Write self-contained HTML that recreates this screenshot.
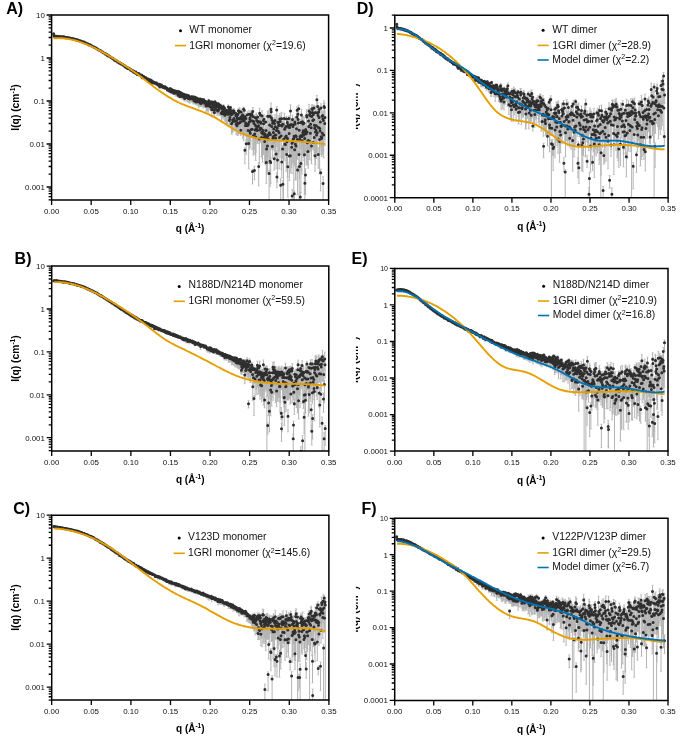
<!DOCTYPE html>
<html><head><meta charset="utf-8"><style>
html,body{margin:0;padding:0;background:#fff;}
svg{will-change:transform;display:block;font-family:"Liberation Sans", sans-serif;}
</style></head><body>
<svg width="685" height="743" viewBox="0 0 685 743">
<rect width="685" height="743" fill="#fff"/>
<defs>
<clipPath id="plotA"><rect x="51.6" y="15.0" width="277.0" height="185.0"/></clipPath>
<clipPath id="plotB"><rect x="51.7" y="266.1" width="277.1" height="184.89999999999998"/></clipPath>
<clipPath id="plotC"><rect x="51.7" y="515.2" width="277.2" height="184.79999999999995"/></clipPath>
<clipPath id="clipD"><rect x="355.9" y="15.2" width="20" height="182.5"/></clipPath>
<clipPath id="plotD"><rect x="394.8" y="15.2" width="273.3" height="182.5"/></clipPath>
<clipPath id="clipE"><rect x="355.9" y="268.4" width="20" height="182.70000000000005"/></clipPath>
<clipPath id="plotE"><rect x="394.8" y="268.4" width="273.2" height="182.70000000000005"/></clipPath>
<clipPath id="clipF"><rect x="355.9" y="518.3" width="20" height="182.10000000000002"/></clipPath>
<clipPath id="plotF"><rect x="394.7" y="518.3" width="273.3" height="182.10000000000002"/></clipPath>
</defs>
<g clip-path="url(#plotA)">
<path d="M162.3 85.7V88.7M165.0 86.2V89.4M171.0 90.5V94.0M172.1 89.4V93.5M173.4 91.0V94.7M173.7 90.3V93.8M174.2 91.5V94.6M175.6 92.4V96.1M176.4 92.0V96.1M177.8 91.9V96.0M178.0 94.5V97.7M180.5 92.2V97.1M181.3 93.0V97.5M181.6 95.5V99.1M182.4 93.8V96.8M182.7 94.0V97.5M183.2 96.5V99.6M183.7 93.5V97.5M184.0 96.1V100.4M184.3 93.7V97.0M184.6 95.1V99.1M184.8 97.9V101.1M186.7 95.1V98.8M187.0 96.6V101.1M187.3 96.0V101.2M187.5 94.7V99.2M187.8 95.6V101.0M188.4 97.9V102.5M188.6 94.7V98.0M189.4 96.1V100.0M189.7 97.9V103.2M190.0 98.3V102.0M191.3 96.0V101.5M191.9 97.1V102.2M192.2 95.8V100.9M192.4 97.7V101.1M192.7 97.4V101.6M193.0 96.8V102.1M193.2 97.6V103.9M193.5 96.9V102.1M194.1 95.9V99.8M194.3 99.2V102.6M194.6 98.5V103.8M194.9 100.6V104.0M195.2 97.5V102.6M195.4 96.6V102.4M195.7 96.8V100.7M196.0 97.4V100.6M196.2 101.4V104.7M196.8 99.8V103.1M197.1 100.7V105.4M197.3 97.5V103.4M197.6 98.6V103.6M197.9 99.4V104.0M198.1 98.7V103.6M198.4 100.7V104.7M198.7 101.0V107.7M199.0 101.0V106.2M199.2 98.7V102.5M199.8 98.4V104.4M200.0 97.8V103.7M200.3 102.2V106.2M200.9 99.5V105.8M201.1 102.3V105.9M201.4 101.2V106.4M201.7 99.0V105.8M201.9 98.4V102.6M202.2 98.6V106.1M202.8 101.0V105.0M203.0 98.6V103.2M203.3 101.7V108.1M203.6 100.4V103.9M203.8 98.8V106.3M204.1 101.5V106.4M204.9 100.6V107.2M205.2 100.4V103.6M205.7 100.6V105.5M206.0 104.7V107.8M206.3 103.7V111.6M206.6 101.7V105.4M206.8 103.3V110.5M207.1 104.8V110.8M207.4 105.0V110.1M207.7 104.1V108.0M207.9 102.7V108.4M208.2 104.2V112.9M208.5 101.5V105.2M208.7 99.4V104.8M209.0 102.6V109.8M209.3 100.4V105.7M209.6 102.6V106.2M209.8 105.2V108.9M210.1 103.6V107.1M210.4 105.5V109.0M210.6 101.7V106.6M210.9 106.1V111.0M211.2 100.5V106.9M211.7 108.0V116.8M212.0 102.6V106.5M212.3 101.5V107.2M212.5 106.0V112.5M212.8 102.5V106.5M213.1 108.4V112.3M213.4 103.5V106.7M213.6 107.9V113.6M213.9 103.9V107.2M214.2 108.9V114.8M214.4 111.0V116.5M214.7 104.0V110.7M215.0 101.1V107.0M215.3 106.9V113.5M215.8 105.1V112.2M216.1 106.5V112.0M216.3 103.7V111.0M216.6 102.2V111.4M216.9 109.3V112.4M217.2 104.4V113.5M217.4 105.2V115.4M217.7 109.4V114.0M218.0 103.3V109.9M218.2 102.6V106.8M218.5 108.9V113.9M218.8 103.0V110.0M219.1 106.9V112.1M219.3 106.8V115.3M219.6 104.3V110.1M219.9 106.6V114.9M220.2 106.4V114.4M220.4 104.2V107.6M220.7 104.9V115.5M221.0 105.4V115.4M221.2 111.6V115.8M221.5 112.1V121.2M221.8 105.2V116.3M222.1 110.2V116.3M222.3 107.8V117.3M222.6 111.5V116.0M222.9 108.4V116.1M223.1 111.7V119.2M223.4 104.6V111.7M223.7 112.3V116.9M224.0 108.7V116.7M224.2 109.4V113.8M224.5 106.5V112.2M224.8 114.2V121.3M225.0 110.0V117.0M225.3 109.7V119.8M225.6 108.8V120.3M225.9 108.8V117.1M226.1 111.5V124.0M226.4 109.7V122.0M226.7 111.5V123.4M226.9 109.5V117.1M227.2 110.2V115.5M227.5 112.7V124.0M227.8 111.1V120.5M228.0 110.3V117.1M228.3 104.9V112.3M228.6 112.3V117.8M228.8 109.9V115.4M229.1 107.4V114.7M229.4 119.1V123.9M229.7 118.2V126.0M229.9 116.1V124.5M230.2 112.8V123.6M230.5 106.1V111.6M230.7 111.2V124.6M231.0 109.4V117.9M231.3 113.6V121.4M231.6 122.5V132.7M231.8 121.7V134.4M232.1 108.9V117.1M232.4 111.3V123.7M232.6 118.7V132.3M232.9 109.4V118.4M233.2 120.2V124.1M233.5 109.3V121.6M233.7 108.5V114.3M234.0 116.5V131.1M234.3 118.6V128.3M234.6 110.8V118.5M234.8 119.3V123.7M235.1 110.5V124.1M235.4 118.6V125.6M235.6 112.0V129.6M235.9 112.6V123.0M236.2 122.6V134.1M236.5 118.0V127.7M236.7 112.3V129.8M237.0 123.6V135.2M237.3 115.0V128.7M237.5 116.3V125.3M237.8 112.6V123.7M238.1 120.6V135.2M238.4 108.8V119.2M238.6 117.2V133.5M238.9 120.2V133.6M239.2 110.5V121.0M239.4 107.7V116.2M239.7 116.9V127.9M240.0 120.5V130.2M240.3 114.6V124.2M240.5 118.4V134.0M240.8 128.0V135.6M241.1 109.1V123.4M241.3 113.0V123.4M241.6 115.7V126.9M241.9 115.0V124.1M242.2 117.3V133.3M242.4 112.0V124.8M242.7 111.9V133.5M243.0 119.3V138.8M243.2 115.2V137.4M243.5 107.0V124.2M243.8 114.5V140.8M244.1 117.4V133.3M244.3 107.3V132.3M244.6 116.4V134.7M244.9 147.7V163.9M245.1 113.1V131.5M245.4 123.4V131.0M245.7 119.0V135.6M246.0 115.8V136.2M246.2 140.0V154.3M246.5 121.8V139.7M246.8 120.9V134.0M247.1 121.2V129.2M247.3 111.6V125.2M247.6 122.5V130.4M247.9 121.1V142.6M248.1 127.4V142.0M248.4 120.3V145.4M248.7 141.0V168.9M249.0 110.3V128.2M249.2 119.0V132.9M249.5 126.7V149.1M249.8 114.4V133.3M250.0 115.7V137.0M250.3 128.6V147.8M250.6 116.6V141.2M250.9 111.2V121.4M251.1 111.7V128.9M251.4 124.9V136.4M251.7 110.2V122.0M251.9 118.2V132.8M252.2 125.2V149.9M252.5 169.3V184.0M252.8 107.4V121.6M253.0 114.0V125.2M253.3 132.9V155.3M253.6 119.6V130.2M253.8 120.0V153.5M254.1 119.6V135.3M254.4 166.2V179.8M254.7 130.5V149.0M254.9 114.6V123.3M255.2 127.7V154.4M255.5 122.2V143.6M255.7 132.4V160.5M256.0 123.2V152.2M256.3 113.0V134.2M256.6 118.1V141.4M256.8 125.8V137.7M257.1 127.3V141.5M257.4 122.7V143.7M257.6 114.9V130.9M257.9 119.8V132.3M258.2 116.5V137.4M258.5 120.0V136.1M258.7 162.6V185.9M259.0 116.7V143.4M259.3 134.3V163.9M259.6 108.2V123.4M259.8 126.4V138.6M260.1 122.6V142.8M260.4 112.3V128.8M260.6 118.8V132.3M260.9 118.5V141.5M261.2 125.5V134.9M261.5 132.0V156.5M261.7 127.4V156.9M262.0 110.6V136.2M262.3 126.1V158.5M262.5 128.5V162.1M262.8 131.0V143.0M263.1 126.9V153.1M263.4 118.2V154.8M263.6 120.0V143.2M263.9 114.4V134.5M264.2 132.4V150.8M264.4 128.4V145.0M264.7 138.2V163.8M265.0 129.2V148.6M265.3 129.7V152.7M265.5 134.5V164.7M265.8 115.8V143.6M266.1 125.4V161.0M266.3 157.2V183.4M266.6 144.0V174.2M266.9 134.0V146.5M267.2 131.8V168.2M267.4 140.5V172.6M267.7 111.0V136.3M268.0 132.4V163.3M268.2 134.5V156.9M268.5 128.9V143.3M268.8 110.3V132.1M269.1 170.0V200.0M269.3 127.8V160.9M269.6 122.3V139.5M269.9 112.9V137.6M270.1 157.1V186.4M270.4 132.0V163.9M270.7 158.5V183.5M271.0 103.0V137.8M271.2 108.0V144.6M271.5 115.0V136.0M271.8 123.5V149.3M272.1 115.4V135.9M272.3 142.2V158.3M272.6 117.9V138.0M272.9 134.6V149.8M273.1 132.0V149.8M273.4 128.2V144.8M273.7 125.1V145.8M274.0 118.7V136.3M274.2 155.0V170.3M274.5 117.7V143.2M274.8 131.1V151.6M275.0 114.6V154.2M275.3 124.2V139.7M275.6 132.5V151.7M275.9 128.9V158.4M276.1 150.4V168.7M276.4 126.4V139.8M276.7 106.4V146.7M276.9 172.6V187.7M277.2 121.2V139.9M277.5 154.2V181.9M277.8 119.3V156.7M278.0 115.6V140.6M278.3 125.7V153.7M278.6 119.3V136.0M278.8 118.3V141.0M279.1 126.1V168.9M279.4 131.6V151.1M279.7 121.5V134.0M279.9 113.3V139.6M280.2 116.0V140.6M280.7 178.7V200.0M281.0 133.5V157.4M281.3 131.2V169.4M281.6 112.3V134.0M281.8 157.0V177.5M282.1 121.8V135.3M282.4 121.6V132.6M282.6 145.5V158.5M282.9 180.5V200.0M283.2 117.3V139.5M283.5 134.2V200.0M284.0 132.5V150.5M284.3 113.2V149.7M284.6 125.4V149.7M284.8 138.8V160.6M285.1 125.5V136.8M285.4 139.5V154.5M285.6 132.1V147.3M285.9 123.8V136.8M286.2 130.6V171.3M286.5 116.3V130.2M286.7 151.1V164.0M287.0 135.9V167.3M287.3 118.3V137.2M287.5 132.7V176.8M287.8 161.9V197.2M288.1 120.4V149.3M288.4 121.0V141.4M288.6 124.7V138.4M288.9 115.9V141.1M289.2 126.7V152.3M289.4 150.4V180.5M289.7 124.3V149.6M290.0 119.3V140.1M290.3 149.2V172.8M290.5 104.8V129.8M291.1 119.9V156.7M291.3 119.3V136.5M291.6 143.9V167.4M291.9 138.8V173.6M292.2 189.6V200.0M292.4 115.2V148.1M292.7 138.2V162.0M293.0 121.6V136.5M293.2 132.9V164.0M293.5 118.3V132.3M293.8 131.5V200.0M294.1 129.3V150.6M294.3 190.8V200.0M294.6 145.2V165.8M294.9 117.0V142.8M295.1 118.5V135.0M295.4 141.2V180.2M295.7 131.6V147.4M296.0 141.9V179.4M296.2 131.2V168.3M296.5 124.6V163.8M296.8 113.0V129.1M297.1 106.9V136.1M297.3 133.9V159.4M297.6 166.1V195.0M297.9 110.9V139.0M298.1 112.9V155.6M298.4 118.7V142.0M298.7 105.0V123.3M299.0 151.5V172.4M299.2 125.4V200.0M299.5 162.5V177.9M299.8 134.1V148.2M300.0 132.7V152.4M300.3 192.4V200.0M300.6 119.5V136.0M300.9 160.8V192.6M301.1 128.9V170.6M301.4 109.3V133.5M301.7 131.6V148.3M301.9 133.0V174.1M302.2 135.3V154.6M302.5 116.5V145.7M302.8 127.3V143.5M303.0 117.0V137.1M303.3 126.6V157.1M303.6 127.3V153.3M303.8 130.8V145.2M304.1 116.4V160.4M304.4 147.9V194.3M304.7 134.1V165.0M304.9 178.5V200.0M305.2 125.6V151.2M305.5 168.6V194.3M305.7 126.5V137.4M306.0 126.4V153.3M306.3 130.8V163.8M306.6 109.3V137.1M306.8 113.4V140.2M307.1 127.9V165.4M307.4 138.8V156.4M307.6 135.5V152.6M307.9 147.5V164.8M308.2 136.1V168.2M308.5 114.5V134.2M308.7 121.9V150.5M309.0 104.3V123.3M309.3 134.4V159.5M309.5 110.2V134.6M309.8 108.5V148.7M310.1 108.6V152.0M310.4 128.3V150.8M310.6 120.1V148.8M310.9 110.0V124.4M311.2 123.1V160.3M311.5 143.2V163.9M311.7 111.3V149.0M312.0 104.5V122.1M312.3 105.8V131.6M312.5 108.9V127.2M312.8 114.7V134.4M313.1 135.8V150.0M313.4 111.9V133.1M313.6 114.8V148.2M313.9 105.1V135.0M314.2 134.9V152.3M314.4 118.2V154.9M314.7 124.3V159.0M315.0 150.9V171.3M315.3 105.9V125.4M315.5 126.7V164.5M315.8 122.0V156.2M316.1 124.7V158.1M316.3 119.7V158.6M316.6 129.7V150.3M316.9 95.4V120.4M317.2 126.8V152.1M317.4 108.9V127.9M317.7 102.3V122.2M318.0 111.7V139.5M318.2 147.7V168.2M318.5 124.6V141.1M318.8 109.3V136.2M319.1 113.6V132.5M319.3 106.2V126.8M319.6 135.5V174.0M319.9 121.7V154.3M320.1 124.2V147.0M320.4 118.6V133.6M320.7 169.0V191.0M321.0 103.7V138.1M321.2 130.0V150.6M321.5 134.9V154.1M321.8 131.8V156.5M322.0 110.9V130.5M322.3 126.8V154.8M322.6 111.6V142.6M322.9 112.4V151.9M323.1 176.5V200.0M323.4 116.1V149.3M323.7 128.3V157.9M324.0 100.7V122.9M324.2 103.2V132.3M324.5 103.1V126.2M324.8 119.9V139.4M325.0 110.8V145.7" stroke="#b4b4b4" stroke-width="1.0" fill="none"/>
<path d="M161.2 85.7h2.2M161.2 88.7h2.2M163.9 86.2h2.2M163.9 89.4h2.2M169.9 90.5h2.2M169.9 94.0h2.2M171.0 89.4h2.2M171.0 93.5h2.2M172.3 91.0h2.2M172.3 94.7h2.2M172.6 90.3h2.2M172.6 93.8h2.2M173.1 91.5h2.2M173.1 94.6h2.2M174.5 92.4h2.2M174.5 96.1h2.2M175.3 92.0h2.2M175.3 96.1h2.2M176.7 91.9h2.2M176.7 96.0h2.2M176.9 94.5h2.2M176.9 97.7h2.2M179.4 92.2h2.2M179.4 97.1h2.2M180.2 93.0h2.2M180.2 97.5h2.2M180.5 95.5h2.2M180.5 99.1h2.2M181.3 93.8h2.2M181.3 96.8h2.2M181.6 94.0h2.2M181.6 97.5h2.2M182.1 96.5h2.2M182.1 99.6h2.2M182.6 93.5h2.2M182.6 97.5h2.2M182.9 96.1h2.2M182.9 100.4h2.2M183.2 93.7h2.2M183.2 97.0h2.2M183.5 95.1h2.2M183.5 99.1h2.2M183.7 97.9h2.2M183.7 101.1h2.2M185.6 95.1h2.2M185.6 98.8h2.2M185.9 96.6h2.2M185.9 101.1h2.2M186.2 96.0h2.2M186.2 101.2h2.2M186.4 94.7h2.2M186.4 99.2h2.2M186.7 95.6h2.2M186.7 101.0h2.2M187.3 97.9h2.2M187.3 102.5h2.2M187.5 94.7h2.2M187.5 98.0h2.2M188.3 96.1h2.2M188.3 100.0h2.2M188.6 97.9h2.2M188.6 103.2h2.2M188.9 98.3h2.2M188.9 102.0h2.2M190.2 96.0h2.2M190.2 101.5h2.2M190.8 97.1h2.2M190.8 102.2h2.2M191.1 95.8h2.2M191.1 100.9h2.2M191.3 97.7h2.2M191.3 101.1h2.2M191.6 97.4h2.2M191.6 101.6h2.2M191.9 96.8h2.2M191.9 102.1h2.2M192.1 97.6h2.2M192.1 103.9h2.2M192.4 96.9h2.2M192.4 102.1h2.2M193.0 95.9h2.2M193.0 99.8h2.2M193.2 99.2h2.2M193.2 102.6h2.2M193.5 98.5h2.2M193.5 103.8h2.2M193.8 100.6h2.2M193.8 104.0h2.2M194.1 97.5h2.2M194.1 102.6h2.2M194.3 96.6h2.2M194.3 102.4h2.2M194.6 96.8h2.2M194.6 100.7h2.2M194.9 97.4h2.2M194.9 100.6h2.2M195.1 101.4h2.2M195.1 104.7h2.2M195.7 99.8h2.2M195.7 103.1h2.2M196.0 100.7h2.2M196.0 105.4h2.2M196.2 97.5h2.2M196.2 103.4h2.2M196.5 98.6h2.2M196.5 103.6h2.2M196.8 99.4h2.2M196.8 104.0h2.2M197.0 98.7h2.2M197.0 103.6h2.2M197.3 100.7h2.2M197.3 104.7h2.2M197.6 101.0h2.2M197.6 107.7h2.2M197.9 101.0h2.2M197.9 106.2h2.2M198.1 98.7h2.2M198.1 102.5h2.2M198.7 98.4h2.2M198.7 104.4h2.2M198.9 97.8h2.2M198.9 103.7h2.2M199.2 102.2h2.2M199.2 106.2h2.2M199.8 99.5h2.2M199.8 105.8h2.2M200.0 102.3h2.2M200.0 105.9h2.2M200.3 101.2h2.2M200.3 106.4h2.2M200.6 99.0h2.2M200.6 105.8h2.2M200.8 98.4h2.2M200.8 102.6h2.2M201.1 98.6h2.2M201.1 106.1h2.2M201.7 101.0h2.2M201.7 105.0h2.2M201.9 98.6h2.2M201.9 103.2h2.2M202.2 101.7h2.2M202.2 108.1h2.2M202.5 100.4h2.2M202.5 103.9h2.2M202.7 98.8h2.2M202.7 106.3h2.2M203.0 101.5h2.2M203.0 106.4h2.2M203.8 100.6h2.2M203.8 107.2h2.2M204.1 100.4h2.2M204.1 103.6h2.2M204.6 100.6h2.2M204.6 105.5h2.2M204.9 104.7h2.2M204.9 107.8h2.2M205.2 103.7h2.2M205.2 111.6h2.2M205.5 101.7h2.2M205.5 105.4h2.2M205.7 103.3h2.2M205.7 110.5h2.2M206.0 104.8h2.2M206.0 110.8h2.2M206.3 105.0h2.2M206.3 110.1h2.2M206.6 104.1h2.2M206.6 108.0h2.2M206.8 102.7h2.2M206.8 108.4h2.2M207.1 104.2h2.2M207.1 112.9h2.2M207.4 101.5h2.2M207.4 105.2h2.2M207.6 99.4h2.2M207.6 104.8h2.2M207.9 102.6h2.2M207.9 109.8h2.2M208.2 100.4h2.2M208.2 105.7h2.2M208.5 102.6h2.2M208.5 106.2h2.2M208.7 105.2h2.2M208.7 108.9h2.2M209.0 103.6h2.2M209.0 107.1h2.2M209.3 105.5h2.2M209.3 109.0h2.2M209.5 101.7h2.2M209.5 106.6h2.2M209.8 106.1h2.2M209.8 111.0h2.2M210.1 100.5h2.2M210.1 106.9h2.2M210.6 108.0h2.2M210.6 116.8h2.2M210.9 102.6h2.2M210.9 106.5h2.2M211.2 101.5h2.2M211.2 107.2h2.2M211.4 106.0h2.2M211.4 112.5h2.2M211.7 102.5h2.2M211.7 106.5h2.2M212.0 108.4h2.2M212.0 112.3h2.2M212.3 103.5h2.2M212.3 106.7h2.2M212.5 107.9h2.2M212.5 113.6h2.2M212.8 103.9h2.2M212.8 107.2h2.2M213.1 108.9h2.2M213.1 114.8h2.2M213.3 111.0h2.2M213.3 116.5h2.2M213.6 104.0h2.2M213.6 110.7h2.2M213.9 101.1h2.2M213.9 107.0h2.2M214.2 106.9h2.2M214.2 113.5h2.2M214.7 105.1h2.2M214.7 112.2h2.2M215.0 106.5h2.2M215.0 112.0h2.2M215.2 103.7h2.2M215.2 111.0h2.2M215.5 102.2h2.2M215.5 111.4h2.2M215.8 109.3h2.2M215.8 112.4h2.2M216.1 104.4h2.2M216.1 113.5h2.2M216.3 105.2h2.2M216.3 115.4h2.2M216.6 109.4h2.2M216.6 114.0h2.2M216.9 103.3h2.2M216.9 109.9h2.2M217.1 102.6h2.2M217.1 106.8h2.2M217.4 108.9h2.2M217.4 113.9h2.2M217.7 103.0h2.2M217.7 110.0h2.2M218.0 106.9h2.2M218.0 112.1h2.2M218.2 106.8h2.2M218.2 115.3h2.2M218.5 104.3h2.2M218.5 110.1h2.2M218.8 106.6h2.2M218.8 114.9h2.2M219.1 106.4h2.2M219.1 114.4h2.2M219.3 104.2h2.2M219.3 107.6h2.2M219.6 104.9h2.2M219.6 115.5h2.2M219.9 105.4h2.2M219.9 115.4h2.2M220.1 111.6h2.2M220.1 115.8h2.2M220.4 112.1h2.2M220.4 121.2h2.2M220.7 105.2h2.2M220.7 116.3h2.2M221.0 110.2h2.2M221.0 116.3h2.2M221.2 107.8h2.2M221.2 117.3h2.2M221.5 111.5h2.2M221.5 116.0h2.2M221.8 108.4h2.2M221.8 116.1h2.2M222.0 111.7h2.2M222.0 119.2h2.2M222.3 104.6h2.2M222.3 111.7h2.2M222.6 112.3h2.2M222.6 116.9h2.2M222.9 108.7h2.2M222.9 116.7h2.2M223.1 109.4h2.2M223.1 113.8h2.2M223.4 106.5h2.2M223.4 112.2h2.2M223.7 114.2h2.2M223.7 121.3h2.2M223.9 110.0h2.2M223.9 117.0h2.2M224.2 109.7h2.2M224.2 119.8h2.2M224.5 108.8h2.2M224.5 120.3h2.2M224.8 108.8h2.2M224.8 117.1h2.2M225.0 111.5h2.2M225.0 124.0h2.2M225.3 109.7h2.2M225.3 122.0h2.2M225.6 111.5h2.2M225.6 123.4h2.2M225.8 109.5h2.2M225.8 117.1h2.2M226.1 110.2h2.2M226.1 115.5h2.2M226.4 112.7h2.2M226.4 124.0h2.2M226.7 111.1h2.2M226.7 120.5h2.2M226.9 110.3h2.2M226.9 117.1h2.2M227.2 104.9h2.2M227.2 112.3h2.2M227.5 112.3h2.2M227.5 117.8h2.2M227.7 109.9h2.2M227.7 115.4h2.2M228.0 107.4h2.2M228.0 114.7h2.2M228.3 119.1h2.2M228.3 123.9h2.2M228.6 118.2h2.2M228.6 126.0h2.2M228.8 116.1h2.2M228.8 124.5h2.2M229.1 112.8h2.2M229.1 123.6h2.2M229.4 106.1h2.2M229.4 111.6h2.2M229.6 111.2h2.2M229.6 124.6h2.2M229.9 109.4h2.2M229.9 117.9h2.2M230.2 113.6h2.2M230.2 121.4h2.2M230.5 122.5h2.2M230.5 132.7h2.2M230.7 121.7h2.2M230.7 134.4h2.2M231.0 108.9h2.2M231.0 117.1h2.2M231.3 111.3h2.2M231.3 123.7h2.2M231.5 118.7h2.2M231.5 132.3h2.2M231.8 109.4h2.2M231.8 118.4h2.2M232.1 120.2h2.2M232.1 124.1h2.2M232.4 109.3h2.2M232.4 121.6h2.2M232.6 108.5h2.2M232.6 114.3h2.2M232.9 116.5h2.2M232.9 131.1h2.2M233.2 118.6h2.2M233.2 128.3h2.2M233.5 110.8h2.2M233.5 118.5h2.2M233.7 119.3h2.2M233.7 123.7h2.2M234.0 110.5h2.2M234.0 124.1h2.2M234.3 118.6h2.2M234.3 125.6h2.2M234.5 112.0h2.2M234.5 129.6h2.2M234.8 112.6h2.2M234.8 123.0h2.2M235.1 122.6h2.2M235.1 134.1h2.2M235.4 118.0h2.2M235.4 127.7h2.2M235.6 112.3h2.2M235.6 129.8h2.2M235.9 123.6h2.2M235.9 135.2h2.2M236.2 115.0h2.2M236.2 128.7h2.2M236.4 116.3h2.2M236.4 125.3h2.2M236.7 112.6h2.2M236.7 123.7h2.2M237.0 120.6h2.2M237.0 135.2h2.2M237.3 108.8h2.2M237.3 119.2h2.2M237.5 117.2h2.2M237.5 133.5h2.2M237.8 120.2h2.2M237.8 133.6h2.2M238.1 110.5h2.2M238.1 121.0h2.2M238.3 107.7h2.2M238.3 116.2h2.2M238.6 116.9h2.2M238.6 127.9h2.2M238.9 120.5h2.2M238.9 130.2h2.2M239.2 114.6h2.2M239.2 124.2h2.2M239.4 118.4h2.2M239.4 134.0h2.2M239.7 128.0h2.2M239.7 135.6h2.2M240.0 109.1h2.2M240.0 123.4h2.2M240.2 113.0h2.2M240.2 123.4h2.2M240.5 115.7h2.2M240.5 126.9h2.2M240.8 115.0h2.2M240.8 124.1h2.2M241.1 117.3h2.2M241.1 133.3h2.2M241.3 112.0h2.2M241.3 124.8h2.2M241.6 111.9h2.2M241.6 133.5h2.2M241.9 119.3h2.2M241.9 138.8h2.2M242.1 115.2h2.2M242.1 137.4h2.2M242.4 107.0h2.2M242.4 124.2h2.2M242.7 114.5h2.2M242.7 140.8h2.2M243.0 117.4h2.2M243.0 133.3h2.2M243.2 107.3h2.2M243.2 132.3h2.2M243.5 116.4h2.2M243.5 134.7h2.2M243.8 147.7h2.2M243.8 163.9h2.2M244.0 113.1h2.2M244.0 131.5h2.2M244.3 123.4h2.2M244.3 131.0h2.2M244.6 119.0h2.2M244.6 135.6h2.2M244.9 115.8h2.2M244.9 136.2h2.2M245.1 140.0h2.2M245.1 154.3h2.2M245.4 121.8h2.2M245.4 139.7h2.2M245.7 120.9h2.2M245.7 134.0h2.2M246.0 121.2h2.2M246.0 129.2h2.2M246.2 111.6h2.2M246.2 125.2h2.2M246.5 122.5h2.2M246.5 130.4h2.2M246.8 121.1h2.2M246.8 142.6h2.2M247.0 127.4h2.2M247.0 142.0h2.2M247.3 120.3h2.2M247.3 145.4h2.2M247.6 141.0h2.2M247.6 168.9h2.2M247.9 110.3h2.2M247.9 128.2h2.2M248.1 119.0h2.2M248.1 132.9h2.2M248.4 126.7h2.2M248.4 149.1h2.2M248.7 114.4h2.2M248.7 133.3h2.2M248.9 115.7h2.2M248.9 137.0h2.2M249.2 128.6h2.2M249.2 147.8h2.2M249.5 116.6h2.2M249.5 141.2h2.2M249.8 111.2h2.2M249.8 121.4h2.2M250.0 111.7h2.2M250.0 128.9h2.2M250.3 124.9h2.2M250.3 136.4h2.2M250.6 110.2h2.2M250.6 122.0h2.2M250.8 118.2h2.2M250.8 132.8h2.2M251.1 125.2h2.2M251.1 149.9h2.2M251.4 169.3h2.2M251.4 184.0h2.2M251.7 107.4h2.2M251.7 121.6h2.2M251.9 114.0h2.2M251.9 125.2h2.2M252.2 132.9h2.2M252.2 155.3h2.2M252.5 119.6h2.2M252.5 130.2h2.2M252.7 120.0h2.2M252.7 153.5h2.2M253.0 119.6h2.2M253.0 135.3h2.2M253.3 166.2h2.2M253.3 179.8h2.2M253.6 130.5h2.2M253.6 149.0h2.2M253.8 114.6h2.2M253.8 123.3h2.2M254.1 127.7h2.2M254.1 154.4h2.2M254.4 122.2h2.2M254.4 143.6h2.2M254.6 132.4h2.2M254.6 160.5h2.2M254.9 123.2h2.2M254.9 152.2h2.2M255.2 113.0h2.2M255.2 134.2h2.2M255.5 118.1h2.2M255.5 141.4h2.2M255.7 125.8h2.2M255.7 137.7h2.2M256.0 127.3h2.2M256.0 141.5h2.2M256.3 122.7h2.2M256.3 143.7h2.2M256.5 114.9h2.2M256.5 130.9h2.2M256.8 119.8h2.2M256.8 132.3h2.2M257.1 116.5h2.2M257.1 137.4h2.2M257.4 120.0h2.2M257.4 136.1h2.2M257.6 162.6h2.2M257.6 185.9h2.2M257.9 116.7h2.2M257.9 143.4h2.2M258.2 134.3h2.2M258.2 163.9h2.2M258.5 108.2h2.2M258.5 123.4h2.2M258.7 126.4h2.2M258.7 138.6h2.2M259.0 122.6h2.2M259.0 142.8h2.2M259.3 112.3h2.2M259.3 128.8h2.2M259.5 118.8h2.2M259.5 132.3h2.2M259.8 118.5h2.2M259.8 141.5h2.2M260.1 125.5h2.2M260.1 134.9h2.2M260.4 132.0h2.2M260.4 156.5h2.2M260.6 127.4h2.2M260.6 156.9h2.2M260.9 110.6h2.2M260.9 136.2h2.2M261.2 126.1h2.2M261.2 158.5h2.2M261.4 128.5h2.2M261.4 162.1h2.2M261.7 131.0h2.2M261.7 143.0h2.2M262.0 126.9h2.2M262.0 153.1h2.2M262.3 118.2h2.2M262.3 154.8h2.2M262.5 120.0h2.2M262.5 143.2h2.2M262.8 114.4h2.2M262.8 134.5h2.2M263.1 132.4h2.2M263.1 150.8h2.2M263.3 128.4h2.2M263.3 145.0h2.2M263.6 138.2h2.2M263.6 163.8h2.2M263.9 129.2h2.2M263.9 148.6h2.2M264.2 129.7h2.2M264.2 152.7h2.2M264.4 134.5h2.2M264.4 164.7h2.2M264.7 115.8h2.2M264.7 143.6h2.2M265.0 125.4h2.2M265.0 161.0h2.2M265.2 157.2h2.2M265.2 183.4h2.2M265.5 144.0h2.2M265.5 174.2h2.2M265.8 134.0h2.2M265.8 146.5h2.2M266.1 131.8h2.2M266.1 168.2h2.2M266.3 140.5h2.2M266.3 172.6h2.2M266.6 111.0h2.2M266.6 136.3h2.2M266.9 132.4h2.2M266.9 163.3h2.2M267.1 134.5h2.2M267.1 156.9h2.2M267.4 128.9h2.2M267.4 143.3h2.2M267.7 110.3h2.2M267.7 132.1h2.2M268.0 170.0h2.2M268.2 127.8h2.2M268.2 160.9h2.2M268.5 122.3h2.2M268.5 139.5h2.2M268.8 112.9h2.2M268.8 137.6h2.2M269.0 157.1h2.2M269.0 186.4h2.2M269.3 132.0h2.2M269.3 163.9h2.2M269.6 158.5h2.2M269.6 183.5h2.2M269.9 103.0h2.2M269.9 137.8h2.2M270.1 108.0h2.2M270.1 144.6h2.2M270.4 115.0h2.2M270.4 136.0h2.2M270.7 123.5h2.2M270.7 149.3h2.2M271.0 115.4h2.2M271.0 135.9h2.2M271.2 142.2h2.2M271.2 158.3h2.2M271.5 117.9h2.2M271.5 138.0h2.2M271.8 134.6h2.2M271.8 149.8h2.2M272.0 132.0h2.2M272.0 149.8h2.2M272.3 128.2h2.2M272.3 144.8h2.2M272.6 125.1h2.2M272.6 145.8h2.2M272.9 118.7h2.2M272.9 136.3h2.2M273.1 155.0h2.2M273.1 170.3h2.2M273.4 117.7h2.2M273.4 143.2h2.2M273.7 131.1h2.2M273.7 151.6h2.2M273.9 114.6h2.2M273.9 154.2h2.2M274.2 124.2h2.2M274.2 139.7h2.2M274.5 132.5h2.2M274.5 151.7h2.2M274.8 128.9h2.2M274.8 158.4h2.2M275.0 150.4h2.2M275.0 168.7h2.2M275.3 126.4h2.2M275.3 139.8h2.2M275.6 106.4h2.2M275.6 146.7h2.2M275.8 172.6h2.2M275.8 187.7h2.2M276.1 121.2h2.2M276.1 139.9h2.2M276.4 154.2h2.2M276.4 181.9h2.2M276.7 119.3h2.2M276.7 156.7h2.2M276.9 115.6h2.2M276.9 140.6h2.2M277.2 125.7h2.2M277.2 153.7h2.2M277.5 119.3h2.2M277.5 136.0h2.2M277.7 118.3h2.2M277.7 141.0h2.2M278.0 126.1h2.2M278.0 168.9h2.2M278.3 131.6h2.2M278.3 151.1h2.2M278.6 121.5h2.2M278.6 134.0h2.2M278.8 113.3h2.2M278.8 139.6h2.2M279.1 116.0h2.2M279.1 140.6h2.2M279.6 178.7h2.2M279.9 133.5h2.2M279.9 157.4h2.2M280.2 131.2h2.2M280.2 169.4h2.2M280.5 112.3h2.2M280.5 134.0h2.2M280.7 157.0h2.2M280.7 177.5h2.2M281.0 121.8h2.2M281.0 135.3h2.2M281.3 121.6h2.2M281.3 132.6h2.2M281.5 145.5h2.2M281.5 158.5h2.2M281.8 180.5h2.2M282.1 117.3h2.2M282.1 139.5h2.2M282.4 134.2h2.2M282.9 132.5h2.2M282.9 150.5h2.2M283.2 113.2h2.2M283.2 149.7h2.2M283.5 125.4h2.2M283.5 149.7h2.2M283.7 138.8h2.2M283.7 160.6h2.2M284.0 125.5h2.2M284.0 136.8h2.2M284.3 139.5h2.2M284.3 154.5h2.2M284.5 132.1h2.2M284.5 147.3h2.2M284.8 123.8h2.2M284.8 136.8h2.2M285.1 130.6h2.2M285.1 171.3h2.2M285.4 116.3h2.2M285.4 130.2h2.2M285.6 151.1h2.2M285.6 164.0h2.2M285.9 135.9h2.2M285.9 167.3h2.2M286.2 118.3h2.2M286.2 137.2h2.2M286.4 132.7h2.2M286.4 176.8h2.2M286.7 161.9h2.2M286.7 197.2h2.2M287.0 120.4h2.2M287.0 149.3h2.2M287.3 121.0h2.2M287.3 141.4h2.2M287.5 124.7h2.2M287.5 138.4h2.2M287.8 115.9h2.2M287.8 141.1h2.2M288.1 126.7h2.2M288.1 152.3h2.2M288.3 150.4h2.2M288.3 180.5h2.2M288.6 124.3h2.2M288.6 149.6h2.2M288.9 119.3h2.2M288.9 140.1h2.2M289.2 149.2h2.2M289.2 172.8h2.2M289.4 104.8h2.2M289.4 129.8h2.2M290.0 119.9h2.2M290.0 156.7h2.2M290.2 119.3h2.2M290.2 136.5h2.2M290.5 143.9h2.2M290.5 167.4h2.2M290.8 138.8h2.2M290.8 173.6h2.2M291.1 189.6h2.2M291.3 115.2h2.2M291.3 148.1h2.2M291.6 138.2h2.2M291.6 162.0h2.2M291.9 121.6h2.2M291.9 136.5h2.2M292.1 132.9h2.2M292.1 164.0h2.2M292.4 118.3h2.2M292.4 132.3h2.2M292.7 131.5h2.2M293.0 129.3h2.2M293.0 150.6h2.2M293.2 190.8h2.2M293.5 145.2h2.2M293.5 165.8h2.2M293.8 117.0h2.2M293.8 142.8h2.2M294.0 118.5h2.2M294.0 135.0h2.2M294.3 141.2h2.2M294.3 180.2h2.2M294.6 131.6h2.2M294.6 147.4h2.2M294.9 141.9h2.2M294.9 179.4h2.2M295.1 131.2h2.2M295.1 168.3h2.2M295.4 124.6h2.2M295.4 163.8h2.2M295.7 113.0h2.2M295.7 129.1h2.2M296.0 106.9h2.2M296.0 136.1h2.2M296.2 133.9h2.2M296.2 159.4h2.2M296.5 166.1h2.2M296.5 195.0h2.2M296.8 110.9h2.2M296.8 139.0h2.2M297.0 112.9h2.2M297.0 155.6h2.2M297.3 118.7h2.2M297.3 142.0h2.2M297.6 105.0h2.2M297.6 123.3h2.2M297.9 151.5h2.2M297.9 172.4h2.2M298.1 125.4h2.2M298.4 162.5h2.2M298.4 177.9h2.2M298.7 134.1h2.2M298.7 148.2h2.2M298.9 132.7h2.2M298.9 152.4h2.2M299.2 192.4h2.2M299.5 119.5h2.2M299.5 136.0h2.2M299.8 160.8h2.2M299.8 192.6h2.2M300.0 128.9h2.2M300.0 170.6h2.2M300.3 109.3h2.2M300.3 133.5h2.2M300.6 131.6h2.2M300.6 148.3h2.2M300.8 133.0h2.2M300.8 174.1h2.2M301.1 135.3h2.2M301.1 154.6h2.2M301.4 116.5h2.2M301.4 145.7h2.2M301.7 127.3h2.2M301.7 143.5h2.2M301.9 117.0h2.2M301.9 137.1h2.2M302.2 126.6h2.2M302.2 157.1h2.2M302.5 127.3h2.2M302.5 153.3h2.2M302.7 130.8h2.2M302.7 145.2h2.2M303.0 116.4h2.2M303.0 160.4h2.2M303.3 147.9h2.2M303.3 194.3h2.2M303.6 134.1h2.2M303.6 165.0h2.2M303.8 178.5h2.2M304.1 125.6h2.2M304.1 151.2h2.2M304.4 168.6h2.2M304.4 194.3h2.2M304.6 126.5h2.2M304.6 137.4h2.2M304.9 126.4h2.2M304.9 153.3h2.2M305.2 130.8h2.2M305.2 163.8h2.2M305.5 109.3h2.2M305.5 137.1h2.2M305.7 113.4h2.2M305.7 140.2h2.2M306.0 127.9h2.2M306.0 165.4h2.2M306.3 138.8h2.2M306.3 156.4h2.2M306.5 135.5h2.2M306.5 152.6h2.2M306.8 147.5h2.2M306.8 164.8h2.2M307.1 136.1h2.2M307.1 168.2h2.2M307.4 114.5h2.2M307.4 134.2h2.2M307.6 121.9h2.2M307.6 150.5h2.2M307.9 104.3h2.2M307.9 123.3h2.2M308.2 134.4h2.2M308.2 159.5h2.2M308.4 110.2h2.2M308.4 134.6h2.2M308.7 108.5h2.2M308.7 148.7h2.2M309.0 108.6h2.2M309.0 152.0h2.2M309.3 128.3h2.2M309.3 150.8h2.2M309.5 120.1h2.2M309.5 148.8h2.2M309.8 110.0h2.2M309.8 124.4h2.2M310.1 123.1h2.2M310.1 160.3h2.2M310.4 143.2h2.2M310.4 163.9h2.2M310.6 111.3h2.2M310.6 149.0h2.2M310.9 104.5h2.2M310.9 122.1h2.2M311.2 105.8h2.2M311.2 131.6h2.2M311.4 108.9h2.2M311.4 127.2h2.2M311.7 114.7h2.2M311.7 134.4h2.2M312.0 135.8h2.2M312.0 150.0h2.2M312.3 111.9h2.2M312.3 133.1h2.2M312.5 114.8h2.2M312.5 148.2h2.2M312.8 105.1h2.2M312.8 135.0h2.2M313.1 134.9h2.2M313.1 152.3h2.2M313.3 118.2h2.2M313.3 154.9h2.2M313.6 124.3h2.2M313.6 159.0h2.2M313.9 150.9h2.2M313.9 171.3h2.2M314.2 105.9h2.2M314.2 125.4h2.2M314.4 126.7h2.2M314.4 164.5h2.2M314.7 122.0h2.2M314.7 156.2h2.2M315.0 124.7h2.2M315.0 158.1h2.2M315.2 119.7h2.2M315.2 158.6h2.2M315.5 129.7h2.2M315.5 150.3h2.2M315.8 95.4h2.2M315.8 120.4h2.2M316.1 126.8h2.2M316.1 152.1h2.2M316.3 108.9h2.2M316.3 127.9h2.2M316.6 102.3h2.2M316.6 122.2h2.2M316.9 111.7h2.2M316.9 139.5h2.2M317.1 147.7h2.2M317.1 168.2h2.2M317.4 124.6h2.2M317.4 141.1h2.2M317.7 109.3h2.2M317.7 136.2h2.2M318.0 113.6h2.2M318.0 132.5h2.2M318.2 106.2h2.2M318.2 126.8h2.2M318.5 135.5h2.2M318.5 174.0h2.2M318.8 121.7h2.2M318.8 154.3h2.2M319.0 124.2h2.2M319.0 147.0h2.2M319.3 118.6h2.2M319.3 133.6h2.2M319.6 169.0h2.2M319.6 191.0h2.2M319.9 103.7h2.2M319.9 138.1h2.2M320.1 130.0h2.2M320.1 150.6h2.2M320.4 134.9h2.2M320.4 154.1h2.2M320.7 131.8h2.2M320.7 156.5h2.2M320.9 110.9h2.2M320.9 130.5h2.2M321.2 126.8h2.2M321.2 154.8h2.2M321.5 111.6h2.2M321.5 142.6h2.2M321.8 112.4h2.2M321.8 151.9h2.2M322.0 176.5h2.2M322.3 116.1h2.2M322.3 149.3h2.2M322.6 128.3h2.2M322.6 157.9h2.2M322.9 100.7h2.2M322.9 122.9h2.2M323.1 103.2h2.2M323.1 132.3h2.2M323.4 103.1h2.2M323.4 126.2h2.2M323.7 119.9h2.2M323.7 139.4h2.2M323.9 110.8h2.2M323.9 145.7h2.2" stroke="#b4b4b4" stroke-width="0.6" fill="none"/>
<path d="M53.6 33.7h0M53.9 35.1h0M54.1 36.2h0M54.4 36.4h0M54.7 36.3h0M54.9 36.4h0M55.2 36.3h0M55.5 36.4h0M55.8 36.3h0M56.0 36.6h0M56.3 36.3h0M56.6 36.4h0M56.8 36.4h0M57.1 36.5h0M57.4 36.5h0M57.7 36.5h0M57.9 36.5h0M58.2 36.6h0M58.5 36.6h0M58.7 36.6h0M59.0 36.7h0M59.3 36.9h0M59.6 36.7h0M59.8 36.8h0M60.1 37.0h0M60.4 36.9h0M60.6 36.9h0M60.9 37.0h0M61.2 37.0h0M61.5 36.9h0M61.7 36.8h0M62.0 37.0h0M62.3 37.1h0M62.5 37.0h0M62.8 37.0h0M63.1 37.1h0M63.4 37.1h0M63.6 37.1h0M63.9 37.2h0M64.2 37.3h0M64.4 37.2h0M64.7 37.3h0M65.0 37.2h0M65.3 37.6h0M65.5 37.5h0M65.8 37.6h0M66.1 37.7h0M66.3 37.5h0M66.6 37.6h0M66.9 37.7h0M67.2 37.6h0M67.4 37.7h0M67.7 37.7h0M68.0 37.8h0M68.3 37.8h0M68.5 38.1h0M68.8 37.9h0M69.1 38.0h0M69.3 38.3h0M69.6 38.1h0M69.9 38.2h0M70.2 38.2h0M70.4 38.4h0M70.7 38.4h0M71.0 38.4h0M71.2 38.6h0M71.5 38.5h0M71.8 38.6h0M72.1 38.6h0M72.3 38.8h0M72.6 38.7h0M72.9 38.8h0M73.1 39.0h0M73.4 38.9h0M73.7 38.9h0M74.0 38.9h0M74.2 39.4h0M74.5 39.2h0M74.8 39.3h0M75.0 39.4h0M75.3 39.6h0M75.6 39.4h0M75.9 39.8h0M76.1 39.6h0M76.4 39.6h0M76.7 40.1h0M76.9 40.0h0M77.2 40.2h0M77.5 40.1h0M77.8 40.0h0M78.0 40.0h0M78.3 40.6h0M78.6 40.5h0M78.8 40.4h0M79.1 40.4h0M79.4 40.7h0M79.7 40.9h0M79.9 40.8h0M80.2 41.0h0M80.5 41.1h0M80.8 41.3h0M81.0 41.2h0M81.3 41.3h0M81.6 41.5h0M81.8 41.6h0M82.1 41.8h0M82.4 41.8h0M82.7 41.7h0M82.9 42.0h0M83.2 42.3h0M83.5 42.0h0M83.7 42.2h0M84.0 42.1h0M84.3 42.5h0M84.6 42.7h0M84.8 42.9h0M85.1 42.7h0M85.4 42.7h0M85.6 43.2h0M85.9 43.3h0M86.2 43.2h0M86.5 43.5h0M86.7 43.6h0M87.0 43.7h0M87.3 43.7h0M87.5 43.7h0M87.8 44.0h0M88.1 44.0h0M88.4 44.3h0M88.6 44.3h0M88.9 44.9h0M89.2 44.9h0M89.4 44.7h0M89.7 45.0h0M90.0 45.0h0M90.3 45.1h0M90.5 45.1h0M90.8 45.3h0M91.1 45.4h0M91.3 45.7h0M91.6 46.0h0M91.9 46.1h0M92.2 46.2h0M92.4 46.5h0M92.7 46.5h0M93.0 46.6h0M93.3 46.7h0M93.5 46.9h0M93.8 47.3h0M94.1 47.1h0M94.3 47.2h0M94.6 47.3h0M94.9 47.5h0M95.2 47.8h0M95.4 48.0h0M95.7 47.7h0M96.0 48.1h0M96.2 48.1h0M96.5 48.2h0M96.8 48.8h0M97.1 48.7h0M97.3 48.9h0M97.6 49.0h0M97.9 49.2h0M98.1 49.4h0M98.4 49.5h0M98.7 50.0h0M99.0 49.9h0M99.2 50.2h0M99.5 50.2h0M99.8 50.5h0M100.0 50.4h0M100.3 50.6h0M100.6 50.8h0M100.9 51.0h0M101.1 51.2h0M101.4 51.4h0M101.7 51.5h0M101.9 51.8h0M102.2 51.8h0M102.5 52.0h0M102.8 52.1h0M103.0 52.6h0M103.3 52.4h0M103.6 52.8h0M103.8 53.0h0M104.1 53.1h0M104.4 53.3h0M104.7 53.3h0M104.9 53.6h0M105.2 53.9h0M105.5 54.0h0M105.8 53.8h0M106.0 54.2h0M106.3 54.6h0M106.6 54.5h0M106.8 55.1h0M107.1 54.6h0M107.4 55.4h0M107.7 55.2h0M107.9 55.3h0M108.2 55.9h0M108.5 55.7h0M108.7 55.8h0M109.0 56.0h0M109.3 56.2h0M109.6 56.3h0M109.8 56.6h0M110.1 56.7h0M110.4 57.0h0M110.6 57.0h0M110.9 57.6h0M111.2 57.4h0M111.5 57.8h0M111.7 58.1h0M112.0 58.0h0M112.3 57.9h0M112.5 58.2h0M112.8 58.7h0M113.1 58.6h0M113.4 59.0h0M113.6 59.1h0M113.9 59.2h0M114.2 60.0h0M114.4 59.6h0M114.7 60.1h0M115.0 60.1h0M115.3 60.5h0M115.5 60.7h0M115.8 60.7h0M116.1 60.5h0M116.3 60.5h0M116.6 61.0h0M116.9 61.0h0M117.2 61.4h0M117.4 62.1h0M117.7 61.7h0M118.0 61.8h0M118.3 62.2h0M118.5 62.2h0M118.8 62.3h0M119.1 62.8h0M119.3 63.2h0M119.6 63.0h0M119.9 63.2h0M120.2 63.4h0M120.4 63.2h0M120.7 63.2h0M121.0 63.9h0M121.2 63.8h0M121.5 63.9h0M121.8 64.1h0M122.1 64.2h0M122.3 64.8h0M122.6 64.6h0M122.9 64.5h0M123.1 65.0h0M123.4 65.5h0M123.7 65.3h0M124.0 65.4h0M124.2 65.7h0M124.5 66.2h0M124.8 65.8h0M125.0 66.7h0M125.3 66.4h0M125.6 66.7h0M125.9 67.2h0M126.1 66.7h0M126.4 67.1h0M126.7 67.7h0M126.9 67.3h0M127.2 67.8h0M127.5 68.5h0M127.8 68.2h0M128.0 68.1h0M128.3 68.1h0M128.6 68.4h0M128.8 68.6h0M129.1 68.7h0M129.4 69.0h0M129.7 68.8h0M129.9 69.2h0M130.2 69.4h0M130.5 69.5h0M130.8 70.2h0M131.0 70.2h0M131.3 69.7h0M131.6 70.2h0M131.8 70.5h0M132.1 70.5h0M132.4 70.9h0M132.7 70.8h0M132.9 71.3h0M133.2 71.1h0M133.5 72.0h0M133.7 71.1h0M134.0 71.9h0M134.3 72.5h0M134.6 72.1h0M134.8 72.3h0M135.1 72.3h0M135.4 73.0h0M135.6 72.5h0M135.9 72.1h0M136.2 73.5h0M136.5 73.0h0M136.7 73.4h0M137.0 73.3h0M137.3 74.4h0M137.5 74.2h0M137.8 73.7h0M138.1 74.0h0M138.4 73.6h0M138.6 74.6h0M138.9 74.4h0M139.2 73.8h0M139.4 75.1h0M139.7 75.3h0M140.0 75.1h0M140.3 75.2h0M140.5 75.1h0M140.8 75.5h0M141.1 76.0h0M141.3 75.7h0M141.6 75.1h0M141.9 75.7h0M142.2 77.7h0M142.4 76.5h0M142.7 77.0h0M143.0 76.5h0M143.3 76.9h0M143.5 76.3h0M143.8 76.8h0M144.1 77.0h0M144.3 77.4h0M144.6 77.6h0M144.9 77.6h0M145.2 77.4h0M145.4 77.8h0M145.7 78.4h0M146.0 77.8h0M146.2 78.4h0M146.5 78.6h0M146.8 79.2h0M147.1 79.2h0M147.3 79.4h0M147.6 80.7h0M147.9 78.9h0M148.1 79.2h0M148.4 79.7h0M148.7 79.3h0M149.0 79.7h0M149.2 79.9h0M149.5 81.6h0M149.8 80.4h0M150.0 80.2h0M150.3 79.9h0M150.6 79.9h0M150.9 80.2h0M151.1 81.7h0M151.4 82.5h0M151.7 81.0h0M151.9 81.4h0M152.2 81.1h0M152.5 81.8h0M152.8 81.7h0M153.0 82.9h0M153.3 81.9h0M153.6 82.5h0M153.8 82.2h0M154.1 82.3h0M154.4 82.7h0M154.7 82.6h0M154.9 82.9h0M155.2 82.7h0M155.5 82.9h0M155.7 83.7h0M156.0 83.8h0M156.3 82.7h0M156.6 83.8h0M156.8 83.3h0M157.1 83.8h0M157.4 84.5h0M157.7 84.7h0M157.9 84.3h0M158.2 84.3h0M158.5 84.3h0M158.7 85.6h0M159.0 85.3h0M159.3 85.1h0M159.6 84.3h0M159.8 87.0h0M160.1 85.1h0M160.4 85.9h0M160.6 85.4h0M160.9 86.1h0M161.2 85.7h0M161.5 85.1h0M161.7 85.9h0M162.0 86.0h0M162.3 86.2h0M162.5 87.1h0M162.8 86.3h0M163.1 86.9h0M163.4 87.5h0M163.6 87.0h0M163.9 87.3h0M164.2 86.8h0M164.4 87.4h0M164.7 87.9h0M165.0 86.7h0M165.3 87.1h0M165.5 87.1h0M165.8 87.6h0M166.1 88.2h0M166.3 88.6h0M166.6 88.6h0M166.9 87.9h0M167.2 88.5h0M167.4 90.0h0M167.7 88.8h0M168.0 90.2h0M168.2 88.9h0M168.5 90.2h0M168.8 90.4h0M169.1 89.3h0M169.3 89.6h0M169.6 91.2h0M169.9 89.2h0M170.2 88.4h0M170.4 91.4h0M170.7 88.8h0M171.0 90.9h0M171.2 90.8h0M171.5 90.6h0M171.8 92.0h0M172.1 89.7h0M172.3 90.4h0M172.6 91.6h0M172.9 91.3h0M173.1 92.6h0M173.4 91.6h0M173.7 90.6h0M174.0 93.2h0M174.2 92.0h0M174.5 91.5h0M174.8 91.0h0M175.0 90.8h0M175.3 92.5h0M175.6 92.9h0M175.9 91.8h0M176.1 92.7h0M176.4 92.8h0M176.7 91.7h0M176.9 91.3h0M177.2 92.5h0M177.5 93.1h0M177.8 92.5h0M178.0 95.2h0M178.3 93.2h0M178.6 94.5h0M178.8 91.4h0M179.1 92.9h0M179.4 93.4h0M179.7 93.9h0M179.9 96.8h0M180.2 93.3h0M180.5 92.6h0M180.7 95.0h0M181.0 93.6h0M181.3 93.6h0M181.6 96.3h0M181.8 93.6h0M182.1 93.4h0M182.4 94.5h0M182.7 94.9h0M182.9 94.2h0M183.2 97.0h0M183.5 95.0h0M183.7 94.2h0M184.0 96.9h0M184.3 94.4h0M184.6 96.0h0M184.8 98.4h0M185.1 95.8h0M185.4 97.1h0M185.6 95.5h0M185.9 97.6h0M186.2 95.0h0M186.5 97.2h0M186.7 95.9h0M187.0 97.2h0M187.3 96.9h0M187.5 95.3h0M187.8 96.4h0M188.1 97.3h0M188.4 98.6h0M188.6 95.7h0M188.9 96.2h0M189.2 97.5h0M189.4 96.9h0M189.7 98.8h0M190.0 98.9h0M190.3 98.7h0M190.5 97.1h0M190.8 97.3h0M191.1 98.8h0M191.3 96.9h0M191.6 97.0h0M191.9 97.7h0M192.2 96.8h0M192.4 98.6h0M192.7 98.4h0M193.0 97.7h0M193.2 98.4h0M193.5 97.5h0M193.8 100.6h0M194.1 96.9h0M194.3 100.0h0M194.6 99.1h0M194.9 101.2h0M195.2 98.2h0M195.4 97.5h0M195.7 97.8h0M196.0 98.2h0M196.2 102.0h0M196.5 100.8h0M196.8 100.3h0M197.1 101.2h0M197.3 98.2h0M197.6 99.5h0M197.9 99.9h0M198.1 99.3h0M198.4 101.7h0M198.7 101.7h0M199.0 101.8h0M199.2 99.6h0M199.5 99.9h0M199.8 99.6h0M200.0 99.0h0M200.3 103.2h0M200.6 101.7h0M200.9 100.5h0M201.1 103.5h0M201.4 102.0h0M201.7 99.6h0M201.9 99.5h0M202.2 99.7h0M202.5 101.2h0M202.8 101.8h0M203.0 99.9h0M203.3 102.3h0M203.6 101.1h0M203.8 99.8h0M204.1 102.6h0M204.4 103.2h0M204.7 102.0h0M204.9 101.2h0M205.2 101.4h0M205.5 102.0h0M205.7 101.5h0M206.0 105.9h0M206.3 104.4h0M206.6 102.4h0M206.8 104.8h0M207.1 105.8h0M207.4 105.6h0M207.7 105.1h0M207.9 103.5h0M208.2 105.5h0M208.5 102.9h0M208.7 100.7h0M209.0 103.9h0M209.3 101.5h0M209.6 103.2h0M209.8 106.4h0M210.1 104.5h0M210.4 106.3h0M210.6 102.8h0M210.9 107.0h0M211.2 102.1h0M211.5 103.5h0M211.7 109.4h0M212.0 103.3h0M212.3 102.1h0M212.5 106.8h0M212.8 103.3h0M213.1 109.6h0M213.4 104.8h0M213.6 109.5h0M213.9 104.6h0M214.2 110.1h0M214.4 112.4h0M214.7 105.1h0M215.0 101.8h0M215.3 107.6h0M215.5 104.7h0M215.8 106.1h0M216.1 107.3h0M216.3 105.4h0M216.6 103.6h0M216.9 110.1h0M217.2 105.9h0M217.4 106.4h0M217.7 111.0h0M218.0 104.2h0M218.2 103.7h0M218.5 110.2h0M218.8 104.3h0M219.1 107.8h0M219.3 108.4h0M219.6 105.1h0M219.9 107.8h0M220.2 107.7h0M220.4 105.5h0M220.7 106.0h0M221.0 107.0h0M221.2 113.0h0M221.5 113.6h0M221.8 106.9h0M222.1 112.1h0M222.3 109.2h0M222.6 112.8h0M222.9 110.3h0M223.1 113.8h0M223.4 106.5h0M223.7 113.3h0M224.0 110.7h0M224.2 111.0h0M224.5 107.9h0M224.8 115.2h0M225.0 111.0h0M225.3 111.7h0M225.6 109.9h0M225.9 110.2h0M226.1 112.9h0M226.4 111.0h0M226.7 112.9h0M226.9 110.7h0M227.2 112.3h0M227.5 114.3h0M227.8 112.3h0M228.0 111.5h0M228.3 106.9h0M228.6 114.3h0M228.8 112.0h0M229.1 109.2h0M229.4 120.5h0M229.7 119.5h0M229.9 117.6h0M230.2 113.9h0M230.5 107.5h0M230.7 112.6h0M231.0 110.5h0M231.3 114.8h0M231.6 123.7h0M231.8 123.3h0M232.1 111.4h0M232.4 113.9h0M232.6 119.9h0M232.9 111.4h0M233.2 121.2h0M233.5 111.6h0M233.7 110.7h0M234.0 118.5h0M234.3 120.2h0M234.6 112.8h0M234.8 120.5h0M235.1 112.9h0M235.4 121.3h0M235.6 113.3h0M235.9 115.7h0M236.2 124.2h0M236.5 121.0h0M236.7 115.6h0M237.0 125.7h0M237.3 118.0h0M237.5 118.7h0M237.8 114.4h0M238.1 123.3h0M238.4 110.8h0M238.6 118.8h0M238.9 123.3h0M239.2 112.2h0M239.4 111.2h0M239.7 118.7h0M240.0 122.6h0M240.3 117.8h0M240.5 121.8h0M240.8 130.3h0M241.1 112.0h0M241.3 116.7h0M241.6 117.8h0M241.9 117.1h0M242.2 118.9h0M242.4 115.2h0M242.7 115.1h0M243.0 121.1h0M243.2 118.6h0M243.5 109.2h0M243.8 117.4h0M244.1 120.4h0M244.3 110.3h0M244.6 119.4h0M244.9 150.3h0M245.1 116.6h0M245.4 125.5h0M245.7 123.1h0M246.0 118.4h0M246.2 143.8h0M246.5 125.2h0M246.8 123.9h0M247.1 124.3h0M247.3 114.8h0M247.6 125.4h0M247.9 124.5h0M248.1 130.5h0M248.4 124.6h0M248.7 143.5h0M249.0 114.3h0M249.2 122.0h0M249.5 131.1h0M249.8 118.8h0M250.0 117.7h0M250.3 133.3h0M250.6 121.0h0M250.9 115.1h0M251.1 114.1h0M251.4 129.4h0M251.7 114.0h0M251.9 120.8h0M252.2 129.2h0M252.5 171.6h0M252.8 111.6h0M253.0 116.6h0M253.3 135.8h0M253.6 121.6h0M253.8 123.2h0M254.1 123.6h0M254.4 170.4h0M254.7 133.9h0M254.9 117.5h0M255.2 129.9h0M255.5 125.5h0M255.7 137.1h0M256.0 128.5h0M256.3 118.3h0M256.6 120.5h0M256.8 128.3h0M257.1 130.6h0M257.4 126.7h0M257.6 117.1h0M257.9 122.2h0M258.2 121.6h0M258.5 125.8h0M258.7 166.4h0M259.0 121.8h0M259.3 139.0h0M259.6 113.3h0M259.8 130.1h0M260.1 128.3h0M260.4 115.0h0M260.6 122.0h0M260.9 123.2h0M261.2 128.6h0M261.5 137.4h0M261.7 132.8h0M262.0 115.9h0M262.3 131.8h0M262.5 133.3h0M262.8 134.0h0M263.1 130.5h0M263.4 120.5h0M263.6 123.8h0M263.9 119.3h0M264.2 137.5h0M264.4 133.6h0M264.7 141.5h0M265.0 135.4h0M265.3 134.3h0M265.5 137.7h0M265.8 122.0h0M266.1 130.5h0M266.3 162.4h0M266.6 149.0h0M266.9 136.4h0M267.2 136.5h0M267.4 145.9h0M267.7 116.3h0M268.0 135.8h0M268.2 139.0h0M268.5 134.4h0M268.8 116.6h0M269.1 173.4h0M269.3 132.7h0M269.6 125.0h0M269.9 116.2h0M270.1 161.2h0M270.4 134.6h0M270.7 162.6h0M271.0 109.3h0M271.2 111.8h0M271.5 118.1h0M271.8 126.4h0M272.1 120.3h0M272.3 146.5h0M272.6 123.2h0M272.9 138.8h0M273.1 136.8h0M273.4 132.5h0M273.7 128.9h0M274.0 121.2h0M274.2 158.8h0M274.5 123.6h0M274.8 135.2h0M275.0 120.6h0M275.3 126.8h0M275.6 138.2h0M275.9 135.1h0M276.1 154.0h0M276.4 130.6h0M276.7 110.1h0M276.9 177.1h0M277.2 127.9h0M277.5 159.9h0M277.8 122.3h0M278.0 122.6h0M278.3 131.3h0M278.6 125.5h0M278.8 124.6h0M279.1 132.7h0M279.4 137.6h0M279.7 125.2h0M279.9 119.1h0M280.2 121.5h0M280.7 185.2h0M281.0 136.1h0M281.3 136.0h0M281.6 118.8h0M281.8 161.9h0M282.1 126.1h0M282.4 124.5h0M282.6 148.9h0M282.9 184.2h0M283.2 124.3h0M283.5 139.2h0M284.0 138.9h0M284.3 118.5h0M284.6 129.2h0M284.8 144.3h0M285.1 128.2h0M285.4 144.4h0M285.6 137.0h0M285.9 126.6h0M286.2 136.1h0M286.5 118.9h0M286.7 154.4h0M287.0 141.8h0M287.3 122.6h0M287.5 138.5h0M287.8 166.8h0M288.1 125.0h0M288.4 126.1h0M288.6 127.3h0M288.9 118.4h0M289.2 133.4h0M289.4 156.0h0M289.7 127.6h0M290.0 124.9h0M290.3 155.8h0M290.5 111.0h0M291.1 124.8h0M291.3 124.6h0M291.6 147.2h0M291.9 143.3h0M292.2 196.1h0M292.4 119.4h0M292.7 141.9h0M293.0 126.4h0M293.2 139.0h0M293.5 124.7h0M293.8 138.5h0M294.1 136.2h0M294.3 193.8h0M294.6 149.7h0M294.9 122.0h0M295.1 124.0h0M295.4 144.2h0M295.7 135.8h0M296.0 146.0h0M296.2 136.4h0M296.5 128.8h0M296.8 116.9h0M297.1 110.2h0M297.3 139.4h0M297.6 170.0h0M297.9 114.3h0M298.1 119.5h0M298.4 122.9h0M298.7 108.8h0M299.0 154.4h0M299.2 130.2h0M299.5 166.6h0M299.8 139.2h0M300.0 136.6h0M300.3 197.0h0M300.6 122.6h0M300.9 163.6h0M301.1 135.6h0M301.4 115.1h0M301.7 136.0h0M301.9 136.4h0M302.2 140.7h0M302.5 121.7h0M302.8 132.6h0M303.0 123.9h0M303.3 130.7h0M303.6 133.9h0M303.8 135.2h0M304.1 123.2h0M304.4 154.7h0M304.7 138.5h0M304.9 183.3h0M305.2 132.2h0M305.5 175.1h0M305.7 129.5h0M306.0 131.1h0M306.3 133.8h0M306.6 115.6h0M306.8 117.1h0M307.1 131.9h0M307.4 142.8h0M307.6 141.2h0M307.9 151.5h0M308.2 140.6h0M308.5 121.0h0M308.7 126.4h0M309.0 110.9h0M309.3 141.0h0M309.5 114.7h0M309.8 112.0h0M310.1 115.4h0M310.4 133.3h0M310.6 124.2h0M310.9 112.8h0M311.2 127.7h0M311.5 145.9h0M311.7 116.6h0M312.0 108.8h0M312.3 109.6h0M312.5 112.4h0M312.8 120.6h0M313.1 142.4h0M313.4 114.5h0M313.6 119.7h0M313.9 108.0h0M314.2 137.6h0M314.4 125.2h0M314.7 128.2h0M315.0 155.8h0M315.3 112.4h0M315.5 132.1h0M315.8 126.0h0M316.1 130.3h0M316.3 125.7h0M316.6 135.1h0M316.9 99.7h0M317.2 132.7h0M317.4 113.1h0M317.7 106.4h0M318.0 115.5h0M318.2 154.5h0M318.5 127.6h0M318.8 112.0h0M319.1 117.4h0M319.3 109.2h0M319.6 139.6h0M319.9 128.4h0M320.1 131.0h0M320.4 122.1h0M320.7 172.8h0M321.0 108.0h0M321.2 136.8h0M321.5 138.6h0M321.8 137.7h0M322.0 116.2h0M322.3 133.3h0M322.6 115.4h0M322.9 119.1h0M323.1 183.4h0M323.4 120.4h0M323.7 135.0h0M324.0 106.5h0M324.2 106.7h0M324.5 107.6h0M324.8 123.6h0M325.0 117.4h0" stroke="#2e2e2e" stroke-width="3.0" stroke-linecap="round" fill="none"/>
<path d="M53.5,38.4 54.4,38.3 55.3,38.2 56.2,38.2 57.1,38.2 58.0,38.1 58.9,38.1 59.9,38.2 60.8,38.2 61.7,38.2 62.6,38.3 63.5,38.4 64.4,38.5 65.3,38.6 66.2,38.7 67.1,38.8 68.0,38.9 68.9,39.1 69.8,39.3 70.8,39.4 71.7,39.6 72.6,39.8 73.5,40.1 74.4,40.3 75.3,40.5 76.2,40.8 77.1,41.0 78.0,41.3 78.9,41.6 79.8,41.9 80.7,42.2 81.7,42.5 82.6,42.8 83.5,43.2 84.4,43.5 85.3,43.9 86.2,44.2 87.1,44.6 88.0,45.0 88.9,45.4 89.8,45.8 90.7,46.2 91.6,46.6 92.6,47.0 93.5,47.5 94.4,47.9 95.3,48.3 96.2,48.8 97.1,49.3 98.0,49.7 98.9,50.2 99.8,50.7 100.7,51.2 101.6,51.6 102.5,52.1 103.4,52.6 104.4,53.2 105.3,53.7 106.2,54.2 107.1,54.7 108.0,55.2 108.9,55.8 109.8,56.3 110.7,56.8 111.6,57.4 112.5,57.9 113.4,58.5 114.3,59.0 115.3,59.6 116.2,60.1 117.1,60.7 118.0,61.3 118.9,61.8 119.8,62.4 120.7,63.0 121.6,63.5 122.5,64.1 123.4,64.7 124.3,65.3 125.2,65.8 126.2,66.4 127.1,67.0 128.0,67.6 128.9,68.2 129.8,68.8 130.7,69.4 131.6,70.1 132.5,70.7 133.4,71.3 134.3,71.9 135.2,72.6 136.1,73.2 137.1,73.9 138.0,74.6 138.9,75.2 139.8,75.9 140.7,76.6 141.6,77.3 142.5,78.0 143.4,78.7 144.3,79.4 145.2,80.1 146.1,80.8 147.0,81.6 147.9,82.3 148.9,83.0 149.8,83.7 150.7,84.4 151.6,85.1 152.5,85.8 153.4,86.5 154.3,87.2 155.2,87.8 156.1,88.5 157.0,89.2 157.9,89.8 158.8,90.5 159.8,91.1 160.7,91.8 161.6,92.4 162.5,93.0 163.4,93.6 164.3,94.2 165.2,94.8 166.1,95.4 167.0,96.0 167.9,96.6 168.8,97.1 169.7,97.7 170.7,98.2 171.6,98.7 172.5,99.3 173.4,99.8 174.3,100.3 175.2,100.7 176.1,101.2 177.0,101.7 177.9,102.1 178.8,102.5 179.7,103.0 180.6,103.4 181.5,103.8 182.5,104.2 183.4,104.5 184.3,104.9 185.2,105.3 186.1,105.6 187.0,106.0 187.9,106.3 188.8,106.7 189.7,107.0 190.6,107.4 191.5,107.7 192.4,108.0 193.4,108.4 194.3,108.7 195.2,109.0 196.1,109.3 197.0,109.7 197.9,110.0 198.8,110.3 199.7,110.7 200.6,111.0 201.5,111.4 202.4,111.7 203.3,112.1 204.3,112.5 205.2,112.8 206.1,113.2 207.0,113.6 207.9,114.0 208.8,114.4 209.7,114.9 210.6,115.3 211.5,115.7 212.4,116.2 213.3,116.7 214.2,117.2 215.2,117.7 216.1,118.2 217.0,118.7 217.9,119.3 218.8,119.8 219.7,120.4 220.6,120.9 221.5,121.5 222.4,122.1 223.3,122.6 224.2,123.2 225.1,123.8 226.0,124.4 227.0,125.0 227.9,125.6 228.8,126.1 229.7,126.7 230.6,127.3 231.5,127.8 232.4,128.4 233.3,128.9 234.2,129.5 235.1,130.0 236.0,130.5 236.9,131.0 237.9,131.5 238.8,132.0 239.7,132.4 240.6,132.8 241.5,133.3 242.4,133.7 243.3,134.0 244.2,134.4 245.1,134.8 246.0,135.1 246.9,135.4 247.8,135.7 248.8,136.0 249.7,136.3 250.6,136.5 251.5,136.8 252.4,137.0 253.3,137.3 254.2,137.5 255.1,137.7 256.0,137.9 256.9,138.1 257.8,138.3 258.7,138.4 259.7,138.6 260.6,138.8 261.5,138.9 262.4,139.0 263.3,139.2 264.2,139.3 265.1,139.4 266.0,139.5 266.9,139.6 267.8,139.7 268.7,139.8 269.6,139.9 270.5,140.0 271.5,140.1 272.4,140.1 273.3,140.2 274.2,140.3 275.1,140.3 276.0,140.4 276.9,140.4 277.8,140.5 278.7,140.5 279.6,140.6 280.5,140.6 281.4,140.6 282.4,140.7 283.3,140.7 284.2,140.8 285.1,140.8 286.0,140.8 286.9,140.9 287.8,140.9 288.7,140.9 289.6,141.0 290.5,141.0 291.4,141.0 292.3,141.1 293.3,141.1 294.2,141.2 295.1,141.2 296.0,141.3 296.9,141.3 297.8,141.4 298.7,141.4 299.6,141.5 300.5,141.5 301.4,141.6 302.3,141.7 303.2,141.8 304.2,141.8 305.1,141.9 306.0,142.0 306.9,142.1 307.8,142.2 308.7,142.3 309.6,142.4 310.5,142.5 311.4,142.6 312.3,142.7 313.2,142.8 314.1,142.9 315.0,143.0 316.0,143.1 316.9,143.2 317.8,143.3 318.7,143.4 319.6,143.5 320.5,143.6 321.4,143.7 322.3,143.8 323.2,143.9 324.1,143.9 325.0,144.0" stroke="#E69F00" stroke-width="1.9" fill="none" stroke-linejoin="round"/>
</g>
<path d="M51.60,15.00H328.60V200.00H51.60Z" fill="none" stroke="#000" stroke-width="1.5"/>
<path d="M48.60,199.94H51.60M48.60,196.54H51.60M48.60,193.66H51.60M48.60,191.17H51.60M48.60,188.97H51.60M46.60,187.00H51.60M48.60,174.06H51.60M48.60,166.48H51.60M48.60,161.11H51.60M48.60,156.94H51.60M48.60,153.54H51.60M48.60,150.66H51.60M48.60,148.17H51.60M48.60,145.97H51.60M46.60,144.00H51.60M48.60,131.06H51.60M48.60,123.48H51.60M48.60,118.11H51.60M48.60,113.94H51.60M48.60,110.54H51.60M48.60,107.66H51.60M48.60,105.17H51.60M48.60,102.97H51.60M46.60,101.00H51.60M48.60,88.06H51.60M48.60,80.48H51.60M48.60,75.11H51.60M48.60,70.94H51.60M48.60,67.54H51.60M48.60,64.66H51.60M48.60,62.17H51.60M48.60,59.97H51.60M46.60,58.00H51.60M48.60,45.06H51.60M48.60,37.48H51.60M48.60,32.11H51.60M48.60,27.94H51.60M48.60,24.54H51.60M48.60,21.66H51.60M48.60,19.17H51.60M48.60,16.97H51.60M46.60,15.00H51.60" stroke="#000" stroke-width="1.3" fill="none"/>
<path d="M51.60,200.00V205.00M91.17,200.00V205.00M130.74,200.00V205.00M170.31,200.00V205.00M209.89,200.00V205.00M249.46,200.00V205.00M289.03,200.00V205.00M328.60,200.00V205.00" stroke="#000" stroke-width="1.3" fill="none"/>
<text x="44.80" y="17.80" font-size="7.9" text-anchor="end" fill="#111">10</text>
<text x="44.80" y="60.80" font-size="7.9" text-anchor="end" fill="#111">1</text>
<text x="44.80" y="103.80" font-size="7.9" text-anchor="end" fill="#111">0.1</text>
<text x="44.80" y="146.80" font-size="7.9" text-anchor="end" fill="#111">0.01</text>
<text x="44.80" y="189.80" font-size="7.9" text-anchor="end" fill="#111">0.001</text>
<text x="51.60" y="213.80" font-size="7.9" text-anchor="middle" fill="#111">0.00</text>
<text x="91.17" y="213.80" font-size="7.9" text-anchor="middle" fill="#111">0.05</text>
<text x="130.74" y="213.80" font-size="7.9" text-anchor="middle" fill="#111">0.10</text>
<text x="170.31" y="213.80" font-size="7.9" text-anchor="middle" fill="#111">0.15</text>
<text x="209.89" y="213.80" font-size="7.9" text-anchor="middle" fill="#111">0.20</text>
<text x="249.46" y="213.80" font-size="7.9" text-anchor="middle" fill="#111">0.25</text>
<text x="289.03" y="213.80" font-size="7.9" text-anchor="middle" fill="#111">0.30</text>
<text x="328.60" y="213.80" font-size="7.9" text-anchor="middle" fill="#111">0.35</text>
<text x="190.10" y="232.40" font-size="10" font-weight="bold" text-anchor="middle">q (Å<tspan font-size="6.5" dy="-4">-1</tspan><tspan dy="4">)</tspan></text>
<text transform="translate(19.40,107.50) rotate(-90)" font-size="10.3" font-weight="bold" text-anchor="middle">I(q) (cm<tspan font-size="6.5" dy="-4.6">-1</tspan><tspan dy="4.6">)</tspan></text>
<text x="6.3" y="13.6" font-size="16" font-weight="bold">A)</text>
<circle cx="180.5" cy="30.7" r="1.5" fill="#000"/>
<path d="M174.90,45.60H186.10" stroke="#E69F00" stroke-width="1.6"/>
<text x="189.2" y="32.7" font-size="10.4" fill="#111">WT monomer</text>
<text x="189.2" y="48.5" font-size="10.4" fill="#111">1GRI monomer (χ<tspan font-size="7" dy="-3.5">2</tspan><tspan dy="3.5">=19.6)</tspan></text>
<g clip-path="url(#plotB)">
<path d="M175.6 334.4V337.5M183.6 337.8V341.0M186.2 339.4V342.5M186.5 339.7V343.0M189.3 340.2V343.9M194.2 341.7V345.1M195.0 341.8V345.2M200.5 345.7V349.3M200.8 344.6V347.6M206.5 347.0V350.6M207.3 347.4V351.1M207.6 348.3V352.1M208.2 347.9V351.7M209.6 349.8V353.1M209.9 347.2V350.3M211.1 347.5V351.2M214.2 349.7V353.3M215.1 350.1V353.5M215.4 350.0V353.4M215.9 350.6V354.0M216.2 349.1V353.8M216.5 350.3V354.0M217.1 350.6V354.1M218.2 351.0V354.3M219.6 351.7V355.3M220.2 352.3V356.4M221.1 353.5V356.5M221.4 352.5V355.9M221.7 353.2V356.4M223.1 354.2V357.7M223.9 355.0V359.0M224.5 353.8V357.5M224.8 356.9V360.0M226.2 354.8V359.5M226.5 354.3V360.2M226.8 354.7V358.3M227.1 356.6V359.9M227.9 355.4V358.5M228.5 355.7V362.5M228.8 355.1V359.8M229.1 355.0V361.1M229.4 355.5V358.8M229.7 358.0V361.5M229.9 357.5V361.0M230.2 357.4V362.2M231.1 356.4V361.1M231.4 357.3V362.0M231.7 357.8V364.9M232.0 356.4V361.0M232.2 358.9V363.9M232.5 358.5V364.6M232.8 356.8V360.6M233.4 357.6V361.0M233.7 359.4V362.9M234.0 360.1V365.4M234.2 357.2V360.8M234.5 357.7V365.3M234.8 356.7V361.8M235.1 358.8V366.8M235.4 358.4V364.3M236.2 361.2V366.8M236.5 358.3V365.9M236.8 357.1V364.4M237.4 361.7V367.3M237.7 361.8V365.5M238.0 361.8V368.1M238.2 358.8V364.2M238.5 360.0V367.9M238.8 361.7V369.1M239.1 361.0V367.7M239.4 358.5V363.9M239.7 360.4V368.7M240.0 361.4V368.5M240.3 358.5V362.6M240.5 362.3V367.1M240.8 361.7V373.3M241.1 358.7V363.3M241.4 369.1V373.3M241.7 365.4V374.5M242.0 363.4V369.5M242.3 366.6V372.3M242.5 363.8V371.8M242.8 361.8V366.2M243.1 364.8V372.5M243.4 359.8V366.2M243.7 359.4V366.0M244.0 361.6V372.2M244.3 363.6V370.4M244.5 362.8V375.0M244.8 372.3V383.7M245.1 359.9V372.5M245.4 359.4V365.4M245.7 369.4V376.9M246.0 365.6V374.7M246.3 365.7V372.7M246.5 364.0V371.2M246.8 363.2V372.8M247.1 357.7V369.2M247.4 364.7V369.0M247.7 361.7V377.5M248.0 363.8V374.2M248.3 363.3V376.7M248.5 400.4V408.1M248.8 367.4V376.7M249.1 363.0V378.6M249.4 359.2V369.2M249.7 359.0V368.8M250.0 367.1V374.6M250.3 366.9V382.2M250.6 369.3V382.4M250.8 365.4V377.1M251.1 364.1V375.8M251.4 364.6V375.4M251.7 362.5V372.2M252.0 367.1V376.1M252.3 363.8V378.2M252.6 370.9V378.9M252.8 382.7V400.6M253.1 367.5V382.8M253.4 373.7V386.2M253.7 365.2V376.0M254.0 395.7V415.5M254.3 367.5V375.0M254.6 367.3V383.1M254.8 368.1V382.8M255.1 376.6V396.5M255.4 368.2V377.0M255.7 370.6V383.1M256.0 368.0V389.3M256.3 366.2V379.0M256.6 367.5V380.2M256.8 373.1V394.6M257.1 368.0V386.8M257.4 361.2V380.8M257.7 366.2V372.7M258.0 370.1V387.5M258.3 372.5V393.9M258.6 365.6V385.2M258.9 366.9V378.0M259.1 377.9V393.9M259.4 370.2V381.2M259.7 360.9V383.3M260.0 375.4V399.2M260.3 370.1V391.8M260.6 381.7V395.8M260.9 367.5V390.5M261.1 371.2V395.9M261.4 374.2V382.1M261.7 382.7V401.7M262.0 371.4V389.7M262.3 369.7V382.6M262.6 369.2V398.1M262.9 376.3V398.5M263.1 372.6V384.0M263.4 359.9V379.6M263.7 375.6V405.3M264.0 371.9V389.6M264.3 377.0V395.2M264.6 396.4V407.9M264.9 368.1V391.8M265.1 366.3V379.8M265.4 368.9V382.6M265.7 368.4V388.6M266.0 367.6V387.1M266.3 366.0V389.3M266.6 371.2V390.4M266.9 370.5V451.0M267.1 366.2V380.9M267.4 372.6V396.4M267.7 422.9V434.1M268.0 376.7V386.2M268.3 372.2V391.4M268.6 396.7V415.5M268.9 374.0V401.7M269.2 369.2V379.2M269.4 404.9V431.9M269.7 368.6V395.0M270.0 370.8V399.0M270.3 373.4V393.3M270.6 386.8V415.8M270.9 378.5V390.0M271.2 377.6V387.0M271.4 379.4V400.3M271.7 387.0V406.1M272.0 379.9V397.5M272.3 369.6V384.9M272.6 377.0V392.6M272.9 362.2V374.5M273.2 365.5V400.3M273.4 366.5V393.0M273.7 375.2V390.9M274.0 361.8V385.5M274.3 366.6V385.1M274.6 367.5V383.1M274.9 369.0V393.1M275.2 371.6V394.5M275.4 366.3V402.6M275.7 377.0V390.2M276.0 366.5V390.7M276.3 369.2V386.1M276.6 386.9V406.7M276.9 369.1V392.4M277.2 370.5V384.7M277.4 373.5V401.4M277.7 369.7V395.2M278.0 367.6V379.6M278.3 376.6V397.7M278.6 379.5V394.2M278.9 366.2V401.2M279.2 368.1V386.4M279.5 379.8V396.9M279.7 368.8V388.2M280.0 379.7V411.6M280.3 369.1V402.6M280.6 368.1V385.0M280.9 367.9V388.2M281.2 407.5V419.6M281.5 423.2V441.3M281.7 366.1V389.8M282.0 412.2V431.7M282.3 370.9V389.4M282.6 371.8V396.9M282.9 369.3V383.6M283.2 378.6V401.3M283.5 367.3V395.5M283.7 368.4V387.8M284.0 391.2V406.9M284.3 391.9V425.7M284.6 371.2V393.4M284.9 397.3V412.3M285.2 376.3V395.9M285.5 363.1V374.7M285.7 381.5V396.6M286.0 379.6V411.2M286.3 378.1V391.0M286.6 372.7V393.7M286.9 366.9V399.6M287.2 370.7V390.8M287.5 371.1V399.8M287.8 366.8V395.5M288.0 409.7V431.9M288.3 368.0V400.2M288.6 372.8V399.1M288.9 369.9V381.1M289.2 372.6V398.3M289.5 366.8V387.4M289.8 369.7V382.9M290.0 370.1V395.1M290.3 375.2V404.0M290.6 366.3V389.8M290.9 389.4V403.1M291.2 372.4V385.4M291.5 366.4V382.0M291.8 375.2V388.3M292.0 367.7V385.8M292.3 363.5V377.1M292.6 382.7V397.2M292.9 380.1V402.6M293.2 433.9V451.0M293.5 421.1V439.4M293.8 388.1V399.3M294.0 378.1V394.4M294.3 399.2V414.3M294.6 371.0V388.3M294.9 379.3V400.0M295.2 371.1V394.6M295.8 369.2V381.0M296.0 374.8V405.7M296.3 369.4V386.6M296.6 378.9V407.6M296.9 375.5V396.7M297.2 374.3V387.5M297.5 383.6V412.9M297.8 363.0V385.9M298.1 360.1V389.8M298.3 378.8V398.2M298.6 397.7V419.1M298.9 370.1V393.1M299.2 372.5V390.7M299.5 369.8V395.9M299.8 370.4V393.6M300.1 372.0V407.4M300.3 367.9V388.4M300.6 364.4V381.9M300.9 446.7V451.0M301.2 370.9V382.4M301.5 366.1V388.6M301.8 369.3V382.3M302.1 360.7V376.5M302.3 374.8V403.6M302.6 435.4V451.0M302.9 368.7V385.6M303.2 366.5V383.5M303.5 395.2V408.6M303.8 367.9V396.7M304.1 412.6V433.3M304.3 390.3V404.1M304.6 373.0V388.1M304.9 380.8V451.0M305.2 391.0V403.2M305.5 395.0V413.1M305.8 365.6V399.4M306.1 373.0V393.3M306.4 378.2V389.6M306.6 368.0V400.6M306.9 361.2V384.2M307.2 366.3V389.0M307.5 365.8V389.3M307.8 373.5V387.7M308.1 367.3V393.7M308.4 383.9V416.2M308.6 381.6V410.0M308.9 365.0V378.6M309.2 388.4V413.0M309.5 378.7V398.0M309.8 364.0V380.0M310.1 367.1V384.0M310.4 380.3V399.0M310.6 359.9V374.6M310.9 374.3V401.7M311.2 404.2V431.2M311.5 362.7V388.9M311.8 425.4V445.0M312.1 359.4V381.0M312.4 387.3V403.3M312.6 414.5V439.1M312.9 374.8V390.1M313.2 378.3V392.2M313.5 362.8V395.0M313.8 375.9V394.9M314.1 382.9V399.8M314.4 385.9V421.0M314.6 369.8V390.8M314.9 365.3V386.3M315.2 356.9V384.6M315.5 362.8V381.2M315.8 355.3V386.1M316.1 368.3V385.1M316.4 370.8V396.1M316.7 356.1V382.0M316.9 371.7V383.0M317.2 383.9V399.4M317.5 363.5V382.4M317.8 360.8V375.2M318.1 363.1V389.4M318.4 357.1V370.3M318.7 354.8V382.0M318.9 357.2V371.8M319.2 387.0V407.3M319.5 368.5V382.2M319.8 400.8V427.1M320.1 361.7V378.3M320.4 355.9V366.6M320.7 370.9V388.3M320.9 388.7V402.7M321.2 360.9V390.4M321.5 360.4V372.5M321.8 357.1V380.3M322.1 416.9V451.0M322.4 350.4V376.4M322.7 354.9V381.3M322.9 356.7V374.6M323.2 356.1V380.7M323.5 392.7V412.3M323.8 368.8V383.8M324.1 432.7V449.8M324.4 380.1V402.9M324.7 352.0V370.7M325.0 358.0V377.8M325.2 425.6V445.4" stroke="#b4b4b4" stroke-width="1.0" fill="none"/>
<path d="M174.5 334.4h2.2M174.5 337.5h2.2M182.5 337.8h2.2M182.5 341.0h2.2M185.1 339.4h2.2M185.1 342.5h2.2M185.4 339.7h2.2M185.4 343.0h2.2M188.2 340.2h2.2M188.2 343.9h2.2M193.1 341.7h2.2M193.1 345.1h2.2M193.9 341.8h2.2M193.9 345.2h2.2M199.4 345.7h2.2M199.4 349.3h2.2M199.7 344.6h2.2M199.7 347.6h2.2M205.4 347.0h2.2M205.4 350.6h2.2M206.2 347.4h2.2M206.2 351.1h2.2M206.5 348.3h2.2M206.5 352.1h2.2M207.1 347.9h2.2M207.1 351.7h2.2M208.5 349.8h2.2M208.5 353.1h2.2M208.8 347.2h2.2M208.8 350.3h2.2M210.0 347.5h2.2M210.0 351.2h2.2M213.1 349.7h2.2M213.1 353.3h2.2M214.0 350.1h2.2M214.0 353.5h2.2M214.3 350.0h2.2M214.3 353.4h2.2M214.8 350.6h2.2M214.8 354.0h2.2M215.1 349.1h2.2M215.1 353.8h2.2M215.4 350.3h2.2M215.4 354.0h2.2M216.0 350.6h2.2M216.0 354.1h2.2M217.1 351.0h2.2M217.1 354.3h2.2M218.5 351.7h2.2M218.5 355.3h2.2M219.1 352.3h2.2M219.1 356.4h2.2M220.0 353.5h2.2M220.0 356.5h2.2M220.3 352.5h2.2M220.3 355.9h2.2M220.6 353.2h2.2M220.6 356.4h2.2M222.0 354.2h2.2M222.0 357.7h2.2M222.8 355.0h2.2M222.8 359.0h2.2M223.4 353.8h2.2M223.4 357.5h2.2M223.7 356.9h2.2M223.7 360.0h2.2M225.1 354.8h2.2M225.1 359.5h2.2M225.4 354.3h2.2M225.4 360.2h2.2M225.7 354.7h2.2M225.7 358.3h2.2M226.0 356.6h2.2M226.0 359.9h2.2M226.8 355.4h2.2M226.8 358.5h2.2M227.4 355.7h2.2M227.4 362.5h2.2M227.7 355.1h2.2M227.7 359.8h2.2M228.0 355.0h2.2M228.0 361.1h2.2M228.3 355.5h2.2M228.3 358.8h2.2M228.6 358.0h2.2M228.6 361.5h2.2M228.8 357.5h2.2M228.8 361.0h2.2M229.1 357.4h2.2M229.1 362.2h2.2M230.0 356.4h2.2M230.0 361.1h2.2M230.3 357.3h2.2M230.3 362.0h2.2M230.6 357.8h2.2M230.6 364.9h2.2M230.9 356.4h2.2M230.9 361.0h2.2M231.1 358.9h2.2M231.1 363.9h2.2M231.4 358.5h2.2M231.4 364.6h2.2M231.7 356.8h2.2M231.7 360.6h2.2M232.3 357.6h2.2M232.3 361.0h2.2M232.6 359.4h2.2M232.6 362.9h2.2M232.9 360.1h2.2M232.9 365.4h2.2M233.1 357.2h2.2M233.1 360.8h2.2M233.4 357.7h2.2M233.4 365.3h2.2M233.7 356.7h2.2M233.7 361.8h2.2M234.0 358.8h2.2M234.0 366.8h2.2M234.3 358.4h2.2M234.3 364.3h2.2M235.1 361.2h2.2M235.1 366.8h2.2M235.4 358.3h2.2M235.4 365.9h2.2M235.7 357.1h2.2M235.7 364.4h2.2M236.3 361.7h2.2M236.3 367.3h2.2M236.6 361.8h2.2M236.6 365.5h2.2M236.9 361.8h2.2M236.9 368.1h2.2M237.1 358.8h2.2M237.1 364.2h2.2M237.4 360.0h2.2M237.4 367.9h2.2M237.7 361.7h2.2M237.7 369.1h2.2M238.0 361.0h2.2M238.0 367.7h2.2M238.3 358.5h2.2M238.3 363.9h2.2M238.6 360.4h2.2M238.6 368.7h2.2M238.9 361.4h2.2M238.9 368.5h2.2M239.2 358.5h2.2M239.2 362.6h2.2M239.4 362.3h2.2M239.4 367.1h2.2M239.7 361.7h2.2M239.7 373.3h2.2M240.0 358.7h2.2M240.0 363.3h2.2M240.3 369.1h2.2M240.3 373.3h2.2M240.6 365.4h2.2M240.6 374.5h2.2M240.9 363.4h2.2M240.9 369.5h2.2M241.2 366.6h2.2M241.2 372.3h2.2M241.4 363.8h2.2M241.4 371.8h2.2M241.7 361.8h2.2M241.7 366.2h2.2M242.0 364.8h2.2M242.0 372.5h2.2M242.3 359.8h2.2M242.3 366.2h2.2M242.6 359.4h2.2M242.6 366.0h2.2M242.9 361.6h2.2M242.9 372.2h2.2M243.2 363.6h2.2M243.2 370.4h2.2M243.4 362.8h2.2M243.4 375.0h2.2M243.7 372.3h2.2M243.7 383.7h2.2M244.0 359.9h2.2M244.0 372.5h2.2M244.3 359.4h2.2M244.3 365.4h2.2M244.6 369.4h2.2M244.6 376.9h2.2M244.9 365.6h2.2M244.9 374.7h2.2M245.2 365.7h2.2M245.2 372.7h2.2M245.4 364.0h2.2M245.4 371.2h2.2M245.7 363.2h2.2M245.7 372.8h2.2M246.0 357.7h2.2M246.0 369.2h2.2M246.3 364.7h2.2M246.3 369.0h2.2M246.6 361.7h2.2M246.6 377.5h2.2M246.9 363.8h2.2M246.9 374.2h2.2M247.2 363.3h2.2M247.2 376.7h2.2M247.4 400.4h2.2M247.4 408.1h2.2M247.7 367.4h2.2M247.7 376.7h2.2M248.0 363.0h2.2M248.0 378.6h2.2M248.3 359.2h2.2M248.3 369.2h2.2M248.6 359.0h2.2M248.6 368.8h2.2M248.9 367.1h2.2M248.9 374.6h2.2M249.2 366.9h2.2M249.2 382.2h2.2M249.5 369.3h2.2M249.5 382.4h2.2M249.7 365.4h2.2M249.7 377.1h2.2M250.0 364.1h2.2M250.0 375.8h2.2M250.3 364.6h2.2M250.3 375.4h2.2M250.6 362.5h2.2M250.6 372.2h2.2M250.9 367.1h2.2M250.9 376.1h2.2M251.2 363.8h2.2M251.2 378.2h2.2M251.5 370.9h2.2M251.5 378.9h2.2M251.7 382.7h2.2M251.7 400.6h2.2M252.0 367.5h2.2M252.0 382.8h2.2M252.3 373.7h2.2M252.3 386.2h2.2M252.6 365.2h2.2M252.6 376.0h2.2M252.9 395.7h2.2M252.9 415.5h2.2M253.2 367.5h2.2M253.2 375.0h2.2M253.5 367.3h2.2M253.5 383.1h2.2M253.7 368.1h2.2M253.7 382.8h2.2M254.0 376.6h2.2M254.0 396.5h2.2M254.3 368.2h2.2M254.3 377.0h2.2M254.6 370.6h2.2M254.6 383.1h2.2M254.9 368.0h2.2M254.9 389.3h2.2M255.2 366.2h2.2M255.2 379.0h2.2M255.5 367.5h2.2M255.5 380.2h2.2M255.7 373.1h2.2M255.7 394.6h2.2M256.0 368.0h2.2M256.0 386.8h2.2M256.3 361.2h2.2M256.3 380.8h2.2M256.6 366.2h2.2M256.6 372.7h2.2M256.9 370.1h2.2M256.9 387.5h2.2M257.2 372.5h2.2M257.2 393.9h2.2M257.5 365.6h2.2M257.5 385.2h2.2M257.8 366.9h2.2M257.8 378.0h2.2M258.0 377.9h2.2M258.0 393.9h2.2M258.3 370.2h2.2M258.3 381.2h2.2M258.6 360.9h2.2M258.6 383.3h2.2M258.9 375.4h2.2M258.9 399.2h2.2M259.2 370.1h2.2M259.2 391.8h2.2M259.5 381.7h2.2M259.5 395.8h2.2M259.8 367.5h2.2M259.8 390.5h2.2M260.0 371.2h2.2M260.0 395.9h2.2M260.3 374.2h2.2M260.3 382.1h2.2M260.6 382.7h2.2M260.6 401.7h2.2M260.9 371.4h2.2M260.9 389.7h2.2M261.2 369.7h2.2M261.2 382.6h2.2M261.5 369.2h2.2M261.5 398.1h2.2M261.8 376.3h2.2M261.8 398.5h2.2M262.0 372.6h2.2M262.0 384.0h2.2M262.3 359.9h2.2M262.3 379.6h2.2M262.6 375.6h2.2M262.6 405.3h2.2M262.9 371.9h2.2M262.9 389.6h2.2M263.2 377.0h2.2M263.2 395.2h2.2M263.5 396.4h2.2M263.5 407.9h2.2M263.8 368.1h2.2M263.8 391.8h2.2M264.0 366.3h2.2M264.0 379.8h2.2M264.3 368.9h2.2M264.3 382.6h2.2M264.6 368.4h2.2M264.6 388.6h2.2M264.9 367.6h2.2M264.9 387.1h2.2M265.2 366.0h2.2M265.2 389.3h2.2M265.5 371.2h2.2M265.5 390.4h2.2M265.8 370.5h2.2M266.0 366.2h2.2M266.0 380.9h2.2M266.3 372.6h2.2M266.3 396.4h2.2M266.6 422.9h2.2M266.6 434.1h2.2M266.9 376.7h2.2M266.9 386.2h2.2M267.2 372.2h2.2M267.2 391.4h2.2M267.5 396.7h2.2M267.5 415.5h2.2M267.8 374.0h2.2M267.8 401.7h2.2M268.1 369.2h2.2M268.1 379.2h2.2M268.3 404.9h2.2M268.3 431.9h2.2M268.6 368.6h2.2M268.6 395.0h2.2M268.9 370.8h2.2M268.9 399.0h2.2M269.2 373.4h2.2M269.2 393.3h2.2M269.5 386.8h2.2M269.5 415.8h2.2M269.8 378.5h2.2M269.8 390.0h2.2M270.1 377.6h2.2M270.1 387.0h2.2M270.3 379.4h2.2M270.3 400.3h2.2M270.6 387.0h2.2M270.6 406.1h2.2M270.9 379.9h2.2M270.9 397.5h2.2M271.2 369.6h2.2M271.2 384.9h2.2M271.5 377.0h2.2M271.5 392.6h2.2M271.8 362.2h2.2M271.8 374.5h2.2M272.1 365.5h2.2M272.1 400.3h2.2M272.3 366.5h2.2M272.3 393.0h2.2M272.6 375.2h2.2M272.6 390.9h2.2M272.9 361.8h2.2M272.9 385.5h2.2M273.2 366.6h2.2M273.2 385.1h2.2M273.5 367.5h2.2M273.5 383.1h2.2M273.8 369.0h2.2M273.8 393.1h2.2M274.1 371.6h2.2M274.1 394.5h2.2M274.3 366.3h2.2M274.3 402.6h2.2M274.6 377.0h2.2M274.6 390.2h2.2M274.9 366.5h2.2M274.9 390.7h2.2M275.2 369.2h2.2M275.2 386.1h2.2M275.5 386.9h2.2M275.5 406.7h2.2M275.8 369.1h2.2M275.8 392.4h2.2M276.1 370.5h2.2M276.1 384.7h2.2M276.3 373.5h2.2M276.3 401.4h2.2M276.6 369.7h2.2M276.6 395.2h2.2M276.9 367.6h2.2M276.9 379.6h2.2M277.2 376.6h2.2M277.2 397.7h2.2M277.5 379.5h2.2M277.5 394.2h2.2M277.8 366.2h2.2M277.8 401.2h2.2M278.1 368.1h2.2M278.1 386.4h2.2M278.4 379.8h2.2M278.4 396.9h2.2M278.6 368.8h2.2M278.6 388.2h2.2M278.9 379.7h2.2M278.9 411.6h2.2M279.2 369.1h2.2M279.2 402.6h2.2M279.5 368.1h2.2M279.5 385.0h2.2M279.8 367.9h2.2M279.8 388.2h2.2M280.1 407.5h2.2M280.1 419.6h2.2M280.4 423.2h2.2M280.4 441.3h2.2M280.6 366.1h2.2M280.6 389.8h2.2M280.9 412.2h2.2M280.9 431.7h2.2M281.2 370.9h2.2M281.2 389.4h2.2M281.5 371.8h2.2M281.5 396.9h2.2M281.8 369.3h2.2M281.8 383.6h2.2M282.1 378.6h2.2M282.1 401.3h2.2M282.4 367.3h2.2M282.4 395.5h2.2M282.6 368.4h2.2M282.6 387.8h2.2M282.9 391.2h2.2M282.9 406.9h2.2M283.2 391.9h2.2M283.2 425.7h2.2M283.5 371.2h2.2M283.5 393.4h2.2M283.8 397.3h2.2M283.8 412.3h2.2M284.1 376.3h2.2M284.1 395.9h2.2M284.4 363.1h2.2M284.4 374.7h2.2M284.6 381.5h2.2M284.6 396.6h2.2M284.9 379.6h2.2M284.9 411.2h2.2M285.2 378.1h2.2M285.2 391.0h2.2M285.5 372.7h2.2M285.5 393.7h2.2M285.8 366.9h2.2M285.8 399.6h2.2M286.1 370.7h2.2M286.1 390.8h2.2M286.4 371.1h2.2M286.4 399.8h2.2M286.7 366.8h2.2M286.7 395.5h2.2M286.9 409.7h2.2M286.9 431.9h2.2M287.2 368.0h2.2M287.2 400.2h2.2M287.5 372.8h2.2M287.5 399.1h2.2M287.8 369.9h2.2M287.8 381.1h2.2M288.1 372.6h2.2M288.1 398.3h2.2M288.4 366.8h2.2M288.4 387.4h2.2M288.7 369.7h2.2M288.7 382.9h2.2M288.9 370.1h2.2M288.9 395.1h2.2M289.2 375.2h2.2M289.2 404.0h2.2M289.5 366.3h2.2M289.5 389.8h2.2M289.8 389.4h2.2M289.8 403.1h2.2M290.1 372.4h2.2M290.1 385.4h2.2M290.4 366.4h2.2M290.4 382.0h2.2M290.7 375.2h2.2M290.7 388.3h2.2M290.9 367.7h2.2M290.9 385.8h2.2M291.2 363.5h2.2M291.2 377.1h2.2M291.5 382.7h2.2M291.5 397.2h2.2M291.8 380.1h2.2M291.8 402.6h2.2M292.1 433.9h2.2M292.4 421.1h2.2M292.4 439.4h2.2M292.7 388.1h2.2M292.7 399.3h2.2M292.9 378.1h2.2M292.9 394.4h2.2M293.2 399.2h2.2M293.2 414.3h2.2M293.5 371.0h2.2M293.5 388.3h2.2M293.8 379.3h2.2M293.8 400.0h2.2M294.1 371.1h2.2M294.1 394.6h2.2M294.7 369.2h2.2M294.7 381.0h2.2M294.9 374.8h2.2M294.9 405.7h2.2M295.2 369.4h2.2M295.2 386.6h2.2M295.5 378.9h2.2M295.5 407.6h2.2M295.8 375.5h2.2M295.8 396.7h2.2M296.1 374.3h2.2M296.1 387.5h2.2M296.4 383.6h2.2M296.4 412.9h2.2M296.7 363.0h2.2M296.7 385.9h2.2M297.0 360.1h2.2M297.0 389.8h2.2M297.2 378.8h2.2M297.2 398.2h2.2M297.5 397.7h2.2M297.5 419.1h2.2M297.8 370.1h2.2M297.8 393.1h2.2M298.1 372.5h2.2M298.1 390.7h2.2M298.4 369.8h2.2M298.4 395.9h2.2M298.7 370.4h2.2M298.7 393.6h2.2M299.0 372.0h2.2M299.0 407.4h2.2M299.2 367.9h2.2M299.2 388.4h2.2M299.5 364.4h2.2M299.5 381.9h2.2M299.8 446.7h2.2M300.1 370.9h2.2M300.1 382.4h2.2M300.4 366.1h2.2M300.4 388.6h2.2M300.7 369.3h2.2M300.7 382.3h2.2M301.0 360.7h2.2M301.0 376.5h2.2M301.2 374.8h2.2M301.2 403.6h2.2M301.5 435.4h2.2M301.8 368.7h2.2M301.8 385.6h2.2M302.1 366.5h2.2M302.1 383.5h2.2M302.4 395.2h2.2M302.4 408.6h2.2M302.7 367.9h2.2M302.7 396.7h2.2M303.0 412.6h2.2M303.0 433.3h2.2M303.2 390.3h2.2M303.2 404.1h2.2M303.5 373.0h2.2M303.5 388.1h2.2M303.8 380.8h2.2M304.1 391.0h2.2M304.1 403.2h2.2M304.4 395.0h2.2M304.4 413.1h2.2M304.7 365.6h2.2M304.7 399.4h2.2M305.0 373.0h2.2M305.0 393.3h2.2M305.3 378.2h2.2M305.3 389.6h2.2M305.5 368.0h2.2M305.5 400.6h2.2M305.8 361.2h2.2M305.8 384.2h2.2M306.1 366.3h2.2M306.1 389.0h2.2M306.4 365.8h2.2M306.4 389.3h2.2M306.7 373.5h2.2M306.7 387.7h2.2M307.0 367.3h2.2M307.0 393.7h2.2M307.3 383.9h2.2M307.3 416.2h2.2M307.5 381.6h2.2M307.5 410.0h2.2M307.8 365.0h2.2M307.8 378.6h2.2M308.1 388.4h2.2M308.1 413.0h2.2M308.4 378.7h2.2M308.4 398.0h2.2M308.7 364.0h2.2M308.7 380.0h2.2M309.0 367.1h2.2M309.0 384.0h2.2M309.3 380.3h2.2M309.3 399.0h2.2M309.5 359.9h2.2M309.5 374.6h2.2M309.8 374.3h2.2M309.8 401.7h2.2M310.1 404.2h2.2M310.1 431.2h2.2M310.4 362.7h2.2M310.4 388.9h2.2M310.7 425.4h2.2M310.7 445.0h2.2M311.0 359.4h2.2M311.0 381.0h2.2M311.3 387.3h2.2M311.3 403.3h2.2M311.5 414.5h2.2M311.5 439.1h2.2M311.8 374.8h2.2M311.8 390.1h2.2M312.1 378.3h2.2M312.1 392.2h2.2M312.4 362.8h2.2M312.4 395.0h2.2M312.7 375.9h2.2M312.7 394.9h2.2M313.0 382.9h2.2M313.0 399.8h2.2M313.3 385.9h2.2M313.3 421.0h2.2M313.5 369.8h2.2M313.5 390.8h2.2M313.8 365.3h2.2M313.8 386.3h2.2M314.1 356.9h2.2M314.1 384.6h2.2M314.4 362.8h2.2M314.4 381.2h2.2M314.7 355.3h2.2M314.7 386.1h2.2M315.0 368.3h2.2M315.0 385.1h2.2M315.3 370.8h2.2M315.3 396.1h2.2M315.6 356.1h2.2M315.6 382.0h2.2M315.8 371.7h2.2M315.8 383.0h2.2M316.1 383.9h2.2M316.1 399.4h2.2M316.4 363.5h2.2M316.4 382.4h2.2M316.7 360.8h2.2M316.7 375.2h2.2M317.0 363.1h2.2M317.0 389.4h2.2M317.3 357.1h2.2M317.3 370.3h2.2M317.6 354.8h2.2M317.6 382.0h2.2M317.8 357.2h2.2M317.8 371.8h2.2M318.1 387.0h2.2M318.1 407.3h2.2M318.4 368.5h2.2M318.4 382.2h2.2M318.7 400.8h2.2M318.7 427.1h2.2M319.0 361.7h2.2M319.0 378.3h2.2M319.3 355.9h2.2M319.3 366.6h2.2M319.6 370.9h2.2M319.6 388.3h2.2M319.8 388.7h2.2M319.8 402.7h2.2M320.1 360.9h2.2M320.1 390.4h2.2M320.4 360.4h2.2M320.4 372.5h2.2M320.7 357.1h2.2M320.7 380.3h2.2M321.0 416.9h2.2M321.3 350.4h2.2M321.3 376.4h2.2M321.6 354.9h2.2M321.6 381.3h2.2M321.8 356.7h2.2M321.8 374.6h2.2M322.1 356.1h2.2M322.1 380.7h2.2M322.4 392.7h2.2M322.4 412.3h2.2M322.7 368.8h2.2M322.7 383.8h2.2M323.0 432.7h2.2M323.0 449.8h2.2M323.3 380.1h2.2M323.3 402.9h2.2M323.6 352.0h2.2M323.6 370.7h2.2M323.9 358.0h2.2M323.9 377.8h2.2M324.1 425.6h2.2M324.1 445.4h2.2" stroke="#b4b4b4" stroke-width="0.6" fill="none"/>
<path d="M53.7 280.8h0M54.0 280.8h0M54.3 280.9h0M54.5 280.8h0M54.8 280.7h0M55.1 281.0h0M55.4 280.8h0M55.7 280.8h0M56.0 281.0h0M56.3 281.0h0M56.5 280.9h0M56.8 280.9h0M57.1 280.8h0M57.4 281.0h0M57.7 281.0h0M58.0 281.2h0M58.3 281.3h0M58.5 281.4h0M58.8 281.4h0M59.1 281.3h0M59.4 281.3h0M59.7 281.5h0M60.0 281.3h0M60.3 281.4h0M60.5 281.5h0M60.8 281.6h0M61.1 281.4h0M61.4 281.6h0M61.7 281.7h0M62.0 281.8h0M62.3 281.5h0M62.5 281.8h0M62.8 281.7h0M63.1 281.7h0M63.4 282.2h0M63.7 281.8h0M64.0 282.0h0M64.3 282.1h0M64.6 282.1h0M64.8 282.1h0M65.1 282.1h0M65.4 282.2h0M65.7 282.3h0M66.0 282.2h0M66.3 282.2h0M66.6 282.2h0M66.8 282.4h0M67.1 282.3h0M67.4 282.4h0M67.7 282.6h0M68.0 282.6h0M68.3 282.7h0M68.6 282.7h0M68.8 282.8h0M69.1 283.1h0M69.4 283.0h0M69.7 283.0h0M70.0 283.4h0M70.3 283.3h0M70.6 283.1h0M70.8 283.4h0M71.1 283.4h0M71.4 283.4h0M71.7 283.5h0M72.0 283.7h0M72.3 283.7h0M72.6 283.7h0M72.9 283.8h0M73.1 283.8h0M73.4 283.7h0M73.7 283.9h0M74.0 283.9h0M74.3 284.0h0M74.6 284.1h0M74.9 284.2h0M75.1 284.4h0M75.4 284.4h0M75.7 284.5h0M76.0 284.7h0M76.3 284.6h0M76.6 284.7h0M76.9 284.8h0M77.1 285.0h0M77.4 285.4h0M77.7 284.9h0M78.0 285.2h0M78.3 285.6h0M78.6 285.3h0M78.9 285.5h0M79.1 285.4h0M79.4 285.6h0M79.7 285.6h0M80.0 285.8h0M80.3 285.9h0M80.6 286.0h0M80.9 285.9h0M81.1 286.4h0M81.4 286.1h0M81.7 286.3h0M82.0 286.6h0M82.3 286.6h0M82.6 286.8h0M82.9 286.8h0M83.2 286.8h0M83.4 287.1h0M83.7 287.0h0M84.0 287.1h0M84.3 287.3h0M84.6 287.3h0M84.9 287.6h0M85.2 287.6h0M85.4 287.5h0M85.7 287.9h0M86.0 288.0h0M86.3 288.1h0M86.6 288.2h0M86.9 288.5h0M87.2 288.5h0M87.4 288.9h0M87.7 288.9h0M88.0 289.0h0M88.3 289.2h0M88.6 289.2h0M88.9 289.2h0M89.2 289.4h0M89.4 289.7h0M89.7 289.6h0M90.0 289.8h0M90.3 290.2h0M90.6 290.0h0M90.9 290.4h0M91.2 290.4h0M91.5 290.6h0M91.7 290.5h0M92.0 290.9h0M92.3 291.0h0M92.6 291.0h0M92.9 291.1h0M93.2 291.2h0M93.5 291.7h0M93.7 291.5h0M94.0 291.8h0M94.3 291.8h0M94.6 292.0h0M94.9 292.4h0M95.2 292.4h0M95.5 292.6h0M95.7 292.7h0M96.0 292.7h0M96.3 293.0h0M96.6 293.3h0M96.9 293.0h0M97.2 293.7h0M97.5 293.7h0M97.7 293.9h0M98.0 294.3h0M98.3 294.1h0M98.6 294.2h0M98.9 294.5h0M99.2 294.7h0M99.5 294.9h0M99.7 295.4h0M100.0 295.2h0M100.3 295.6h0M100.6 295.7h0M100.9 295.6h0M101.2 295.7h0M101.5 296.2h0M101.8 296.1h0M102.0 296.1h0M102.3 296.5h0M102.6 296.8h0M102.9 296.9h0M103.2 297.2h0M103.5 297.5h0M103.8 297.4h0M104.0 297.5h0M104.3 297.9h0M104.6 298.1h0M104.9 298.3h0M105.2 298.5h0M105.5 298.7h0M105.8 299.0h0M106.0 298.8h0M106.3 299.2h0M106.6 299.3h0M106.9 299.2h0M107.2 299.8h0M107.5 299.7h0M107.8 300.3h0M108.0 300.3h0M108.3 300.3h0M108.6 300.6h0M108.9 301.1h0M109.2 301.3h0M109.5 301.1h0M109.8 301.5h0M110.1 301.4h0M110.3 301.7h0M110.6 302.0h0M110.9 302.1h0M111.2 302.1h0M111.5 302.5h0M111.8 302.9h0M112.1 302.8h0M112.3 303.1h0M112.6 303.3h0M112.9 303.3h0M113.2 303.5h0M113.5 303.6h0M113.8 304.0h0M114.1 304.3h0M114.3 304.4h0M114.6 304.5h0M114.9 304.9h0M115.2 305.0h0M115.5 305.3h0M115.8 305.5h0M116.1 305.5h0M116.3 305.3h0M116.6 306.0h0M116.9 306.0h0M117.2 306.2h0M117.5 306.5h0M117.8 306.6h0M118.1 306.5h0M118.3 307.1h0M118.6 306.9h0M118.9 307.3h0M119.2 307.8h0M119.5 307.9h0M119.8 308.1h0M120.1 308.4h0M120.4 308.1h0M120.6 308.4h0M120.9 308.6h0M121.2 309.2h0M121.5 309.0h0M121.8 309.4h0M122.1 309.0h0M122.4 309.7h0M122.6 309.8h0M122.9 309.9h0M123.2 310.3h0M123.5 310.5h0M123.8 310.7h0M124.1 310.6h0M124.4 311.2h0M124.6 311.2h0M124.9 311.2h0M125.2 311.6h0M125.5 312.1h0M125.8 312.2h0M126.1 312.2h0M126.4 312.5h0M126.6 312.2h0M126.9 312.6h0M127.2 312.8h0M127.5 313.2h0M127.8 313.0h0M128.1 313.4h0M128.4 313.8h0M128.7 313.8h0M128.9 313.2h0M129.2 314.2h0M129.5 314.4h0M129.8 314.1h0M130.1 314.3h0M130.4 314.8h0M130.7 314.5h0M130.9 315.5h0M131.2 315.3h0M131.5 315.9h0M131.8 315.2h0M132.1 315.7h0M132.4 315.2h0M132.7 315.9h0M132.9 316.1h0M133.2 316.7h0M133.5 316.9h0M133.8 316.9h0M134.1 316.6h0M134.4 317.4h0M134.7 318.0h0M134.9 317.1h0M135.2 317.3h0M135.5 318.0h0M135.8 317.7h0M136.1 317.7h0M136.4 317.8h0M136.7 318.9h0M136.9 318.4h0M137.2 318.9h0M137.5 318.5h0M137.8 318.9h0M138.1 319.5h0M138.4 319.2h0M138.7 319.2h0M139.0 320.1h0M139.2 320.2h0M139.5 320.1h0M139.8 320.1h0M140.1 320.4h0M140.4 321.0h0M140.7 321.1h0M141.0 320.6h0M141.2 320.6h0M141.5 321.3h0M141.8 321.0h0M142.1 320.6h0M142.4 321.4h0M142.7 321.7h0M143.0 321.9h0M143.2 321.6h0M143.5 321.9h0M143.8 322.0h0M144.1 322.4h0M144.4 322.2h0M144.7 322.4h0M145.0 322.7h0M145.2 322.4h0M145.5 323.6h0M145.8 322.8h0M146.1 323.2h0M146.4 323.1h0M146.7 322.9h0M147.0 323.6h0M147.3 323.8h0M147.5 323.9h0M147.8 323.6h0M148.1 323.7h0M148.4 324.2h0M148.7 324.2h0M149.0 324.0h0M149.3 324.5h0M149.5 325.5h0M149.8 325.3h0M150.1 325.3h0M150.4 325.1h0M150.7 325.6h0M151.0 325.0h0M151.3 325.8h0M151.5 325.2h0M151.8 326.2h0M152.1 325.6h0M152.4 326.1h0M152.7 325.8h0M153.0 325.7h0M153.3 325.9h0M153.5 326.3h0M153.8 327.1h0M154.1 327.3h0M154.4 328.4h0M154.7 326.6h0M155.0 326.8h0M155.3 327.1h0M155.5 328.0h0M155.8 326.9h0M156.1 328.1h0M156.4 327.6h0M156.7 328.8h0M157.0 328.4h0M157.3 327.8h0M157.6 328.0h0M157.8 329.0h0M158.1 328.7h0M158.4 328.4h0M158.7 329.7h0M159.0 328.7h0M159.3 329.8h0M159.6 329.0h0M159.8 329.5h0M160.1 329.1h0M160.4 329.9h0M160.7 329.9h0M161.0 330.0h0M161.3 330.4h0M161.6 330.2h0M161.8 330.7h0M162.1 330.6h0M162.4 330.2h0M162.7 330.7h0M163.0 330.3h0M163.3 330.6h0M163.6 330.6h0M163.8 331.6h0M164.1 331.0h0M164.4 330.7h0M164.7 331.1h0M165.0 331.1h0M165.3 331.1h0M165.6 332.5h0M165.9 331.6h0M166.1 331.8h0M166.4 332.2h0M166.7 332.9h0M167.0 332.3h0M167.3 332.5h0M167.6 331.8h0M167.9 332.2h0M168.1 333.0h0M168.4 333.4h0M168.7 333.4h0M169.0 333.1h0M169.3 333.6h0M169.6 332.6h0M169.9 334.1h0M170.1 333.6h0M170.4 333.6h0M170.7 333.6h0M171.0 334.4h0M171.3 334.1h0M171.6 334.0h0M171.9 334.1h0M172.1 334.6h0M172.4 334.6h0M172.7 334.5h0M173.0 333.9h0M173.3 335.4h0M173.6 334.6h0M173.9 334.3h0M174.1 335.8h0M174.4 334.6h0M174.7 334.7h0M175.0 335.4h0M175.3 335.1h0M175.6 335.0h0M175.9 335.8h0M176.2 335.7h0M176.4 336.5h0M176.7 336.4h0M177.0 336.1h0M177.3 336.3h0M177.6 335.7h0M177.9 336.6h0M178.2 337.2h0M178.4 336.3h0M178.7 336.4h0M179.0 336.7h0M179.3 337.1h0M179.6 337.5h0M179.9 337.6h0M180.2 336.7h0M180.4 337.1h0M180.7 337.5h0M181.0 337.5h0M181.3 337.9h0M181.6 338.4h0M181.9 338.2h0M182.2 338.1h0M182.4 339.1h0M182.7 339.1h0M183.0 339.4h0M183.3 338.7h0M183.6 338.3h0M183.9 339.5h0M184.2 339.5h0M184.5 339.9h0M184.7 339.3h0M185.0 339.8h0M185.3 339.8h0M185.6 340.0h0M185.9 338.5h0M186.2 339.6h0M186.5 340.1h0M186.7 340.1h0M187.0 339.5h0M187.3 339.6h0M187.6 340.0h0M187.9 341.4h0M188.2 339.9h0M188.5 339.9h0M188.7 340.2h0M189.0 340.4h0M189.3 340.7h0M189.6 340.3h0M189.9 341.1h0M190.2 340.6h0M190.5 341.5h0M190.7 341.5h0M191.0 341.6h0M191.3 341.8h0M191.6 341.9h0M191.9 341.3h0M192.2 341.1h0M192.5 342.3h0M192.7 342.7h0M193.0 341.5h0M193.3 342.4h0M193.6 342.2h0M193.9 342.4h0M194.2 342.1h0M194.5 343.2h0M194.8 342.2h0M195.0 342.5h0M195.3 344.4h0M195.6 343.2h0M195.9 343.4h0M196.2 343.1h0M196.5 343.4h0M196.8 344.0h0M197.0 343.8h0M197.3 343.6h0M197.6 343.8h0M197.9 344.0h0M198.2 343.0h0M198.5 343.9h0M198.8 345.0h0M199.0 344.3h0M199.3 344.3h0M199.6 345.2h0M199.9 344.6h0M200.2 345.4h0M200.5 346.4h0M200.8 344.9h0M201.0 344.8h0M201.3 344.9h0M201.6 345.4h0M201.9 345.9h0M202.2 345.5h0M202.5 345.5h0M202.8 345.3h0M203.1 345.2h0M203.3 345.6h0M203.6 346.5h0M203.9 346.3h0M204.2 347.3h0M204.5 346.1h0M204.8 346.3h0M205.1 346.0h0M205.3 346.5h0M205.6 346.1h0M205.9 347.5h0M206.2 346.9h0M206.5 347.4h0M206.8 347.5h0M207.1 348.7h0M207.3 348.1h0M207.6 349.1h0M207.9 348.0h0M208.2 348.4h0M208.5 348.0h0M208.8 349.4h0M209.1 348.6h0M209.3 348.6h0M209.6 350.1h0M209.9 347.7h0M210.2 348.5h0M210.5 349.4h0M210.8 347.9h0M211.1 348.3h0M211.3 351.0h0M211.6 349.5h0M211.9 349.9h0M212.2 349.5h0M212.5 350.4h0M212.8 350.0h0M213.1 349.9h0M213.4 351.9h0M213.6 350.1h0M213.9 349.4h0M214.2 350.3h0M214.5 349.8h0M214.8 349.7h0M215.1 350.5h0M215.4 350.6h0M215.6 350.7h0M215.9 351.4h0M216.2 349.8h0M216.5 351.0h0M216.8 351.1h0M217.1 351.0h0M217.4 350.8h0M217.6 352.9h0M217.9 352.7h0M218.2 351.9h0M218.5 351.8h0M218.8 353.2h0M219.1 353.5h0M219.4 352.0h0M219.6 352.2h0M219.9 353.0h0M220.2 353.1h0M220.5 353.5h0M220.8 354.1h0M221.1 354.0h0M221.4 353.3h0M221.7 353.7h0M221.9 353.0h0M222.2 354.9h0M222.5 355.4h0M222.8 353.6h0M223.1 355.0h0M223.4 354.6h0M223.7 354.4h0M223.9 355.7h0M224.2 356.1h0M224.5 354.6h0M224.8 357.5h0M225.1 354.6h0M225.4 356.9h0M225.7 354.7h0M225.9 355.2h0M226.2 355.4h0M226.5 355.3h0M226.8 355.7h0M227.1 357.3h0M227.4 355.4h0M227.7 356.1h0M227.9 356.0h0M228.2 356.6h0M228.5 356.9h0M228.8 356.0h0M229.1 356.1h0M229.4 356.8h0M229.7 358.5h0M229.9 358.3h0M230.2 358.5h0M230.5 356.5h0M230.8 357.2h0M231.1 357.7h0M231.4 358.1h0M231.7 358.9h0M232.0 357.4h0M232.2 359.6h0M232.5 359.5h0M232.8 357.7h0M233.1 358.0h0M233.4 358.9h0M233.7 360.6h0M234.0 360.7h0M234.2 358.3h0M234.5 358.9h0M234.8 357.9h0M235.1 360.2h0M235.4 359.8h0M235.7 361.2h0M236.0 358.1h0M236.2 362.6h0M236.5 359.6h0M236.8 358.5h0M237.1 362.0h0M237.4 362.9h0M237.7 362.4h0M238.0 363.3h0M238.2 360.7h0M238.5 361.4h0M238.8 362.9h0M239.1 362.0h0M239.4 359.6h0M239.7 362.3h0M240.0 362.7h0M240.3 359.3h0M240.5 363.9h0M240.8 363.3h0M241.1 360.3h0M241.4 370.2h0M241.7 366.7h0M242.0 364.8h0M242.3 367.9h0M242.5 364.7h0M242.8 362.9h0M243.1 367.3h0M243.4 361.0h0M243.7 361.6h0M244.0 362.6h0M244.3 366.0h0M244.5 364.3h0M244.8 375.1h0M245.1 362.8h0M245.4 362.3h0M245.7 370.6h0M246.0 367.0h0M246.3 368.3h0M246.5 366.3h0M246.8 365.1h0M247.1 360.8h0M247.4 366.1h0M247.7 364.0h0M248.0 365.9h0M248.3 366.4h0M248.5 403.8h0M248.8 370.0h0M249.1 365.2h0M249.4 362.0h0M249.7 361.4h0M250.0 368.9h0M250.3 370.4h0M250.6 371.6h0M250.8 369.0h0M251.1 367.8h0M251.4 367.9h0M251.7 365.1h0M252.0 369.4h0M252.3 367.6h0M252.6 374.5h0M252.8 386.8h0M253.1 369.5h0M253.4 377.8h0M253.7 368.8h0M254.0 398.5h0M254.3 369.3h0M254.6 369.0h0M254.8 369.8h0M255.1 379.3h0M255.4 369.9h0M255.7 372.5h0M256.0 370.0h0M256.3 370.2h0M256.6 370.2h0M256.8 376.3h0M257.1 371.2h0M257.4 365.2h0M257.7 368.0h0M258.0 372.3h0M258.3 374.7h0M258.6 368.1h0M258.9 371.7h0M259.1 379.9h0M259.4 374.0h0M259.7 366.0h0M260.0 380.1h0M260.3 372.1h0M260.6 385.0h0M260.9 372.9h0M261.1 374.8h0M261.4 377.2h0M261.7 385.7h0M262.0 374.2h0M262.3 373.1h0M262.6 374.0h0M262.9 378.9h0M263.1 376.7h0M263.4 364.7h0M263.7 379.6h0M264.0 375.6h0M264.3 380.5h0M264.6 400.0h0M264.9 373.0h0M265.1 369.1h0M265.4 373.2h0M265.7 374.3h0M266.0 372.8h0M266.3 372.0h0M266.6 374.7h0M266.9 374.7h0M267.1 369.4h0M267.4 378.7h0M267.7 425.5h0M268.0 380.0h0M268.3 377.8h0M268.6 403.0h0M268.9 379.0h0M269.2 372.7h0M269.4 411.2h0M269.7 372.8h0M270.0 376.2h0M270.3 379.8h0M270.6 390.0h0M270.9 380.9h0M271.2 380.8h0M271.4 385.5h0M271.7 392.2h0M272.0 383.2h0M272.3 372.7h0M272.6 379.5h0M272.9 367.3h0M273.2 368.9h0M273.4 372.5h0M273.7 378.1h0M274.0 367.5h0M274.3 371.6h0M274.6 370.2h0M274.9 373.1h0M275.2 377.1h0M275.4 371.8h0M275.7 380.6h0M276.0 371.8h0M276.3 374.7h0M276.6 390.9h0M276.9 373.3h0M277.2 375.9h0M277.4 378.0h0M277.7 376.2h0M278.0 372.0h0M278.3 382.7h0M278.6 382.4h0M278.9 372.3h0M279.2 374.9h0M279.5 386.5h0M279.7 375.3h0M280.0 386.4h0M280.3 372.6h0M280.6 374.6h0M280.9 373.7h0M281.2 413.3h0M281.5 428.7h0M281.7 372.0h0M282.0 416.7h0M282.3 373.7h0M282.6 377.6h0M282.9 375.5h0M283.2 381.4h0M283.5 373.4h0M283.7 374.4h0M284.0 397.8h0M284.3 397.4h0M284.6 377.6h0M284.9 402.2h0M285.2 382.7h0M285.5 367.9h0M285.7 386.8h0M286.0 386.4h0M286.3 383.2h0M286.6 377.7h0M286.9 373.2h0M287.2 373.8h0M287.5 377.7h0M287.8 371.7h0M288.0 416.3h0M288.3 370.9h0M288.6 377.3h0M288.9 372.7h0M289.2 378.7h0M289.5 369.7h0M289.8 375.7h0M290.0 375.4h0M290.3 379.2h0M290.6 370.9h0M290.9 394.0h0M291.2 376.9h0M291.5 369.3h0M291.8 380.2h0M292.0 370.9h0M292.3 368.4h0M292.6 386.1h0M292.9 386.1h0M293.2 438.7h0M293.5 424.9h0M293.8 392.2h0M294.0 383.0h0M294.3 403.7h0M294.6 374.3h0M294.9 384.5h0M295.2 376.6h0M295.8 374.9h0M296.0 380.8h0M296.3 374.7h0M296.6 384.0h0M296.9 378.5h0M297.2 377.7h0M297.5 388.7h0M297.8 369.7h0M298.1 364.8h0M298.3 384.4h0M298.6 400.8h0M298.9 376.6h0M299.2 376.6h0M299.5 376.7h0M299.8 375.7h0M300.1 375.2h0M300.3 370.6h0M300.6 368.5h0M300.9 451.6h0M301.2 374.1h0M301.5 371.5h0M301.8 372.2h0M302.1 365.5h0M302.3 379.8h0M302.6 440.8h0M302.9 375.5h0M303.2 372.4h0M303.5 401.5h0M303.8 372.7h0M304.1 417.3h0M304.3 394.9h0M304.6 377.7h0M304.9 384.7h0M305.2 394.8h0M305.5 400.2h0M305.8 371.6h0M306.1 379.1h0M306.4 383.5h0M306.6 371.3h0M306.9 364.1h0M307.2 372.3h0M307.5 372.3h0M307.8 378.9h0M308.1 371.7h0M308.4 387.1h0M308.6 384.4h0M308.9 367.6h0M309.2 394.4h0M309.5 383.8h0M309.8 368.1h0M310.1 373.7h0M310.4 383.0h0M310.6 363.7h0M310.9 377.9h0M311.2 409.7h0M311.5 368.2h0M311.8 431.2h0M312.1 363.9h0M312.4 392.7h0M312.6 418.4h0M312.9 377.5h0M313.2 382.3h0M313.5 367.4h0M313.8 379.5h0M314.1 388.4h0M314.4 391.5h0M314.6 372.8h0M314.9 369.6h0M315.2 363.8h0M315.5 367.2h0M315.8 360.9h0M316.1 374.7h0M316.4 375.8h0M316.7 362.4h0M316.9 375.9h0M317.2 387.6h0M317.5 367.5h0M317.8 364.1h0M318.1 369.1h0M318.4 361.9h0M318.7 360.3h0M318.9 360.7h0M319.2 393.0h0M319.5 373.8h0M319.8 405.1h0M320.1 364.8h0M320.4 359.0h0M320.7 374.0h0M320.9 394.3h0M321.2 367.0h0M321.5 364.3h0M321.8 359.8h0M322.1 423.3h0M322.4 356.7h0M322.7 360.8h0M322.9 360.2h0M323.2 360.9h0M323.5 398.9h0M323.8 374.4h0M324.1 438.8h0M324.4 384.5h0M324.7 358.9h0M325.0 364.7h0M325.2 428.6h0" stroke="#2e2e2e" stroke-width="3.0" stroke-linecap="round" fill="none"/>
<path d="M53.9,282.2 54.8,282.1 55.7,282.1 56.6,282.1 57.5,282.1 58.4,282.1 59.3,282.2 60.3,282.2 61.2,282.3 62.1,282.4 63.0,282.4 63.9,282.5 64.8,282.7 65.7,282.8 66.6,282.9 67.5,283.1 68.4,283.2 69.3,283.4 70.2,283.6 71.1,283.8 72.0,284.0 73.0,284.2 73.9,284.5 74.8,284.7 75.7,285.0 76.6,285.2 77.5,285.5 78.4,285.8 79.3,286.1 80.2,286.4 81.1,286.7 82.0,287.0 82.9,287.4 83.8,287.7 84.8,288.1 85.7,288.4 86.6,288.8 87.5,289.2 88.4,289.6 89.3,290.0 90.2,290.4 91.1,290.8 92.0,291.2 92.9,291.6 93.8,292.1 94.7,292.5 95.6,292.9 96.6,293.4 97.5,293.9 98.4,294.3 99.3,294.8 100.2,295.3 101.1,295.8 102.0,296.2 102.9,296.7 103.8,297.2 104.7,297.8 105.6,298.3 106.5,298.8 107.4,299.3 108.3,299.8 109.3,300.4 110.2,300.9 111.1,301.4 112.0,302.0 112.9,302.5 113.8,303.1 114.7,303.6 115.6,304.2 116.5,304.7 117.4,305.3 118.3,305.9 119.2,306.4 120.1,307.0 121.1,307.6 122.0,308.2 122.9,308.8 123.8,309.3 124.7,309.9 125.6,310.5 126.5,311.1 127.4,311.7 128.3,312.3 129.2,312.9 130.1,313.5 131.0,314.2 131.9,314.8 132.9,315.4 133.8,316.0 134.7,316.7 135.6,317.3 136.5,318.0 137.4,318.6 138.3,319.3 139.2,319.9 140.1,320.6 141.0,321.2 141.9,321.9 142.8,322.6 143.7,323.3 144.6,324.0 145.6,324.7 146.5,325.4 147.4,326.1 148.3,326.8 149.2,327.5 150.1,328.2 151.0,328.9 151.9,329.7 152.8,330.4 153.7,331.1 154.6,331.8 155.5,332.5 156.4,333.2 157.4,333.9 158.3,334.6 159.2,335.3 160.1,336.0 161.0,336.6 161.9,337.3 162.8,337.9 163.7,338.6 164.6,339.2 165.5,339.8 166.4,340.3 167.3,340.9 168.2,341.4 169.2,341.9 170.1,342.5 171.0,343.0 171.9,343.4 172.8,343.9 173.7,344.4 174.6,344.9 175.5,345.3 176.4,345.8 177.3,346.2 178.2,346.6 179.1,347.1 180.0,347.5 180.9,347.9 181.9,348.4 182.8,348.8 183.7,349.2 184.6,349.7 185.5,350.1 186.4,350.6 187.3,351.0 188.2,351.5 189.1,351.9 190.0,352.4 190.9,352.8 191.8,353.3 192.7,353.7 193.7,354.2 194.6,354.6 195.5,355.1 196.4,355.6 197.3,356.0 198.2,356.5 199.1,357.0 200.0,357.4 200.9,357.9 201.8,358.4 202.7,358.8 203.6,359.3 204.5,359.8 205.4,360.2 206.4,360.7 207.3,361.2 208.2,361.7 209.1,362.1 210.0,362.6 210.9,363.1 211.8,363.6 212.7,364.1 213.6,364.5 214.5,365.0 215.4,365.5 216.3,366.0 217.2,366.5 218.2,367.0 219.1,367.4 220.0,367.9 220.9,368.4 221.8,368.9 222.7,369.4 223.6,369.8 224.5,370.3 225.4,370.8 226.3,371.2 227.2,371.7 228.1,372.1 229.0,372.5 230.0,373.0 230.9,373.4 231.8,373.8 232.7,374.2 233.6,374.6 234.5,375.0 235.4,375.4 236.3,375.7 237.2,376.1 238.1,376.4 239.0,376.7 239.9,377.1 240.8,377.4 241.7,377.7 242.7,378.0 243.6,378.3 244.5,378.5 245.4,378.8 246.3,379.1 247.2,379.3 248.1,379.6 249.0,379.8 249.9,380.0 250.8,380.2 251.7,380.4 252.6,380.6 253.5,380.8 254.5,381.0 255.4,381.2 256.3,381.4 257.2,381.5 258.1,381.7 259.0,381.8 259.9,382.0 260.8,382.1 261.7,382.2 262.6,382.3 263.5,382.4 264.4,382.6 265.3,382.7 266.3,382.8 267.2,382.8 268.1,382.9 269.0,383.0 269.9,383.1 270.8,383.2 271.7,383.2 272.6,383.3 273.5,383.3 274.4,383.4 275.3,383.4 276.2,383.5 277.1,383.5 278.0,383.6 279.0,383.6 279.9,383.6 280.8,383.7 281.7,383.7 282.6,383.7 283.5,383.7 284.4,383.8 285.3,383.8 286.2,383.8 287.1,383.8 288.0,383.8 288.9,383.9 289.8,383.9 290.8,383.9 291.7,383.9 292.6,383.9 293.5,383.9 294.4,383.9 295.3,383.9 296.2,384.0 297.1,384.0 298.0,384.0 298.9,384.0 299.8,384.0 300.7,384.0 301.6,384.1 302.6,384.1 303.5,384.1 304.4,384.1 305.3,384.1 306.2,384.2 307.1,384.2 308.0,384.2 308.9,384.3 309.8,384.3 310.7,384.4 311.6,384.4 312.5,384.5 313.4,384.5 314.3,384.6 315.3,384.7 316.2,384.7 317.1,384.8 318.0,384.9 318.9,385.0 319.8,385.0 320.7,385.1 321.6,385.2 322.5,385.3 323.4,385.5 324.3,385.6 325.2,385.7" stroke="#E69F00" stroke-width="1.9" fill="none" stroke-linejoin="round"/>
</g>
<path d="M51.70,266.10H328.80V451.00H51.70Z" fill="none" stroke="#000" stroke-width="1.5"/>
<path d="M48.70,450.61H51.70M48.70,447.22H51.70M48.70,444.35H51.70M48.70,441.86H51.70M48.70,439.66H51.70M46.70,437.70H51.70M48.70,424.79H51.70M48.70,417.23H51.70M48.70,411.87H51.70M48.70,407.71H51.70M48.70,404.32H51.70M48.70,401.45H51.70M48.70,398.96H51.70M48.70,396.76H51.70M46.70,394.80H51.70M48.70,381.89H51.70M48.70,374.33H51.70M48.70,368.97H51.70M48.70,364.81H51.70M48.70,361.42H51.70M48.70,358.55H51.70M48.70,356.06H51.70M48.70,353.86H51.70M46.70,351.90H51.70M48.70,338.99H51.70M48.70,331.43H51.70M48.70,326.07H51.70M48.70,321.91H51.70M48.70,318.52H51.70M48.70,315.65H51.70M48.70,313.16H51.70M48.70,310.96H51.70M46.70,309.00H51.70M48.70,296.09H51.70M48.70,288.53H51.70M48.70,283.17H51.70M48.70,279.01H51.70M48.70,275.62H51.70M48.70,272.75H51.70M48.70,270.26H51.70M48.70,268.06H51.70M46.70,266.10H51.70" stroke="#000" stroke-width="1.3" fill="none"/>
<path d="M51.70,451.00V456.00M91.29,451.00V456.00M130.87,451.00V456.00M170.46,451.00V456.00M210.04,451.00V456.00M249.63,451.00V456.00M289.21,451.00V456.00M328.80,451.00V456.00" stroke="#000" stroke-width="1.3" fill="none"/>
<text x="44.90" y="268.90" font-size="7.9" text-anchor="end" fill="#111">10</text>
<text x="44.90" y="311.80" font-size="7.9" text-anchor="end" fill="#111">1</text>
<text x="44.90" y="354.70" font-size="7.9" text-anchor="end" fill="#111">0.1</text>
<text x="44.90" y="397.60" font-size="7.9" text-anchor="end" fill="#111">0.01</text>
<text x="44.90" y="440.50" font-size="7.9" text-anchor="end" fill="#111">0.001</text>
<text x="51.70" y="464.80" font-size="7.9" text-anchor="middle" fill="#111">0.00</text>
<text x="91.29" y="464.80" font-size="7.9" text-anchor="middle" fill="#111">0.05</text>
<text x="130.87" y="464.80" font-size="7.9" text-anchor="middle" fill="#111">0.10</text>
<text x="170.46" y="464.80" font-size="7.9" text-anchor="middle" fill="#111">0.15</text>
<text x="210.04" y="464.80" font-size="7.9" text-anchor="middle" fill="#111">0.20</text>
<text x="249.63" y="464.80" font-size="7.9" text-anchor="middle" fill="#111">0.25</text>
<text x="289.21" y="464.80" font-size="7.9" text-anchor="middle" fill="#111">0.30</text>
<text x="328.80" y="464.80" font-size="7.9" text-anchor="middle" fill="#111">0.35</text>
<text x="190.25" y="483.40" font-size="10" font-weight="bold" text-anchor="middle">q (Å<tspan font-size="6.5" dy="-4">-1</tspan><tspan dy="4">)</tspan></text>
<text transform="translate(19.40,358.55) rotate(-90)" font-size="10.3" font-weight="bold" text-anchor="middle">I(q) (cm<tspan font-size="6.5" dy="-4.6">-1</tspan><tspan dy="4.6">)</tspan></text>
<text x="14.6" y="263.8" font-size="16" font-weight="bold">B)</text>
<circle cx="179.2" cy="286.4" r="1.5" fill="#000"/>
<path d="M173.60,301.30H184.80" stroke="#E69F00" stroke-width="1.6"/>
<text x="188.5" y="288.1" font-size="10.4" fill="#111">N188D/N214D monomer</text>
<text x="188.5" y="303.9" font-size="10.4" fill="#111">1GRI monomer (χ<tspan font-size="7" dy="-3.5">2</tspan><tspan dy="3.5">=59.5)</tspan></text>
<g clip-path="url(#plotC)">
<path d="M157.6 576.0V579.1M169.3 581.0V584.3M171.9 582.2V585.4M175.3 583.9V587.0M178.8 584.1V587.3M182.8 585.7V589.0M187.9 588.4V591.5M189.1 588.3V591.5M191.7 589.2V592.3M193.4 590.1V593.1M195.7 590.6V593.8M197.4 591.2V594.6M206.5 594.4V597.9M208.0 595.5V599.3M209.1 596.5V600.2M211.7 597.9V601.8M215.7 598.3V601.9M216.0 598.4V601.5M217.4 598.7V602.4M218.0 600.6V605.0M218.6 598.8V602.3M220.0 600.7V604.2M220.3 599.3V603.3M220.9 600.6V604.4M221.4 600.3V604.2M222.6 601.0V604.1M223.7 602.3V605.6M224.3 602.4V606.5M228.0 602.9V606.1M228.6 604.9V608.3M228.9 604.3V608.3M230.6 604.1V608.3M231.2 606.0V609.0M232.6 604.9V609.6M233.4 607.1V611.2M234.6 606.0V610.4M234.9 606.2V610.4M236.6 606.9V610.5M236.9 608.3V612.6M237.5 608.2V612.2M238.0 608.2V612.2M238.3 608.6V612.7M238.6 608.9V613.0M238.9 610.5V616.0M239.5 607.7V612.0M239.7 609.7V613.4M240.6 609.8V614.1M240.9 609.8V615.0M241.2 609.9V613.1M241.7 609.7V613.6M242.0 610.5V613.9M242.6 610.2V613.3M242.9 610.7V614.3M243.2 611.9V615.1M243.8 610.7V613.8M244.0 610.6V614.4M244.3 611.7V617.1M244.9 611.3V615.8M245.2 610.6V615.2M245.5 610.5V616.4M246.0 611.8V616.6M246.3 611.6V615.6M246.6 613.2V616.9M246.9 614.9V621.4M247.5 613.2V620.4M248.0 613.8V617.3M248.3 615.0V622.1M248.9 614.5V619.7M249.2 615.5V622.6M249.8 616.5V622.7M250.1 615.1V620.9M250.3 614.5V619.5M250.6 616.5V623.4M250.9 616.3V621.5M251.2 615.1V622.7M251.5 617.6V625.7M251.8 616.6V622.0M252.1 617.5V621.1M252.3 614.8V625.2M252.6 617.9V627.2M252.9 616.1V621.1M253.2 620.8V628.7M253.5 613.8V621.2M253.8 616.2V619.9M254.1 619.2V630.4M254.3 616.4V631.1M254.6 613.0V625.6M254.9 616.8V627.5M255.2 620.1V635.0M255.5 617.1V624.1M255.8 618.5V624.1M256.1 616.1V621.6M256.3 615.8V629.6M256.6 621.6V633.9M256.9 616.7V628.2M257.2 614.8V628.3M257.5 612.9V631.9M257.8 615.4V633.6M258.1 629.5V639.5M258.4 625.5V639.4M258.6 616.0V632.7M258.9 612.8V633.2M259.2 626.2V639.7M259.5 627.0V635.8M259.8 613.8V623.6M260.1 618.3V627.7M260.4 614.8V630.0M260.6 620.4V633.0M260.9 630.6V645.5M261.2 616.4V637.6M261.5 622.4V631.6M261.8 618.0V638.2M262.1 626.7V646.8M262.4 616.3V634.3M262.6 613.0V628.9M262.9 609.0V631.6M263.2 618.5V642.1M263.5 610.0V622.3M263.8 617.3V634.5M264.1 623.5V643.7M264.4 622.2V638.1M264.6 618.3V637.0M264.9 683.9V700.0M265.2 615.7V641.6M265.5 620.3V646.2M265.8 620.7V650.6M266.1 614.1V642.8M266.4 616.1V628.9M266.7 614.1V638.8M266.9 616.6V631.3M267.2 614.1V639.1M267.5 613.6V638.5M267.8 619.6V635.5M268.1 671.8V691.0M268.4 619.1V639.3M268.7 641.6V659.0M268.9 620.3V639.8M269.2 614.9V637.5M269.5 616.5V636.9M269.8 616.0V644.0M270.1 618.6V634.0M270.4 618.8V632.7M270.7 649.2V660.5M270.9 648.7V670.7M271.2 621.9V632.7M271.5 627.1V641.4M271.8 615.6V640.9M272.1 675.5V700.0M272.4 621.3V640.8M272.7 616.4V640.3M273.0 627.0V658.6M273.2 616.6V646.8M273.5 613.7V637.0M273.8 616.9V640.8M274.1 642.8V666.3M274.4 625.5V650.4M274.7 619.6V628.8M275.0 654.8V676.1M275.2 610.4V623.5M275.5 619.4V639.7M275.8 619.8V634.4M276.1 618.6V634.8M276.4 654.3V666.5M276.7 621.4V635.7M277.0 658.5V677.1M277.2 616.2V647.8M277.5 621.9V638.1M277.8 626.3V655.2M278.1 633.7V648.4M278.4 615.3V633.3M278.7 622.1V633.4M279.0 621.1V644.7M279.2 620.5V641.4M279.5 650.0V677.2M279.8 613.6V625.4M280.1 614.3V631.4M280.4 635.9V654.8M280.7 646.6V669.1M281.0 632.0V662.5M281.3 622.0V648.1M281.5 614.1V634.0M281.8 616.6V635.3M282.1 615.7V636.3M282.4 619.1V637.7M282.7 627.8V647.7M283.0 610.9V641.5M283.3 617.9V641.3M283.5 615.4V642.9M283.8 619.3V636.4M284.1 628.6V646.3M284.4 616.3V643.5M284.7 618.0V634.0M285.0 637.1V660.3M285.3 618.2V629.7M285.5 621.0V633.8M285.8 614.5V634.4M286.1 616.5V635.4M286.4 610.9V634.0M286.7 633.9V657.2M287.0 622.5V641.9M287.3 614.6V642.3M287.6 614.2V627.1M287.8 625.5V642.2M288.1 638.9V651.7M288.4 635.0V656.9M288.7 612.4V635.0M289.0 619.2V634.9M289.3 615.0V641.6M289.6 614.5V631.4M289.8 621.7V643.4M290.1 658.0V670.0M290.4 615.4V639.8M290.7 610.9V636.7M291.0 614.9V637.3M291.3 613.1V634.9M291.6 671.6V700.0M291.8 615.7V634.2M292.1 631.1V662.5M292.4 620.4V638.9M292.7 629.5V656.8M293.0 625.5V655.4M293.3 616.3V635.5M293.6 615.6V644.0M293.8 619.7V635.6M294.1 623.4V635.8M294.4 626.7V660.3M294.7 625.8V656.7M295.0 649.0V669.5M295.3 629.0V660.4M295.6 610.1V625.3M295.9 635.2V651.6M296.1 608.7V626.8M296.4 615.6V628.6M296.7 622.2V640.8M297.0 616.9V638.1M297.3 622.8V634.2M297.6 612.7V700.0M297.9 619.5V639.6M298.1 674.6V690.6M298.4 622.9V640.8M298.7 628.4V661.6M299.0 625.0V640.3M299.3 632.6V656.9M299.6 674.0V688.1M299.9 637.4V661.4M300.1 663.8V699.8M300.4 615.1V628.9M300.7 620.0V642.6M301.0 613.2V642.0M301.3 615.1V631.0M301.6 616.3V652.5M301.9 628.9V644.9M302.1 621.9V654.3M302.4 621.3V636.7M302.7 611.8V626.7M303.0 618.3V633.7M303.3 620.4V635.1M303.6 626.7V637.9M303.9 633.0V648.4M304.2 618.5V629.1M304.4 631.1V649.8M304.7 632.1V653.2M305.0 617.6V637.3M305.3 618.8V647.6M305.6 651.7V667.8M305.9 619.0V636.4M306.2 662.5V678.2M306.4 619.6V637.2M306.7 626.7V659.8M307.0 616.8V631.7M307.3 625.4V651.5M307.6 630.1V649.0M307.9 614.0V641.2M308.2 613.4V627.5M308.4 617.9V644.9M308.7 619.0V632.3M309.0 611.1V627.6M309.3 610.3V623.6M309.6 624.1V700.0M309.9 620.1V641.1M310.2 610.5V623.6M310.5 614.8V651.0M310.7 621.7V644.3M311.0 607.5V628.8M311.3 606.3V625.6M311.6 617.8V636.8M311.9 611.0V639.8M312.2 632.8V655.8M312.5 654.8V682.9M312.7 689.0V700.0M313.0 616.4V633.4M313.3 615.9V634.6M313.6 616.0V646.3M313.9 620.4V646.6M314.2 611.9V627.7M314.5 639.2V652.7M314.7 613.7V631.6M315.0 640.8V661.8M315.3 607.1V631.8M315.6 614.8V643.7M315.9 616.4V639.8M316.2 610.6V623.3M316.5 608.3V624.2M316.7 603.6V627.5M317.0 619.6V634.7M317.3 635.2V660.9M317.6 616.6V639.5M317.9 601.6V624.8M318.2 666.0V674.7M318.5 621.2V637.4M318.8 620.1V637.8M319.0 630.5V645.3M319.3 603.7V633.7M319.6 610.3V623.7M319.9 612.1V622.6M320.2 604.5V623.2M320.5 661.9V690.6M320.8 605.7V626.2M321.0 626.2V643.2M321.3 606.7V631.8M321.6 597.0V623.7M321.9 602.0V618.9M322.2 603.2V616.6M322.5 604.9V617.5M322.8 611.9V638.7M323.0 609.4V622.9M323.3 594.7V616.8M323.6 644.7V700.0M323.9 604.0V632.4M324.2 595.2V618.6M324.5 613.1V629.9M324.8 597.7V609.2M325.0 597.8V620.0M325.3 601.8V700.0" stroke="#b4b4b4" stroke-width="1.0" fill="none"/>
<path d="M156.5 576.0h2.2M156.5 579.1h2.2M168.2 581.0h2.2M168.2 584.3h2.2M170.8 582.2h2.2M170.8 585.4h2.2M174.2 583.9h2.2M174.2 587.0h2.2M177.7 584.1h2.2M177.7 587.3h2.2M181.7 585.7h2.2M181.7 589.0h2.2M186.8 588.4h2.2M186.8 591.5h2.2M188.0 588.3h2.2M188.0 591.5h2.2M190.6 589.2h2.2M190.6 592.3h2.2M192.3 590.1h2.2M192.3 593.1h2.2M194.6 590.6h2.2M194.6 593.8h2.2M196.3 591.2h2.2M196.3 594.6h2.2M205.4 594.4h2.2M205.4 597.9h2.2M206.9 595.5h2.2M206.9 599.3h2.2M208.0 596.5h2.2M208.0 600.2h2.2M210.6 597.9h2.2M210.6 601.8h2.2M214.6 598.3h2.2M214.6 601.9h2.2M214.9 598.4h2.2M214.9 601.5h2.2M216.3 598.7h2.2M216.3 602.4h2.2M216.9 600.6h2.2M216.9 605.0h2.2M217.5 598.8h2.2M217.5 602.3h2.2M218.9 600.7h2.2M218.9 604.2h2.2M219.2 599.3h2.2M219.2 603.3h2.2M219.8 600.6h2.2M219.8 604.4h2.2M220.3 600.3h2.2M220.3 604.2h2.2M221.5 601.0h2.2M221.5 604.1h2.2M222.6 602.3h2.2M222.6 605.6h2.2M223.2 602.4h2.2M223.2 606.5h2.2M226.9 602.9h2.2M226.9 606.1h2.2M227.5 604.9h2.2M227.5 608.3h2.2M227.8 604.3h2.2M227.8 608.3h2.2M229.5 604.1h2.2M229.5 608.3h2.2M230.1 606.0h2.2M230.1 609.0h2.2M231.5 604.9h2.2M231.5 609.6h2.2M232.3 607.1h2.2M232.3 611.2h2.2M233.5 606.0h2.2M233.5 610.4h2.2M233.8 606.2h2.2M233.8 610.4h2.2M235.5 606.9h2.2M235.5 610.5h2.2M235.8 608.3h2.2M235.8 612.6h2.2M236.4 608.2h2.2M236.4 612.2h2.2M236.9 608.2h2.2M236.9 612.2h2.2M237.2 608.6h2.2M237.2 612.7h2.2M237.5 608.9h2.2M237.5 613.0h2.2M237.8 610.5h2.2M237.8 616.0h2.2M238.4 607.7h2.2M238.4 612.0h2.2M238.6 609.7h2.2M238.6 613.4h2.2M239.5 609.8h2.2M239.5 614.1h2.2M239.8 609.8h2.2M239.8 615.0h2.2M240.1 609.9h2.2M240.1 613.1h2.2M240.6 609.7h2.2M240.6 613.6h2.2M240.9 610.5h2.2M240.9 613.9h2.2M241.5 610.2h2.2M241.5 613.3h2.2M241.8 610.7h2.2M241.8 614.3h2.2M242.1 611.9h2.2M242.1 615.1h2.2M242.7 610.7h2.2M242.7 613.8h2.2M242.9 610.6h2.2M242.9 614.4h2.2M243.2 611.7h2.2M243.2 617.1h2.2M243.8 611.3h2.2M243.8 615.8h2.2M244.1 610.6h2.2M244.1 615.2h2.2M244.4 610.5h2.2M244.4 616.4h2.2M244.9 611.8h2.2M244.9 616.6h2.2M245.2 611.6h2.2M245.2 615.6h2.2M245.5 613.2h2.2M245.5 616.9h2.2M245.8 614.9h2.2M245.8 621.4h2.2M246.4 613.2h2.2M246.4 620.4h2.2M246.9 613.8h2.2M246.9 617.3h2.2M247.2 615.0h2.2M247.2 622.1h2.2M247.8 614.5h2.2M247.8 619.7h2.2M248.1 615.5h2.2M248.1 622.6h2.2M248.7 616.5h2.2M248.7 622.7h2.2M249.0 615.1h2.2M249.0 620.9h2.2M249.2 614.5h2.2M249.2 619.5h2.2M249.5 616.5h2.2M249.5 623.4h2.2M249.8 616.3h2.2M249.8 621.5h2.2M250.1 615.1h2.2M250.1 622.7h2.2M250.4 617.6h2.2M250.4 625.7h2.2M250.7 616.6h2.2M250.7 622.0h2.2M251.0 617.5h2.2M251.0 621.1h2.2M251.2 614.8h2.2M251.2 625.2h2.2M251.5 617.9h2.2M251.5 627.2h2.2M251.8 616.1h2.2M251.8 621.1h2.2M252.1 620.8h2.2M252.1 628.7h2.2M252.4 613.8h2.2M252.4 621.2h2.2M252.7 616.2h2.2M252.7 619.9h2.2M253.0 619.2h2.2M253.0 630.4h2.2M253.2 616.4h2.2M253.2 631.1h2.2M253.5 613.0h2.2M253.5 625.6h2.2M253.8 616.8h2.2M253.8 627.5h2.2M254.1 620.1h2.2M254.1 635.0h2.2M254.4 617.1h2.2M254.4 624.1h2.2M254.7 618.5h2.2M254.7 624.1h2.2M255.0 616.1h2.2M255.0 621.6h2.2M255.2 615.8h2.2M255.2 629.6h2.2M255.5 621.6h2.2M255.5 633.9h2.2M255.8 616.7h2.2M255.8 628.2h2.2M256.1 614.8h2.2M256.1 628.3h2.2M256.4 612.9h2.2M256.4 631.9h2.2M256.7 615.4h2.2M256.7 633.6h2.2M257.0 629.5h2.2M257.0 639.5h2.2M257.3 625.5h2.2M257.3 639.4h2.2M257.5 616.0h2.2M257.5 632.7h2.2M257.8 612.8h2.2M257.8 633.2h2.2M258.1 626.2h2.2M258.1 639.7h2.2M258.4 627.0h2.2M258.4 635.8h2.2M258.7 613.8h2.2M258.7 623.6h2.2M259.0 618.3h2.2M259.0 627.7h2.2M259.3 614.8h2.2M259.3 630.0h2.2M259.5 620.4h2.2M259.5 633.0h2.2M259.8 630.6h2.2M259.8 645.5h2.2M260.1 616.4h2.2M260.1 637.6h2.2M260.4 622.4h2.2M260.4 631.6h2.2M260.7 618.0h2.2M260.7 638.2h2.2M261.0 626.7h2.2M261.0 646.8h2.2M261.3 616.3h2.2M261.3 634.3h2.2M261.5 613.0h2.2M261.5 628.9h2.2M261.8 609.0h2.2M261.8 631.6h2.2M262.1 618.5h2.2M262.1 642.1h2.2M262.4 610.0h2.2M262.4 622.3h2.2M262.7 617.3h2.2M262.7 634.5h2.2M263.0 623.5h2.2M263.0 643.7h2.2M263.3 622.2h2.2M263.3 638.1h2.2M263.5 618.3h2.2M263.5 637.0h2.2M263.8 683.9h2.2M264.1 615.7h2.2M264.1 641.6h2.2M264.4 620.3h2.2M264.4 646.2h2.2M264.7 620.7h2.2M264.7 650.6h2.2M265.0 614.1h2.2M265.0 642.8h2.2M265.3 616.1h2.2M265.3 628.9h2.2M265.6 614.1h2.2M265.6 638.8h2.2M265.8 616.6h2.2M265.8 631.3h2.2M266.1 614.1h2.2M266.1 639.1h2.2M266.4 613.6h2.2M266.4 638.5h2.2M266.7 619.6h2.2M266.7 635.5h2.2M267.0 671.8h2.2M267.0 691.0h2.2M267.3 619.1h2.2M267.3 639.3h2.2M267.6 641.6h2.2M267.6 659.0h2.2M267.8 620.3h2.2M267.8 639.8h2.2M268.1 614.9h2.2M268.1 637.5h2.2M268.4 616.5h2.2M268.4 636.9h2.2M268.7 616.0h2.2M268.7 644.0h2.2M269.0 618.6h2.2M269.0 634.0h2.2M269.3 618.8h2.2M269.3 632.7h2.2M269.6 649.2h2.2M269.6 660.5h2.2M269.8 648.7h2.2M269.8 670.7h2.2M270.1 621.9h2.2M270.1 632.7h2.2M270.4 627.1h2.2M270.4 641.4h2.2M270.7 615.6h2.2M270.7 640.9h2.2M271.0 675.5h2.2M271.3 621.3h2.2M271.3 640.8h2.2M271.6 616.4h2.2M271.6 640.3h2.2M271.9 627.0h2.2M271.9 658.6h2.2M272.1 616.6h2.2M272.1 646.8h2.2M272.4 613.7h2.2M272.4 637.0h2.2M272.7 616.9h2.2M272.7 640.8h2.2M273.0 642.8h2.2M273.0 666.3h2.2M273.3 625.5h2.2M273.3 650.4h2.2M273.6 619.6h2.2M273.6 628.8h2.2M273.9 654.8h2.2M273.9 676.1h2.2M274.1 610.4h2.2M274.1 623.5h2.2M274.4 619.4h2.2M274.4 639.7h2.2M274.7 619.8h2.2M274.7 634.4h2.2M275.0 618.6h2.2M275.0 634.8h2.2M275.3 654.3h2.2M275.3 666.5h2.2M275.6 621.4h2.2M275.6 635.7h2.2M275.9 658.5h2.2M275.9 677.1h2.2M276.1 616.2h2.2M276.1 647.8h2.2M276.4 621.9h2.2M276.4 638.1h2.2M276.7 626.3h2.2M276.7 655.2h2.2M277.0 633.7h2.2M277.0 648.4h2.2M277.3 615.3h2.2M277.3 633.3h2.2M277.6 622.1h2.2M277.6 633.4h2.2M277.9 621.1h2.2M277.9 644.7h2.2M278.1 620.5h2.2M278.1 641.4h2.2M278.4 650.0h2.2M278.4 677.2h2.2M278.7 613.6h2.2M278.7 625.4h2.2M279.0 614.3h2.2M279.0 631.4h2.2M279.3 635.9h2.2M279.3 654.8h2.2M279.6 646.6h2.2M279.6 669.1h2.2M279.9 632.0h2.2M279.9 662.5h2.2M280.2 622.0h2.2M280.2 648.1h2.2M280.4 614.1h2.2M280.4 634.0h2.2M280.7 616.6h2.2M280.7 635.3h2.2M281.0 615.7h2.2M281.0 636.3h2.2M281.3 619.1h2.2M281.3 637.7h2.2M281.6 627.8h2.2M281.6 647.7h2.2M281.9 610.9h2.2M281.9 641.5h2.2M282.2 617.9h2.2M282.2 641.3h2.2M282.4 615.4h2.2M282.4 642.9h2.2M282.7 619.3h2.2M282.7 636.4h2.2M283.0 628.6h2.2M283.0 646.3h2.2M283.3 616.3h2.2M283.3 643.5h2.2M283.6 618.0h2.2M283.6 634.0h2.2M283.9 637.1h2.2M283.9 660.3h2.2M284.2 618.2h2.2M284.2 629.7h2.2M284.4 621.0h2.2M284.4 633.8h2.2M284.7 614.5h2.2M284.7 634.4h2.2M285.0 616.5h2.2M285.0 635.4h2.2M285.3 610.9h2.2M285.3 634.0h2.2M285.6 633.9h2.2M285.6 657.2h2.2M285.9 622.5h2.2M285.9 641.9h2.2M286.2 614.6h2.2M286.2 642.3h2.2M286.5 614.2h2.2M286.5 627.1h2.2M286.7 625.5h2.2M286.7 642.2h2.2M287.0 638.9h2.2M287.0 651.7h2.2M287.3 635.0h2.2M287.3 656.9h2.2M287.6 612.4h2.2M287.6 635.0h2.2M287.9 619.2h2.2M287.9 634.9h2.2M288.2 615.0h2.2M288.2 641.6h2.2M288.5 614.5h2.2M288.5 631.4h2.2M288.7 621.7h2.2M288.7 643.4h2.2M289.0 658.0h2.2M289.0 670.0h2.2M289.3 615.4h2.2M289.3 639.8h2.2M289.6 610.9h2.2M289.6 636.7h2.2M289.9 614.9h2.2M289.9 637.3h2.2M290.2 613.1h2.2M290.2 634.9h2.2M290.5 671.6h2.2M290.7 615.7h2.2M290.7 634.2h2.2M291.0 631.1h2.2M291.0 662.5h2.2M291.3 620.4h2.2M291.3 638.9h2.2M291.6 629.5h2.2M291.6 656.8h2.2M291.9 625.5h2.2M291.9 655.4h2.2M292.2 616.3h2.2M292.2 635.5h2.2M292.5 615.6h2.2M292.5 644.0h2.2M292.7 619.7h2.2M292.7 635.6h2.2M293.0 623.4h2.2M293.0 635.8h2.2M293.3 626.7h2.2M293.3 660.3h2.2M293.6 625.8h2.2M293.6 656.7h2.2M293.9 649.0h2.2M293.9 669.5h2.2M294.2 629.0h2.2M294.2 660.4h2.2M294.5 610.1h2.2M294.5 625.3h2.2M294.8 635.2h2.2M294.8 651.6h2.2M295.0 608.7h2.2M295.0 626.8h2.2M295.3 615.6h2.2M295.3 628.6h2.2M295.6 622.2h2.2M295.6 640.8h2.2M295.9 616.9h2.2M295.9 638.1h2.2M296.2 622.8h2.2M296.2 634.2h2.2M296.5 612.7h2.2M296.8 619.5h2.2M296.8 639.6h2.2M297.0 674.6h2.2M297.0 690.6h2.2M297.3 622.9h2.2M297.3 640.8h2.2M297.6 628.4h2.2M297.6 661.6h2.2M297.9 625.0h2.2M297.9 640.3h2.2M298.2 632.6h2.2M298.2 656.9h2.2M298.5 674.0h2.2M298.5 688.1h2.2M298.8 637.4h2.2M298.8 661.4h2.2M299.0 663.8h2.2M299.0 699.8h2.2M299.3 615.1h2.2M299.3 628.9h2.2M299.6 620.0h2.2M299.6 642.6h2.2M299.9 613.2h2.2M299.9 642.0h2.2M300.2 615.1h2.2M300.2 631.0h2.2M300.5 616.3h2.2M300.5 652.5h2.2M300.8 628.9h2.2M300.8 644.9h2.2M301.0 621.9h2.2M301.0 654.3h2.2M301.3 621.3h2.2M301.3 636.7h2.2M301.6 611.8h2.2M301.6 626.7h2.2M301.9 618.3h2.2M301.9 633.7h2.2M302.2 620.4h2.2M302.2 635.1h2.2M302.5 626.7h2.2M302.5 637.9h2.2M302.8 633.0h2.2M302.8 648.4h2.2M303.1 618.5h2.2M303.1 629.1h2.2M303.3 631.1h2.2M303.3 649.8h2.2M303.6 632.1h2.2M303.6 653.2h2.2M303.9 617.6h2.2M303.9 637.3h2.2M304.2 618.8h2.2M304.2 647.6h2.2M304.5 651.7h2.2M304.5 667.8h2.2M304.8 619.0h2.2M304.8 636.4h2.2M305.1 662.5h2.2M305.1 678.2h2.2M305.3 619.6h2.2M305.3 637.2h2.2M305.6 626.7h2.2M305.6 659.8h2.2M305.9 616.8h2.2M305.9 631.7h2.2M306.2 625.4h2.2M306.2 651.5h2.2M306.5 630.1h2.2M306.5 649.0h2.2M306.8 614.0h2.2M306.8 641.2h2.2M307.1 613.4h2.2M307.1 627.5h2.2M307.3 617.9h2.2M307.3 644.9h2.2M307.6 619.0h2.2M307.6 632.3h2.2M307.9 611.1h2.2M307.9 627.6h2.2M308.2 610.3h2.2M308.2 623.6h2.2M308.5 624.1h2.2M308.8 620.1h2.2M308.8 641.1h2.2M309.1 610.5h2.2M309.1 623.6h2.2M309.4 614.8h2.2M309.4 651.0h2.2M309.6 621.7h2.2M309.6 644.3h2.2M309.9 607.5h2.2M309.9 628.8h2.2M310.2 606.3h2.2M310.2 625.6h2.2M310.5 617.8h2.2M310.5 636.8h2.2M310.8 611.0h2.2M310.8 639.8h2.2M311.1 632.8h2.2M311.1 655.8h2.2M311.4 654.8h2.2M311.4 682.9h2.2M311.6 689.0h2.2M311.9 616.4h2.2M311.9 633.4h2.2M312.2 615.9h2.2M312.2 634.6h2.2M312.5 616.0h2.2M312.5 646.3h2.2M312.8 620.4h2.2M312.8 646.6h2.2M313.1 611.9h2.2M313.1 627.7h2.2M313.4 639.2h2.2M313.4 652.7h2.2M313.6 613.7h2.2M313.6 631.6h2.2M313.9 640.8h2.2M313.9 661.8h2.2M314.2 607.1h2.2M314.2 631.8h2.2M314.5 614.8h2.2M314.5 643.7h2.2M314.8 616.4h2.2M314.8 639.8h2.2M315.1 610.6h2.2M315.1 623.3h2.2M315.4 608.3h2.2M315.4 624.2h2.2M315.6 603.6h2.2M315.6 627.5h2.2M315.9 619.6h2.2M315.9 634.7h2.2M316.2 635.2h2.2M316.2 660.9h2.2M316.5 616.6h2.2M316.5 639.5h2.2M316.8 601.6h2.2M316.8 624.8h2.2M317.1 666.0h2.2M317.1 674.7h2.2M317.4 621.2h2.2M317.4 637.4h2.2M317.7 620.1h2.2M317.7 637.8h2.2M317.9 630.5h2.2M317.9 645.3h2.2M318.2 603.7h2.2M318.2 633.7h2.2M318.5 610.3h2.2M318.5 623.7h2.2M318.8 612.1h2.2M318.8 622.6h2.2M319.1 604.5h2.2M319.1 623.2h2.2M319.4 661.9h2.2M319.4 690.6h2.2M319.7 605.7h2.2M319.7 626.2h2.2M319.9 626.2h2.2M319.9 643.2h2.2M320.2 606.7h2.2M320.2 631.8h2.2M320.5 597.0h2.2M320.5 623.7h2.2M320.8 602.0h2.2M320.8 618.9h2.2M321.1 603.2h2.2M321.1 616.6h2.2M321.4 604.9h2.2M321.4 617.5h2.2M321.7 611.9h2.2M321.7 638.7h2.2M321.9 609.4h2.2M321.9 622.9h2.2M322.2 594.7h2.2M322.2 616.8h2.2M322.5 644.7h2.2M322.8 604.0h2.2M322.8 632.4h2.2M323.1 595.2h2.2M323.1 618.6h2.2M323.4 613.1h2.2M323.4 629.9h2.2M323.7 597.7h2.2M323.7 609.2h2.2M323.9 597.8h2.2M323.9 620.0h2.2M324.2 601.8h2.2" stroke="#b4b4b4" stroke-width="0.6" fill="none"/>
<path d="M53.7 526.6h0M54.0 526.7h0M54.3 526.7h0M54.5 526.8h0M54.8 527.0h0M55.1 526.8h0M55.4 526.9h0M55.7 526.9h0M56.0 526.9h0M56.3 527.0h0M56.5 527.2h0M56.8 527.2h0M57.1 527.1h0M57.4 527.4h0M57.7 527.3h0M58.0 527.3h0M58.3 527.5h0M58.5 527.4h0M58.8 527.4h0M59.1 527.6h0M59.4 527.6h0M59.7 527.6h0M60.0 527.8h0M60.3 527.8h0M60.6 527.7h0M60.8 527.8h0M61.1 528.0h0M61.4 527.9h0M61.7 527.8h0M62.0 528.2h0M62.3 528.0h0M62.6 528.1h0M62.8 528.2h0M63.1 528.2h0M63.4 528.4h0M63.7 528.2h0M64.0 528.2h0M64.3 528.6h0M64.6 528.5h0M64.8 528.5h0M65.1 528.7h0M65.4 528.6h0M65.7 528.8h0M66.0 528.7h0M66.3 528.9h0M66.6 528.9h0M66.8 528.9h0M67.1 528.9h0M67.4 529.2h0M67.7 529.0h0M68.0 529.1h0M68.3 529.2h0M68.6 529.1h0M68.9 529.4h0M69.1 529.5h0M69.4 529.4h0M69.7 529.6h0M70.0 529.5h0M70.3 529.6h0M70.6 529.5h0M70.9 529.9h0M71.1 530.0h0M71.4 529.8h0M71.7 530.1h0M72.0 529.9h0M72.3 530.2h0M72.6 530.2h0M72.9 530.1h0M73.1 530.3h0M73.4 530.5h0M73.7 530.5h0M74.0 530.4h0M74.3 530.6h0M74.6 530.6h0M74.9 530.7h0M75.1 530.8h0M75.4 530.9h0M75.7 531.1h0M76.0 531.0h0M76.3 531.1h0M76.6 531.5h0M76.9 531.3h0M77.2 531.3h0M77.4 531.3h0M77.7 531.7h0M78.0 531.6h0M78.3 531.7h0M78.6 531.7h0M78.9 532.0h0M79.2 531.9h0M79.4 532.1h0M79.7 532.2h0M80.0 532.3h0M80.3 532.3h0M80.6 532.5h0M80.9 532.5h0M81.2 532.6h0M81.4 532.6h0M81.7 532.6h0M82.0 532.9h0M82.3 533.1h0M82.6 533.2h0M82.9 533.3h0M83.2 533.6h0M83.5 533.4h0M83.7 533.6h0M84.0 533.5h0M84.3 533.8h0M84.6 533.7h0M84.9 533.9h0M85.2 534.2h0M85.5 534.2h0M85.7 534.4h0M86.0 534.5h0M86.3 534.4h0M86.6 534.7h0M86.9 534.8h0M87.2 535.0h0M87.5 534.8h0M87.7 535.2h0M88.0 535.3h0M88.3 535.5h0M88.6 535.5h0M88.9 535.8h0M89.2 535.9h0M89.5 536.2h0M89.7 536.3h0M90.0 536.2h0M90.3 536.2h0M90.6 536.7h0M90.9 536.6h0M91.2 536.7h0M91.5 536.6h0M91.8 537.2h0M92.0 537.3h0M92.3 537.5h0M92.6 537.4h0M92.9 537.5h0M93.2 537.8h0M93.5 537.7h0M93.8 537.8h0M94.0 538.3h0M94.3 538.3h0M94.6 538.6h0M94.9 538.8h0M95.2 538.9h0M95.5 539.0h0M95.8 539.4h0M96.0 539.3h0M96.3 539.4h0M96.6 539.8h0M96.9 539.9h0M97.2 540.1h0M97.5 540.1h0M97.8 540.3h0M98.0 540.3h0M98.3 540.7h0M98.6 541.1h0M98.9 540.9h0M99.2 541.2h0M99.5 541.2h0M99.8 541.4h0M100.1 542.2h0M100.3 542.2h0M100.6 542.0h0M100.9 542.4h0M101.2 542.8h0M101.5 542.7h0M101.8 542.6h0M102.1 542.8h0M102.3 543.3h0M102.6 543.3h0M102.9 543.3h0M103.2 543.7h0M103.5 543.6h0M103.8 544.2h0M104.1 543.9h0M104.3 544.2h0M104.6 544.5h0M104.9 544.7h0M105.2 545.0h0M105.5 545.4h0M105.8 545.2h0M106.1 545.3h0M106.4 545.6h0M106.6 545.9h0M106.9 546.1h0M107.2 546.5h0M107.5 546.6h0M107.8 547.0h0M108.1 546.8h0M108.4 547.3h0M108.6 547.1h0M108.9 547.6h0M109.2 547.4h0M109.5 547.6h0M109.8 547.8h0M110.1 548.1h0M110.4 548.5h0M110.6 548.7h0M110.9 549.0h0M111.2 549.0h0M111.5 548.9h0M111.8 549.7h0M112.1 549.2h0M112.4 550.0h0M112.6 550.3h0M112.9 550.2h0M113.2 550.2h0M113.5 550.7h0M113.8 551.1h0M114.1 550.7h0M114.4 551.5h0M114.7 551.2h0M114.9 551.6h0M115.2 551.9h0M115.5 552.0h0M115.8 552.5h0M116.1 552.7h0M116.4 552.6h0M116.7 553.1h0M116.9 553.2h0M117.2 552.9h0M117.5 553.1h0M117.8 553.4h0M118.1 553.6h0M118.4 554.1h0M118.7 554.2h0M118.9 554.6h0M119.2 555.3h0M119.5 554.8h0M119.8 555.0h0M120.1 555.0h0M120.4 555.7h0M120.7 555.4h0M120.9 556.0h0M121.2 556.3h0M121.5 556.3h0M121.8 556.2h0M122.1 556.6h0M122.4 556.7h0M122.7 557.2h0M123.0 557.1h0M123.2 557.2h0M123.5 557.8h0M123.8 557.7h0M124.1 558.3h0M124.4 558.1h0M124.7 558.8h0M125.0 558.4h0M125.2 558.7h0M125.5 559.3h0M125.8 559.0h0M126.1 559.6h0M126.4 559.5h0M126.7 560.0h0M127.0 559.7h0M127.2 560.2h0M127.5 559.9h0M127.8 560.3h0M128.1 560.5h0M128.4 561.2h0M128.7 561.6h0M129.0 561.4h0M129.3 560.9h0M129.5 561.8h0M129.8 561.4h0M130.1 561.6h0M130.4 562.3h0M130.7 562.3h0M131.0 562.1h0M131.3 562.7h0M131.5 562.9h0M131.8 563.2h0M132.1 563.1h0M132.4 563.4h0M132.7 563.2h0M133.0 563.6h0M133.3 563.5h0M133.5 564.1h0M133.8 563.6h0M134.1 564.4h0M134.4 564.6h0M134.7 565.0h0M135.0 565.5h0M135.3 565.4h0M135.5 565.2h0M135.8 565.7h0M136.1 565.3h0M136.4 566.3h0M136.7 566.5h0M137.0 566.0h0M137.3 566.1h0M137.6 566.8h0M137.8 566.2h0M138.1 566.3h0M138.4 566.8h0M138.7 567.5h0M139.0 566.8h0M139.3 567.5h0M139.6 567.6h0M139.8 567.5h0M140.1 568.1h0M140.4 567.6h0M140.7 568.4h0M141.0 568.0h0M141.3 568.2h0M141.6 568.1h0M141.8 568.6h0M142.1 568.7h0M142.4 569.2h0M142.7 569.3h0M143.0 569.6h0M143.3 569.3h0M143.6 570.0h0M143.9 569.4h0M144.1 570.1h0M144.4 570.6h0M144.7 570.6h0M145.0 570.1h0M145.3 570.8h0M145.6 570.6h0M145.9 571.5h0M146.1 570.9h0M146.4 571.0h0M146.7 571.2h0M147.0 571.2h0M147.3 572.0h0M147.6 572.4h0M147.9 572.5h0M148.1 571.8h0M148.4 572.1h0M148.7 572.1h0M149.0 572.7h0M149.3 572.4h0M149.6 573.4h0M149.9 572.8h0M150.1 573.5h0M150.4 573.4h0M150.7 573.1h0M151.0 573.2h0M151.3 573.7h0M151.6 573.9h0M151.9 573.4h0M152.2 573.7h0M152.4 574.4h0M152.7 574.2h0M153.0 574.5h0M153.3 574.2h0M153.6 574.6h0M153.9 574.7h0M154.2 574.9h0M154.4 575.3h0M154.7 574.9h0M155.0 575.2h0M155.3 576.5h0M155.6 575.8h0M155.9 575.7h0M156.2 576.2h0M156.4 576.4h0M156.7 576.4h0M157.0 576.2h0M157.3 576.8h0M157.6 576.4h0M157.9 576.2h0M158.2 576.5h0M158.4 576.6h0M158.7 577.2h0M159.0 576.8h0M159.3 577.3h0M159.6 577.1h0M159.9 578.1h0M160.2 577.3h0M160.5 578.1h0M160.7 577.9h0M161.0 577.7h0M161.3 578.2h0M161.6 578.5h0M161.9 578.5h0M162.2 578.2h0M162.5 578.3h0M162.7 578.6h0M163.0 579.2h0M163.3 579.3h0M163.6 579.0h0M163.9 579.1h0M164.2 579.8h0M164.5 579.9h0M164.7 579.4h0M165.0 579.4h0M165.3 579.9h0M165.6 580.6h0M165.9 579.6h0M166.2 580.3h0M166.5 580.2h0M166.8 581.5h0M167.0 581.0h0M167.3 580.8h0M167.6 580.8h0M167.9 581.4h0M168.2 581.8h0M168.5 582.0h0M168.8 581.5h0M169.0 581.4h0M169.3 581.5h0M169.6 582.5h0M169.9 582.2h0M170.2 582.0h0M170.5 581.7h0M170.8 582.0h0M171.0 582.2h0M171.3 583.2h0M171.6 582.1h0M171.9 582.7h0M172.2 582.7h0M172.5 583.2h0M172.8 583.1h0M173.0 583.3h0M173.3 583.4h0M173.6 583.7h0M173.9 583.2h0M174.2 583.2h0M174.5 583.9h0M174.8 584.2h0M175.1 584.3h0M175.3 584.1h0M175.6 583.6h0M175.9 584.3h0M176.2 583.6h0M176.5 585.0h0M176.8 585.1h0M177.1 585.0h0M177.3 585.2h0M177.6 584.7h0M177.9 584.3h0M178.2 585.4h0M178.5 585.1h0M178.8 584.8h0M179.1 584.5h0M179.3 585.4h0M179.6 585.2h0M179.9 585.2h0M180.2 585.8h0M180.5 585.7h0M180.8 586.2h0M181.1 586.6h0M181.3 586.6h0M181.6 585.9h0M181.9 585.9h0M182.2 586.5h0M182.5 587.3h0M182.8 586.3h0M183.1 586.9h0M183.4 586.4h0M183.6 587.1h0M183.9 587.8h0M184.2 587.5h0M184.5 587.8h0M184.8 586.9h0M185.1 588.8h0M185.4 588.0h0M185.6 588.0h0M185.9 589.0h0M186.2 587.9h0M186.5 587.9h0M186.8 587.9h0M187.1 588.0h0M187.4 588.5h0M187.6 588.2h0M187.9 588.9h0M188.2 588.8h0M188.5 588.8h0M188.8 589.0h0M189.1 588.9h0M189.4 589.5h0M189.7 589.4h0M189.9 589.7h0M190.2 589.5h0M190.5 589.5h0M190.8 590.1h0M191.1 589.2h0M191.4 589.1h0M191.7 589.8h0M191.9 590.1h0M192.2 590.6h0M192.5 590.4h0M192.8 590.6h0M193.1 590.2h0M193.4 590.7h0M193.7 590.4h0M193.9 590.6h0M194.2 591.2h0M194.5 591.8h0M194.8 591.8h0M195.1 591.8h0M195.4 591.4h0M195.7 591.0h0M195.9 592.1h0M196.2 591.4h0M196.5 591.9h0M196.8 591.3h0M197.1 591.0h0M197.4 591.6h0M197.7 592.0h0M198.0 592.1h0M198.2 591.8h0M198.5 592.7h0M198.8 593.0h0M199.1 592.6h0M199.4 592.1h0M199.7 593.3h0M200.0 592.5h0M200.2 592.7h0M200.5 593.3h0M200.8 593.8h0M201.1 594.3h0M201.4 594.2h0M201.7 593.6h0M202.0 593.4h0M202.2 594.2h0M202.5 594.3h0M202.8 594.5h0M203.1 593.1h0M203.4 595.1h0M203.7 595.2h0M204.0 594.0h0M204.3 595.2h0M204.5 594.2h0M204.8 595.3h0M205.1 594.4h0M205.4 594.4h0M205.7 595.4h0M206.0 595.2h0M206.3 595.9h0M206.5 595.0h0M206.8 595.7h0M207.1 596.2h0M207.4 595.5h0M207.7 595.7h0M208.0 596.0h0M208.3 596.3h0M208.5 595.7h0M208.8 596.7h0M209.1 596.9h0M209.4 596.7h0M209.7 596.4h0M210.0 597.0h0M210.3 597.2h0M210.5 597.6h0M210.8 597.5h0M211.1 597.6h0M211.4 596.3h0M211.7 598.5h0M212.0 597.8h0M212.3 597.6h0M212.6 598.3h0M212.8 598.5h0M213.1 597.7h0M213.4 597.4h0M213.7 597.6h0M214.0 598.3h0M214.3 598.6h0M214.6 598.2h0M214.8 599.6h0M215.1 599.2h0M215.4 598.1h0M215.7 598.7h0M216.0 599.0h0M216.3 599.3h0M216.6 599.5h0M216.8 599.9h0M217.1 599.2h0M217.4 599.4h0M217.7 599.5h0M218.0 601.4h0M218.3 599.3h0M218.6 599.6h0M218.8 599.4h0M219.1 600.7h0M219.4 601.8h0M219.7 601.4h0M220.0 601.2h0M220.3 599.7h0M220.6 601.4h0M220.9 601.3h0M221.1 600.6h0M221.4 600.8h0M221.7 600.9h0M222.0 601.8h0M222.3 600.6h0M222.6 601.5h0M222.9 602.4h0M223.1 601.7h0M223.4 603.0h0M223.7 603.0h0M224.0 602.8h0M224.3 603.2h0M224.6 602.9h0M224.9 603.1h0M225.1 603.1h0M225.4 603.5h0M225.7 602.5h0M226.0 603.9h0M226.3 603.7h0M226.6 604.1h0M226.9 604.0h0M227.2 604.6h0M227.4 602.7h0M227.7 604.1h0M228.0 603.6h0M228.3 604.5h0M228.6 605.3h0M228.9 604.8h0M229.2 605.1h0M229.4 605.6h0M229.7 604.8h0M230.0 604.1h0M230.3 605.0h0M230.6 604.7h0M230.9 604.7h0M231.2 606.9h0M231.4 604.6h0M231.7 606.7h0M232.0 604.9h0M232.3 605.9h0M232.6 605.8h0M232.9 605.0h0M233.2 605.9h0M233.4 607.8h0M233.7 608.1h0M234.0 607.8h0M234.3 606.4h0M234.6 607.0h0M234.9 606.8h0M235.2 607.2h0M235.5 606.9h0M235.7 608.5h0M236.0 609.3h0M236.3 608.5h0M236.6 607.7h0M236.9 609.1h0M237.2 610.3h0M237.5 609.0h0M237.7 608.3h0M238.0 608.7h0M238.3 609.3h0M238.6 609.6h0M238.9 611.1h0M239.2 609.5h0M239.5 608.4h0M239.7 610.2h0M240.0 608.9h0M240.3 611.2h0M240.6 610.7h0M240.9 610.9h0M241.2 610.7h0M241.5 612.4h0M241.7 610.1h0M242.0 611.4h0M242.3 613.2h0M242.6 611.0h0M242.9 611.5h0M243.2 613.0h0M243.5 612.1h0M243.8 611.5h0M244.0 611.7h0M244.3 612.1h0M244.6 613.2h0M244.9 612.5h0M245.2 611.9h0M245.5 611.3h0M245.8 612.7h0M246.0 612.7h0M246.3 612.7h0M246.6 613.9h0M246.9 615.7h0M247.2 614.6h0M247.5 614.4h0M247.8 614.2h0M248.0 614.6h0M248.3 615.7h0M248.6 615.7h0M248.9 615.6h0M249.2 616.6h0M249.5 616.8h0M249.8 618.2h0M250.1 616.7h0M250.3 616.2h0M250.6 617.6h0M250.9 617.2h0M251.2 616.9h0M251.5 619.0h0M251.8 618.5h0M252.1 619.2h0M252.3 617.0h0M252.6 620.0h0M252.9 618.1h0M253.2 622.2h0M253.5 615.6h0M253.8 617.6h0M254.1 620.5h0M254.3 619.1h0M254.6 615.5h0M254.9 619.0h0M255.2 622.9h0M255.5 619.5h0M255.8 620.8h0M256.1 618.4h0M256.3 619.2h0M256.6 624.5h0M256.9 619.2h0M257.2 617.4h0M257.5 616.2h0M257.8 619.0h0M258.1 633.6h0M258.4 627.4h0M258.6 617.9h0M258.9 615.6h0M259.2 630.1h0M259.5 630.6h0M259.8 615.8h0M260.1 621.0h0M260.4 617.9h0M260.6 623.4h0M260.9 634.3h0M261.2 621.6h0M261.5 625.4h0M261.8 621.9h0M262.1 628.8h0M262.4 621.8h0M262.6 615.1h0M262.9 614.4h0M263.2 621.4h0M263.5 614.9h0M263.8 619.8h0M264.1 627.3h0M264.4 624.4h0M264.6 621.7h0M264.9 689.6h0M265.2 619.0h0M265.5 625.0h0M265.8 623.6h0M266.1 617.5h0M266.4 621.0h0M266.7 619.9h0M266.9 621.9h0M267.2 618.8h0M267.5 618.6h0M267.8 625.5h0M268.1 674.5h0M268.4 624.9h0M268.7 644.4h0M268.9 623.1h0M269.2 618.9h0M269.5 620.5h0M269.8 619.3h0M270.1 621.0h0M270.4 622.2h0M270.7 651.8h0M270.9 652.4h0M271.2 625.9h0M271.5 629.6h0M271.8 619.5h0M272.1 679.0h0M272.4 626.6h0M272.7 619.6h0M273.0 631.7h0M273.2 621.0h0M273.5 618.1h0M273.8 620.2h0M274.1 648.4h0M274.4 631.7h0M274.7 622.9h0M275.0 659.4h0M275.2 616.7h0M275.5 625.4h0M275.8 622.4h0M276.1 621.1h0M276.4 656.9h0M276.7 628.0h0M277.0 661.3h0M277.2 622.5h0M277.5 625.4h0M277.8 629.0h0M278.1 637.9h0M278.4 618.6h0M278.7 624.7h0M279.0 627.0h0M279.2 624.2h0M279.5 655.9h0M279.8 618.0h0M280.1 618.7h0M280.4 639.5h0M280.7 653.2h0M281.0 635.8h0M281.3 627.9h0M281.5 617.1h0M281.8 622.9h0M282.1 621.8h0M282.4 624.7h0M282.7 632.2h0M283.0 616.8h0M283.3 624.5h0M283.5 621.8h0M283.8 622.2h0M284.1 632.5h0M284.4 622.6h0M284.7 622.4h0M285.0 639.7h0M285.3 622.4h0M285.5 626.4h0M285.8 619.6h0M286.1 623.4h0M286.4 615.8h0M286.7 639.8h0M287.0 628.1h0M287.3 619.0h0M287.6 620.2h0M287.8 630.0h0M288.1 642.7h0M288.4 639.0h0M288.7 618.3h0M289.0 625.0h0M289.3 620.1h0M289.6 618.4h0M289.8 625.6h0M290.1 661.5h0M290.4 619.5h0M290.7 614.5h0M291.0 619.0h0M291.3 617.3h0M291.6 676.1h0M291.8 620.2h0M292.1 635.6h0M292.4 624.2h0M292.7 634.5h0M293.0 632.0h0M293.3 621.8h0M293.6 621.2h0M293.8 623.0h0M294.1 626.3h0M294.4 633.5h0M294.7 630.0h0M295.0 653.8h0M295.3 632.2h0M295.6 616.5h0M295.9 639.7h0M296.1 613.7h0M296.4 621.4h0M296.7 625.1h0M297.0 622.9h0M297.3 626.0h0M297.6 617.0h0M297.9 623.6h0M298.1 677.4h0M298.4 628.1h0M298.7 634.9h0M299.0 631.3h0M299.3 637.1h0M299.6 677.6h0M299.9 641.9h0M300.1 669.3h0M300.4 618.3h0M300.7 622.7h0M301.0 617.0h0M301.3 617.8h0M301.6 621.0h0M301.9 631.5h0M302.1 625.6h0M302.4 624.8h0M302.7 618.7h0M303.0 623.4h0M303.3 624.5h0M303.6 629.7h0M303.9 639.4h0M304.2 621.8h0M304.4 635.7h0M304.7 637.5h0M305.0 620.9h0M305.3 624.0h0M305.6 655.5h0M305.9 625.5h0M306.2 668.9h0M306.4 625.2h0M306.7 632.0h0M307.0 620.4h0M307.3 632.1h0M307.6 635.7h0M307.9 620.3h0M308.2 617.8h0M308.4 620.8h0M308.7 622.0h0M309.0 617.5h0M309.3 614.1h0M309.6 630.4h0M309.9 624.0h0M310.2 613.2h0M310.5 619.0h0M310.7 625.3h0M311.0 612.5h0M311.3 611.2h0M311.6 620.7h0M311.9 616.0h0M312.2 639.6h0M312.5 661.2h0M312.7 695.4h0M313.0 619.9h0M313.3 618.7h0M313.6 619.7h0M313.9 627.0h0M314.2 615.5h0M314.5 643.2h0M314.7 616.3h0M315.0 644.0h0M315.3 613.1h0M315.6 620.1h0M315.9 621.8h0M316.2 613.8h0M316.5 614.8h0M316.7 607.8h0M317.0 622.6h0M317.3 642.1h0M317.6 621.0h0M317.9 604.9h0M318.2 668.6h0M318.5 625.3h0M318.8 622.6h0M319.0 634.0h0M319.3 609.1h0M319.6 614.3h0M319.9 615.0h0M320.2 608.4h0M320.5 666.2h0M320.8 609.9h0M321.0 630.2h0M321.3 612.4h0M321.6 602.7h0M321.9 604.5h0M322.2 609.2h0M322.5 610.0h0M322.8 617.4h0M323.0 613.2h0M323.3 601.0h0M323.6 648.1h0M323.9 608.0h0M324.2 598.1h0M324.5 617.9h0M324.8 602.7h0M325.0 601.9h0M325.3 604.9h0" stroke="#2e2e2e" stroke-width="3.0" stroke-linecap="round" fill="none"/>
<path d="M53.9,528.6 54.8,528.6 55.7,528.6 56.6,528.7 57.5,528.8 58.4,528.8 59.3,528.9 60.3,529.0 61.2,529.1 62.1,529.2 63.0,529.3 63.9,529.5 64.8,529.6 65.7,529.8 66.6,529.9 67.5,530.1 68.4,530.2 69.3,530.4 70.2,530.6 71.1,530.8 72.1,531.0 73.0,531.2 73.9,531.5 74.8,531.7 75.7,531.9 76.6,532.2 77.5,532.5 78.4,532.7 79.3,533.0 80.2,533.3 81.1,533.6 82.0,533.9 83.0,534.2 83.9,534.5 84.8,534.9 85.7,535.2 86.6,535.5 87.5,535.9 88.4,536.3 89.3,536.6 90.2,537.0 91.1,537.4 92.0,537.8 92.9,538.2 93.8,538.6 94.8,539.1 95.7,539.5 96.6,540.0 97.5,540.4 98.4,540.9 99.3,541.3 100.2,541.8 101.1,542.3 102.0,542.8 102.9,543.3 103.8,543.8 104.7,544.3 105.6,544.9 106.6,545.4 107.5,545.9 108.4,546.5 109.3,547.1 110.2,547.6 111.1,548.2 112.0,548.8 112.9,549.4 113.8,550.0 114.7,550.6 115.6,551.2 116.5,551.9 117.4,552.5 118.4,553.2 119.3,553.8 120.2,554.5 121.1,555.1 122.0,555.8 122.9,556.5 123.8,557.2 124.7,557.9 125.6,558.5 126.5,559.2 127.4,559.9 128.3,560.6 129.2,561.4 130.2,562.1 131.1,562.8 132.0,563.5 132.9,564.2 133.8,564.9 134.7,565.6 135.6,566.3 136.5,567.1 137.4,567.8 138.3,568.5 139.2,569.2 140.1,569.9 141.1,570.6 142.0,571.3 142.9,572.0 143.8,572.7 144.7,573.4 145.6,574.1 146.5,574.8 147.4,575.5 148.3,576.1 149.2,576.8 150.1,577.5 151.0,578.1 151.9,578.8 152.9,579.4 153.8,580.0 154.7,580.7 155.6,581.3 156.5,581.9 157.4,582.5 158.3,583.2 159.2,583.8 160.1,584.4 161.0,584.9 161.9,585.5 162.8,586.1 163.7,586.7 164.7,587.3 165.6,587.8 166.5,588.4 167.4,588.9 168.3,589.5 169.2,590.0 170.1,590.5 171.0,591.1 171.9,591.6 172.8,592.1 173.7,592.6 174.6,593.1 175.5,593.6 176.5,594.1 177.4,594.5 178.3,595.0 179.2,595.5 180.1,595.9 181.0,596.4 181.9,596.8 182.8,597.3 183.7,597.7 184.6,598.2 185.5,598.6 186.4,599.0 187.3,599.4 188.3,599.8 189.2,600.2 190.1,600.7 191.0,601.1 191.9,601.5 192.8,601.9 193.7,602.3 194.6,602.7 195.5,603.1 196.4,603.6 197.3,604.0 198.2,604.4 199.2,604.9 200.1,605.3 201.0,605.8 201.9,606.3 202.8,606.8 203.7,607.2 204.6,607.7 205.5,608.2 206.4,608.7 207.3,609.2 208.2,609.7 209.1,610.3 210.0,610.8 211.0,611.3 211.9,611.8 212.8,612.3 213.7,612.8 214.6,613.4 215.5,613.9 216.4,614.4 217.3,614.9 218.2,615.4 219.1,615.9 220.0,616.4 220.9,616.9 221.8,617.4 222.8,617.9 223.7,618.4 224.6,618.8 225.5,619.3 226.4,619.7 227.3,620.2 228.2,620.6 229.1,621.0 230.0,621.4 230.9,621.8 231.8,622.2 232.7,622.6 233.6,622.9 234.6,623.3 235.5,623.6 236.4,623.9 237.3,624.2 238.2,624.5 239.1,624.8 240.0,625.1 240.9,625.3 241.8,625.6 242.7,625.8 243.6,626.1 244.5,626.3 245.4,626.5 246.4,626.7 247.3,626.9 248.2,627.0 249.1,627.2 250.0,627.4 250.9,627.5 251.8,627.7 252.7,627.8 253.6,627.9 254.5,628.0 255.4,628.1 256.3,628.2 257.3,628.3 258.2,628.4 259.1,628.5 260.0,628.5 260.9,628.6 261.8,628.6 262.7,628.7 263.6,628.7 264.5,628.8 265.4,628.8 266.3,628.8 267.2,628.8 268.1,628.8 269.1,628.8 270.0,628.8 270.9,628.8 271.8,628.8 272.7,628.8 273.6,628.8 274.5,628.8 275.4,628.8 276.3,628.8 277.2,628.7 278.1,628.7 279.0,628.7 279.9,628.6 280.9,628.6 281.8,628.6 282.7,628.5 283.6,628.5 284.5,628.5 285.4,628.5 286.3,628.4 287.2,628.4 288.1,628.4 289.0,628.3 289.9,628.3 290.8,628.3 291.7,628.3 292.7,628.2 293.6,628.2 294.5,628.2 295.4,628.2 296.3,628.2 297.2,628.2 298.1,628.2 299.0,628.2 299.9,628.2 300.8,628.2 301.7,628.2 302.6,628.2 303.5,628.3 304.5,628.3 305.4,628.3 306.3,628.4 307.2,628.4 308.1,628.5 309.0,628.6 309.9,628.6 310.8,628.7 311.7,628.8 312.6,628.9 313.5,629.0 314.4,629.1 315.4,629.3 316.3,629.4 317.2,629.5 318.1,629.7 319.0,629.9 319.9,630.0 320.8,630.2 321.7,630.4 322.6,630.6 323.5,630.9 324.4,631.1 325.3,631.3" stroke="#E69F00" stroke-width="1.9" fill="none" stroke-linejoin="round"/>
</g>
<path d="M51.70,515.20H328.90V700.00H51.70Z" fill="none" stroke="#000" stroke-width="1.5"/>
<path d="M48.70,700.14H51.70M48.70,696.74H51.70M48.70,693.86H51.70M48.70,691.37H51.70M48.70,689.17H51.70M46.70,687.20H51.70M48.70,674.26H51.70M48.70,666.68H51.70M48.70,661.31H51.70M48.70,657.14H51.70M48.70,653.74H51.70M48.70,650.86H51.70M48.70,648.37H51.70M48.70,646.17H51.70M46.70,644.20H51.70M48.70,631.26H51.70M48.70,623.68H51.70M48.70,618.31H51.70M48.70,614.14H51.70M48.70,610.74H51.70M48.70,607.86H51.70M48.70,605.37H51.70M48.70,603.17H51.70M46.70,601.20H51.70M48.70,588.26H51.70M48.70,580.68H51.70M48.70,575.31H51.70M48.70,571.14H51.70M48.70,567.74H51.70M48.70,564.86H51.70M48.70,562.37H51.70M48.70,560.17H51.70M46.70,558.20H51.70M48.70,545.26H51.70M48.70,537.68H51.70M48.70,532.31H51.70M48.70,528.14H51.70M48.70,524.74H51.70M48.70,521.86H51.70M48.70,519.37H51.70M48.70,517.17H51.70M46.70,515.20H51.70" stroke="#000" stroke-width="1.3" fill="none"/>
<path d="M51.70,700.00V705.00M91.30,700.00V705.00M130.90,700.00V705.00M170.50,700.00V705.00M210.10,700.00V705.00M249.70,700.00V705.00M289.30,700.00V705.00M328.90,700.00V705.00" stroke="#000" stroke-width="1.3" fill="none"/>
<text x="44.90" y="518.00" font-size="7.9" text-anchor="end" fill="#111">10</text>
<text x="44.90" y="561.00" font-size="7.9" text-anchor="end" fill="#111">1</text>
<text x="44.90" y="604.00" font-size="7.9" text-anchor="end" fill="#111">0.1</text>
<text x="44.90" y="647.00" font-size="7.9" text-anchor="end" fill="#111">0.01</text>
<text x="44.90" y="690.00" font-size="7.9" text-anchor="end" fill="#111">0.001</text>
<text x="51.70" y="713.80" font-size="7.9" text-anchor="middle" fill="#111">0.00</text>
<text x="91.30" y="713.80" font-size="7.9" text-anchor="middle" fill="#111">0.05</text>
<text x="130.90" y="713.80" font-size="7.9" text-anchor="middle" fill="#111">0.10</text>
<text x="170.50" y="713.80" font-size="7.9" text-anchor="middle" fill="#111">0.15</text>
<text x="210.10" y="713.80" font-size="7.9" text-anchor="middle" fill="#111">0.20</text>
<text x="249.70" y="713.80" font-size="7.9" text-anchor="middle" fill="#111">0.25</text>
<text x="289.30" y="713.80" font-size="7.9" text-anchor="middle" fill="#111">0.30</text>
<text x="328.90" y="713.80" font-size="7.9" text-anchor="middle" fill="#111">0.35</text>
<text x="190.30" y="732.40" font-size="10" font-weight="bold" text-anchor="middle">q (Å<tspan font-size="6.5" dy="-4">-1</tspan><tspan dy="4">)</tspan></text>
<text transform="translate(19.40,607.60) rotate(-90)" font-size="10.3" font-weight="bold" text-anchor="middle">I(q) (cm<tspan font-size="6.5" dy="-4.6">-1</tspan><tspan dy="4.6">)</tspan></text>
<text x="13.3" y="513.8" font-size="16" font-weight="bold">C)</text>
<circle cx="179.2" cy="538.1" r="1.5" fill="#000"/>
<path d="M173.60,553.30H184.80" stroke="#E69F00" stroke-width="1.6"/>
<text x="188.0" y="540.3" font-size="10.4" fill="#111">V123D monomer</text>
<text x="188.0" y="556.1" font-size="10.4" fill="#111">1GRI monomer (χ<tspan font-size="7" dy="-3.5">2</tspan><tspan dy="3.5">=145.6)</tspan></text>
<g clip-path="url(#plotD)">
<path d="M480.1 80.1V83.6M480.5 79.6V82.6M480.8 82.1V86.8M481.8 82.3V86.7M482.4 81.0V85.4M483.4 83.7V87.1M484.4 80.4V83.5M484.7 82.3V86.2M485.4 84.2V88.6M485.7 82.9V88.4M486.0 81.1V84.8M486.4 85.9V90.6M486.7 83.2V86.5M487.0 82.5V87.8M487.3 80.6V85.2M487.7 82.5V85.7M488.0 81.6V84.8M488.3 84.3V89.2M488.6 87.0V92.1M489.0 87.9V91.5M489.3 86.5V90.5M489.6 84.6V89.8M490.0 85.5V90.5M490.3 86.5V91.4M490.9 91.7V96.4M491.3 88.0V96.2M491.6 81.4V84.4M491.9 85.6V89.0M492.2 87.3V92.2M492.6 89.0V93.7M492.9 85.0V89.0M493.2 84.7V90.7M493.6 84.6V89.5M493.9 90.9V96.7M494.2 86.1V92.9M494.5 87.5V93.2M494.9 86.0V89.5M495.2 92.8V101.6M495.5 86.3V94.0M495.8 83.9V91.5M496.2 91.9V97.0M496.5 85.0V95.6M496.8 83.7V87.1M497.1 85.8V91.3M497.5 88.5V94.5M497.8 87.6V96.4M498.1 90.2V97.1M498.5 87.1V91.8M498.8 93.1V101.5M499.1 88.0V93.1M499.4 91.5V101.0M499.8 94.6V102.6M500.1 84.6V91.7M500.4 97.5V101.2M500.7 83.2V91.7M501.1 99.8V109.7M501.4 86.7V91.7M501.7 89.0V97.6M502.1 97.8V102.1M502.4 92.0V103.4M502.7 94.6V108.5M503.0 95.4V99.5M503.4 87.7V95.6M503.7 96.6V104.3M504.0 100.3V109.9M504.3 86.9V98.8M504.7 88.5V96.4M505.0 90.8V98.1M505.3 91.5V104.3M505.7 88.1V93.8M506.0 89.2V99.0M506.3 91.3V97.3M506.6 94.4V101.2M507.0 86.8V92.7M507.3 86.7V95.6M507.6 90.3V106.5M507.9 82.8V99.4M508.3 92.2V105.5M508.6 91.7V105.5M508.9 101.7V114.6M509.2 91.6V104.7M509.6 92.7V100.6M509.9 94.9V102.2M510.2 90.5V102.7M510.6 103.3V119.3M510.9 96.6V107.4M511.2 101.1V113.4M511.5 107.4V121.4M511.9 88.6V95.8M512.2 96.7V106.2M512.5 98.8V109.6M512.8 92.2V102.9M513.2 102.4V121.3M513.5 91.0V102.5M513.8 87.0V99.5M514.2 103.6V115.0M514.5 90.0V97.2M514.8 93.4V106.5M515.1 88.6V107.0M515.5 93.6V103.7M515.8 101.7V110.7M516.1 105.3V120.9M516.4 103.5V112.1M516.8 99.9V112.0M517.1 90.2V109.2M517.4 91.7V105.2M517.8 95.1V107.7M518.1 90.2V109.6M518.4 108.6V116.4M518.7 105.7V124.0M519.1 104.6V112.6M519.4 97.4V107.5M519.7 109.9V119.7M520.0 101.4V108.6M520.4 88.7V106.4M520.7 92.1V111.0M521.0 88.4V99.0M521.3 100.4V124.8M521.7 104.8V115.5M522.0 104.5V113.5M522.3 103.2V115.7M522.7 99.5V114.5M523.0 98.7V116.8M523.3 94.4V117.7M523.6 90.1V101.0M524.0 91.3V99.7M524.3 94.3V102.9M524.6 98.7V110.7M524.9 96.0V114.1M525.3 101.1V110.5M525.6 106.9V128.3M525.9 110.1V129.1M526.3 101.9V123.6M526.6 95.3V107.5M526.9 96.5V110.5M527.2 97.7V118.6M527.6 97.2V112.5M527.9 102.5V117.8M528.2 91.9V105.6M528.5 99.4V108.3M528.9 103.8V128.9M529.2 110.0V122.4M529.5 100.5V112.2M529.9 97.9V110.3M530.2 91.0V105.1M530.5 105.4V121.3M530.8 102.6V120.3M531.2 112.6V121.1M531.5 100.7V115.6M531.8 89.8V109.5M532.1 96.4V118.0M532.5 94.1V106.8M532.8 122.3V131.1M533.1 97.0V114.2M533.4 100.2V122.5M533.8 97.2V106.8M534.1 102.1V110.1M534.4 107.8V127.5M534.8 109.9V119.5M535.1 104.1V117.7M535.4 100.1V117.5M535.7 105.9V117.5M536.1 103.5V124.4M536.4 98.1V118.6M536.7 97.7V106.4M537.0 102.7V113.4M537.4 103.2V111.0M537.7 104.8V115.0M538.0 95.7V115.5M538.4 105.6V122.7M538.7 106.3V118.7M539.0 101.9V114.9M539.3 107.3V124.7M539.7 102.1V116.5M540.0 94.0V102.9M540.3 104.2V114.4M540.6 94.3V109.1M541.0 97.7V108.5M541.3 101.2V131.4M541.6 98.2V112.2M542.0 118.6V129.7M542.3 111.3V124.9M542.6 98.7V113.6M542.9 95.5V117.0M543.3 109.3V136.3M543.6 143.2V157.7M543.9 98.5V130.0M544.2 112.0V128.9M544.6 101.3V113.3M544.9 119.1V131.2M545.2 115.1V126.6M545.5 119.1V135.4M545.9 104.6V115.5M546.2 106.7V133.9M546.5 111.6V134.5M546.9 109.2V126.4M547.2 104.1V115.3M547.5 131.0V146.1M547.8 109.1V123.2M548.2 106.3V124.8M548.5 115.0V134.5M548.8 111.0V131.6M549.1 100.2V117.8M549.5 122.2V151.9M549.8 123.2V140.8M550.1 97.8V116.8M550.5 113.6V135.3M550.8 95.7V110.3M551.1 106.8V128.8M551.4 139.8V197.7M551.8 123.7V134.2M552.1 112.7V128.2M552.4 139.5V155.6M552.7 112.5V134.7M553.1 144.0V170.4M553.4 114.6V128.5M553.7 143.1V155.0M554.1 114.3V129.6M554.4 109.8V126.7M554.7 106.6V133.2M555.0 124.8V157.8M555.4 108.3V138.8M555.7 118.3V146.0M556.0 107.9V118.9M556.3 102.0V125.6M556.7 121.6V142.1M557.0 112.0V130.9M557.3 117.3V145.4M557.6 102.1V128.4M558.0 135.3V153.2M558.3 100.8V121.7M558.6 104.8V139.3M559.0 109.8V128.7M559.3 113.0V135.3M559.6 136.0V162.3M559.9 128.7V143.6M560.3 116.2V128.7M560.6 129.5V152.8M560.9 121.0V143.8M561.2 121.3V134.5M561.6 103.3V135.0M561.9 111.6V124.4M562.2 120.4V143.4M562.6 109.0V125.2M562.9 103.3V124.2M563.2 107.9V134.6M563.5 100.4V118.0M563.9 157.6V171.5M564.2 116.9V132.3M564.5 103.5V130.2M564.8 121.6V142.0M565.2 169.6V197.4M565.5 128.2V156.9M565.8 120.8V139.2M566.2 110.6V140.3M566.5 115.7V132.3M566.8 99.6V116.7M567.1 122.2V141.2M567.5 111.8V128.8M567.8 125.0V145.8M568.1 111.6V125.4M568.4 102.0V130.0M568.8 119.0V140.7M569.1 117.1V132.4M569.4 122.5V145.1M569.7 133.8V147.3M570.1 111.2V122.3M570.4 108.8V125.7M570.7 109.4V137.7M571.1 122.2V149.2M571.4 106.2V142.5M571.7 110.8V121.3M572.0 103.1V123.1M572.4 110.7V125.5M572.7 136.4V171.2M573.0 113.5V130.9M573.3 100.4V114.5M573.7 125.2V146.2M574.0 127.2V157.0M574.3 112.6V125.0M574.7 124.8V149.7M575.0 121.4V138.7M575.3 126.9V144.2M575.6 99.2V128.4M576.0 123.2V142.6M576.3 107.8V130.2M576.6 102.2V119.9M576.9 114.6V126.9M577.3 109.1V136.3M577.6 104.5V120.2M577.9 157.6V177.7M578.3 141.7V168.0M578.6 103.2V131.3M578.9 162.2V183.5M579.2 116.4V131.3M579.6 111.1V136.9M579.9 119.2V136.5M580.2 119.6V132.1M580.5 124.4V144.5M580.9 110.5V145.0M581.2 113.4V142.3M581.5 105.8V116.8M581.8 140.1V170.6M582.2 129.5V154.5M582.5 112.0V139.4M582.8 139.5V171.7M583.2 121.4V141.9M583.5 135.9V155.7M583.8 124.3V145.3M584.1 113.3V136.8M584.5 107.7V122.9M584.8 105.3V128.7M585.1 124.0V141.6M585.4 125.3V156.8M585.8 99.2V128.9M586.1 121.6V141.6M586.4 113.6V130.0M586.8 111.3V135.9M587.1 155.3V167.4M587.4 117.9V146.6M587.7 110.8V127.7M588.1 125.8V139.2M588.4 117.5V142.8M588.7 118.1V150.7M589.0 187.5V197.7M589.4 172.8V197.7M589.7 122.0V133.9M590.0 108.0V123.8M590.4 140.6V172.2M590.7 110.0V149.8M591.0 131.4V164.4M591.3 111.3V144.5M591.7 117.3V149.5M592.0 128.3V145.5M592.3 114.2V135.9M592.6 156.0V170.6M593.0 113.0V126.7M593.3 124.7V151.9M593.6 129.5V145.3M593.9 108.3V121.6M594.3 141.5V177.6M594.6 122.2V142.4M594.9 125.7V154.1M595.3 132.0V141.6M595.6 134.3V149.1M595.9 124.2V137.5M596.2 134.5V155.9M596.6 114.0V141.5M596.9 109.9V122.0M597.2 115.9V127.9M597.5 126.3V153.1M597.9 108.2V125.4M598.2 123.0V132.5M598.5 109.1V125.5M598.9 131.6V150.5M599.2 139.8V164.4M599.5 105.7V119.5M599.8 128.1V160.0M600.2 121.4V135.3M600.5 113.9V144.8M600.8 126.3V197.7M601.1 148.2V175.1M601.5 105.1V130.1M601.8 111.9V137.6M602.1 112.7V129.3M602.5 116.3V147.7M602.8 125.6V142.8M603.1 186.5V197.7M603.4 117.7V139.8M603.8 149.8V164.2M604.1 117.5V132.2M604.4 111.4V123.4M604.7 128.3V162.8M605.1 121.4V147.0M605.4 115.1V132.4M605.7 108.3V126.0M606.0 131.6V161.0M606.4 112.9V134.6M606.7 111.1V127.2M607.0 115.6V142.5M607.4 113.3V128.9M607.7 118.0V141.9M608.0 134.2V168.9M608.3 117.9V139.0M608.7 129.8V144.3M609.0 102.6V121.8M609.3 112.4V123.9M609.6 175.5V188.4M610.0 106.1V132.4M610.3 115.5V142.8M610.6 108.0V122.9M611.0 140.0V156.3M611.3 119.5V149.2M611.6 104.7V122.8M611.9 187.7V197.7M612.3 100.0V125.6M612.6 100.8V116.4M612.9 99.9V121.5M613.2 120.9V132.9M613.6 129.1V141.8M613.9 139.5V174.5M614.2 110.4V130.6M614.6 113.5V139.0M614.9 100.8V133.3M615.2 116.7V125.9M615.5 99.5V117.4M615.9 129.3V150.4M616.2 98.3V115.0M616.5 113.1V144.3M616.8 102.1V114.0M617.2 130.5V157.9M617.5 121.3V155.8M617.8 104.3V124.5M618.1 130.6V160.6M618.5 105.7V135.0M618.8 143.5V167.4M619.1 108.1V122.5M619.5 112.6V134.2M619.8 112.6V126.1M620.1 112.0V139.7M620.4 137.2V165.6M620.8 102.9V121.5M621.1 111.9V129.0M621.4 109.8V130.9M621.7 121.3V138.2M622.1 107.6V125.0M622.4 116.5V127.4M622.7 100.4V115.1M623.1 126.6V138.9M623.4 140.3V166.9M623.7 120.3V153.7M624.0 108.6V125.3M624.4 125.6V140.1M624.7 122.7V149.0M625.0 131.6V142.7M625.3 105.9V129.6M625.7 131.0V157.6M626.0 117.0V135.8M626.3 152.4V176.9M626.7 99.1V114.7M627.0 108.2V122.7M627.3 128.2V158.8M627.6 112.8V136.0M628.0 110.1V121.1M628.3 121.5V151.1M628.6 100.6V125.6M628.9 109.4V128.7M629.3 105.9V130.8M629.6 110.0V127.3M629.9 127.9V139.8M630.2 119.5V151.5M630.6 119.8V133.4M630.9 98.8V114.2M631.2 109.7V123.8M631.6 105.1V197.7M631.9 108.0V132.4M632.2 121.8V141.4M632.5 98.4V113.2M632.9 103.7V138.8M633.2 162.6V188.9M633.5 106.7V123.7M633.8 99.5V135.2M634.2 128.1V142.0M634.5 98.0V122.7M634.8 115.8V130.4M635.2 105.7V116.4M635.5 110.9V131.3M635.8 108.5V130.4M636.1 111.7V144.3M636.5 152.3V172.4M636.8 120.2V133.8M637.1 117.1V134.3M637.4 124.5V151.8M637.8 128.6V147.5M638.1 118.3V136.7M638.4 120.4V140.8M638.8 107.9V128.7M639.1 100.9V111.7M639.4 119.5V146.8M639.7 111.6V128.3M640.1 100.8V122.6M640.4 140.6V166.0M640.7 110.6V139.8M641.0 130.3V151.6M641.4 95.4V113.0M641.7 124.1V159.4M642.0 121.1V156.4M642.3 99.2V119.6M642.7 112.2V124.8M643.0 108.7V142.9M643.3 114.2V145.3M643.7 132.3V154.7M644.0 146.9V159.4M644.3 113.6V135.2M644.6 107.8V126.8M645.0 94.0V110.5M645.3 145.5V171.0M645.6 112.4V149.7M645.9 121.8V138.7M646.3 112.0V129.6M646.6 106.5V123.5M646.9 119.4V135.3M647.3 115.0V127.9M647.6 112.1V138.1M647.9 98.6V111.0M648.2 98.5V124.3M648.6 109.7V131.7M648.9 96.9V121.0M649.2 105.8V118.7M649.5 115.1V142.1M649.9 112.3V143.3M650.2 134.1V146.7M650.5 114.9V138.5M650.9 101.3V120.1M651.2 83.2V100.8M651.5 100.3V119.7M651.8 91.9V110.1M652.2 114.4V135.6M652.5 117.4V135.7M652.8 97.6V115.4M653.1 91.1V115.1M653.5 116.8V130.8M653.8 108.8V142.2M654.1 83.8V197.7M654.4 100.5V112.7M654.8 113.7V133.2M655.1 142.8V167.6M655.4 106.6V133.4M655.8 98.4V117.5M656.1 95.7V110.7M656.4 99.6V123.7M656.7 86.4V106.4M657.1 84.0V111.6M657.4 87.3V101.5M657.7 103.1V126.7M658.0 102.4V113.2M658.4 109.6V138.9M658.7 93.7V112.6M659.0 101.2V118.5M659.4 102.9V129.2M659.7 100.7V115.5M660.0 92.6V120.3M660.3 105.1V134.7M660.7 107.9V119.1M661.0 80.3V109.7M661.3 103.0V129.3M661.6 107.3V121.4M662.0 82.4V109.3M662.3 101.0V125.4M662.6 77.3V91.3M663.0 78.6V101.0M663.3 85.2V103.1M663.6 72.4V96.4M663.9 102.8V130.5M664.3 131.9V145.7M664.6 91.7V103.2" stroke="#b4b4b4" stroke-width="1.0" fill="none"/>
<path d="M479.0 80.1h2.2M479.0 83.6h2.2M479.4 79.6h2.2M479.4 82.6h2.2M479.7 82.1h2.2M479.7 86.8h2.2M480.7 82.3h2.2M480.7 86.7h2.2M481.3 81.0h2.2M481.3 85.4h2.2M482.3 83.7h2.2M482.3 87.1h2.2M483.3 80.4h2.2M483.3 83.5h2.2M483.6 82.3h2.2M483.6 86.2h2.2M484.3 84.2h2.2M484.3 88.6h2.2M484.6 82.9h2.2M484.6 88.4h2.2M484.9 81.1h2.2M484.9 84.8h2.2M485.3 85.9h2.2M485.3 90.6h2.2M485.6 83.2h2.2M485.6 86.5h2.2M485.9 82.5h2.2M485.9 87.8h2.2M486.2 80.6h2.2M486.2 85.2h2.2M486.6 82.5h2.2M486.6 85.7h2.2M486.9 81.6h2.2M486.9 84.8h2.2M487.2 84.3h2.2M487.2 89.2h2.2M487.5 87.0h2.2M487.5 92.1h2.2M487.9 87.9h2.2M487.9 91.5h2.2M488.2 86.5h2.2M488.2 90.5h2.2M488.5 84.6h2.2M488.5 89.8h2.2M488.9 85.5h2.2M488.9 90.5h2.2M489.2 86.5h2.2M489.2 91.4h2.2M489.8 91.7h2.2M489.8 96.4h2.2M490.2 88.0h2.2M490.2 96.2h2.2M490.5 81.4h2.2M490.5 84.4h2.2M490.8 85.6h2.2M490.8 89.0h2.2M491.1 87.3h2.2M491.1 92.2h2.2M491.5 89.0h2.2M491.5 93.7h2.2M491.8 85.0h2.2M491.8 89.0h2.2M492.1 84.7h2.2M492.1 90.7h2.2M492.5 84.6h2.2M492.5 89.5h2.2M492.8 90.9h2.2M492.8 96.7h2.2M493.1 86.1h2.2M493.1 92.9h2.2M493.4 87.5h2.2M493.4 93.2h2.2M493.8 86.0h2.2M493.8 89.5h2.2M494.1 92.8h2.2M494.1 101.6h2.2M494.4 86.3h2.2M494.4 94.0h2.2M494.7 83.9h2.2M494.7 91.5h2.2M495.1 91.9h2.2M495.1 97.0h2.2M495.4 85.0h2.2M495.4 95.6h2.2M495.7 83.7h2.2M495.7 87.1h2.2M496.0 85.8h2.2M496.0 91.3h2.2M496.4 88.5h2.2M496.4 94.5h2.2M496.7 87.6h2.2M496.7 96.4h2.2M497.0 90.2h2.2M497.0 97.1h2.2M497.4 87.1h2.2M497.4 91.8h2.2M497.7 93.1h2.2M497.7 101.5h2.2M498.0 88.0h2.2M498.0 93.1h2.2M498.3 91.5h2.2M498.3 101.0h2.2M498.7 94.6h2.2M498.7 102.6h2.2M499.0 84.6h2.2M499.0 91.7h2.2M499.3 97.5h2.2M499.3 101.2h2.2M499.6 83.2h2.2M499.6 91.7h2.2M500.0 99.8h2.2M500.0 109.7h2.2M500.3 86.7h2.2M500.3 91.7h2.2M500.6 89.0h2.2M500.6 97.6h2.2M501.0 97.8h2.2M501.0 102.1h2.2M501.3 92.0h2.2M501.3 103.4h2.2M501.6 94.6h2.2M501.6 108.5h2.2M501.9 95.4h2.2M501.9 99.5h2.2M502.3 87.7h2.2M502.3 95.6h2.2M502.6 96.6h2.2M502.6 104.3h2.2M502.9 100.3h2.2M502.9 109.9h2.2M503.2 86.9h2.2M503.2 98.8h2.2M503.6 88.5h2.2M503.6 96.4h2.2M503.9 90.8h2.2M503.9 98.1h2.2M504.2 91.5h2.2M504.2 104.3h2.2M504.6 88.1h2.2M504.6 93.8h2.2M504.9 89.2h2.2M504.9 99.0h2.2M505.2 91.3h2.2M505.2 97.3h2.2M505.5 94.4h2.2M505.5 101.2h2.2M505.9 86.8h2.2M505.9 92.7h2.2M506.2 86.7h2.2M506.2 95.6h2.2M506.5 90.3h2.2M506.5 106.5h2.2M506.8 82.8h2.2M506.8 99.4h2.2M507.2 92.2h2.2M507.2 105.5h2.2M507.5 91.7h2.2M507.5 105.5h2.2M507.8 101.7h2.2M507.8 114.6h2.2M508.1 91.6h2.2M508.1 104.7h2.2M508.5 92.7h2.2M508.5 100.6h2.2M508.8 94.9h2.2M508.8 102.2h2.2M509.1 90.5h2.2M509.1 102.7h2.2M509.5 103.3h2.2M509.5 119.3h2.2M509.8 96.6h2.2M509.8 107.4h2.2M510.1 101.1h2.2M510.1 113.4h2.2M510.4 107.4h2.2M510.4 121.4h2.2M510.8 88.6h2.2M510.8 95.8h2.2M511.1 96.7h2.2M511.1 106.2h2.2M511.4 98.8h2.2M511.4 109.6h2.2M511.7 92.2h2.2M511.7 102.9h2.2M512.1 102.4h2.2M512.1 121.3h2.2M512.4 91.0h2.2M512.4 102.5h2.2M512.7 87.0h2.2M512.7 99.5h2.2M513.1 103.6h2.2M513.1 115.0h2.2M513.4 90.0h2.2M513.4 97.2h2.2M513.7 93.4h2.2M513.7 106.5h2.2M514.0 88.6h2.2M514.0 107.0h2.2M514.4 93.6h2.2M514.4 103.7h2.2M514.7 101.7h2.2M514.7 110.7h2.2M515.0 105.3h2.2M515.0 120.9h2.2M515.3 103.5h2.2M515.3 112.1h2.2M515.7 99.9h2.2M515.7 112.0h2.2M516.0 90.2h2.2M516.0 109.2h2.2M516.3 91.7h2.2M516.3 105.2h2.2M516.7 95.1h2.2M516.7 107.7h2.2M517.0 90.2h2.2M517.0 109.6h2.2M517.3 108.6h2.2M517.3 116.4h2.2M517.6 105.7h2.2M517.6 124.0h2.2M518.0 104.6h2.2M518.0 112.6h2.2M518.3 97.4h2.2M518.3 107.5h2.2M518.6 109.9h2.2M518.6 119.7h2.2M518.9 101.4h2.2M518.9 108.6h2.2M519.3 88.7h2.2M519.3 106.4h2.2M519.6 92.1h2.2M519.6 111.0h2.2M519.9 88.4h2.2M519.9 99.0h2.2M520.2 100.4h2.2M520.2 124.8h2.2M520.6 104.8h2.2M520.6 115.5h2.2M520.9 104.5h2.2M520.9 113.5h2.2M521.2 103.2h2.2M521.2 115.7h2.2M521.6 99.5h2.2M521.6 114.5h2.2M521.9 98.7h2.2M521.9 116.8h2.2M522.2 94.4h2.2M522.2 117.7h2.2M522.5 90.1h2.2M522.5 101.0h2.2M522.9 91.3h2.2M522.9 99.7h2.2M523.2 94.3h2.2M523.2 102.9h2.2M523.5 98.7h2.2M523.5 110.7h2.2M523.8 96.0h2.2M523.8 114.1h2.2M524.2 101.1h2.2M524.2 110.5h2.2M524.5 106.9h2.2M524.5 128.3h2.2M524.8 110.1h2.2M524.8 129.1h2.2M525.2 101.9h2.2M525.2 123.6h2.2M525.5 95.3h2.2M525.5 107.5h2.2M525.8 96.5h2.2M525.8 110.5h2.2M526.1 97.7h2.2M526.1 118.6h2.2M526.5 97.2h2.2M526.5 112.5h2.2M526.8 102.5h2.2M526.8 117.8h2.2M527.1 91.9h2.2M527.1 105.6h2.2M527.4 99.4h2.2M527.4 108.3h2.2M527.8 103.8h2.2M527.8 128.9h2.2M528.1 110.0h2.2M528.1 122.4h2.2M528.4 100.5h2.2M528.4 112.2h2.2M528.8 97.9h2.2M528.8 110.3h2.2M529.1 91.0h2.2M529.1 105.1h2.2M529.4 105.4h2.2M529.4 121.3h2.2M529.7 102.6h2.2M529.7 120.3h2.2M530.1 112.6h2.2M530.1 121.1h2.2M530.4 100.7h2.2M530.4 115.6h2.2M530.7 89.8h2.2M530.7 109.5h2.2M531.0 96.4h2.2M531.0 118.0h2.2M531.4 94.1h2.2M531.4 106.8h2.2M531.7 122.3h2.2M531.7 131.1h2.2M532.0 97.0h2.2M532.0 114.2h2.2M532.3 100.2h2.2M532.3 122.5h2.2M532.7 97.2h2.2M532.7 106.8h2.2M533.0 102.1h2.2M533.0 110.1h2.2M533.3 107.8h2.2M533.3 127.5h2.2M533.7 109.9h2.2M533.7 119.5h2.2M534.0 104.1h2.2M534.0 117.7h2.2M534.3 100.1h2.2M534.3 117.5h2.2M534.6 105.9h2.2M534.6 117.5h2.2M535.0 103.5h2.2M535.0 124.4h2.2M535.3 98.1h2.2M535.3 118.6h2.2M535.6 97.7h2.2M535.6 106.4h2.2M535.9 102.7h2.2M535.9 113.4h2.2M536.3 103.2h2.2M536.3 111.0h2.2M536.6 104.8h2.2M536.6 115.0h2.2M536.9 95.7h2.2M536.9 115.5h2.2M537.3 105.6h2.2M537.3 122.7h2.2M537.6 106.3h2.2M537.6 118.7h2.2M537.9 101.9h2.2M537.9 114.9h2.2M538.2 107.3h2.2M538.2 124.7h2.2M538.6 102.1h2.2M538.6 116.5h2.2M538.9 94.0h2.2M538.9 102.9h2.2M539.2 104.2h2.2M539.2 114.4h2.2M539.5 94.3h2.2M539.5 109.1h2.2M539.9 97.7h2.2M539.9 108.5h2.2M540.2 101.2h2.2M540.2 131.4h2.2M540.5 98.2h2.2M540.5 112.2h2.2M540.9 118.6h2.2M540.9 129.7h2.2M541.2 111.3h2.2M541.2 124.9h2.2M541.5 98.7h2.2M541.5 113.6h2.2M541.8 95.5h2.2M541.8 117.0h2.2M542.2 109.3h2.2M542.2 136.3h2.2M542.5 143.2h2.2M542.5 157.7h2.2M542.8 98.5h2.2M542.8 130.0h2.2M543.1 112.0h2.2M543.1 128.9h2.2M543.5 101.3h2.2M543.5 113.3h2.2M543.8 119.1h2.2M543.8 131.2h2.2M544.1 115.1h2.2M544.1 126.6h2.2M544.4 119.1h2.2M544.4 135.4h2.2M544.8 104.6h2.2M544.8 115.5h2.2M545.1 106.7h2.2M545.1 133.9h2.2M545.4 111.6h2.2M545.4 134.5h2.2M545.8 109.2h2.2M545.8 126.4h2.2M546.1 104.1h2.2M546.1 115.3h2.2M546.4 131.0h2.2M546.4 146.1h2.2M546.7 109.1h2.2M546.7 123.2h2.2M547.1 106.3h2.2M547.1 124.8h2.2M547.4 115.0h2.2M547.4 134.5h2.2M547.7 111.0h2.2M547.7 131.6h2.2M548.0 100.2h2.2M548.0 117.8h2.2M548.4 122.2h2.2M548.4 151.9h2.2M548.7 123.2h2.2M548.7 140.8h2.2M549.0 97.8h2.2M549.0 116.8h2.2M549.4 113.6h2.2M549.4 135.3h2.2M549.7 95.7h2.2M549.7 110.3h2.2M550.0 106.8h2.2M550.0 128.8h2.2M550.3 139.8h2.2M550.7 123.7h2.2M550.7 134.2h2.2M551.0 112.7h2.2M551.0 128.2h2.2M551.3 139.5h2.2M551.3 155.6h2.2M551.6 112.5h2.2M551.6 134.7h2.2M552.0 144.0h2.2M552.0 170.4h2.2M552.3 114.6h2.2M552.3 128.5h2.2M552.6 143.1h2.2M552.6 155.0h2.2M553.0 114.3h2.2M553.0 129.6h2.2M553.3 109.8h2.2M553.3 126.7h2.2M553.6 106.6h2.2M553.6 133.2h2.2M553.9 124.8h2.2M553.9 157.8h2.2M554.3 108.3h2.2M554.3 138.8h2.2M554.6 118.3h2.2M554.6 146.0h2.2M554.9 107.9h2.2M554.9 118.9h2.2M555.2 102.0h2.2M555.2 125.6h2.2M555.6 121.6h2.2M555.6 142.1h2.2M555.9 112.0h2.2M555.9 130.9h2.2M556.2 117.3h2.2M556.2 145.4h2.2M556.5 102.1h2.2M556.5 128.4h2.2M556.9 135.3h2.2M556.9 153.2h2.2M557.2 100.8h2.2M557.2 121.7h2.2M557.5 104.8h2.2M557.5 139.3h2.2M557.9 109.8h2.2M557.9 128.7h2.2M558.2 113.0h2.2M558.2 135.3h2.2M558.5 136.0h2.2M558.5 162.3h2.2M558.8 128.7h2.2M558.8 143.6h2.2M559.2 116.2h2.2M559.2 128.7h2.2M559.5 129.5h2.2M559.5 152.8h2.2M559.8 121.0h2.2M559.8 143.8h2.2M560.1 121.3h2.2M560.1 134.5h2.2M560.5 103.3h2.2M560.5 135.0h2.2M560.8 111.6h2.2M560.8 124.4h2.2M561.1 120.4h2.2M561.1 143.4h2.2M561.5 109.0h2.2M561.5 125.2h2.2M561.8 103.3h2.2M561.8 124.2h2.2M562.1 107.9h2.2M562.1 134.6h2.2M562.4 100.4h2.2M562.4 118.0h2.2M562.8 157.6h2.2M562.8 171.5h2.2M563.1 116.9h2.2M563.1 132.3h2.2M563.4 103.5h2.2M563.4 130.2h2.2M563.7 121.6h2.2M563.7 142.0h2.2M564.1 169.6h2.2M564.1 197.4h2.2M564.4 128.2h2.2M564.4 156.9h2.2M564.7 120.8h2.2M564.7 139.2h2.2M565.1 110.6h2.2M565.1 140.3h2.2M565.4 115.7h2.2M565.4 132.3h2.2M565.7 99.6h2.2M565.7 116.7h2.2M566.0 122.2h2.2M566.0 141.2h2.2M566.4 111.8h2.2M566.4 128.8h2.2M566.7 125.0h2.2M566.7 145.8h2.2M567.0 111.6h2.2M567.0 125.4h2.2M567.3 102.0h2.2M567.3 130.0h2.2M567.7 119.0h2.2M567.7 140.7h2.2M568.0 117.1h2.2M568.0 132.4h2.2M568.3 122.5h2.2M568.3 145.1h2.2M568.6 133.8h2.2M568.6 147.3h2.2M569.0 111.2h2.2M569.0 122.3h2.2M569.3 108.8h2.2M569.3 125.7h2.2M569.6 109.4h2.2M569.6 137.7h2.2M570.0 122.2h2.2M570.0 149.2h2.2M570.3 106.2h2.2M570.3 142.5h2.2M570.6 110.8h2.2M570.6 121.3h2.2M570.9 103.1h2.2M570.9 123.1h2.2M571.3 110.7h2.2M571.3 125.5h2.2M571.6 136.4h2.2M571.6 171.2h2.2M571.9 113.5h2.2M571.9 130.9h2.2M572.2 100.4h2.2M572.2 114.5h2.2M572.6 125.2h2.2M572.6 146.2h2.2M572.9 127.2h2.2M572.9 157.0h2.2M573.2 112.6h2.2M573.2 125.0h2.2M573.6 124.8h2.2M573.6 149.7h2.2M573.9 121.4h2.2M573.9 138.7h2.2M574.2 126.9h2.2M574.2 144.2h2.2M574.5 99.2h2.2M574.5 128.4h2.2M574.9 123.2h2.2M574.9 142.6h2.2M575.2 107.8h2.2M575.2 130.2h2.2M575.5 102.2h2.2M575.5 119.9h2.2M575.8 114.6h2.2M575.8 126.9h2.2M576.2 109.1h2.2M576.2 136.3h2.2M576.5 104.5h2.2M576.5 120.2h2.2M576.8 157.6h2.2M576.8 177.7h2.2M577.2 141.7h2.2M577.2 168.0h2.2M577.5 103.2h2.2M577.5 131.3h2.2M577.8 162.2h2.2M577.8 183.5h2.2M578.1 116.4h2.2M578.1 131.3h2.2M578.5 111.1h2.2M578.5 136.9h2.2M578.8 119.2h2.2M578.8 136.5h2.2M579.1 119.6h2.2M579.1 132.1h2.2M579.4 124.4h2.2M579.4 144.5h2.2M579.8 110.5h2.2M579.8 145.0h2.2M580.1 113.4h2.2M580.1 142.3h2.2M580.4 105.8h2.2M580.4 116.8h2.2M580.7 140.1h2.2M580.7 170.6h2.2M581.1 129.5h2.2M581.1 154.5h2.2M581.4 112.0h2.2M581.4 139.4h2.2M581.7 139.5h2.2M581.7 171.7h2.2M582.1 121.4h2.2M582.1 141.9h2.2M582.4 135.9h2.2M582.4 155.7h2.2M582.7 124.3h2.2M582.7 145.3h2.2M583.0 113.3h2.2M583.0 136.8h2.2M583.4 107.7h2.2M583.4 122.9h2.2M583.7 105.3h2.2M583.7 128.7h2.2M584.0 124.0h2.2M584.0 141.6h2.2M584.3 125.3h2.2M584.3 156.8h2.2M584.7 99.2h2.2M584.7 128.9h2.2M585.0 121.6h2.2M585.0 141.6h2.2M585.3 113.6h2.2M585.3 130.0h2.2M585.7 111.3h2.2M585.7 135.9h2.2M586.0 155.3h2.2M586.0 167.4h2.2M586.3 117.9h2.2M586.3 146.6h2.2M586.6 110.8h2.2M586.6 127.7h2.2M587.0 125.8h2.2M587.0 139.2h2.2M587.3 117.5h2.2M587.3 142.8h2.2M587.6 118.1h2.2M587.6 150.7h2.2M587.9 187.5h2.2M588.3 172.8h2.2M588.6 122.0h2.2M588.6 133.9h2.2M588.9 108.0h2.2M588.9 123.8h2.2M589.3 140.6h2.2M589.3 172.2h2.2M589.6 110.0h2.2M589.6 149.8h2.2M589.9 131.4h2.2M589.9 164.4h2.2M590.2 111.3h2.2M590.2 144.5h2.2M590.6 117.3h2.2M590.6 149.5h2.2M590.9 128.3h2.2M590.9 145.5h2.2M591.2 114.2h2.2M591.2 135.9h2.2M591.5 156.0h2.2M591.5 170.6h2.2M591.9 113.0h2.2M591.9 126.7h2.2M592.2 124.7h2.2M592.2 151.9h2.2M592.5 129.5h2.2M592.5 145.3h2.2M592.8 108.3h2.2M592.8 121.6h2.2M593.2 141.5h2.2M593.2 177.6h2.2M593.5 122.2h2.2M593.5 142.4h2.2M593.8 125.7h2.2M593.8 154.1h2.2M594.2 132.0h2.2M594.2 141.6h2.2M594.5 134.3h2.2M594.5 149.1h2.2M594.8 124.2h2.2M594.8 137.5h2.2M595.1 134.5h2.2M595.1 155.9h2.2M595.5 114.0h2.2M595.5 141.5h2.2M595.8 109.9h2.2M595.8 122.0h2.2M596.1 115.9h2.2M596.1 127.9h2.2M596.4 126.3h2.2M596.4 153.1h2.2M596.8 108.2h2.2M596.8 125.4h2.2M597.1 123.0h2.2M597.1 132.5h2.2M597.4 109.1h2.2M597.4 125.5h2.2M597.8 131.6h2.2M597.8 150.5h2.2M598.1 139.8h2.2M598.1 164.4h2.2M598.4 105.7h2.2M598.4 119.5h2.2M598.7 128.1h2.2M598.7 160.0h2.2M599.1 121.4h2.2M599.1 135.3h2.2M599.4 113.9h2.2M599.4 144.8h2.2M599.7 126.3h2.2M600.0 148.2h2.2M600.0 175.1h2.2M600.4 105.1h2.2M600.4 130.1h2.2M600.7 111.9h2.2M600.7 137.6h2.2M601.0 112.7h2.2M601.0 129.3h2.2M601.4 116.3h2.2M601.4 147.7h2.2M601.7 125.6h2.2M601.7 142.8h2.2M602.0 186.5h2.2M602.3 117.7h2.2M602.3 139.8h2.2M602.7 149.8h2.2M602.7 164.2h2.2M603.0 117.5h2.2M603.0 132.2h2.2M603.3 111.4h2.2M603.3 123.4h2.2M603.6 128.3h2.2M603.6 162.8h2.2M604.0 121.4h2.2M604.0 147.0h2.2M604.3 115.1h2.2M604.3 132.4h2.2M604.6 108.3h2.2M604.6 126.0h2.2M604.9 131.6h2.2M604.9 161.0h2.2M605.3 112.9h2.2M605.3 134.6h2.2M605.6 111.1h2.2M605.6 127.2h2.2M605.9 115.6h2.2M605.9 142.5h2.2M606.3 113.3h2.2M606.3 128.9h2.2M606.6 118.0h2.2M606.6 141.9h2.2M606.9 134.2h2.2M606.9 168.9h2.2M607.2 117.9h2.2M607.2 139.0h2.2M607.6 129.8h2.2M607.6 144.3h2.2M607.9 102.6h2.2M607.9 121.8h2.2M608.2 112.4h2.2M608.2 123.9h2.2M608.5 175.5h2.2M608.5 188.4h2.2M608.9 106.1h2.2M608.9 132.4h2.2M609.2 115.5h2.2M609.2 142.8h2.2M609.5 108.0h2.2M609.5 122.9h2.2M609.9 140.0h2.2M609.9 156.3h2.2M610.2 119.5h2.2M610.2 149.2h2.2M610.5 104.7h2.2M610.5 122.8h2.2M610.8 187.7h2.2M611.2 100.0h2.2M611.2 125.6h2.2M611.5 100.8h2.2M611.5 116.4h2.2M611.8 99.9h2.2M611.8 121.5h2.2M612.1 120.9h2.2M612.1 132.9h2.2M612.5 129.1h2.2M612.5 141.8h2.2M612.8 139.5h2.2M612.8 174.5h2.2M613.1 110.4h2.2M613.1 130.6h2.2M613.5 113.5h2.2M613.5 139.0h2.2M613.8 100.8h2.2M613.8 133.3h2.2M614.1 116.7h2.2M614.1 125.9h2.2M614.4 99.5h2.2M614.4 117.4h2.2M614.8 129.3h2.2M614.8 150.4h2.2M615.1 98.3h2.2M615.1 115.0h2.2M615.4 113.1h2.2M615.4 144.3h2.2M615.7 102.1h2.2M615.7 114.0h2.2M616.1 130.5h2.2M616.1 157.9h2.2M616.4 121.3h2.2M616.4 155.8h2.2M616.7 104.3h2.2M616.7 124.5h2.2M617.0 130.6h2.2M617.0 160.6h2.2M617.4 105.7h2.2M617.4 135.0h2.2M617.7 143.5h2.2M617.7 167.4h2.2M618.0 108.1h2.2M618.0 122.5h2.2M618.4 112.6h2.2M618.4 134.2h2.2M618.7 112.6h2.2M618.7 126.1h2.2M619.0 112.0h2.2M619.0 139.7h2.2M619.3 137.2h2.2M619.3 165.6h2.2M619.7 102.9h2.2M619.7 121.5h2.2M620.0 111.9h2.2M620.0 129.0h2.2M620.3 109.8h2.2M620.3 130.9h2.2M620.6 121.3h2.2M620.6 138.2h2.2M621.0 107.6h2.2M621.0 125.0h2.2M621.3 116.5h2.2M621.3 127.4h2.2M621.6 100.4h2.2M621.6 115.1h2.2M622.0 126.6h2.2M622.0 138.9h2.2M622.3 140.3h2.2M622.3 166.9h2.2M622.6 120.3h2.2M622.6 153.7h2.2M622.9 108.6h2.2M622.9 125.3h2.2M623.3 125.6h2.2M623.3 140.1h2.2M623.6 122.7h2.2M623.6 149.0h2.2M623.9 131.6h2.2M623.9 142.7h2.2M624.2 105.9h2.2M624.2 129.6h2.2M624.6 131.0h2.2M624.6 157.6h2.2M624.9 117.0h2.2M624.9 135.8h2.2M625.2 152.4h2.2M625.2 176.9h2.2M625.6 99.1h2.2M625.6 114.7h2.2M625.9 108.2h2.2M625.9 122.7h2.2M626.2 128.2h2.2M626.2 158.8h2.2M626.5 112.8h2.2M626.5 136.0h2.2M626.9 110.1h2.2M626.9 121.1h2.2M627.2 121.5h2.2M627.2 151.1h2.2M627.5 100.6h2.2M627.5 125.6h2.2M627.8 109.4h2.2M627.8 128.7h2.2M628.2 105.9h2.2M628.2 130.8h2.2M628.5 110.0h2.2M628.5 127.3h2.2M628.8 127.9h2.2M628.8 139.8h2.2M629.1 119.5h2.2M629.1 151.5h2.2M629.5 119.8h2.2M629.5 133.4h2.2M629.8 98.8h2.2M629.8 114.2h2.2M630.1 109.7h2.2M630.1 123.8h2.2M630.5 105.1h2.2M630.8 108.0h2.2M630.8 132.4h2.2M631.1 121.8h2.2M631.1 141.4h2.2M631.4 98.4h2.2M631.4 113.2h2.2M631.8 103.7h2.2M631.8 138.8h2.2M632.1 162.6h2.2M632.1 188.9h2.2M632.4 106.7h2.2M632.4 123.7h2.2M632.7 99.5h2.2M632.7 135.2h2.2M633.1 128.1h2.2M633.1 142.0h2.2M633.4 98.0h2.2M633.4 122.7h2.2M633.7 115.8h2.2M633.7 130.4h2.2M634.1 105.7h2.2M634.1 116.4h2.2M634.4 110.9h2.2M634.4 131.3h2.2M634.7 108.5h2.2M634.7 130.4h2.2M635.0 111.7h2.2M635.0 144.3h2.2M635.4 152.3h2.2M635.4 172.4h2.2M635.7 120.2h2.2M635.7 133.8h2.2M636.0 117.1h2.2M636.0 134.3h2.2M636.3 124.5h2.2M636.3 151.8h2.2M636.7 128.6h2.2M636.7 147.5h2.2M637.0 118.3h2.2M637.0 136.7h2.2M637.3 120.4h2.2M637.3 140.8h2.2M637.7 107.9h2.2M637.7 128.7h2.2M638.0 100.9h2.2M638.0 111.7h2.2M638.3 119.5h2.2M638.3 146.8h2.2M638.6 111.6h2.2M638.6 128.3h2.2M639.0 100.8h2.2M639.0 122.6h2.2M639.3 140.6h2.2M639.3 166.0h2.2M639.6 110.6h2.2M639.6 139.8h2.2M639.9 130.3h2.2M639.9 151.6h2.2M640.3 95.4h2.2M640.3 113.0h2.2M640.6 124.1h2.2M640.6 159.4h2.2M640.9 121.1h2.2M640.9 156.4h2.2M641.2 99.2h2.2M641.2 119.6h2.2M641.6 112.2h2.2M641.6 124.8h2.2M641.9 108.7h2.2M641.9 142.9h2.2M642.2 114.2h2.2M642.2 145.3h2.2M642.6 132.3h2.2M642.6 154.7h2.2M642.9 146.9h2.2M642.9 159.4h2.2M643.2 113.6h2.2M643.2 135.2h2.2M643.5 107.8h2.2M643.5 126.8h2.2M643.9 94.0h2.2M643.9 110.5h2.2M644.2 145.5h2.2M644.2 171.0h2.2M644.5 112.4h2.2M644.5 149.7h2.2M644.8 121.8h2.2M644.8 138.7h2.2M645.2 112.0h2.2M645.2 129.6h2.2M645.5 106.5h2.2M645.5 123.5h2.2M645.8 119.4h2.2M645.8 135.3h2.2M646.2 115.0h2.2M646.2 127.9h2.2M646.5 112.1h2.2M646.5 138.1h2.2M646.8 98.6h2.2M646.8 111.0h2.2M647.1 98.5h2.2M647.1 124.3h2.2M647.5 109.7h2.2M647.5 131.7h2.2M647.8 96.9h2.2M647.8 121.0h2.2M648.1 105.8h2.2M648.1 118.7h2.2M648.4 115.1h2.2M648.4 142.1h2.2M648.8 112.3h2.2M648.8 143.3h2.2M649.1 134.1h2.2M649.1 146.7h2.2M649.4 114.9h2.2M649.4 138.5h2.2M649.8 101.3h2.2M649.8 120.1h2.2M650.1 83.2h2.2M650.1 100.8h2.2M650.4 100.3h2.2M650.4 119.7h2.2M650.7 91.9h2.2M650.7 110.1h2.2M651.1 114.4h2.2M651.1 135.6h2.2M651.4 117.4h2.2M651.4 135.7h2.2M651.7 97.6h2.2M651.7 115.4h2.2M652.0 91.1h2.2M652.0 115.1h2.2M652.4 116.8h2.2M652.4 130.8h2.2M652.7 108.8h2.2M652.7 142.2h2.2M653.0 83.8h2.2M653.3 100.5h2.2M653.3 112.7h2.2M653.7 113.7h2.2M653.7 133.2h2.2M654.0 142.8h2.2M654.0 167.6h2.2M654.3 106.6h2.2M654.3 133.4h2.2M654.7 98.4h2.2M654.7 117.5h2.2M655.0 95.7h2.2M655.0 110.7h2.2M655.3 99.6h2.2M655.3 123.7h2.2M655.6 86.4h2.2M655.6 106.4h2.2M656.0 84.0h2.2M656.0 111.6h2.2M656.3 87.3h2.2M656.3 101.5h2.2M656.6 103.1h2.2M656.6 126.7h2.2M656.9 102.4h2.2M656.9 113.2h2.2M657.3 109.6h2.2M657.3 138.9h2.2M657.6 93.7h2.2M657.6 112.6h2.2M657.9 101.2h2.2M657.9 118.5h2.2M658.3 102.9h2.2M658.3 129.2h2.2M658.6 100.7h2.2M658.6 115.5h2.2M658.9 92.6h2.2M658.9 120.3h2.2M659.2 105.1h2.2M659.2 134.7h2.2M659.6 107.9h2.2M659.6 119.1h2.2M659.9 80.3h2.2M659.9 109.7h2.2M660.2 103.0h2.2M660.2 129.3h2.2M660.5 107.3h2.2M660.5 121.4h2.2M660.9 82.4h2.2M660.9 109.3h2.2M661.2 101.0h2.2M661.2 125.4h2.2M661.5 77.3h2.2M661.5 91.3h2.2M661.9 78.6h2.2M661.9 101.0h2.2M662.2 85.2h2.2M662.2 103.1h2.2M662.5 72.4h2.2M662.5 96.4h2.2M662.8 102.8h2.2M662.8 130.5h2.2M663.2 131.9h2.2M663.2 145.7h2.2M663.5 91.7h2.2M663.5 103.2h2.2" stroke="#b4b4b4" stroke-width="0.6" fill="none"/>
<path d="M396.8 24.2h0M397.1 26.7h0M397.4 28.2h0M397.7 28.1h0M398.1 28.2h0M398.4 28.3h0M398.7 28.5h0M399.0 28.6h0M399.4 28.4h0M399.7 28.6h0M400.0 28.5h0M400.3 28.6h0M400.7 28.9h0M401.0 28.7h0M401.3 28.8h0M401.7 28.9h0M402.0 29.2h0M402.3 29.1h0M402.6 29.1h0M403.0 29.2h0M403.3 29.3h0M403.6 29.7h0M403.9 29.7h0M404.3 29.6h0M404.6 30.2h0M404.9 29.8h0M405.3 30.2h0M405.6 30.3h0M405.9 30.1h0M406.2 30.4h0M406.6 30.6h0M406.9 30.6h0M407.2 30.9h0M407.5 31.1h0M407.9 31.1h0M408.2 30.9h0M408.5 31.3h0M408.9 31.5h0M409.2 31.7h0M409.5 31.8h0M409.8 32.0h0M410.2 32.4h0M410.5 32.3h0M410.8 32.6h0M411.1 32.5h0M411.5 33.0h0M411.8 32.9h0M412.1 33.6h0M412.4 33.4h0M412.8 33.9h0M413.1 34.1h0M413.4 33.9h0M413.8 34.5h0M414.1 34.5h0M414.4 34.8h0M414.7 34.8h0M415.1 35.0h0M415.4 35.9h0M415.7 35.3h0M416.0 35.9h0M416.4 35.5h0M416.7 35.9h0M417.0 36.1h0M417.4 37.2h0M417.7 36.4h0M418.0 37.0h0M418.3 37.6h0M418.7 37.4h0M419.0 37.4h0M419.3 38.4h0M419.6 37.9h0M420.0 38.4h0M420.3 38.7h0M420.6 38.9h0M421.0 39.3h0M421.3 39.2h0M421.6 39.5h0M421.9 39.6h0M422.3 39.7h0M422.6 40.3h0M422.9 40.3h0M423.2 41.1h0M423.6 40.8h0M423.9 41.6h0M424.2 41.6h0M424.5 41.6h0M424.9 42.2h0M425.2 42.1h0M425.5 42.9h0M425.9 42.9h0M426.2 42.8h0M426.5 42.9h0M426.8 43.9h0M427.2 43.4h0M427.5 43.9h0M427.8 43.7h0M428.1 44.6h0M428.5 44.9h0M428.8 44.9h0M429.1 45.6h0M429.5 45.5h0M429.8 45.8h0M430.1 45.7h0M430.4 46.2h0M430.8 47.0h0M431.1 47.2h0M431.4 47.4h0M431.7 48.0h0M432.1 48.3h0M432.4 47.2h0M432.7 48.3h0M433.1 47.9h0M433.4 48.8h0M433.7 48.9h0M434.0 49.7h0M434.4 48.9h0M434.7 49.7h0M435.0 49.3h0M435.3 50.3h0M435.7 49.9h0M436.0 50.1h0M436.3 51.4h0M436.6 50.9h0M437.0 51.7h0M437.3 52.0h0M437.6 51.7h0M438.0 51.8h0M438.3 51.9h0M438.6 52.6h0M438.9 52.4h0M439.3 52.8h0M439.6 53.2h0M439.9 53.9h0M440.2 53.7h0M440.6 53.3h0M440.9 54.6h0M441.2 54.5h0M441.6 55.1h0M441.9 54.5h0M442.2 54.6h0M442.5 55.0h0M442.9 55.0h0M443.2 55.9h0M443.5 55.6h0M443.8 56.8h0M444.2 56.1h0M444.5 56.4h0M444.8 57.4h0M445.2 57.0h0M445.5 58.1h0M445.8 58.5h0M446.1 58.8h0M446.5 58.8h0M446.8 59.1h0M447.1 58.8h0M447.4 58.4h0M447.8 59.4h0M448.1 59.9h0M448.4 59.4h0M448.7 60.1h0M449.1 60.1h0M449.4 60.2h0M449.7 60.5h0M450.1 61.2h0M450.4 61.2h0M450.7 61.0h0M451.0 61.8h0M451.4 61.9h0M451.7 61.9h0M452.0 62.1h0M452.3 62.7h0M452.7 62.5h0M453.0 62.9h0M453.3 64.0h0M453.7 63.1h0M454.0 64.2h0M454.3 62.9h0M454.6 64.0h0M455.0 64.5h0M455.3 64.2h0M455.6 64.2h0M455.9 64.4h0M456.3 65.1h0M456.6 65.0h0M456.9 65.4h0M457.3 65.8h0M457.6 67.1h0M457.9 66.3h0M458.2 68.3h0M458.6 67.4h0M458.9 66.4h0M459.2 67.2h0M459.5 67.5h0M459.9 68.3h0M460.2 68.5h0M460.5 68.6h0M460.8 69.3h0M461.2 70.2h0M461.5 68.3h0M461.8 68.2h0M462.2 69.7h0M462.5 69.1h0M462.8 70.6h0M463.1 69.7h0M463.5 71.2h0M463.8 69.9h0M464.1 70.5h0M464.4 71.8h0M464.8 70.7h0M465.1 70.3h0M465.4 71.4h0M465.8 71.7h0M466.1 71.8h0M466.4 72.0h0M466.7 71.6h0M467.1 71.8h0M467.4 74.5h0M467.7 72.2h0M468.0 73.3h0M468.4 72.4h0M468.7 73.3h0M469.0 73.2h0M469.4 74.4h0M469.7 75.4h0M470.0 74.2h0M470.3 74.0h0M470.7 74.3h0M471.0 74.5h0M471.3 75.1h0M471.6 75.0h0M472.0 76.4h0M472.3 76.0h0M472.6 77.6h0M472.9 76.3h0M473.3 76.8h0M473.6 76.6h0M473.9 76.1h0M474.3 77.0h0M474.6 80.4h0M474.9 76.4h0M475.2 77.5h0M475.6 77.2h0M475.9 79.0h0M476.2 77.6h0M476.5 77.2h0M476.9 80.6h0M477.2 77.8h0M477.5 80.2h0M477.9 80.2h0M478.2 79.4h0M478.5 77.8h0M478.8 82.2h0M479.2 80.9h0M479.5 80.1h0M479.8 79.7h0M480.1 80.7h0M480.5 80.3h0M480.8 82.5h0M481.1 80.3h0M481.5 80.2h0M481.8 83.2h0M482.1 82.9h0M482.4 81.4h0M482.8 81.6h0M483.1 81.6h0M483.4 84.5h0M483.7 83.2h0M484.1 83.6h0M484.4 81.3h0M484.7 83.3h0M485.0 84.2h0M485.4 85.2h0M485.7 83.6h0M486.0 82.2h0M486.4 87.1h0M486.7 84.0h0M487.0 83.6h0M487.3 81.7h0M487.7 83.7h0M488.0 82.9h0M488.3 84.9h0M488.6 88.3h0M489.0 88.6h0M489.3 87.2h0M489.6 85.4h0M490.0 86.5h0M490.3 87.1h0M490.6 83.1h0M490.9 92.5h0M491.3 89.2h0M491.6 82.6h0M491.9 86.2h0M492.2 88.8h0M492.6 90.3h0M492.9 85.7h0M493.2 86.0h0M493.6 86.0h0M493.9 91.7h0M494.2 87.6h0M494.5 88.8h0M494.9 87.2h0M495.2 93.8h0M495.5 87.2h0M495.8 85.2h0M496.2 93.7h0M496.5 86.9h0M496.8 85.2h0M497.1 87.1h0M497.5 89.6h0M497.8 89.2h0M498.1 91.8h0M498.5 89.3h0M498.8 94.2h0M499.1 90.0h0M499.4 93.8h0M499.8 96.6h0M500.1 86.4h0M500.4 98.9h0M500.7 85.8h0M501.1 100.9h0M501.4 88.5h0M501.7 90.8h0M502.1 99.1h0M502.4 94.1h0M502.7 96.7h0M503.0 96.6h0M503.4 89.3h0M503.7 98.1h0M504.0 102.1h0M504.3 88.9h0M504.7 91.4h0M505.0 92.9h0M505.3 94.5h0M505.7 90.8h0M506.0 92.0h0M506.3 94.1h0M506.6 96.9h0M507.0 89.9h0M507.3 88.7h0M507.6 92.4h0M507.9 85.8h0M508.3 93.5h0M508.6 93.8h0M508.9 104.8h0M509.2 93.7h0M509.6 93.9h0M509.9 97.3h0M510.2 93.4h0M510.6 105.9h0M510.9 100.1h0M511.2 102.6h0M511.5 109.8h0M511.9 91.5h0M512.2 98.3h0M512.5 102.1h0M512.8 94.8h0M513.2 104.9h0M513.5 92.8h0M513.8 90.7h0M514.2 106.8h0M514.5 91.9h0M514.8 96.4h0M515.1 92.4h0M515.5 96.7h0M515.8 103.7h0M516.1 109.2h0M516.4 106.0h0M516.8 101.8h0M517.1 93.4h0M517.4 95.5h0M517.8 97.2h0M518.1 91.8h0M518.4 112.5h0M518.7 107.7h0M519.1 107.7h0M519.4 98.9h0M519.7 111.9h0M520.0 104.0h0M520.4 93.0h0M520.7 94.9h0M521.0 92.3h0M521.3 104.4h0M521.7 108.1h0M522.0 108.8h0M522.3 107.6h0M522.7 101.3h0M523.0 101.8h0M523.3 98.1h0M523.6 93.7h0M524.0 94.0h0M524.3 96.4h0M524.6 103.0h0M524.9 98.1h0M525.3 104.6h0M525.6 109.0h0M525.9 114.1h0M526.3 106.6h0M526.6 99.5h0M526.9 98.6h0M527.2 102.1h0M527.6 99.4h0M527.9 107.2h0M528.2 93.9h0M528.5 102.0h0M528.9 105.5h0M529.2 113.1h0M529.5 104.4h0M529.9 101.5h0M530.2 95.4h0M530.5 110.2h0M530.8 105.9h0M531.2 115.3h0M531.5 103.6h0M531.8 93.5h0M532.1 99.0h0M532.5 96.9h0M532.8 126.0h0M533.1 101.5h0M533.4 102.9h0M533.8 101.5h0M534.1 104.5h0M534.4 110.3h0M534.8 114.4h0M535.1 106.5h0M535.4 105.1h0M535.7 110.2h0M536.1 106.9h0M536.4 102.4h0M536.7 100.8h0M537.0 105.8h0M537.4 105.3h0M537.7 107.5h0M538.0 100.8h0M538.4 109.8h0M538.7 108.7h0M539.0 105.7h0M539.3 110.1h0M539.7 104.8h0M540.0 97.0h0M540.3 106.8h0M540.6 98.1h0M541.0 101.4h0M541.3 105.9h0M541.6 103.0h0M542.0 121.6h0M542.3 115.0h0M542.6 103.2h0M542.9 100.0h0M543.3 114.3h0M543.6 146.3h0M543.9 103.8h0M544.2 115.3h0M544.6 105.2h0M544.9 121.4h0M545.2 119.7h0M545.5 123.4h0M545.9 106.9h0M546.2 112.1h0M546.5 115.9h0M546.9 113.8h0M547.2 109.7h0M547.5 136.2h0M547.8 114.0h0M548.2 108.4h0M548.5 118.7h0M548.8 114.8h0M549.1 102.3h0M549.5 125.0h0M549.8 127.7h0M550.1 100.1h0M550.5 118.5h0M550.8 99.5h0M551.1 109.7h0M551.4 143.7h0M551.8 128.3h0M552.1 118.4h0M552.4 144.5h0M552.7 116.6h0M553.1 148.4h0M553.4 117.6h0M553.7 147.2h0M554.1 117.6h0M554.4 113.0h0M554.7 109.3h0M555.0 130.1h0M555.4 114.2h0M555.7 122.0h0M556.0 113.0h0M556.3 108.0h0M556.7 127.0h0M557.0 116.4h0M557.3 122.5h0M557.6 105.3h0M558.0 139.0h0M558.3 106.5h0M558.6 110.7h0M559.0 112.5h0M559.3 118.4h0M559.6 141.6h0M559.9 131.6h0M560.3 122.2h0M560.6 135.0h0M560.9 126.1h0M561.2 126.5h0M561.6 109.7h0M561.9 116.1h0M562.2 125.1h0M562.6 111.4h0M562.9 108.9h0M563.2 113.7h0M563.5 103.7h0M563.9 163.2h0M564.2 121.6h0M564.5 107.9h0M564.8 125.7h0M565.2 172.0h0M565.5 132.7h0M565.8 125.9h0M566.2 116.9h0M566.5 119.6h0M566.8 104.1h0M567.1 125.9h0M567.5 115.7h0M567.8 129.1h0M568.1 116.7h0M568.4 107.4h0M568.8 122.0h0M569.1 121.5h0M569.4 126.9h0M569.7 138.2h0M570.1 114.2h0M570.4 114.1h0M570.7 114.7h0M571.1 128.7h0M571.4 112.8h0M571.7 114.2h0M572.0 106.2h0M572.4 113.6h0M572.7 140.4h0M573.0 120.2h0M573.3 103.9h0M573.7 130.4h0M574.0 132.2h0M574.3 115.4h0M574.7 127.2h0M575.0 126.5h0M575.3 130.4h0M575.6 101.6h0M576.0 126.0h0M576.3 111.7h0M576.6 107.2h0M576.9 117.1h0M577.3 113.5h0M577.6 107.2h0M577.9 163.2h0M578.3 144.8h0M578.6 109.6h0M578.9 167.7h0M579.2 122.9h0M579.6 115.1h0M579.9 124.8h0M580.2 125.2h0M580.5 129.0h0M580.9 114.1h0M581.2 117.3h0M581.5 110.5h0M581.8 145.6h0M582.2 135.2h0M582.5 116.6h0M582.8 142.7h0M583.2 127.1h0M583.5 139.0h0M583.8 129.4h0M584.1 120.0h0M584.5 113.3h0M584.8 111.0h0M585.1 130.4h0M585.4 131.5h0M585.8 104.1h0M586.1 127.1h0M586.4 119.5h0M586.8 115.2h0M587.1 161.2h0M587.4 122.0h0M587.7 114.9h0M588.1 129.7h0M588.4 121.6h0M588.7 121.3h0M589.0 194.2h0M589.4 178.6h0M589.7 127.3h0M590.0 114.2h0M590.4 145.9h0M590.7 116.7h0M591.0 138.1h0M591.3 114.5h0M591.7 121.3h0M592.0 134.5h0M592.3 116.8h0M592.6 162.3h0M593.0 117.0h0M593.3 129.7h0M593.6 134.4h0M593.9 114.0h0M594.3 144.1h0M594.6 126.0h0M594.9 131.9h0M595.3 135.3h0M595.6 139.8h0M595.9 130.2h0M596.2 138.2h0M596.6 120.7h0M596.9 112.8h0M597.2 119.7h0M597.5 131.7h0M597.9 113.3h0M598.2 126.2h0M598.5 115.2h0M598.9 137.6h0M599.2 144.8h0M599.5 110.5h0M599.8 133.4h0M600.2 124.4h0M600.5 118.5h0M600.8 132.8h0M601.1 152.7h0M601.5 110.7h0M601.8 116.2h0M602.1 115.3h0M602.5 120.7h0M602.8 131.3h0M603.1 190.5h0M603.4 122.0h0M603.8 155.4h0M604.1 120.5h0M604.4 117.3h0M604.7 133.9h0M605.1 127.4h0M605.4 118.0h0M605.7 112.1h0M606.0 137.2h0M606.4 116.6h0M606.7 113.7h0M607.0 119.5h0M607.4 118.3h0M607.7 123.0h0M608.0 141.0h0M608.3 122.6h0M608.7 135.4h0M609.0 108.8h0M609.3 116.3h0M609.6 180.3h0M610.0 108.8h0M610.3 121.2h0M610.6 113.7h0M611.0 144.9h0M611.3 124.7h0M611.6 110.3h0M611.9 194.3h0M612.3 104.3h0M612.6 107.6h0M612.9 104.8h0M613.2 125.3h0M613.6 133.5h0M613.9 144.8h0M614.2 117.0h0M614.6 120.0h0M614.9 106.3h0M615.2 119.7h0M615.5 105.5h0M615.9 135.1h0M616.2 104.3h0M616.5 117.9h0M616.8 107.1h0M617.2 136.4h0M617.5 126.6h0M617.8 110.3h0M618.1 133.2h0M618.5 110.3h0M618.8 149.0h0M619.1 113.6h0M619.5 118.0h0M619.8 118.9h0M620.1 116.1h0M620.4 143.9h0M620.8 109.2h0M621.1 117.0h0M621.4 114.8h0M621.7 126.6h0M622.1 114.0h0M622.4 121.1h0M622.7 104.3h0M623.1 132.0h0M623.4 147.2h0M623.7 124.8h0M624.0 113.2h0M624.4 131.7h0M624.7 126.7h0M625.0 135.7h0M625.3 110.2h0M625.7 135.3h0M626.0 120.6h0M626.3 156.8h0M626.7 105.4h0M627.0 113.3h0M627.3 133.0h0M627.6 116.4h0M628.0 114.8h0M628.3 124.2h0M628.6 105.1h0M628.9 113.4h0M629.3 112.7h0M629.6 115.8h0M629.9 130.5h0M630.2 125.4h0M630.6 125.9h0M630.9 105.6h0M631.2 114.4h0M631.6 111.2h0M631.9 111.4h0M632.2 126.9h0M632.5 101.7h0M632.9 107.8h0M633.2 166.2h0M633.5 113.0h0M633.8 103.0h0M634.2 134.6h0M634.5 103.7h0M634.8 119.4h0M635.2 109.9h0M635.5 116.3h0M635.8 113.2h0M636.1 115.8h0M636.5 154.8h0M636.8 126.2h0M637.1 122.6h0M637.4 128.6h0M637.8 135.0h0M638.1 124.0h0M638.4 124.9h0M638.8 112.2h0M639.1 103.8h0M639.4 125.4h0M639.7 114.6h0M640.1 103.9h0M640.4 144.8h0M640.7 116.7h0M641.0 137.3h0M641.4 101.9h0M641.7 129.5h0M642.0 127.8h0M642.3 105.5h0M642.7 116.7h0M643.0 112.5h0M643.3 119.3h0M643.7 137.2h0M644.0 149.6h0M644.3 116.6h0M644.6 110.8h0M645.0 99.0h0M645.3 151.7h0M645.6 115.8h0M645.9 128.5h0M646.3 117.8h0M646.6 109.4h0M646.9 124.0h0M647.3 119.9h0M647.6 115.9h0M647.9 105.0h0M648.2 101.1h0M648.6 114.0h0M648.9 102.8h0M649.2 109.4h0M649.5 118.1h0M649.9 117.2h0M650.2 136.9h0M650.5 121.2h0M650.9 106.2h0M651.2 89.4h0M651.5 104.4h0M651.8 95.7h0M652.2 121.4h0M652.5 123.8h0M652.8 102.4h0M653.1 97.1h0M653.5 123.2h0M653.8 114.1h0M654.1 87.0h0M654.4 103.4h0M654.8 119.5h0M655.1 146.3h0M655.4 113.1h0M655.8 102.0h0M656.1 100.8h0M656.4 105.4h0M656.7 91.0h0M657.1 88.4h0M657.4 93.2h0M657.7 109.7h0M658.0 106.4h0M658.4 115.8h0M658.7 96.7h0M659.0 104.8h0M659.4 105.4h0M659.7 106.5h0M660.0 96.4h0M660.3 110.3h0M660.7 110.9h0M661.0 85.4h0M661.3 106.2h0M661.6 112.2h0M662.0 89.2h0M662.3 106.6h0M662.6 80.9h0M663.0 84.1h0M663.3 89.7h0M663.6 76.1h0M663.9 107.9h0M664.3 136.6h0M664.6 94.9h0" stroke="#2e2e2e" stroke-width="3.0" stroke-linecap="round" fill="none"/>
<path d="M397.0,33.8 397.9,33.9 398.8,34.0 399.7,34.1 400.6,34.2 401.5,34.4 402.4,34.5 403.3,34.6 404.2,34.8 405.1,34.9 405.9,35.1 406.8,35.3 407.7,35.5 408.6,35.6 409.5,35.8 410.4,36.1 411.3,36.3 412.2,36.5 413.1,36.7 414.0,37.0 414.9,37.2 415.8,37.5 416.7,37.8 417.6,38.1 418.5,38.3 419.4,38.7 420.3,39.0 421.2,39.3 422.1,39.6 423.0,40.0 423.8,40.3 424.7,40.7 425.6,41.1 426.5,41.5 427.4,41.9 428.3,42.3 429.2,42.7 430.1,43.1 431.0,43.6 431.9,44.1 432.8,44.5 433.7,45.0 434.6,45.5 435.5,46.0 436.4,46.5 437.3,47.1 438.2,47.6 439.1,48.2 440.0,48.8 440.9,49.4 441.7,50.0 442.6,50.6 443.5,51.2 444.4,51.8 445.3,52.5 446.2,53.2 447.1,53.9 448.0,54.6 448.9,55.3 449.8,56.0 450.7,56.7 451.6,57.5 452.5,58.3 453.4,59.1 454.3,59.9 455.2,60.7 456.1,61.5 457.0,62.4 457.9,63.3 458.8,64.1 459.6,65.0 460.5,66.0 461.4,66.9 462.3,67.8 463.2,68.8 464.1,69.8 465.0,70.8 465.9,71.8 466.8,72.8 467.7,73.9 468.6,75.0 469.5,76.0 470.4,77.1 471.3,78.3 472.2,79.4 473.1,80.6 474.0,81.7 474.9,82.9 475.8,84.1 476.6,85.4 477.5,86.6 478.4,87.9 479.3,89.2 480.2,90.5 481.1,91.8 482.0,93.1 482.9,94.4 483.8,95.7 484.7,97.0 485.6,98.3 486.5,99.6 487.4,100.9 488.3,102.1 489.2,103.3 490.1,104.5 491.0,105.6 491.9,106.7 492.8,107.7 493.7,108.7 494.5,109.7 495.4,110.6 496.3,111.4 497.2,112.2 498.1,112.9 499.0,113.6 499.9,114.3 500.8,114.9 501.7,115.5 502.6,116.0 503.5,116.5 504.4,116.9 505.3,117.4 506.2,117.7 507.1,118.1 508.0,118.4 508.9,118.7 509.8,119.0 510.7,119.3 511.6,119.5 512.4,119.7 513.3,119.9 514.2,120.1 515.1,120.2 516.0,120.4 516.9,120.5 517.8,120.7 518.7,120.8 519.6,120.9 520.5,121.1 521.4,121.2 522.3,121.3 523.2,121.4 524.1,121.6 525.0,121.7 525.9,121.9 526.8,122.0 527.7,122.2 528.6,122.4 529.5,122.6 530.3,122.9 531.2,123.1 532.1,123.4 533.0,123.7 533.9,124.0 534.8,124.4 535.7,124.8 536.6,125.2 537.5,125.6 538.4,126.1 539.3,126.6 540.2,127.1 541.1,127.6 542.0,128.2 542.9,128.7 543.8,129.3 544.7,129.9 545.6,130.5 546.5,131.1 547.3,131.7 548.2,132.4 549.1,133.0 550.0,133.6 550.9,134.2 551.8,134.9 552.7,135.5 553.6,136.1 554.5,136.8 555.4,137.4 556.3,138.0 557.2,138.6 558.1,139.2 559.0,139.7 559.9,140.3 560.8,140.8 561.7,141.3 562.6,141.8 563.5,142.3 564.4,142.8 565.2,143.2 566.1,143.6 567.0,144.0 567.9,144.3 568.8,144.6 569.7,144.9 570.6,145.2 571.5,145.5 572.4,145.7 573.3,145.9 574.2,146.1 575.1,146.2 576.0,146.4 576.9,146.5 577.8,146.6 578.7,146.7 579.6,146.7 580.5,146.8 581.4,146.8 582.3,146.8 583.1,146.8 584.0,146.8 584.9,146.8 585.8,146.8 586.7,146.8 587.6,146.7 588.5,146.7 589.4,146.6 590.3,146.6 591.2,146.5 592.1,146.4 593.0,146.4 593.9,146.3 594.8,146.2 595.7,146.1 596.6,146.0 597.5,146.0 598.4,145.9 599.3,145.8 600.2,145.8 601.0,145.7 601.9,145.6 602.8,145.6 603.7,145.5 604.6,145.4 605.5,145.4 606.4,145.3 607.3,145.3 608.2,145.2 609.1,145.2 610.0,145.1 610.9,145.1 611.8,145.1 612.7,145.0 613.6,145.0 614.5,145.0 615.4,145.0 616.3,144.9 617.2,144.9 618.0,144.9 618.9,144.9 619.8,144.9 620.7,144.9 621.6,144.9 622.5,144.9 623.4,145.0 624.3,145.0 625.2,145.0 626.1,145.0 627.0,145.1 627.9,145.1 628.8,145.2 629.7,145.2 630.6,145.3 631.5,145.3 632.4,145.4 633.3,145.5 634.2,145.5 635.1,145.6 635.9,145.7 636.8,145.8 637.7,145.9 638.6,146.0 639.5,146.1 640.4,146.3 641.3,146.4 642.2,146.5 643.1,146.7 644.0,146.8 644.9,147.0 645.8,147.1 646.7,147.3 647.6,147.4 648.5,147.6 649.4,147.8 650.3,147.9 651.2,148.1 652.1,148.2 653.0,148.4 653.8,148.5 654.7,148.7 655.6,148.8 656.5,148.9 657.4,149.0 658.3,149.1 659.2,149.1 660.1,149.2 661.0,149.2 661.9,149.2 662.8,149.2 663.7,149.2 664.6,149.1" stroke="#E69F00" stroke-width="1.9" fill="none" stroke-linejoin="round"/>
<path d="M397.0,29.4 397.9,29.3 398.8,29.2 399.7,29.2 400.6,29.2 401.5,29.2 402.4,29.4 403.3,29.5 404.2,29.7 405.1,29.9 405.9,30.2 406.8,30.5 407.7,30.9 408.6,31.2 409.5,31.6 410.4,32.1 411.3,32.6 412.2,33.1 413.1,33.6 414.0,34.1 414.9,34.7 415.8,35.3 416.7,35.9 417.6,36.5 418.5,37.2 419.4,37.8 420.3,38.5 421.2,39.2 422.1,39.9 423.0,40.6 423.8,41.3 424.7,42.0 425.6,42.7 426.5,43.4 427.4,44.2 428.3,44.9 429.2,45.6 430.1,46.3 431.0,47.0 431.9,47.8 432.8,48.4 433.7,49.1 434.6,49.8 435.5,50.5 436.4,51.2 437.3,51.8 438.2,52.5 439.1,53.1 440.0,53.7 440.9,54.4 441.7,55.0 442.6,55.6 443.5,56.2 444.4,56.8 445.3,57.4 446.2,58.0 447.1,58.5 448.0,59.1 448.9,59.7 449.8,60.2 450.7,60.8 451.6,61.3 452.5,61.9 453.4,62.4 454.3,63.0 455.2,63.5 456.1,64.0 457.0,64.5 457.9,65.0 458.8,65.5 459.6,66.1 460.5,66.6 461.4,67.1 462.3,67.6 463.2,68.1 464.1,68.7 465.0,69.3 465.9,69.9 466.8,70.5 467.7,71.1 468.6,71.8 469.5,72.5 470.4,73.2 471.3,73.9 472.2,74.7 473.1,75.4 474.0,76.2 474.9,76.9 475.8,77.7 476.6,78.5 477.5,79.2 478.4,80.0 479.3,80.7 480.2,81.5 481.1,82.2 482.0,82.9 482.9,83.6 483.8,84.3 484.7,85.0 485.6,85.6 486.5,86.3 487.4,86.8 488.3,87.4 489.2,88.0 490.1,88.5 491.0,89.0 491.9,89.5 492.8,90.0 493.7,90.4 494.5,90.9 495.4,91.3 496.3,91.8 497.2,92.2 498.1,92.6 499.0,93.1 499.9,93.5 500.8,93.9 501.7,94.3 502.6,94.8 503.5,95.2 504.4,95.7 505.3,96.1 506.2,96.6 507.1,97.0 508.0,97.5 508.9,98.0 509.8,98.4 510.7,98.9 511.6,99.4 512.4,99.9 513.3,100.4 514.2,100.8 515.1,101.3 516.0,101.8 516.9,102.3 517.8,102.8 518.7,103.2 519.6,103.7 520.5,104.2 521.4,104.7 522.3,105.1 523.2,105.6 524.1,106.1 525.0,106.5 525.9,107.0 526.8,107.5 527.7,107.9 528.6,108.3 529.5,108.8 530.3,109.2 531.2,109.6 532.1,110.1 533.0,110.5 533.9,110.9 534.8,111.3 535.7,111.7 536.6,112.0 537.5,112.4 538.4,112.8 539.3,113.2 540.2,113.5 541.1,113.9 542.0,114.3 542.9,114.6 543.8,115.0 544.7,115.4 545.6,115.7 546.5,116.1 547.3,116.5 548.2,116.9 549.1,117.3 550.0,117.7 550.9,118.1 551.8,118.5 552.7,119.0 553.6,119.4 554.5,119.9 555.4,120.3 556.3,120.8 557.2,121.3 558.1,121.8 559.0,122.3 559.9,122.8 560.8,123.3 561.7,123.8 562.6,124.3 563.5,124.8 564.4,125.3 565.2,125.8 566.1,126.3 567.0,126.9 567.9,127.4 568.8,127.9 569.7,128.4 570.6,128.9 571.5,129.4 572.4,129.9 573.3,130.4 574.2,131.0 575.1,131.5 576.0,132.0 576.9,132.4 577.8,132.9 578.7,133.4 579.6,133.9 580.5,134.3 581.4,134.8 582.3,135.2 583.1,135.7 584.0,136.1 584.9,136.5 585.8,136.9 586.7,137.3 587.6,137.7 588.5,138.0 589.4,138.4 590.3,138.7 591.2,139.0 592.1,139.3 593.0,139.5 593.9,139.8 594.8,140.0 595.7,140.2 596.6,140.3 597.5,140.5 598.4,140.6 599.3,140.7 600.2,140.7 601.0,140.8 601.9,140.8 602.8,140.8 603.7,140.8 604.6,140.8 605.5,140.8 606.4,140.8 607.3,140.8 608.2,140.7 609.1,140.7 610.0,140.7 610.9,140.6 611.8,140.6 612.7,140.6 613.6,140.6 614.5,140.6 615.4,140.6 616.3,140.6 617.2,140.7 618.0,140.7 618.9,140.8 619.8,140.9 620.7,141.0 621.6,141.1 622.5,141.2 623.4,141.3 624.3,141.5 625.2,141.6 626.1,141.8 627.0,141.9 627.9,142.1 628.8,142.3 629.7,142.5 630.6,142.6 631.5,142.8 632.4,143.0 633.3,143.2 634.2,143.4 635.1,143.6 635.9,143.8 636.8,143.9 637.7,144.1 638.6,144.3 639.5,144.5 640.4,144.7 641.3,144.8 642.2,145.0 643.1,145.2 644.0,145.3 644.9,145.5 645.8,145.6 646.7,145.7 647.6,145.8 648.5,145.9 649.4,146.0 650.3,146.1 651.2,146.2 652.1,146.2 653.0,146.3 653.8,146.3 654.7,146.4 655.6,146.4 656.5,146.4 657.4,146.4 658.3,146.3 659.2,146.3 660.1,146.2 661.0,146.2 661.9,146.1 662.8,146.0 663.7,145.9 664.6,145.7" stroke="#0072B2" stroke-width="1.9" fill="none" stroke-linejoin="round"/>
</g>
<path d="M394.80,15.20H668.10V197.70H394.80Z" fill="none" stroke="#000" stroke-width="1.5"/>
<path d="M389.80,197.70H394.80M391.80,184.93H394.80M391.80,177.46H394.80M391.80,172.15H394.80M391.80,168.04H394.80M391.80,164.68H394.80M391.80,161.84H394.80M391.80,159.38H394.80M391.80,157.21H394.80M389.80,155.27H394.80M391.80,142.50H394.80M391.80,135.03H394.80M391.80,129.72H394.80M391.80,125.61H394.80M391.80,122.25H394.80M391.80,119.41H394.80M391.80,116.95H394.80M391.80,114.78H394.80M389.80,112.84H394.80M391.80,100.07H394.80M391.80,92.60H394.80M391.80,87.29H394.80M391.80,83.18H394.80M391.80,79.82H394.80M391.80,76.98H394.80M391.80,74.52H394.80M391.80,72.35H394.80M389.80,70.41H394.80M391.80,57.64H394.80M391.80,50.17H394.80M391.80,44.86H394.80M391.80,40.75H394.80M391.80,37.39H394.80M391.80,34.55H394.80M391.80,32.09H394.80M391.80,29.92H394.80M389.80,27.98H394.80M391.80,15.21H394.80" stroke="#000" stroke-width="1.3" fill="none"/>
<path d="M394.80,197.70V202.70M433.84,197.70V202.70M472.89,197.70V202.70M511.93,197.70V202.70M550.97,197.70V202.70M590.01,197.70V202.70M629.06,197.70V202.70M668.10,197.70V202.70" stroke="#000" stroke-width="1.3" fill="none"/>
<text x="388.00" y="30.78" font-size="7.9" text-anchor="end" fill="#111">1</text>
<text x="388.00" y="73.21" font-size="7.9" text-anchor="end" fill="#111">0.1</text>
<text x="388.00" y="115.64" font-size="7.9" text-anchor="end" fill="#111">0.01</text>
<text x="388.00" y="158.07" font-size="7.9" text-anchor="end" fill="#111">0.001</text>
<text x="388.00" y="200.50" font-size="7.9" text-anchor="end" fill="#111">0.0001</text>
<text x="394.80" y="210.90" font-size="7.9" text-anchor="middle" fill="#111">0.00</text>
<text x="433.84" y="210.90" font-size="7.9" text-anchor="middle" fill="#111">0.05</text>
<text x="472.89" y="210.90" font-size="7.9" text-anchor="middle" fill="#111">0.10</text>
<text x="511.93" y="210.90" font-size="7.9" text-anchor="middle" fill="#111">0.15</text>
<text x="550.97" y="210.90" font-size="7.9" text-anchor="middle" fill="#111">0.20</text>
<text x="590.01" y="210.90" font-size="7.9" text-anchor="middle" fill="#111">0.25</text>
<text x="629.06" y="210.90" font-size="7.9" text-anchor="middle" fill="#111">0.30</text>
<text x="668.10" y="210.90" font-size="7.9" text-anchor="middle" fill="#111">0.35</text>
<text x="531.45" y="230.10" font-size="10" font-weight="bold" text-anchor="middle">q (Å<tspan font-size="6.5" dy="-4">-1</tspan><tspan dy="4">)</tspan></text>
<g clip-path="url(#clipD)"><text transform="translate(357.90,106.45) rotate(-90)" font-size="10.3" font-weight="bold" text-anchor="middle">I(q) (cm<tspan font-size="6.5" dy="-4.6">-1</tspan><tspan dy="4.6">)</tspan></text></g>
<text x="356.8" y="13.6" font-size="16" font-weight="bold">D)</text>
<circle cx="543.1" cy="30.3" r="1.5" fill="#000"/>
<path d="M537.50,45.40H548.70" stroke="#E69F00" stroke-width="1.6"/>
<path d="M537.50,60.00H548.70" stroke="#0072B2" stroke-width="1.6"/>
<text x="552.3" y="32.7" font-size="10.4" fill="#111">WT dimer</text>
<text x="552.3" y="48.5" font-size="10.4" fill="#111">1GRI dimer (χ<tspan font-size="7" dy="-3.5">2</tspan><tspan dy="3.5">=28.9)</tspan></text>
<text x="552.3" y="62.5" font-size="10.4" fill="#111">Model dimer (χ<tspan font-size="7" dy="-3.5">2</tspan><tspan dy="3.5">=2.2)</tspan></text>
<g clip-path="url(#plotE)">
<path d="M484.9 338.1V341.1M489.4 339.7V342.9M491.5 340.6V343.8M494.1 341.5V344.8M501.0 345.0V348.3M503.4 344.8V348.5M505.8 347.8V351.5M506.6 346.5V349.8M506.9 346.6V350.4M507.5 347.1V350.8M508.4 346.6V350.4M509.0 348.6V352.3M509.3 347.3V351.8M510.2 347.8V351.8M510.5 347.6V350.7M511.1 349.8V353.1M512.0 348.9V352.5M513.2 349.1V353.3M513.5 349.0V353.2M514.7 349.9V354.3M515.0 348.8V352.2M515.9 350.1V354.5M516.2 351.1V355.3M516.5 349.6V352.6M516.8 353.3V356.7M517.1 348.8V353.1M518.6 352.5V355.8M519.2 352.5V357.2M519.7 352.9V356.5M520.3 351.0V355.1M520.6 352.1V357.2M520.9 350.7V353.9M521.2 351.9V355.7M521.5 351.3V354.7M521.8 352.4V356.1M522.1 353.1V356.2M522.4 352.3V356.5M522.7 352.1V356.1M523.0 351.4V356.0M523.3 353.2V358.6M523.9 352.7V356.9M524.2 353.3V359.5M524.5 353.0V358.8M524.8 353.4V358.0M525.1 352.4V358.6M525.4 352.1V356.6M525.7 354.0V359.8M526.0 352.6V356.6M526.3 354.2V358.6M526.6 351.9V356.5M527.2 354.3V357.7M527.5 354.9V358.1M527.8 354.2V360.5M528.1 353.6V357.5M528.7 353.8V357.9M529.0 357.4V361.2M529.3 353.5V356.5M529.6 354.2V358.5M529.9 357.2V362.3M531.1 353.0V358.3M531.4 355.2V358.9M531.7 355.9V359.3M532.0 352.0V355.3M532.3 355.5V361.7M532.6 357.5V361.0M532.9 358.0V364.1M533.2 352.3V356.0M533.4 354.8V357.8M534.3 354.9V359.3M534.6 352.3V357.9M534.9 356.3V360.4M535.5 354.8V360.3M535.8 356.0V362.7M536.1 356.3V360.3M536.4 355.5V361.9M536.7 356.5V363.2M537.0 354.7V359.3M537.3 353.2V360.3M537.6 354.6V363.3M537.9 356.5V362.5M538.2 358.4V363.8M538.5 357.4V361.7M538.8 355.0V361.1M539.1 354.5V358.1M539.4 354.6V360.4M539.7 357.9V364.1M540.0 356.4V364.9M540.3 354.5V360.2M540.6 355.9V362.7M540.9 358.1V365.2M541.2 358.4V364.6M541.5 359.6V364.4M541.8 359.0V366.8M542.1 354.2V358.7M542.4 358.9V363.4M542.7 355.1V360.5M543.0 354.7V361.1M543.3 356.4V360.4M543.6 358.3V364.2M543.9 354.1V361.6M544.2 355.6V359.2M544.5 355.4V359.2M544.8 356.9V365.5M545.1 359.8V364.2M545.4 356.7V364.4M545.7 356.4V360.0M546.0 360.6V365.8M546.3 357.4V361.4M546.6 357.2V365.3M546.9 360.4V366.8M547.1 358.0V364.5M547.4 357.8V362.2M547.7 357.4V365.9M548.0 358.2V364.1M548.3 359.6V364.1M548.6 358.8V363.5M548.9 358.8V363.7M549.2 356.0V360.2M549.5 357.3V367.0M549.8 360.8V365.9M550.1 359.3V365.0M550.4 356.9V368.0M550.7 356.6V364.8M551.0 361.3V365.4M551.3 357.2V365.6M551.6 358.0V364.5M551.9 357.7V363.4M552.2 360.8V367.5M552.5 356.2V362.2M552.8 360.4V364.1M553.1 362.2V369.8M553.4 354.6V361.4M553.7 359.1V364.3M554.0 358.6V366.9M554.3 354.3V366.6M554.6 364.6V374.5M554.9 360.9V365.6M555.2 365.4V371.4M555.5 361.2V372.6M555.8 356.6V363.7M556.1 358.9V366.6M556.4 358.4V364.1M556.7 362.2V368.7M557.0 361.7V372.8M557.3 362.2V370.4M557.6 355.4V360.6M557.9 360.3V368.7M558.2 359.5V371.2M558.5 366.0V378.7M558.8 360.1V367.5M559.1 365.5V371.3M559.4 360.7V366.1M559.7 358.6V364.4M560.0 360.3V365.5M560.3 359.3V373.8M560.5 364.2V370.2M560.8 364.6V378.8M561.1 360.2V366.9M561.4 358.9V374.9M561.7 361.6V373.8M562.0 362.2V373.4M562.3 361.4V367.5M562.6 363.5V374.0M562.9 367.4V381.6M563.2 364.2V369.3M563.5 362.4V371.8M563.8 364.8V375.2M564.1 365.7V382.0M564.4 362.5V371.0M564.7 362.5V369.1M565.0 362.1V368.5M565.3 363.9V380.2M565.6 363.4V369.4M565.9 361.8V372.1M566.2 360.6V367.4M566.5 369.4V380.2M566.8 370.3V378.6M567.1 364.5V371.9M567.4 359.7V372.4M567.7 367.0V377.2M568.0 369.6V383.1M568.3 363.0V372.5M568.6 371.5V379.1M568.9 358.7V370.4M569.2 361.3V372.5M569.5 365.2V372.6M569.8 370.9V389.9M570.1 362.5V378.0M570.4 363.0V379.9M570.7 362.3V374.5M571.0 361.2V375.9M571.3 361.0V373.9M571.6 360.1V380.5M571.9 377.6V388.5M572.2 375.8V388.1M572.5 360.9V373.3M572.8 366.6V377.6M573.1 364.3V377.4M573.4 361.1V371.3M573.7 372.6V393.6M574.0 376.5V384.1M574.2 367.2V378.1M574.5 365.7V388.2M574.8 369.9V380.6M575.1 364.9V376.7M575.4 379.7V395.4M575.7 359.9V370.7M576.0 368.1V385.6M576.3 377.5V393.0M576.6 367.0V377.6M576.9 371.3V379.9M577.2 368.1V391.0M577.5 379.3V390.7M577.8 361.4V376.5M578.1 364.2V383.5M578.4 367.4V380.5M578.7 386.1V411.1M579.0 367.1V383.3M579.3 363.3V378.5M579.6 373.3V386.1M579.9 371.3V395.3M580.2 368.8V380.3M580.5 368.1V380.9M580.8 363.9V378.9M581.1 367.3V383.1M581.4 361.3V375.4M581.7 370.2V385.7M582.0 375.6V398.2M582.3 371.4V395.6M582.6 381.1V398.8M582.9 370.7V393.2M583.2 364.3V385.6M583.5 359.2V373.9M583.8 377.6V399.8M584.1 370.6V451.1M584.4 365.1V382.6M584.7 378.4V395.8M585.0 363.2V383.0M585.3 364.4V388.4M585.6 379.2V408.1M585.9 364.7V451.1M586.2 373.8V387.2M586.5 389.0V399.7M586.8 366.2V386.1M587.1 405.3V425.3M587.4 356.4V373.7M587.7 377.1V393.0M587.9 377.4V397.4M588.2 368.6V383.6M588.5 386.0V402.3M588.8 380.2V393.2M589.1 381.5V391.4M589.4 363.3V385.8M589.7 409.4V436.6M590.0 365.2V381.5M590.3 370.9V386.6M590.6 381.1V392.5M590.9 402.6V429.0M591.2 368.3V378.4M591.5 380.3V398.3M591.8 389.9V410.2M592.1 376.7V402.6M592.4 379.4V403.2M592.7 376.0V404.6M593.0 374.1V395.6M593.3 381.4V406.0M593.6 378.6V392.8M593.9 371.1V386.1M594.2 379.1V398.6M594.5 363.7V395.3M594.8 366.5V383.2M595.1 373.1V394.2M595.4 391.8V407.8M595.7 362.4V384.0M596.0 362.8V377.9M596.3 384.9V398.0M596.6 392.0V405.8M596.9 373.2V407.7M597.2 385.9V409.6M597.5 375.1V391.5M597.8 397.5V425.3M598.1 375.3V391.4M598.4 373.1V401.1M598.7 370.8V383.5M599.0 386.6V396.4M599.3 365.6V399.4M599.6 368.6V401.9M599.9 375.5V389.8M600.2 371.8V391.7M600.5 377.2V399.6M600.8 372.9V393.2M601.1 376.0V405.0M601.4 424.3V447.6M601.6 378.9V396.1M601.9 371.6V391.7M602.2 382.1V401.8M602.5 378.4V407.4M602.8 374.0V397.2M603.1 383.8V406.4M603.4 372.0V383.6M603.7 373.8V388.5M604.0 392.0V422.8M604.3 389.5V408.5M604.6 390.6V418.7M604.9 371.0V390.6M605.2 367.4V396.4M605.5 366.3V396.5M605.8 380.5V396.5M606.1 369.1V387.1M606.4 385.3V401.8M606.7 376.4V408.8M607.0 373.3V398.6M607.3 362.6V379.9M607.6 378.4V391.8M607.9 392.4V408.7M608.2 420.3V446.4M608.5 423.9V448.0M608.8 367.9V380.9M609.1 364.7V394.7M609.4 370.4V385.9M609.7 381.6V396.9M610.0 384.8V410.5M610.3 370.5V383.5M610.6 384.6V407.5M610.9 362.4V381.8M611.2 367.9V384.3M611.5 369.2V398.7M611.8 376.9V397.8M612.1 393.0V419.9M612.4 369.7V392.2M612.7 393.5V412.0M613.0 382.1V414.1M613.3 363.2V379.7M613.6 375.9V406.8M613.9 377.5V395.7M614.2 375.1V391.6M614.5 373.0V451.1M614.8 399.0V412.5M615.1 371.6V405.4M615.3 376.5V394.5M615.6 393.7V414.6M615.9 388.3V415.2M616.2 395.0V408.2M616.5 384.0V398.2M616.8 378.3V402.7M617.1 375.4V401.7M617.4 385.1V400.9M617.7 386.2V414.9M618.0 377.2V407.5M618.3 382.0V413.1M618.6 371.2V402.6M618.9 389.8V413.6M619.2 371.1V386.7M619.5 386.8V399.8M619.8 375.3V401.0M620.1 377.2V397.4M620.4 405.9V441.1M620.7 366.4V389.4M621.0 382.0V420.9M621.3 393.5V429.7M621.6 396.7V411.1M621.9 394.3V427.9M622.2 365.4V381.9M622.5 373.4V394.6M622.8 383.1V402.0M623.1 376.6V409.6M623.4 386.1V401.7M623.7 393.5V429.4M624.0 377.9V396.5M624.3 375.7V393.6M624.6 373.9V395.4M624.9 373.5V394.3M625.2 366.8V398.8M625.5 364.9V385.1M625.8 375.1V396.9M626.1 383.0V400.2M626.4 399.6V422.3M626.7 386.9V421.5M627.0 366.3V378.8M627.3 373.1V388.4M627.6 367.9V385.6M627.9 392.4V407.9M628.2 400.0V429.1M628.5 370.4V387.1M628.7 384.1V414.6M629.0 410.7V421.6M629.3 365.1V395.3M629.6 370.2V381.2M629.9 380.7V401.0M630.2 369.2V381.2M630.5 368.8V398.0M630.8 368.9V390.1M631.1 370.2V385.2M631.4 373.0V393.9M631.7 390.1V419.9M632.0 379.6V397.2M632.3 395.1V420.3M632.6 385.6V405.1M632.9 372.2V384.3M633.2 374.8V406.5M633.5 370.8V404.6M633.8 369.7V401.9M634.1 378.0V394.6M634.4 379.1V402.6M634.7 400.8V417.6M635.0 364.7V385.9M635.3 374.5V388.5M635.6 372.7V385.7M635.9 377.4V391.4M636.2 380.0V396.7M636.5 362.8V381.8M636.8 388.6V419.0M637.1 364.0V382.7M637.4 377.2V408.9M637.7 373.4V412.5M638.0 401.1V416.0M638.3 370.6V399.8M638.6 368.0V400.7M638.9 363.2V393.2M639.2 362.8V400.4M639.5 382.6V421.0M639.8 371.9V399.4M640.1 366.9V384.8M640.4 367.8V390.9M640.7 406.2V423.2M641.0 361.9V381.0M641.3 378.1V391.3M641.6 370.0V388.7M641.9 354.4V375.1M642.2 377.6V402.8M642.4 370.4V385.2M642.7 371.7V392.5M643.0 368.9V388.9M643.3 385.2V399.2M643.6 374.1V398.1M643.9 363.8V395.9M644.2 370.4V405.5M644.5 363.9V384.6M644.8 359.1V379.1M645.1 370.5V389.5M645.4 400.9V421.2M645.7 371.3V386.0M646.0 387.4V407.4M646.3 361.4V388.3M646.6 365.1V407.1M646.9 405.4V424.4M647.2 369.2V451.1M647.5 357.1V383.0M647.8 400.4V425.5M648.1 372.7V392.5M648.4 369.1V396.8M648.7 366.8V383.8M649.0 399.1V436.1M649.3 419.7V451.1M649.6 382.3V398.0M649.9 380.4V392.4M650.2 376.7V408.4M650.5 377.6V394.1M650.8 399.5V417.3M651.1 364.5V386.6M651.4 384.6V397.4M651.7 372.0V395.7M652.0 379.2V400.8M652.3 415.8V436.7M652.6 352.7V386.9M652.9 357.7V375.9M653.2 378.2V393.0M653.5 408.8V447.0M653.8 393.1V423.9M654.1 381.1V409.3M654.4 398.4V431.3M654.7 416.7V442.8M655.0 376.5V390.4M655.3 354.1V372.2M655.6 355.5V371.7M655.9 366.7V382.8M656.1 360.8V374.1M656.4 369.5V380.8M656.7 365.2V400.1M657.0 377.3V409.6M657.3 375.9V390.5M657.6 378.9V408.2M657.9 411.9V439.8M658.2 351.4V377.7M658.5 370.1V382.5M658.8 375.0V394.7M659.1 358.8V385.8M659.4 371.7V392.7M659.7 353.2V368.6M660.0 357.0V371.5M660.3 355.2V373.5M660.6 359.3V376.7M660.9 355.6V382.3M661.2 383.7V410.8M661.5 355.8V375.2M661.8 369.2V387.0M662.1 396.3V415.1M662.4 356.2V386.3M662.7 355.8V384.4M663.0 353.8V388.2M663.3 347.5V370.6M663.6 362.3V379.6M663.9 360.1V392.0M664.2 367.0V387.0M664.5 339.9V350.9" stroke="#b4b4b4" stroke-width="1.0" fill="none"/>
<path d="M483.8 338.1h2.2M483.8 341.1h2.2M488.3 339.7h2.2M488.3 342.9h2.2M490.4 340.6h2.2M490.4 343.8h2.2M493.0 341.5h2.2M493.0 344.8h2.2M499.9 345.0h2.2M499.9 348.3h2.2M502.3 344.8h2.2M502.3 348.5h2.2M504.7 347.8h2.2M504.7 351.5h2.2M505.5 346.5h2.2M505.5 349.8h2.2M505.8 346.6h2.2M505.8 350.4h2.2M506.4 347.1h2.2M506.4 350.8h2.2M507.3 346.6h2.2M507.3 350.4h2.2M507.9 348.6h2.2M507.9 352.3h2.2M508.2 347.3h2.2M508.2 351.8h2.2M509.1 347.8h2.2M509.1 351.8h2.2M509.4 347.6h2.2M509.4 350.7h2.2M510.0 349.8h2.2M510.0 353.1h2.2M510.9 348.9h2.2M510.9 352.5h2.2M512.1 349.1h2.2M512.1 353.3h2.2M512.4 349.0h2.2M512.4 353.2h2.2M513.6 349.9h2.2M513.6 354.3h2.2M513.9 348.8h2.2M513.9 352.2h2.2M514.8 350.1h2.2M514.8 354.5h2.2M515.1 351.1h2.2M515.1 355.3h2.2M515.4 349.6h2.2M515.4 352.6h2.2M515.7 353.3h2.2M515.7 356.7h2.2M516.0 348.8h2.2M516.0 353.1h2.2M517.5 352.5h2.2M517.5 355.8h2.2M518.1 352.5h2.2M518.1 357.2h2.2M518.6 352.9h2.2M518.6 356.5h2.2M519.2 351.0h2.2M519.2 355.1h2.2M519.5 352.1h2.2M519.5 357.2h2.2M519.8 350.7h2.2M519.8 353.9h2.2M520.1 351.9h2.2M520.1 355.7h2.2M520.4 351.3h2.2M520.4 354.7h2.2M520.7 352.4h2.2M520.7 356.1h2.2M521.0 353.1h2.2M521.0 356.2h2.2M521.3 352.3h2.2M521.3 356.5h2.2M521.6 352.1h2.2M521.6 356.1h2.2M521.9 351.4h2.2M521.9 356.0h2.2M522.2 353.2h2.2M522.2 358.6h2.2M522.8 352.7h2.2M522.8 356.9h2.2M523.1 353.3h2.2M523.1 359.5h2.2M523.4 353.0h2.2M523.4 358.8h2.2M523.7 353.4h2.2M523.7 358.0h2.2M524.0 352.4h2.2M524.0 358.6h2.2M524.3 352.1h2.2M524.3 356.6h2.2M524.6 354.0h2.2M524.6 359.8h2.2M524.9 352.6h2.2M524.9 356.6h2.2M525.2 354.2h2.2M525.2 358.6h2.2M525.5 351.9h2.2M525.5 356.5h2.2M526.1 354.3h2.2M526.1 357.7h2.2M526.4 354.9h2.2M526.4 358.1h2.2M526.7 354.2h2.2M526.7 360.5h2.2M527.0 353.6h2.2M527.0 357.5h2.2M527.6 353.8h2.2M527.6 357.9h2.2M527.9 357.4h2.2M527.9 361.2h2.2M528.2 353.5h2.2M528.2 356.5h2.2M528.5 354.2h2.2M528.5 358.5h2.2M528.8 357.2h2.2M528.8 362.3h2.2M530.0 353.0h2.2M530.0 358.3h2.2M530.3 355.2h2.2M530.3 358.9h2.2M530.6 355.9h2.2M530.6 359.3h2.2M530.9 352.0h2.2M530.9 355.3h2.2M531.2 355.5h2.2M531.2 361.7h2.2M531.5 357.5h2.2M531.5 361.0h2.2M531.8 358.0h2.2M531.8 364.1h2.2M532.1 352.3h2.2M532.1 356.0h2.2M532.3 354.8h2.2M532.3 357.8h2.2M533.2 354.9h2.2M533.2 359.3h2.2M533.5 352.3h2.2M533.5 357.9h2.2M533.8 356.3h2.2M533.8 360.4h2.2M534.4 354.8h2.2M534.4 360.3h2.2M534.7 356.0h2.2M534.7 362.7h2.2M535.0 356.3h2.2M535.0 360.3h2.2M535.3 355.5h2.2M535.3 361.9h2.2M535.6 356.5h2.2M535.6 363.2h2.2M535.9 354.7h2.2M535.9 359.3h2.2M536.2 353.2h2.2M536.2 360.3h2.2M536.5 354.6h2.2M536.5 363.3h2.2M536.8 356.5h2.2M536.8 362.5h2.2M537.1 358.4h2.2M537.1 363.8h2.2M537.4 357.4h2.2M537.4 361.7h2.2M537.7 355.0h2.2M537.7 361.1h2.2M538.0 354.5h2.2M538.0 358.1h2.2M538.3 354.6h2.2M538.3 360.4h2.2M538.6 357.9h2.2M538.6 364.1h2.2M538.9 356.4h2.2M538.9 364.9h2.2M539.2 354.5h2.2M539.2 360.2h2.2M539.5 355.9h2.2M539.5 362.7h2.2M539.8 358.1h2.2M539.8 365.2h2.2M540.1 358.4h2.2M540.1 364.6h2.2M540.4 359.6h2.2M540.4 364.4h2.2M540.7 359.0h2.2M540.7 366.8h2.2M541.0 354.2h2.2M541.0 358.7h2.2M541.3 358.9h2.2M541.3 363.4h2.2M541.6 355.1h2.2M541.6 360.5h2.2M541.9 354.7h2.2M541.9 361.1h2.2M542.2 356.4h2.2M542.2 360.4h2.2M542.5 358.3h2.2M542.5 364.2h2.2M542.8 354.1h2.2M542.8 361.6h2.2M543.1 355.6h2.2M543.1 359.2h2.2M543.4 355.4h2.2M543.4 359.2h2.2M543.7 356.9h2.2M543.7 365.5h2.2M544.0 359.8h2.2M544.0 364.2h2.2M544.3 356.7h2.2M544.3 364.4h2.2M544.6 356.4h2.2M544.6 360.0h2.2M544.9 360.6h2.2M544.9 365.8h2.2M545.2 357.4h2.2M545.2 361.4h2.2M545.5 357.2h2.2M545.5 365.3h2.2M545.8 360.4h2.2M545.8 366.8h2.2M546.0 358.0h2.2M546.0 364.5h2.2M546.3 357.8h2.2M546.3 362.2h2.2M546.6 357.4h2.2M546.6 365.9h2.2M546.9 358.2h2.2M546.9 364.1h2.2M547.2 359.6h2.2M547.2 364.1h2.2M547.5 358.8h2.2M547.5 363.5h2.2M547.8 358.8h2.2M547.8 363.7h2.2M548.1 356.0h2.2M548.1 360.2h2.2M548.4 357.3h2.2M548.4 367.0h2.2M548.7 360.8h2.2M548.7 365.9h2.2M549.0 359.3h2.2M549.0 365.0h2.2M549.3 356.9h2.2M549.3 368.0h2.2M549.6 356.6h2.2M549.6 364.8h2.2M549.9 361.3h2.2M549.9 365.4h2.2M550.2 357.2h2.2M550.2 365.6h2.2M550.5 358.0h2.2M550.5 364.5h2.2M550.8 357.7h2.2M550.8 363.4h2.2M551.1 360.8h2.2M551.1 367.5h2.2M551.4 356.2h2.2M551.4 362.2h2.2M551.7 360.4h2.2M551.7 364.1h2.2M552.0 362.2h2.2M552.0 369.8h2.2M552.3 354.6h2.2M552.3 361.4h2.2M552.6 359.1h2.2M552.6 364.3h2.2M552.9 358.6h2.2M552.9 366.9h2.2M553.2 354.3h2.2M553.2 366.6h2.2M553.5 364.6h2.2M553.5 374.5h2.2M553.8 360.9h2.2M553.8 365.6h2.2M554.1 365.4h2.2M554.1 371.4h2.2M554.4 361.2h2.2M554.4 372.6h2.2M554.7 356.6h2.2M554.7 363.7h2.2M555.0 358.9h2.2M555.0 366.6h2.2M555.3 358.4h2.2M555.3 364.1h2.2M555.6 362.2h2.2M555.6 368.7h2.2M555.9 361.7h2.2M555.9 372.8h2.2M556.2 362.2h2.2M556.2 370.4h2.2M556.5 355.4h2.2M556.5 360.6h2.2M556.8 360.3h2.2M556.8 368.7h2.2M557.1 359.5h2.2M557.1 371.2h2.2M557.4 366.0h2.2M557.4 378.7h2.2M557.7 360.1h2.2M557.7 367.5h2.2M558.0 365.5h2.2M558.0 371.3h2.2M558.3 360.7h2.2M558.3 366.1h2.2M558.6 358.6h2.2M558.6 364.4h2.2M558.9 360.3h2.2M558.9 365.5h2.2M559.2 359.3h2.2M559.2 373.8h2.2M559.4 364.2h2.2M559.4 370.2h2.2M559.7 364.6h2.2M559.7 378.8h2.2M560.0 360.2h2.2M560.0 366.9h2.2M560.3 358.9h2.2M560.3 374.9h2.2M560.6 361.6h2.2M560.6 373.8h2.2M560.9 362.2h2.2M560.9 373.4h2.2M561.2 361.4h2.2M561.2 367.5h2.2M561.5 363.5h2.2M561.5 374.0h2.2M561.8 367.4h2.2M561.8 381.6h2.2M562.1 364.2h2.2M562.1 369.3h2.2M562.4 362.4h2.2M562.4 371.8h2.2M562.7 364.8h2.2M562.7 375.2h2.2M563.0 365.7h2.2M563.0 382.0h2.2M563.3 362.5h2.2M563.3 371.0h2.2M563.6 362.5h2.2M563.6 369.1h2.2M563.9 362.1h2.2M563.9 368.5h2.2M564.2 363.9h2.2M564.2 380.2h2.2M564.5 363.4h2.2M564.5 369.4h2.2M564.8 361.8h2.2M564.8 372.1h2.2M565.1 360.6h2.2M565.1 367.4h2.2M565.4 369.4h2.2M565.4 380.2h2.2M565.7 370.3h2.2M565.7 378.6h2.2M566.0 364.5h2.2M566.0 371.9h2.2M566.3 359.7h2.2M566.3 372.4h2.2M566.6 367.0h2.2M566.6 377.2h2.2M566.9 369.6h2.2M566.9 383.1h2.2M567.2 363.0h2.2M567.2 372.5h2.2M567.5 371.5h2.2M567.5 379.1h2.2M567.8 358.7h2.2M567.8 370.4h2.2M568.1 361.3h2.2M568.1 372.5h2.2M568.4 365.2h2.2M568.4 372.6h2.2M568.7 370.9h2.2M568.7 389.9h2.2M569.0 362.5h2.2M569.0 378.0h2.2M569.3 363.0h2.2M569.3 379.9h2.2M569.6 362.3h2.2M569.6 374.5h2.2M569.9 361.2h2.2M569.9 375.9h2.2M570.2 361.0h2.2M570.2 373.9h2.2M570.5 360.1h2.2M570.5 380.5h2.2M570.8 377.6h2.2M570.8 388.5h2.2M571.1 375.8h2.2M571.1 388.1h2.2M571.4 360.9h2.2M571.4 373.3h2.2M571.7 366.6h2.2M571.7 377.6h2.2M572.0 364.3h2.2M572.0 377.4h2.2M572.3 361.1h2.2M572.3 371.3h2.2M572.6 372.6h2.2M572.6 393.6h2.2M572.9 376.5h2.2M572.9 384.1h2.2M573.1 367.2h2.2M573.1 378.1h2.2M573.4 365.7h2.2M573.4 388.2h2.2M573.7 369.9h2.2M573.7 380.6h2.2M574.0 364.9h2.2M574.0 376.7h2.2M574.3 379.7h2.2M574.3 395.4h2.2M574.6 359.9h2.2M574.6 370.7h2.2M574.9 368.1h2.2M574.9 385.6h2.2M575.2 377.5h2.2M575.2 393.0h2.2M575.5 367.0h2.2M575.5 377.6h2.2M575.8 371.3h2.2M575.8 379.9h2.2M576.1 368.1h2.2M576.1 391.0h2.2M576.4 379.3h2.2M576.4 390.7h2.2M576.7 361.4h2.2M576.7 376.5h2.2M577.0 364.2h2.2M577.0 383.5h2.2M577.3 367.4h2.2M577.3 380.5h2.2M577.6 386.1h2.2M577.6 411.1h2.2M577.9 367.1h2.2M577.9 383.3h2.2M578.2 363.3h2.2M578.2 378.5h2.2M578.5 373.3h2.2M578.5 386.1h2.2M578.8 371.3h2.2M578.8 395.3h2.2M579.1 368.8h2.2M579.1 380.3h2.2M579.4 368.1h2.2M579.4 380.9h2.2M579.7 363.9h2.2M579.7 378.9h2.2M580.0 367.3h2.2M580.0 383.1h2.2M580.3 361.3h2.2M580.3 375.4h2.2M580.6 370.2h2.2M580.6 385.7h2.2M580.9 375.6h2.2M580.9 398.2h2.2M581.2 371.4h2.2M581.2 395.6h2.2M581.5 381.1h2.2M581.5 398.8h2.2M581.8 370.7h2.2M581.8 393.2h2.2M582.1 364.3h2.2M582.1 385.6h2.2M582.4 359.2h2.2M582.4 373.9h2.2M582.7 377.6h2.2M582.7 399.8h2.2M583.0 370.6h2.2M583.3 365.1h2.2M583.3 382.6h2.2M583.6 378.4h2.2M583.6 395.8h2.2M583.9 363.2h2.2M583.9 383.0h2.2M584.2 364.4h2.2M584.2 388.4h2.2M584.5 379.2h2.2M584.5 408.1h2.2M584.8 364.7h2.2M585.1 373.8h2.2M585.1 387.2h2.2M585.4 389.0h2.2M585.4 399.7h2.2M585.7 366.2h2.2M585.7 386.1h2.2M586.0 405.3h2.2M586.0 425.3h2.2M586.3 356.4h2.2M586.3 373.7h2.2M586.6 377.1h2.2M586.6 393.0h2.2M586.8 377.4h2.2M586.8 397.4h2.2M587.1 368.6h2.2M587.1 383.6h2.2M587.4 386.0h2.2M587.4 402.3h2.2M587.7 380.2h2.2M587.7 393.2h2.2M588.0 381.5h2.2M588.0 391.4h2.2M588.3 363.3h2.2M588.3 385.8h2.2M588.6 409.4h2.2M588.6 436.6h2.2M588.9 365.2h2.2M588.9 381.5h2.2M589.2 370.9h2.2M589.2 386.6h2.2M589.5 381.1h2.2M589.5 392.5h2.2M589.8 402.6h2.2M589.8 429.0h2.2M590.1 368.3h2.2M590.1 378.4h2.2M590.4 380.3h2.2M590.4 398.3h2.2M590.7 389.9h2.2M590.7 410.2h2.2M591.0 376.7h2.2M591.0 402.6h2.2M591.3 379.4h2.2M591.3 403.2h2.2M591.6 376.0h2.2M591.6 404.6h2.2M591.9 374.1h2.2M591.9 395.6h2.2M592.2 381.4h2.2M592.2 406.0h2.2M592.5 378.6h2.2M592.5 392.8h2.2M592.8 371.1h2.2M592.8 386.1h2.2M593.1 379.1h2.2M593.1 398.6h2.2M593.4 363.7h2.2M593.4 395.3h2.2M593.7 366.5h2.2M593.7 383.2h2.2M594.0 373.1h2.2M594.0 394.2h2.2M594.3 391.8h2.2M594.3 407.8h2.2M594.6 362.4h2.2M594.6 384.0h2.2M594.9 362.8h2.2M594.9 377.9h2.2M595.2 384.9h2.2M595.2 398.0h2.2M595.5 392.0h2.2M595.5 405.8h2.2M595.8 373.2h2.2M595.8 407.7h2.2M596.1 385.9h2.2M596.1 409.6h2.2M596.4 375.1h2.2M596.4 391.5h2.2M596.7 397.5h2.2M596.7 425.3h2.2M597.0 375.3h2.2M597.0 391.4h2.2M597.3 373.1h2.2M597.3 401.1h2.2M597.6 370.8h2.2M597.6 383.5h2.2M597.9 386.6h2.2M597.9 396.4h2.2M598.2 365.6h2.2M598.2 399.4h2.2M598.5 368.6h2.2M598.5 401.9h2.2M598.8 375.5h2.2M598.8 389.8h2.2M599.1 371.8h2.2M599.1 391.7h2.2M599.4 377.2h2.2M599.4 399.6h2.2M599.7 372.9h2.2M599.7 393.2h2.2M600.0 376.0h2.2M600.0 405.0h2.2M600.3 424.3h2.2M600.3 447.6h2.2M600.5 378.9h2.2M600.5 396.1h2.2M600.8 371.6h2.2M600.8 391.7h2.2M601.1 382.1h2.2M601.1 401.8h2.2M601.4 378.4h2.2M601.4 407.4h2.2M601.7 374.0h2.2M601.7 397.2h2.2M602.0 383.8h2.2M602.0 406.4h2.2M602.3 372.0h2.2M602.3 383.6h2.2M602.6 373.8h2.2M602.6 388.5h2.2M602.9 392.0h2.2M602.9 422.8h2.2M603.2 389.5h2.2M603.2 408.5h2.2M603.5 390.6h2.2M603.5 418.7h2.2M603.8 371.0h2.2M603.8 390.6h2.2M604.1 367.4h2.2M604.1 396.4h2.2M604.4 366.3h2.2M604.4 396.5h2.2M604.7 380.5h2.2M604.7 396.5h2.2M605.0 369.1h2.2M605.0 387.1h2.2M605.3 385.3h2.2M605.3 401.8h2.2M605.6 376.4h2.2M605.6 408.8h2.2M605.9 373.3h2.2M605.9 398.6h2.2M606.2 362.6h2.2M606.2 379.9h2.2M606.5 378.4h2.2M606.5 391.8h2.2M606.8 392.4h2.2M606.8 408.7h2.2M607.1 420.3h2.2M607.1 446.4h2.2M607.4 423.9h2.2M607.4 448.0h2.2M607.7 367.9h2.2M607.7 380.9h2.2M608.0 364.7h2.2M608.0 394.7h2.2M608.3 370.4h2.2M608.3 385.9h2.2M608.6 381.6h2.2M608.6 396.9h2.2M608.9 384.8h2.2M608.9 410.5h2.2M609.2 370.5h2.2M609.2 383.5h2.2M609.5 384.6h2.2M609.5 407.5h2.2M609.8 362.4h2.2M609.8 381.8h2.2M610.1 367.9h2.2M610.1 384.3h2.2M610.4 369.2h2.2M610.4 398.7h2.2M610.7 376.9h2.2M610.7 397.8h2.2M611.0 393.0h2.2M611.0 419.9h2.2M611.3 369.7h2.2M611.3 392.2h2.2M611.6 393.5h2.2M611.6 412.0h2.2M611.9 382.1h2.2M611.9 414.1h2.2M612.2 363.2h2.2M612.2 379.7h2.2M612.5 375.9h2.2M612.5 406.8h2.2M612.8 377.5h2.2M612.8 395.7h2.2M613.1 375.1h2.2M613.1 391.6h2.2M613.4 373.0h2.2M613.7 399.0h2.2M613.7 412.5h2.2M614.0 371.6h2.2M614.0 405.4h2.2M614.2 376.5h2.2M614.2 394.5h2.2M614.5 393.7h2.2M614.5 414.6h2.2M614.8 388.3h2.2M614.8 415.2h2.2M615.1 395.0h2.2M615.1 408.2h2.2M615.4 384.0h2.2M615.4 398.2h2.2M615.7 378.3h2.2M615.7 402.7h2.2M616.0 375.4h2.2M616.0 401.7h2.2M616.3 385.1h2.2M616.3 400.9h2.2M616.6 386.2h2.2M616.6 414.9h2.2M616.9 377.2h2.2M616.9 407.5h2.2M617.2 382.0h2.2M617.2 413.1h2.2M617.5 371.2h2.2M617.5 402.6h2.2M617.8 389.8h2.2M617.8 413.6h2.2M618.1 371.1h2.2M618.1 386.7h2.2M618.4 386.8h2.2M618.4 399.8h2.2M618.7 375.3h2.2M618.7 401.0h2.2M619.0 377.2h2.2M619.0 397.4h2.2M619.3 405.9h2.2M619.3 441.1h2.2M619.6 366.4h2.2M619.6 389.4h2.2M619.9 382.0h2.2M619.9 420.9h2.2M620.2 393.5h2.2M620.2 429.7h2.2M620.5 396.7h2.2M620.5 411.1h2.2M620.8 394.3h2.2M620.8 427.9h2.2M621.1 365.4h2.2M621.1 381.9h2.2M621.4 373.4h2.2M621.4 394.6h2.2M621.7 383.1h2.2M621.7 402.0h2.2M622.0 376.6h2.2M622.0 409.6h2.2M622.3 386.1h2.2M622.3 401.7h2.2M622.6 393.5h2.2M622.6 429.4h2.2M622.9 377.9h2.2M622.9 396.5h2.2M623.2 375.7h2.2M623.2 393.6h2.2M623.5 373.9h2.2M623.5 395.4h2.2M623.8 373.5h2.2M623.8 394.3h2.2M624.1 366.8h2.2M624.1 398.8h2.2M624.4 364.9h2.2M624.4 385.1h2.2M624.7 375.1h2.2M624.7 396.9h2.2M625.0 383.0h2.2M625.0 400.2h2.2M625.3 399.6h2.2M625.3 422.3h2.2M625.6 386.9h2.2M625.6 421.5h2.2M625.9 366.3h2.2M625.9 378.8h2.2M626.2 373.1h2.2M626.2 388.4h2.2M626.5 367.9h2.2M626.5 385.6h2.2M626.8 392.4h2.2M626.8 407.9h2.2M627.1 400.0h2.2M627.1 429.1h2.2M627.4 370.4h2.2M627.4 387.1h2.2M627.6 384.1h2.2M627.6 414.6h2.2M627.9 410.7h2.2M627.9 421.6h2.2M628.2 365.1h2.2M628.2 395.3h2.2M628.5 370.2h2.2M628.5 381.2h2.2M628.8 380.7h2.2M628.8 401.0h2.2M629.1 369.2h2.2M629.1 381.2h2.2M629.4 368.8h2.2M629.4 398.0h2.2M629.7 368.9h2.2M629.7 390.1h2.2M630.0 370.2h2.2M630.0 385.2h2.2M630.3 373.0h2.2M630.3 393.9h2.2M630.6 390.1h2.2M630.6 419.9h2.2M630.9 379.6h2.2M630.9 397.2h2.2M631.2 395.1h2.2M631.2 420.3h2.2M631.5 385.6h2.2M631.5 405.1h2.2M631.8 372.2h2.2M631.8 384.3h2.2M632.1 374.8h2.2M632.1 406.5h2.2M632.4 370.8h2.2M632.4 404.6h2.2M632.7 369.7h2.2M632.7 401.9h2.2M633.0 378.0h2.2M633.0 394.6h2.2M633.3 379.1h2.2M633.3 402.6h2.2M633.6 400.8h2.2M633.6 417.6h2.2M633.9 364.7h2.2M633.9 385.9h2.2M634.2 374.5h2.2M634.2 388.5h2.2M634.5 372.7h2.2M634.5 385.7h2.2M634.8 377.4h2.2M634.8 391.4h2.2M635.1 380.0h2.2M635.1 396.7h2.2M635.4 362.8h2.2M635.4 381.8h2.2M635.7 388.6h2.2M635.7 419.0h2.2M636.0 364.0h2.2M636.0 382.7h2.2M636.3 377.2h2.2M636.3 408.9h2.2M636.6 373.4h2.2M636.6 412.5h2.2M636.9 401.1h2.2M636.9 416.0h2.2M637.2 370.6h2.2M637.2 399.8h2.2M637.5 368.0h2.2M637.5 400.7h2.2M637.8 363.2h2.2M637.8 393.2h2.2M638.1 362.8h2.2M638.1 400.4h2.2M638.4 382.6h2.2M638.4 421.0h2.2M638.7 371.9h2.2M638.7 399.4h2.2M639.0 366.9h2.2M639.0 384.8h2.2M639.3 367.8h2.2M639.3 390.9h2.2M639.6 406.2h2.2M639.6 423.2h2.2M639.9 361.9h2.2M639.9 381.0h2.2M640.2 378.1h2.2M640.2 391.3h2.2M640.5 370.0h2.2M640.5 388.7h2.2M640.8 354.4h2.2M640.8 375.1h2.2M641.1 377.6h2.2M641.1 402.8h2.2M641.3 370.4h2.2M641.3 385.2h2.2M641.6 371.7h2.2M641.6 392.5h2.2M641.9 368.9h2.2M641.9 388.9h2.2M642.2 385.2h2.2M642.2 399.2h2.2M642.5 374.1h2.2M642.5 398.1h2.2M642.8 363.8h2.2M642.8 395.9h2.2M643.1 370.4h2.2M643.1 405.5h2.2M643.4 363.9h2.2M643.4 384.6h2.2M643.7 359.1h2.2M643.7 379.1h2.2M644.0 370.5h2.2M644.0 389.5h2.2M644.3 400.9h2.2M644.3 421.2h2.2M644.6 371.3h2.2M644.6 386.0h2.2M644.9 387.4h2.2M644.9 407.4h2.2M645.2 361.4h2.2M645.2 388.3h2.2M645.5 365.1h2.2M645.5 407.1h2.2M645.8 405.4h2.2M645.8 424.4h2.2M646.1 369.2h2.2M646.4 357.1h2.2M646.4 383.0h2.2M646.7 400.4h2.2M646.7 425.5h2.2M647.0 372.7h2.2M647.0 392.5h2.2M647.3 369.1h2.2M647.3 396.8h2.2M647.6 366.8h2.2M647.6 383.8h2.2M647.9 399.1h2.2M647.9 436.1h2.2M648.2 419.7h2.2M648.5 382.3h2.2M648.5 398.0h2.2M648.8 380.4h2.2M648.8 392.4h2.2M649.1 376.7h2.2M649.1 408.4h2.2M649.4 377.6h2.2M649.4 394.1h2.2M649.7 399.5h2.2M649.7 417.3h2.2M650.0 364.5h2.2M650.0 386.6h2.2M650.3 384.6h2.2M650.3 397.4h2.2M650.6 372.0h2.2M650.6 395.7h2.2M650.9 379.2h2.2M650.9 400.8h2.2M651.2 415.8h2.2M651.2 436.7h2.2M651.5 352.7h2.2M651.5 386.9h2.2M651.8 357.7h2.2M651.8 375.9h2.2M652.1 378.2h2.2M652.1 393.0h2.2M652.4 408.8h2.2M652.4 447.0h2.2M652.7 393.1h2.2M652.7 423.9h2.2M653.0 381.1h2.2M653.0 409.3h2.2M653.3 398.4h2.2M653.3 431.3h2.2M653.6 416.7h2.2M653.6 442.8h2.2M653.9 376.5h2.2M653.9 390.4h2.2M654.2 354.1h2.2M654.2 372.2h2.2M654.5 355.5h2.2M654.5 371.7h2.2M654.8 366.7h2.2M654.8 382.8h2.2M655.0 360.8h2.2M655.0 374.1h2.2M655.3 369.5h2.2M655.3 380.8h2.2M655.6 365.2h2.2M655.6 400.1h2.2M655.9 377.3h2.2M655.9 409.6h2.2M656.2 375.9h2.2M656.2 390.5h2.2M656.5 378.9h2.2M656.5 408.2h2.2M656.8 411.9h2.2M656.8 439.8h2.2M657.1 351.4h2.2M657.1 377.7h2.2M657.4 370.1h2.2M657.4 382.5h2.2M657.7 375.0h2.2M657.7 394.7h2.2M658.0 358.8h2.2M658.0 385.8h2.2M658.3 371.7h2.2M658.3 392.7h2.2M658.6 353.2h2.2M658.6 368.6h2.2M658.9 357.0h2.2M658.9 371.5h2.2M659.2 355.2h2.2M659.2 373.5h2.2M659.5 359.3h2.2M659.5 376.7h2.2M659.8 355.6h2.2M659.8 382.3h2.2M660.1 383.7h2.2M660.1 410.8h2.2M660.4 355.8h2.2M660.4 375.2h2.2M660.7 369.2h2.2M660.7 387.0h2.2M661.0 396.3h2.2M661.0 415.1h2.2M661.3 356.2h2.2M661.3 386.3h2.2M661.6 355.8h2.2M661.6 384.4h2.2M661.9 353.8h2.2M661.9 388.2h2.2M662.2 347.5h2.2M662.2 370.6h2.2M662.5 362.3h2.2M662.5 379.6h2.2M662.8 360.1h2.2M662.8 392.0h2.2M663.1 367.0h2.2M663.1 387.0h2.2M663.4 339.9h2.2M663.4 350.9h2.2" stroke="#b4b4b4" stroke-width="0.6" fill="none"/>
<path d="M396.8 290.0h0M397.0 290.3h0M397.3 290.0h0M397.6 289.8h0M397.9 290.0h0M398.2 289.8h0M398.5 289.7h0M398.8 289.9h0M399.1 289.7h0M399.4 289.6h0M399.7 289.7h0M400.0 289.6h0M400.3 289.7h0M400.6 289.7h0M400.9 289.7h0M401.2 289.9h0M401.5 289.6h0M401.8 289.8h0M402.1 289.9h0M402.4 289.7h0M402.7 289.8h0M403.0 290.0h0M403.3 290.1h0M403.6 290.0h0M403.9 290.3h0M404.2 290.3h0M404.5 290.2h0M404.8 290.3h0M405.1 290.3h0M405.4 290.5h0M405.7 290.5h0M406.0 290.8h0M406.3 290.7h0M406.6 290.8h0M406.9 290.9h0M407.2 291.0h0M407.5 291.3h0M407.8 291.4h0M408.1 291.3h0M408.4 291.5h0M408.7 291.7h0M409.0 292.1h0M409.3 291.9h0M409.6 292.2h0M409.9 292.3h0M410.2 292.8h0M410.5 292.7h0M410.7 293.2h0M411.0 293.0h0M411.3 293.2h0M411.6 293.4h0M411.9 293.7h0M412.2 293.7h0M412.5 294.0h0M412.8 294.4h0M413.1 294.3h0M413.4 294.6h0M413.7 295.0h0M414.0 294.8h0M414.3 295.3h0M414.6 295.5h0M414.9 295.8h0M415.2 296.0h0M415.5 295.9h0M415.8 295.9h0M416.1 296.5h0M416.4 296.7h0M416.7 296.9h0M417.0 296.9h0M417.3 297.0h0M417.6 297.5h0M417.9 297.8h0M418.2 297.8h0M418.5 298.1h0M418.8 298.5h0M419.1 298.7h0M419.4 299.1h0M419.7 299.1h0M420.0 299.6h0M420.3 299.4h0M420.6 299.7h0M420.9 300.5h0M421.2 300.7h0M421.5 300.8h0M421.8 300.9h0M422.1 301.0h0M422.4 301.4h0M422.7 301.5h0M423.0 302.2h0M423.3 302.2h0M423.6 302.4h0M423.9 302.8h0M424.2 303.1h0M424.4 303.0h0M424.7 303.3h0M425.0 303.5h0M425.3 304.3h0M425.6 303.9h0M425.9 304.1h0M426.2 304.3h0M426.5 304.9h0M426.8 305.3h0M427.1 305.3h0M427.4 305.6h0M427.7 305.7h0M428.0 306.6h0M428.3 306.4h0M428.6 306.6h0M428.9 307.1h0M429.2 307.3h0M429.5 307.0h0M429.8 307.5h0M430.1 308.0h0M430.4 307.7h0M430.7 308.4h0M431.0 308.7h0M431.3 309.0h0M431.6 309.1h0M431.9 309.1h0M432.2 309.5h0M432.5 309.6h0M432.8 310.0h0M433.1 310.0h0M433.4 310.6h0M433.7 310.5h0M434.0 311.1h0M434.3 310.8h0M434.6 311.1h0M434.9 311.5h0M435.2 311.6h0M435.5 312.0h0M435.8 312.2h0M436.1 312.2h0M436.4 312.3h0M436.7 313.1h0M437.0 313.0h0M437.3 313.0h0M437.6 313.6h0M437.8 313.9h0M438.1 313.5h0M438.4 314.0h0M438.7 313.7h0M439.0 314.1h0M439.3 314.5h0M439.6 314.7h0M439.9 314.9h0M440.2 315.1h0M440.5 315.4h0M440.8 315.8h0M441.1 315.8h0M441.4 315.7h0M441.7 316.3h0M442.0 316.5h0M442.3 316.6h0M442.6 316.1h0M442.9 316.4h0M443.2 316.7h0M443.5 317.2h0M443.8 317.0h0M444.1 317.9h0M444.4 317.4h0M444.7 317.7h0M445.0 317.4h0M445.3 317.9h0M445.6 318.4h0M445.9 318.4h0M446.2 318.8h0M446.5 318.7h0M446.8 319.1h0M447.1 318.9h0M447.4 319.0h0M447.7 319.8h0M448.0 319.2h0M448.3 320.6h0M448.6 320.3h0M448.9 319.9h0M449.2 320.0h0M449.5 319.9h0M449.8 320.6h0M450.1 320.7h0M450.4 320.6h0M450.7 321.2h0M451.0 321.0h0M451.3 321.5h0M451.5 321.6h0M451.8 321.4h0M452.1 321.6h0M452.4 322.3h0M452.7 321.7h0M453.0 322.8h0M453.3 322.3h0M453.6 322.4h0M453.9 322.9h0M454.2 323.3h0M454.5 323.4h0M454.8 323.1h0M455.1 322.8h0M455.4 323.6h0M455.7 324.3h0M456.0 324.0h0M456.3 324.6h0M456.6 323.7h0M456.9 324.1h0M457.2 324.2h0M457.5 325.3h0M457.8 325.3h0M458.1 325.3h0M458.4 325.1h0M458.7 325.2h0M459.0 325.5h0M459.3 325.1h0M459.6 326.0h0M459.9 325.4h0M460.2 325.7h0M460.5 326.4h0M460.8 326.4h0M461.1 325.7h0M461.4 326.4h0M461.7 327.1h0M462.0 326.8h0M462.3 327.1h0M462.6 326.9h0M462.9 327.5h0M463.2 327.1h0M463.5 327.7h0M463.8 327.9h0M464.1 327.5h0M464.4 327.9h0M464.7 328.9h0M465.0 328.2h0M465.2 328.4h0M465.5 328.5h0M465.8 328.3h0M466.1 329.5h0M466.4 328.8h0M466.7 329.3h0M467.0 329.0h0M467.3 329.9h0M467.6 329.6h0M467.9 329.2h0M468.2 329.9h0M468.5 329.8h0M468.8 331.4h0M469.1 330.9h0M469.4 331.0h0M469.7 330.8h0M470.0 330.9h0M470.3 330.7h0M470.6 331.6h0M470.9 330.5h0M471.2 330.6h0M471.5 331.9h0M471.8 331.4h0M472.1 331.1h0M472.4 332.2h0M472.7 332.0h0M473.0 331.8h0M473.3 331.9h0M473.6 332.5h0M473.9 332.8h0M474.2 332.6h0M474.5 333.1h0M474.8 332.7h0M475.1 333.4h0M475.4 333.6h0M475.7 334.0h0M476.0 333.0h0M476.3 334.1h0M476.6 334.7h0M476.9 333.9h0M477.2 334.6h0M477.5 334.2h0M477.8 334.7h0M478.1 334.7h0M478.4 334.9h0M478.7 334.9h0M478.9 335.3h0M479.2 335.8h0M479.5 335.4h0M479.8 335.4h0M480.1 336.7h0M480.4 336.2h0M480.7 335.9h0M481.0 335.9h0M481.3 335.5h0M481.6 336.0h0M481.9 336.3h0M482.2 336.7h0M482.5 336.7h0M482.8 337.1h0M483.1 336.9h0M483.4 338.5h0M483.7 337.6h0M484.0 336.8h0M484.3 338.1h0M484.6 338.8h0M484.9 338.4h0M485.2 338.3h0M485.5 337.8h0M485.8 339.7h0M486.1 338.8h0M486.4 338.1h0M486.7 338.7h0M487.0 339.6h0M487.3 338.5h0M487.6 339.2h0M487.9 339.5h0M488.2 339.5h0M488.5 340.0h0M488.8 339.3h0M489.1 339.4h0M489.4 340.0h0M489.7 339.8h0M490.0 340.4h0M490.3 340.7h0M490.6 340.6h0M490.9 341.0h0M491.2 341.0h0M491.5 341.1h0M491.8 340.3h0M492.1 342.5h0M492.4 341.7h0M492.6 341.2h0M492.9 342.2h0M493.2 342.0h0M493.5 342.0h0M493.8 342.2h0M494.1 342.2h0M494.4 343.0h0M494.7 342.9h0M495.0 343.4h0M495.3 343.1h0M495.6 343.5h0M495.9 344.3h0M496.2 343.3h0M496.5 343.3h0M496.8 343.3h0M497.1 343.5h0M497.4 343.2h0M497.7 343.6h0M498.0 343.9h0M498.3 343.4h0M498.6 344.1h0M498.9 345.0h0M499.2 343.9h0M499.5 344.5h0M499.8 346.0h0M500.1 345.2h0M500.4 345.8h0M500.7 344.8h0M501.0 345.4h0M501.3 346.9h0M501.6 346.4h0M501.9 344.7h0M502.2 345.7h0M502.5 345.7h0M502.8 346.2h0M503.1 346.0h0M503.4 345.4h0M503.7 346.1h0M504.0 346.8h0M504.3 346.5h0M504.6 345.6h0M504.9 346.4h0M505.2 347.1h0M505.5 345.9h0M505.8 348.2h0M506.0 349.3h0M506.3 347.6h0M506.6 347.3h0M506.9 347.4h0M507.2 349.0h0M507.5 347.9h0M507.8 348.3h0M508.1 347.2h0M508.4 347.4h0M508.7 348.2h0M509.0 349.2h0M509.3 348.1h0M509.6 348.5h0M509.9 348.7h0M510.2 348.6h0M510.5 348.1h0M510.8 349.9h0M511.1 350.4h0M511.4 349.0h0M511.7 348.9h0M512.0 349.4h0M512.3 351.2h0M512.6 349.9h0M512.9 350.3h0M513.2 349.9h0M513.5 349.9h0M513.8 351.2h0M514.1 350.7h0M514.4 351.2h0M514.7 350.7h0M515.0 349.7h0M515.3 351.7h0M515.6 350.4h0M515.9 350.6h0M516.2 351.9h0M516.5 350.2h0M516.8 353.7h0M517.1 349.6h0M517.4 350.2h0M517.7 351.7h0M518.0 352.6h0M518.3 352.5h0M518.6 352.9h0M518.9 350.2h0M519.2 353.2h0M519.5 351.6h0M519.7 353.7h0M520.0 352.1h0M520.3 351.8h0M520.6 352.8h0M520.9 351.3h0M521.2 352.5h0M521.5 351.9h0M521.8 352.8h0M522.1 353.9h0M522.4 353.0h0M522.7 352.5h0M523.0 352.2h0M523.3 353.7h0M523.6 354.3h0M523.9 353.6h0M524.2 354.1h0M524.5 353.6h0M524.8 354.1h0M525.1 353.3h0M525.4 353.0h0M525.7 355.1h0M526.0 353.6h0M526.3 354.7h0M526.6 353.0h0M526.9 355.1h0M527.2 355.4h0M527.5 356.0h0M527.8 354.8h0M528.1 354.5h0M528.4 355.7h0M528.7 354.6h0M529.0 358.1h0M529.3 354.6h0M529.6 354.9h0M529.9 357.9h0M530.2 353.4h0M530.5 354.5h0M530.8 354.5h0M531.1 353.9h0M531.4 356.2h0M531.7 357.2h0M532.0 353.2h0M532.3 356.5h0M532.6 358.5h0M532.9 358.7h0M533.2 353.1h0M533.4 355.7h0M533.7 355.5h0M534.0 355.7h0M534.3 355.4h0M534.6 353.5h0M534.9 356.9h0M535.2 354.9h0M535.5 356.1h0M535.8 357.2h0M536.1 357.8h0M536.4 356.7h0M536.7 357.6h0M537.0 355.3h0M537.3 354.3h0M537.6 356.1h0M537.9 357.8h0M538.2 359.2h0M538.5 358.7h0M538.8 355.8h0M539.1 356.1h0M539.4 355.3h0M539.7 359.0h0M540.0 357.5h0M540.3 355.6h0M540.6 357.1h0M540.9 359.5h0M541.2 359.3h0M541.5 360.6h0M541.8 360.3h0M542.1 355.8h0M542.4 360.1h0M542.7 355.9h0M543.0 356.4h0M543.3 357.6h0M543.6 359.8h0M543.9 354.9h0M544.2 357.0h0M544.5 356.7h0M544.8 358.5h0M545.1 361.6h0M545.4 357.8h0M545.7 357.6h0M546.0 361.7h0M546.3 359.0h0M546.6 358.7h0M546.9 361.8h0M547.1 359.0h0M547.4 359.3h0M547.7 358.7h0M548.0 359.6h0M548.3 360.4h0M548.6 360.1h0M548.9 360.8h0M549.2 357.1h0M549.5 359.2h0M549.8 361.5h0M550.1 360.4h0M550.4 358.3h0M550.7 357.8h0M551.0 362.0h0M551.3 358.8h0M551.6 359.2h0M551.9 359.4h0M552.2 362.6h0M552.5 358.1h0M552.8 361.7h0M553.1 363.4h0M553.4 356.3h0M553.7 360.0h0M554.0 360.0h0M554.3 356.4h0M554.6 365.5h0M554.9 363.2h0M555.2 366.4h0M555.5 362.6h0M555.8 357.9h0M556.1 360.6h0M556.4 360.1h0M556.7 363.7h0M557.0 364.1h0M557.3 364.4h0M557.6 357.4h0M557.9 362.0h0M558.2 360.6h0M558.5 367.6h0M558.8 361.2h0M559.1 367.0h0M559.4 363.3h0M559.7 361.3h0M560.0 361.8h0M560.3 361.2h0M560.5 365.4h0M560.8 365.8h0M561.1 362.1h0M561.4 360.1h0M561.7 363.7h0M562.0 363.4h0M562.3 363.4h0M562.6 364.8h0M562.9 369.1h0M563.2 365.9h0M563.5 364.9h0M563.8 367.9h0M564.1 368.3h0M564.4 365.0h0M564.7 364.9h0M565.0 364.6h0M565.3 367.0h0M565.6 364.6h0M565.9 363.3h0M566.2 362.2h0M566.5 372.1h0M566.8 372.9h0M567.1 367.1h0M567.4 361.4h0M567.7 369.8h0M568.0 373.1h0M568.3 365.2h0M568.6 374.0h0M568.9 360.4h0M569.2 363.5h0M569.5 368.1h0M569.8 372.4h0M570.1 366.0h0M570.4 364.8h0M570.7 364.8h0M571.0 364.9h0M571.3 363.0h0M571.6 363.9h0M571.9 380.6h0M572.2 379.3h0M572.5 363.4h0M572.8 370.4h0M573.1 367.7h0M573.4 364.6h0M573.7 374.3h0M574.0 378.9h0M574.2 370.3h0M574.5 368.4h0M574.8 373.4h0M575.1 367.8h0M575.4 382.0h0M575.7 363.5h0M576.0 370.1h0M576.3 380.3h0M576.6 371.2h0M576.9 373.8h0M577.2 370.0h0M577.5 382.3h0M577.8 363.3h0M578.1 367.8h0M578.4 371.8h0M578.7 388.9h0M579.0 369.9h0M579.3 366.6h0M579.6 377.2h0M579.9 373.9h0M580.2 371.1h0M580.5 372.7h0M580.8 367.4h0M581.1 371.8h0M581.4 366.0h0M581.7 375.5h0M582.0 378.7h0M582.3 373.4h0M582.6 386.3h0M582.9 376.0h0M583.2 368.3h0M583.5 364.9h0M583.8 380.4h0M584.1 373.5h0M584.4 370.4h0M584.7 380.5h0M585.0 368.3h0M585.3 369.5h0M585.6 382.3h0M585.9 368.0h0M586.2 377.8h0M586.5 392.0h0M586.8 372.2h0M587.1 407.7h0M587.4 361.2h0M587.7 382.5h0M587.9 381.5h0M588.2 373.9h0M588.5 390.7h0M588.8 384.0h0M589.1 384.9h0M589.4 368.7h0M589.7 412.4h0M590.0 370.6h0M590.3 374.5h0M590.6 384.6h0M590.9 405.9h0M591.2 371.5h0M591.5 386.3h0M591.8 396.0h0M592.1 382.7h0M592.4 384.1h0M592.7 379.8h0M593.0 380.2h0M593.3 384.0h0M593.6 381.9h0M593.9 373.6h0M594.2 384.0h0M594.5 369.6h0M594.8 371.5h0M595.1 375.9h0M595.4 395.2h0M595.7 368.6h0M596.0 368.5h0M596.3 387.4h0M596.6 396.7h0M596.9 375.6h0M597.2 392.2h0M597.5 380.3h0M597.8 399.9h0M598.1 379.5h0M598.4 379.2h0M598.7 373.6h0M599.0 389.2h0M599.3 371.5h0M599.6 373.3h0M599.9 380.0h0M600.2 377.4h0M600.5 380.0h0M600.8 378.7h0M601.1 381.4h0M601.4 428.0h0M601.6 382.3h0M601.9 374.9h0M602.2 388.3h0M602.5 384.7h0M602.8 379.3h0M603.1 386.6h0M603.4 374.6h0M603.7 378.6h0M604.0 396.3h0M604.3 394.4h0M604.6 397.0h0M604.9 377.5h0M605.2 374.1h0M605.5 372.0h0M605.8 386.0h0M606.1 373.5h0M606.4 390.4h0M606.7 381.9h0M607.0 377.8h0M607.3 367.8h0M607.6 383.5h0M607.9 395.7h0M608.2 426.4h0M608.5 429.4h0M608.8 373.6h0M609.1 369.4h0M609.4 376.3h0M609.7 385.5h0M610.0 388.2h0M610.3 374.5h0M610.6 387.2h0M610.9 367.7h0M611.2 372.4h0M611.5 375.9h0M611.8 380.5h0M612.1 397.5h0M612.4 372.7h0M612.7 396.6h0M613.0 386.0h0M613.3 368.8h0M613.6 379.1h0M613.9 381.9h0M614.2 377.8h0M614.5 378.8h0M614.8 403.3h0M615.1 377.2h0M615.3 380.9h0M615.6 400.4h0M615.9 395.0h0M616.2 399.2h0M616.5 390.3h0M616.8 382.8h0M617.1 378.3h0M617.4 390.7h0M617.7 389.9h0M618.0 382.1h0M618.3 388.4h0M618.6 375.6h0M618.9 396.4h0M619.2 373.8h0M619.5 390.9h0M619.8 381.2h0M620.1 379.9h0M620.4 410.2h0M620.7 373.2h0M621.0 387.5h0M621.3 400.2h0M621.6 399.7h0M621.9 399.4h0M622.2 371.7h0M622.5 380.2h0M622.8 386.1h0M623.1 379.4h0M623.4 389.0h0M623.7 397.5h0M624.0 384.5h0M624.3 381.1h0M624.6 380.1h0M624.9 379.0h0M625.2 373.6h0M625.5 371.2h0M625.8 380.4h0M626.1 386.9h0M626.4 403.1h0M626.7 390.8h0M627.0 369.7h0M627.3 375.8h0M627.6 374.0h0M627.9 398.1h0M628.2 405.2h0M628.5 374.1h0M628.7 388.6h0M629.0 413.5h0M629.3 370.8h0M629.6 374.1h0M629.9 385.9h0M630.2 372.6h0M630.5 373.5h0M630.8 373.5h0M631.1 375.9h0M631.4 376.1h0M631.7 395.5h0M632.0 382.6h0M632.3 397.8h0M632.6 390.8h0M632.9 375.7h0M633.2 378.2h0M633.5 374.7h0M633.8 373.8h0M634.1 383.5h0M634.4 384.9h0M634.7 403.5h0M635.0 367.5h0M635.3 379.3h0M635.6 375.5h0M635.9 381.3h0M636.2 386.7h0M636.5 368.5h0M636.8 394.1h0M637.1 370.2h0M637.4 381.6h0M637.7 379.7h0M638.0 404.6h0M638.3 375.3h0M638.6 371.8h0M638.9 369.8h0M639.2 369.2h0M639.5 387.5h0M639.8 375.8h0M640.1 373.6h0M640.4 373.1h0M640.7 409.5h0M641.0 366.4h0M641.3 383.5h0M641.6 376.0h0M641.9 360.8h0M642.2 383.2h0M642.4 377.3h0M642.7 376.6h0M643.0 371.4h0M643.3 389.0h0M643.6 379.7h0M643.9 367.7h0M644.2 376.3h0M644.5 368.7h0M644.8 365.9h0M645.1 376.4h0M645.4 407.7h0M645.7 377.7h0M646.0 391.8h0M646.3 367.0h0M646.6 372.0h0M646.9 409.1h0M647.2 372.1h0M647.5 362.9h0M647.8 403.8h0M648.1 378.4h0M648.4 371.7h0M648.7 370.8h0M649.0 405.4h0M649.3 426.0h0M649.6 385.9h0M649.9 384.9h0M650.2 382.0h0M650.5 384.0h0M650.8 406.1h0M651.1 370.5h0M651.4 389.6h0M651.7 375.0h0M652.0 386.1h0M652.3 422.2h0M652.6 359.2h0M652.9 363.5h0M653.2 385.1h0M653.5 414.4h0M653.8 399.5h0M654.1 387.4h0M654.4 403.2h0M654.7 423.4h0M655.0 379.3h0M655.3 360.6h0M655.6 360.6h0M655.9 371.5h0M656.1 365.7h0M656.4 373.2h0M656.7 369.0h0M657.0 380.2h0M657.3 380.3h0M657.6 385.0h0M657.9 416.5h0M658.2 358.3h0M658.5 374.7h0M658.8 378.2h0M659.1 364.8h0M659.4 377.8h0M659.7 358.1h0M660.0 363.9h0M660.3 358.1h0M660.6 363.0h0M660.9 361.5h0M661.2 388.8h0M661.5 362.7h0M661.8 372.8h0M662.1 400.5h0M662.4 359.6h0M662.7 361.9h0M663.0 360.3h0M663.3 351.6h0M663.6 368.2h0M663.9 366.5h0M664.2 371.1h0M664.5 342.8h0" stroke="#2e2e2e" stroke-width="3.0" stroke-linecap="round" fill="none"/>
<path d="M397.0,295.7 397.9,295.7 398.8,295.7 399.7,295.7 400.6,295.8 401.5,295.8 402.4,295.9 403.3,296.0 404.2,296.0 405.1,296.1 405.9,296.2 406.8,296.3 407.7,296.5 408.6,296.6 409.5,296.7 410.4,296.9 411.3,297.1 412.2,297.2 413.1,297.4 414.0,297.6 414.9,297.8 415.8,298.0 416.7,298.3 417.6,298.5 418.5,298.8 419.4,299.0 420.3,299.3 421.2,299.6 422.0,299.9 422.9,300.2 423.8,300.5 424.7,300.8 425.6,301.2 426.5,301.5 427.4,301.9 428.3,302.3 429.2,302.7 430.1,303.1 431.0,303.5 431.9,303.9 432.8,304.3 433.7,304.8 434.6,305.2 435.5,305.7 436.4,306.2 437.3,306.7 438.2,307.2 439.0,307.7 439.9,308.2 440.8,308.8 441.7,309.3 442.6,309.9 443.5,310.5 444.4,311.0 445.3,311.6 446.2,312.3 447.1,312.9 448.0,313.5 448.9,314.2 449.8,314.8 450.7,315.5 451.6,316.2 452.5,316.9 453.4,317.6 454.3,318.3 455.1,319.1 456.0,319.8 456.9,320.6 457.8,321.4 458.7,322.2 459.6,323.0 460.5,323.8 461.4,324.6 462.3,325.5 463.2,326.3 464.1,327.2 465.0,328.1 465.9,329.0 466.8,329.9 467.7,330.8 468.6,331.7 469.5,332.7 470.4,333.6 471.3,334.6 472.1,335.6 473.0,336.6 473.9,337.6 474.8,338.7 475.7,339.7 476.6,340.7 477.5,341.8 478.4,342.8 479.3,343.9 480.2,344.9 481.1,346.0 482.0,347.0 482.9,348.0 483.8,349.1 484.7,350.1 485.6,351.1 486.5,352.1 487.4,353.1 488.2,354.0 489.1,355.0 490.0,355.9 490.9,356.8 491.8,357.7 492.7,358.6 493.6,359.4 494.5,360.3 495.4,361.1 496.3,361.8 497.2,362.5 498.1,363.2 499.0,363.9 499.9,364.5 500.8,365.1 501.7,365.6 502.6,366.1 503.5,366.6 504.4,367.0 505.2,367.4 506.1,367.8 507.0,368.1 507.9,368.4 508.8,368.6 509.7,368.9 510.6,369.1 511.5,369.3 512.4,369.5 513.3,369.7 514.2,369.8 515.1,370.0 516.0,370.1 516.9,370.3 517.8,370.4 518.7,370.6 519.6,370.7 520.5,370.9 521.4,371.1 522.2,371.3 523.1,371.5 524.0,371.7 524.9,371.9 525.8,372.2 526.7,372.5 527.6,372.8 528.5,373.1 529.4,373.5 530.3,373.8 531.2,374.2 532.1,374.7 533.0,375.1 533.9,375.5 534.8,376.0 535.7,376.5 536.6,377.0 537.5,377.5 538.3,378.0 539.2,378.5 540.1,379.0 541.0,379.6 541.9,380.1 542.8,380.6 543.7,381.2 544.6,381.7 545.5,382.3 546.4,382.8 547.3,383.3 548.2,383.8 549.1,384.4 550.0,384.9 550.9,385.4 551.8,385.8 552.7,386.3 553.6,386.8 554.5,387.2 555.3,387.6 556.2,388.0 557.1,388.4 558.0,388.8 558.9,389.1 559.8,389.5 560.7,389.8 561.6,390.0 562.5,390.3 563.4,390.5 564.3,390.8 565.2,391.0 566.1,391.2 567.0,391.3 567.9,391.5 568.8,391.6 569.7,391.7 570.6,391.8 571.4,391.9 572.3,392.0 573.2,392.1 574.1,392.2 575.0,392.2 575.9,392.2 576.8,392.3 577.7,392.3 578.6,392.3 579.5,392.3 580.4,392.3 581.3,392.3 582.2,392.3 583.1,392.3 584.0,392.3 584.9,392.3 585.8,392.2 586.7,392.2 587.6,392.2 588.4,392.2 589.3,392.1 590.2,392.1 591.1,392.1 592.0,392.0 592.9,392.0 593.8,392.0 594.7,392.0 595.6,391.9 596.5,391.9 597.4,391.9 598.3,391.8 599.2,391.8 600.1,391.8 601.0,391.8 601.9,391.7 602.8,391.7 603.7,391.7 604.5,391.6 605.4,391.6 606.3,391.6 607.2,391.6 608.1,391.5 609.0,391.5 609.9,391.5 610.8,391.5 611.7,391.4 612.6,391.4 613.5,391.4 614.4,391.4 615.3,391.4 616.2,391.4 617.1,391.3 618.0,391.3 618.9,391.3 619.8,391.3 620.7,391.3 621.5,391.3 622.4,391.3 623.3,391.3 624.2,391.3 625.1,391.3 626.0,391.3 626.9,391.3 627.8,391.3 628.7,391.3 629.6,391.3 630.5,391.3 631.4,391.4 632.3,391.4 633.2,391.4 634.1,391.4 635.0,391.4 635.9,391.5 636.8,391.5 637.6,391.5 638.5,391.6 639.4,391.6 640.3,391.7 641.2,391.7 642.1,391.8 643.0,391.8 643.9,391.9 644.8,391.9 645.7,392.0 646.6,392.1 647.5,392.1 648.4,392.2 649.3,392.3 650.2,392.4 651.1,392.5 652.0,392.6 652.9,392.7 653.8,392.8 654.6,392.9 655.5,393.0 656.4,393.1 657.3,393.2 658.2,393.3 659.1,393.4 660.0,393.6 660.9,393.7 661.8,393.8 662.7,394.0 663.6,394.1 664.5,394.3" stroke="#E69F00" stroke-width="1.9" fill="none" stroke-linejoin="round"/>
<path d="M397.0,291.3 397.9,291.2 398.8,291.2 399.7,291.1 400.6,291.2 401.5,291.2 402.4,291.4 403.3,291.5 404.2,291.7 405.1,291.9 405.9,292.1 406.8,292.4 407.7,292.7 408.6,293.0 409.5,293.4 410.4,293.8 411.3,294.2 412.2,294.6 413.1,295.1 414.0,295.6 414.9,296.1 415.8,296.6 416.7,297.1 417.6,297.7 418.5,298.3 419.4,298.9 420.3,299.5 421.2,300.1 422.0,300.7 422.9,301.3 423.8,302.0 424.7,302.6 425.6,303.3 426.5,303.9 427.4,304.6 428.3,305.2 429.2,305.9 430.1,306.6 431.0,307.2 431.9,307.9 432.8,308.6 433.7,309.2 434.6,309.9 435.5,310.5 436.4,311.1 437.3,311.8 438.2,312.4 439.0,313.0 439.9,313.6 440.8,314.2 441.7,314.8 442.6,315.4 443.5,316.0 444.4,316.5 445.3,317.1 446.2,317.6 447.1,318.2 448.0,318.7 448.9,319.2 449.8,319.7 450.7,320.2 451.6,320.7 452.5,321.2 453.4,321.7 454.3,322.2 455.1,322.7 456.0,323.1 456.9,323.6 457.8,324.1 458.7,324.6 459.6,325.1 460.5,325.6 461.4,326.0 462.3,326.5 463.2,327.0 464.1,327.5 465.0,328.0 465.9,328.5 466.8,329.0 467.7,329.5 468.6,330.0 469.5,330.5 470.4,330.9 471.3,331.4 472.1,331.9 473.0,332.4 473.9,332.9 474.8,333.4 475.7,333.9 476.6,334.4 477.5,334.9 478.4,335.4 479.3,335.9 480.2,336.4 481.1,336.8 482.0,337.3 482.9,337.8 483.8,338.3 484.7,338.8 485.6,339.3 486.5,339.7 487.4,340.2 488.2,340.7 489.1,341.2 490.0,341.6 490.9,342.1 491.8,342.6 492.7,343.0 493.6,343.5 494.5,344.0 495.4,344.4 496.3,344.9 497.2,345.3 498.1,345.8 499.0,346.2 499.9,346.7 500.8,347.1 501.7,347.6 502.6,348.0 503.5,348.4 504.4,348.9 505.2,349.3 506.1,349.7 507.0,350.1 507.9,350.5 508.8,350.9 509.7,351.3 510.6,351.7 511.5,352.1 512.4,352.5 513.3,352.9 514.2,353.3 515.1,353.7 516.0,354.0 516.9,354.4 517.8,354.8 518.7,355.1 519.6,355.5 520.5,355.8 521.4,356.2 522.2,356.5 523.1,356.9 524.0,357.2 524.9,357.5 525.8,357.8 526.7,358.2 527.6,358.5 528.5,358.8 529.4,359.1 530.3,359.4 531.2,359.8 532.1,360.1 533.0,360.4 533.9,360.7 534.8,361.0 535.7,361.3 536.6,361.7 537.5,362.0 538.3,362.3 539.2,362.6 540.1,362.9 541.0,363.3 541.9,363.6 542.8,363.9 543.7,364.3 544.6,364.6 545.5,364.9 546.4,365.3 547.3,365.6 548.2,366.0 549.1,366.4 550.0,366.7 550.9,367.1 551.8,367.5 552.7,367.9 553.6,368.3 554.5,368.7 555.3,369.1 556.2,369.5 557.1,369.9 558.0,370.4 558.9,370.8 559.8,371.3 560.7,371.7 561.6,372.2 562.5,372.7 563.4,373.2 564.3,373.7 565.2,374.1 566.1,374.6 567.0,375.1 567.9,375.6 568.8,376.1 569.7,376.7 570.6,377.2 571.4,377.6 572.3,378.1 573.2,378.6 574.1,379.1 575.0,379.6 575.9,380.1 576.8,380.5 577.7,381.0 578.6,381.4 579.5,381.8 580.4,382.3 581.3,382.7 582.2,383.0 583.1,383.4 584.0,383.8 584.9,384.1 585.8,384.4 586.7,384.7 587.6,385.0 588.4,385.2 589.3,385.5 590.2,385.7 591.1,385.9 592.0,386.1 592.9,386.2 593.8,386.4 594.7,386.5 595.6,386.6 596.5,386.8 597.4,386.8 598.3,386.9 599.2,387.0 600.1,387.1 601.0,387.1 601.9,387.2 602.8,387.2 603.7,387.2 604.5,387.3 605.4,387.3 606.3,387.3 607.2,387.3 608.1,387.3 609.0,387.3 609.9,387.3 610.8,387.3 611.7,387.3 612.6,387.3 613.5,387.4 614.4,387.4 615.3,387.4 616.2,387.4 617.1,387.4 618.0,387.5 618.9,387.5 619.8,387.6 620.7,387.6 621.5,387.7 622.4,387.7 623.3,387.8 624.2,387.9 625.1,388.0 626.0,388.1 626.9,388.3 627.8,388.4 628.7,388.5 629.6,388.7 630.5,388.8 631.4,389.0 632.3,389.1 633.2,389.3 634.1,389.4 635.0,389.6 635.9,389.8 636.8,389.9 637.6,390.1 638.5,390.3 639.4,390.4 640.3,390.6 641.2,390.7 642.1,390.9 643.0,391.0 643.9,391.2 644.8,391.3 645.7,391.5 646.6,391.6 647.5,391.7 648.4,391.8 649.3,391.9 650.2,392.0 651.1,392.1 652.0,392.2 652.9,392.2 653.8,392.3 654.6,392.3 655.5,392.4 656.4,392.4 657.3,392.4 658.2,392.4 659.1,392.3 660.0,392.3 660.9,392.2 661.8,392.1 662.7,392.0 663.6,391.9 664.5,391.8" stroke="#0072B2" stroke-width="1.9" fill="none" stroke-linejoin="round"/>
</g>
<path d="M394.80,268.40H668.00V451.10H394.80Z" fill="none" stroke="#000" stroke-width="1.5"/>
<path d="M389.80,451.10H394.80M391.80,440.10H394.80M391.80,433.67H394.80M391.80,429.10H394.80M391.80,425.56H394.80M391.80,422.67H394.80M391.80,420.22H394.80M391.80,418.10H394.80M391.80,416.23H394.80M389.80,414.56H394.80M391.80,403.56H394.80M391.80,397.13H394.80M391.80,392.56H394.80M391.80,389.02H394.80M391.80,386.13H394.80M391.80,383.68H394.80M391.80,381.56H394.80M391.80,379.69H394.80M389.80,378.02H394.80M391.80,367.02H394.80M391.80,360.59H394.80M391.80,356.02H394.80M391.80,352.48H394.80M391.80,349.59H394.80M391.80,347.14H394.80M391.80,345.02H394.80M391.80,343.15H394.80M389.80,341.48H394.80M391.80,330.48H394.80M391.80,324.05H394.80M391.80,319.48H394.80M391.80,315.94H394.80M391.80,313.05H394.80M391.80,310.60H394.80M391.80,308.48H394.80M391.80,306.61H394.80M389.80,304.94H394.80M391.80,293.94H394.80M391.80,287.51H394.80M391.80,282.94H394.80M391.80,279.40H394.80M391.80,276.51H394.80M391.80,274.06H394.80M391.80,271.94H394.80M391.80,270.07H394.80M389.80,268.40H394.80" stroke="#000" stroke-width="1.3" fill="none"/>
<path d="M394.80,451.10V456.10M433.83,451.10V456.10M472.86,451.10V456.10M511.89,451.10V456.10M550.91,451.10V456.10M589.94,451.10V456.10M628.97,451.10V456.10M668.00,451.10V456.10" stroke="#000" stroke-width="1.3" fill="none"/>
<text x="388.00" y="271.20" font-size="7.0" text-anchor="end" fill="#111">10</text>
<text x="388.00" y="307.74" font-size="7.9" text-anchor="end" fill="#111">1</text>
<text x="388.00" y="344.28" font-size="7.9" text-anchor="end" fill="#111">0.1</text>
<text x="388.00" y="380.82" font-size="7.9" text-anchor="end" fill="#111">0.01</text>
<text x="388.00" y="417.36" font-size="7.9" text-anchor="end" fill="#111">0.001</text>
<text x="388.00" y="453.90" font-size="7.9" text-anchor="end" fill="#111">0.0001</text>
<text x="394.80" y="464.90" font-size="7.9" text-anchor="middle" fill="#111">0.00</text>
<text x="433.83" y="464.90" font-size="7.9" text-anchor="middle" fill="#111">0.05</text>
<text x="472.86" y="464.90" font-size="7.9" text-anchor="middle" fill="#111">0.10</text>
<text x="511.89" y="464.90" font-size="7.9" text-anchor="middle" fill="#111">0.15</text>
<text x="550.91" y="464.90" font-size="7.9" text-anchor="middle" fill="#111">0.20</text>
<text x="589.94" y="464.90" font-size="7.9" text-anchor="middle" fill="#111">0.25</text>
<text x="628.97" y="464.90" font-size="7.9" text-anchor="middle" fill="#111">0.30</text>
<text x="668.00" y="464.90" font-size="7.9" text-anchor="middle" fill="#111">0.35</text>
<text x="531.40" y="483.50" font-size="10" font-weight="bold" text-anchor="middle">q (Å<tspan font-size="6.5" dy="-4">-1</tspan><tspan dy="4">)</tspan></text>
<g clip-path="url(#clipE)"><text transform="translate(357.90,359.75) rotate(-90)" font-size="10.3" font-weight="bold" text-anchor="middle">I(q) (cm<tspan font-size="6.5" dy="-4.6">-1</tspan><tspan dy="4.6">)</tspan></text></g>
<text x="351.5" y="263.6" font-size="16" font-weight="bold">E)</text>
<circle cx="543.6" cy="286.2" r="1.5" fill="#000"/>
<path d="M538.00,301.00H549.20" stroke="#E69F00" stroke-width="1.6"/>
<path d="M538.00,315.50H549.20" stroke="#0072B2" stroke-width="1.6"/>
<text x="552.7" y="288.1" font-size="10.4" fill="#111">N188D/N214D dimer</text>
<text x="552.7" y="303.7" font-size="10.4" fill="#111">1GRI dimer (χ<tspan font-size="7" dy="-3.5">2</tspan><tspan dy="3.5">=210.9)</tspan></text>
<text x="552.7" y="318.4" font-size="10.4" fill="#111">Model dimer (χ<tspan font-size="7" dy="-3.5">2</tspan><tspan dy="3.5">=16.8)</tspan></text>
<g clip-path="url(#plotF)">
<path d="M467.9 574.7V578.1M473.9 578.9V582.5M476.8 581.3V584.4M478.4 580.9V585.0M478.7 582.5V586.3M479.3 581.6V585.0M479.9 582.6V585.6M481.5 583.0V587.6M482.5 585.5V589.3M483.4 583.8V586.9M483.7 584.5V588.2M484.4 583.2V587.1M485.0 584.2V588.5M485.3 585.7V590.0M486.2 585.5V589.5M487.8 587.0V590.0M488.8 587.6V592.2M489.1 586.8V590.7M490.0 587.1V591.1M490.7 587.4V590.7M491.0 588.9V592.4M491.3 587.6V591.8M491.6 589.8V595.9M492.6 588.5V593.6M492.9 588.3V592.2M493.5 589.7V593.2M493.8 590.5V595.0M494.1 589.4V596.2M494.4 589.7V593.8M494.8 589.9V596.7M495.1 589.6V592.9M495.4 588.4V592.5M495.7 588.6V593.6M496.7 592.3V600.5M497.0 589.6V596.9M497.3 589.0V595.1M497.6 592.6V596.5M497.9 589.1V593.8M498.2 590.7V594.4M498.5 592.4V596.8M498.9 591.4V598.0M499.2 592.0V596.3M499.5 591.6V595.8M499.8 591.9V597.5M500.1 592.1V596.3M500.4 591.1V596.2M500.8 592.5V597.1M501.1 594.4V599.1M501.4 592.7V598.5M501.7 592.8V601.3M502.0 591.0V594.6M502.3 592.3V601.8M502.7 592.2V597.1M503.0 592.9V600.5M503.3 590.8V597.4M503.6 591.4V599.7M503.9 594.0V599.6M504.2 592.3V596.7M504.5 592.1V596.3M504.9 592.2V602.8M505.2 591.5V596.9M505.5 592.0V599.9M505.8 594.0V603.3M506.1 592.7V600.4M506.4 594.3V601.4M506.8 594.9V598.8M507.1 594.9V598.3M507.4 592.7V600.5M507.7 596.4V601.6M508.0 595.4V600.5M508.3 592.1V597.3M508.6 592.3V599.7M509.0 596.8V601.9M509.3 597.7V603.3M509.6 609.9V618.6M509.9 594.1V602.0M510.2 594.5V599.4M510.5 593.0V603.1M510.9 596.0V601.5M511.2 597.6V601.3M511.5 594.7V603.7M511.8 596.0V606.0M512.1 593.9V603.0M512.4 596.9V604.6M512.7 598.6V606.2M513.1 597.5V605.5M513.4 598.3V603.2M513.7 599.0V606.1M514.0 593.1V601.4M514.3 595.8V603.4M514.6 598.0V605.4M515.0 598.6V605.4M515.3 597.1V603.4M515.6 592.7V604.1M515.9 598.8V605.1M516.2 593.9V600.8M516.5 600.2V604.7M516.8 599.2V606.0M517.2 593.6V604.8M517.5 598.8V604.9M517.8 593.3V603.4M518.1 598.7V610.2M518.4 597.4V606.3M518.7 598.7V606.7M519.1 595.6V602.0M519.4 595.0V599.4M519.7 595.7V602.7M520.0 596.2V603.0M520.3 597.7V607.0M520.6 593.2V599.7M520.9 596.2V603.9M521.3 598.4V603.4M521.6 596.4V604.6M521.9 602.3V608.4M522.2 595.4V600.6M522.5 601.3V610.8M522.8 599.0V609.2M523.2 598.8V609.8M523.5 597.9V610.0M523.8 597.8V602.8M524.1 595.7V608.3M524.4 596.4V603.3M524.7 600.5V608.5M525.0 600.8V611.1M525.4 599.6V608.0M525.7 597.8V605.5M526.0 598.8V608.9M526.3 598.2V609.5M526.6 598.7V604.3M526.9 600.2V610.1M527.3 597.2V603.2M527.6 600.1V606.2M527.9 599.0V607.7M528.2 599.4V613.9M528.5 595.1V605.5M528.8 602.6V613.8M529.1 599.2V608.4M529.5 600.5V608.0M529.8 603.3V616.2M530.1 597.0V606.1M530.4 594.7V600.4M530.7 600.2V611.4M531.0 598.2V604.4M531.4 602.0V608.0M531.7 601.7V614.1M532.0 600.7V614.9M532.3 594.8V600.6M532.6 601.5V607.2M532.9 598.5V613.4M533.3 599.2V607.5M533.6 598.6V606.8M533.9 602.0V609.5M534.2 601.9V613.9M534.5 599.6V614.3M534.8 596.3V611.6M535.1 605.7V613.6M535.5 595.7V608.1M535.8 602.2V611.1M536.1 599.2V607.9M536.4 600.6V608.6M536.7 594.2V604.1M537.0 605.7V613.1M537.4 608.0V621.4M537.7 603.4V614.8M538.0 606.3V615.5M538.3 604.1V612.3M538.6 596.2V605.5M538.9 600.9V617.0M539.2 602.6V617.8M539.6 603.3V612.6M539.9 605.4V617.0M540.2 602.1V612.7M540.5 601.5V609.6M540.8 605.5V615.9M541.1 601.9V612.7M541.5 600.8V616.0M541.8 600.5V606.5M542.1 601.8V609.5M542.4 606.3V620.1M542.7 604.4V610.0M543.0 603.4V621.1M543.3 599.0V606.3M543.7 601.0V610.3M544.0 606.5V618.3M544.3 600.5V620.3M544.6 598.1V612.5M544.9 600.2V611.7M545.2 600.5V607.9M545.6 595.5V611.0M545.9 598.0V617.1M546.2 599.8V620.4M546.5 602.8V614.7M546.8 601.0V619.3M547.1 618.0V630.0M547.4 597.5V606.6M547.8 599.6V612.8M548.1 601.8V616.8M548.4 603.8V610.6M548.7 600.6V614.2M549.0 606.1V613.7M549.3 606.8V623.7M549.7 607.3V624.8M550.0 601.0V614.2M550.3 602.7V611.5M550.6 600.6V618.0M550.9 605.7V611.8M551.2 607.7V620.3M551.5 602.5V609.5M551.9 612.7V632.8M552.2 601.4V611.9M552.5 604.5V613.1M552.8 600.3V608.6M553.1 612.0V627.1M553.4 621.0V640.7M553.8 601.4V617.7M554.1 604.4V622.1M554.4 602.7V615.1M554.7 608.0V622.6M555.0 605.1V624.6M555.3 603.7V612.5M555.6 607.8V623.0M556.0 599.2V608.3M556.3 604.4V612.4M556.6 596.0V607.1M556.9 604.5V622.7M557.2 602.3V610.2M557.5 601.7V620.1M557.9 605.0V621.7M558.2 601.3V616.6M558.5 597.4V617.7M558.8 602.1V621.4M559.1 601.8V615.2M559.4 602.1V616.3M559.8 599.9V622.2M560.1 605.6V620.7M560.4 603.1V628.2M560.7 608.5V627.7M561.0 602.1V623.4M561.3 605.0V615.8M561.6 610.4V628.7M562.0 604.5V612.8M562.3 597.9V619.6M562.6 606.6V623.1M562.9 599.4V608.1M563.2 612.6V629.5M563.5 600.0V615.3M563.9 617.7V642.0M564.2 604.5V615.8M564.5 603.4V616.8M564.8 600.5V614.6M565.1 599.2V614.5M565.4 608.6V616.8M565.7 601.4V623.8M566.1 624.9V645.4M566.4 609.0V634.9M566.7 613.2V624.6M567.0 600.9V617.3M567.3 607.5V619.0M567.6 605.2V623.1M568.0 609.1V638.2M568.3 601.7V629.1M568.6 603.0V631.0M568.9 597.7V618.8M569.2 654.8V667.9M569.5 620.1V639.6M569.8 613.4V636.1M570.2 598.9V620.9M570.5 602.7V627.7M570.8 606.8V623.4M571.1 603.2V629.2M571.4 609.8V632.6M571.7 603.6V622.7M572.1 609.1V624.3M572.4 604.5V700.4M572.7 608.6V629.0M573.0 607.8V631.7M573.3 605.8V618.4M573.6 613.6V632.0M573.9 637.4V667.7M574.3 613.7V635.0M574.6 608.3V624.7M574.9 604.3V635.0M575.2 605.8V630.5M575.5 624.8V641.7M575.8 596.8V617.0M576.2 662.8V692.2M576.5 598.3V620.3M576.8 606.9V621.1M577.1 617.4V638.7M577.4 615.6V629.6M577.7 606.6V630.0M578.0 609.0V624.6M578.4 633.0V651.1M578.7 623.5V640.5M579.0 623.6V647.7M579.3 607.0V622.0M579.6 607.8V626.2M579.9 609.4V638.5M580.3 614.0V634.2M580.6 605.5V635.4M580.9 644.9V671.9M581.2 637.6V669.7M581.5 615.9V631.4M581.8 610.3V626.4M582.1 612.9V628.1M582.5 603.6V631.3M582.8 604.3V618.9M583.1 609.3V631.9M583.4 608.5V636.8M583.7 594.2V610.3M584.0 628.0V660.3M584.4 598.2V632.4M584.7 609.8V631.1M585.0 607.5V622.7M585.3 612.3V636.0M585.6 605.1V640.4M585.9 615.4V638.8M586.2 649.9V684.3M586.6 621.4V651.4M586.9 626.8V647.9M587.2 605.5V644.0M587.5 620.6V654.9M587.8 610.1V629.8M588.1 607.7V628.1M588.5 608.8V623.3M588.8 610.2V633.4M589.1 599.1V626.2M589.4 613.0V700.4M589.7 601.6V618.8M590.0 608.6V645.0M590.4 616.2V648.0M590.7 605.5V630.5M591.0 609.9V632.0M591.3 606.4V624.2M591.6 604.7V619.1M591.9 609.2V621.8M592.2 629.0V655.8M592.6 618.1V650.1M592.9 621.4V700.4M593.2 655.1V685.0M593.5 611.7V630.9M593.8 619.9V643.6M594.1 608.2V638.3M594.5 620.7V662.4M594.8 601.8V623.8M595.1 601.8V623.9M595.4 605.3V635.0M595.7 609.4V635.5M596.0 611.9V630.5M596.3 611.8V626.1M596.7 618.3V637.6M597.0 614.7V652.8M597.3 610.1V635.9M597.6 611.6V625.9M597.9 634.8V649.0M598.2 610.5V646.5M598.6 596.2V617.9M598.9 606.6V634.3M599.2 618.8V634.6M599.5 610.0V625.1M599.8 626.0V648.1M600.1 620.3V636.7M600.4 603.2V626.1M600.8 616.9V637.3M601.1 636.0V656.7M601.4 627.5V639.8M601.7 611.8V638.8M602.0 600.1V618.4M602.3 603.5V633.5M602.7 613.4V650.9M603.0 614.4V649.4M603.3 598.6V700.4M603.6 610.6V624.6M603.9 637.6V672.2M604.2 604.1V622.1M604.5 605.2V630.2M604.9 610.1V640.9M605.2 609.0V641.1M605.5 604.0V628.9M605.8 596.0V632.0M606.1 613.3V645.8M606.4 613.7V652.2M606.8 630.2V663.7M607.1 647.3V680.2M607.4 624.5V643.1M607.7 615.9V630.8M608.0 603.5V617.3M608.3 613.3V640.1M608.6 596.1V617.8M609.0 620.6V634.1M609.3 610.7V627.4M609.6 616.7V632.5M609.9 633.4V665.4M610.2 609.8V627.1M610.5 627.5V639.4M610.9 601.4V638.6M611.2 618.6V655.1M611.5 622.5V661.3M611.8 605.8V619.2M612.1 605.5V620.7M612.4 612.0V628.6M612.7 619.3V639.7M613.1 613.7V646.6M613.4 640.6V664.8M613.7 599.5V615.2M614.0 643.3V669.2M614.3 619.4V636.9M614.6 610.8V639.2M615.0 603.2V617.3M615.3 600.7V624.6M615.6 622.5V639.9M615.9 606.7V635.9M616.2 640.9V679.8M616.5 617.8V632.1M616.9 633.6V670.1M617.2 629.0V644.0M617.5 640.2V681.0M617.8 608.0V629.2M618.1 610.2V644.7M618.4 619.2V638.2M618.7 614.5V636.0M619.1 620.2V640.5M619.4 603.0V629.1M619.7 606.3V623.1M620.0 605.4V628.5M620.3 619.8V635.2M620.6 615.4V632.4M621.0 611.9V630.2M621.3 614.4V650.4M621.6 632.4V668.1M621.9 610.0V631.6M622.2 611.5V627.5M622.5 630.5V654.4M622.8 618.7V663.9M623.2 671.0V694.2M623.5 607.3V628.4M623.8 607.9V632.1M624.1 605.0V622.0M624.4 614.2V652.4M624.7 608.0V626.7M625.1 648.3V683.2M625.4 644.6V672.0M625.7 626.2V647.6M626.0 613.2V625.8M626.3 609.9V621.9M626.6 622.0V656.6M626.9 612.0V636.9M627.3 612.2V630.9M627.6 613.5V632.7M627.9 621.5V640.8M628.2 602.7V634.4M628.5 614.0V643.9M628.8 599.3V626.8M629.2 605.6V626.3M629.5 603.6V619.1M629.8 602.5V625.4M630.1 601.3V627.4M630.4 608.2V647.5M630.7 614.6V641.6M631.0 602.3V620.3M631.4 609.7V635.3M631.7 626.2V669.7M632.0 615.6V633.2M632.3 619.2V642.1M632.6 614.7V656.4M632.9 604.8V621.8M633.3 616.7V652.7M633.6 603.0V622.5M633.9 613.2V627.8M634.2 644.5V677.3M634.5 598.3V635.1M634.8 606.1V633.6M635.1 596.8V612.1M635.5 628.3V652.4M635.8 621.6V642.4M636.1 601.8V635.8M636.4 614.3V640.9M636.7 605.3V630.1M637.0 602.6V631.1M637.4 640.9V660.2M637.7 602.3V630.7M638.0 619.8V631.8M638.3 597.8V622.8M638.6 616.5V630.8M638.9 605.8V626.0M639.2 610.1V636.7M639.6 601.7V634.0M639.9 598.9V633.4M640.2 598.5V613.6M640.5 604.9V614.9M640.8 599.5V611.6M641.1 594.7V613.2M641.5 638.8V656.3M641.8 605.7V642.6M642.1 607.6V645.8M642.4 600.7V626.6M642.7 611.8V623.9M643.0 602.7V617.9M643.3 627.4V641.4M643.7 599.2V617.2M644.0 616.5V646.0M644.3 600.9V618.8M644.6 618.4V646.0M644.9 607.7V633.3M645.2 594.5V624.6M645.6 607.0V631.9M645.9 631.1V646.0M646.2 603.3V630.9M646.5 644.3V667.9M646.8 605.8V634.5M647.1 593.5V635.1M647.5 598.8V613.5M647.8 596.5V626.8M648.1 620.4V638.7M648.4 596.3V629.0M648.7 599.2V619.9M649.0 605.7V638.5M649.3 596.6V613.0M649.7 606.7V631.5M650.0 621.4V635.0M650.3 599.3V626.9M650.6 602.6V633.8M650.9 606.2V636.8M651.2 596.4V612.9M651.6 613.4V630.9M651.9 613.1V634.2M652.2 630.3V653.9M652.5 585.3V604.3M652.8 625.5V639.4M653.1 619.0V648.2M653.4 607.3V700.4M653.8 600.3V611.1M654.1 593.3V622.6M654.4 609.6V634.2M654.7 596.8V616.9M655.0 606.4V627.3M655.3 599.1V613.0M655.7 591.9V629.4M656.0 599.6V633.3M656.3 610.3V633.9M656.6 646.5V700.4M656.9 624.0V661.4M657.2 603.5V634.3M657.5 595.0V633.2M657.9 608.0V624.7M658.2 600.8V639.8M658.5 609.8V637.2M658.8 594.8V622.2M659.1 598.7V623.0M659.4 590.9V614.4M659.8 588.7V612.5M660.1 610.5V625.9M660.4 593.6V604.2M660.7 596.3V619.9M661.0 642.7V671.4M661.3 600.9V620.4M661.6 606.4V644.3M662.0 603.5V642.2M662.3 590.7V617.5M662.6 598.3V634.2M662.9 589.6V620.7M663.2 601.2V615.1M663.5 612.6V647.9M663.9 593.7V617.2M664.2 593.1V613.9M664.5 634.9V653.6" stroke="#b4b4b4" stroke-width="1.0" fill="none"/>
<path d="M466.8 574.7h2.2M466.8 578.1h2.2M472.8 578.9h2.2M472.8 582.5h2.2M475.7 581.3h2.2M475.7 584.4h2.2M477.3 580.9h2.2M477.3 585.0h2.2M477.6 582.5h2.2M477.6 586.3h2.2M478.2 581.6h2.2M478.2 585.0h2.2M478.8 582.6h2.2M478.8 585.6h2.2M480.4 583.0h2.2M480.4 587.6h2.2M481.4 585.5h2.2M481.4 589.3h2.2M482.3 583.8h2.2M482.3 586.9h2.2M482.6 584.5h2.2M482.6 588.2h2.2M483.3 583.2h2.2M483.3 587.1h2.2M483.9 584.2h2.2M483.9 588.5h2.2M484.2 585.7h2.2M484.2 590.0h2.2M485.1 585.5h2.2M485.1 589.5h2.2M486.7 587.0h2.2M486.7 590.0h2.2M487.7 587.6h2.2M487.7 592.2h2.2M488.0 586.8h2.2M488.0 590.7h2.2M488.9 587.1h2.2M488.9 591.1h2.2M489.6 587.4h2.2M489.6 590.7h2.2M489.9 588.9h2.2M489.9 592.4h2.2M490.2 587.6h2.2M490.2 591.8h2.2M490.5 589.8h2.2M490.5 595.9h2.2M491.5 588.5h2.2M491.5 593.6h2.2M491.8 588.3h2.2M491.8 592.2h2.2M492.4 589.7h2.2M492.4 593.2h2.2M492.7 590.5h2.2M492.7 595.0h2.2M493.0 589.4h2.2M493.0 596.2h2.2M493.3 589.7h2.2M493.3 593.8h2.2M493.7 589.9h2.2M493.7 596.7h2.2M494.0 589.6h2.2M494.0 592.9h2.2M494.3 588.4h2.2M494.3 592.5h2.2M494.6 588.6h2.2M494.6 593.6h2.2M495.6 592.3h2.2M495.6 600.5h2.2M495.9 589.6h2.2M495.9 596.9h2.2M496.2 589.0h2.2M496.2 595.1h2.2M496.5 592.6h2.2M496.5 596.5h2.2M496.8 589.1h2.2M496.8 593.8h2.2M497.1 590.7h2.2M497.1 594.4h2.2M497.4 592.4h2.2M497.4 596.8h2.2M497.8 591.4h2.2M497.8 598.0h2.2M498.1 592.0h2.2M498.1 596.3h2.2M498.4 591.6h2.2M498.4 595.8h2.2M498.7 591.9h2.2M498.7 597.5h2.2M499.0 592.1h2.2M499.0 596.3h2.2M499.3 591.1h2.2M499.3 596.2h2.2M499.7 592.5h2.2M499.7 597.1h2.2M500.0 594.4h2.2M500.0 599.1h2.2M500.3 592.7h2.2M500.3 598.5h2.2M500.6 592.8h2.2M500.6 601.3h2.2M500.9 591.0h2.2M500.9 594.6h2.2M501.2 592.3h2.2M501.2 601.8h2.2M501.6 592.2h2.2M501.6 597.1h2.2M501.9 592.9h2.2M501.9 600.5h2.2M502.2 590.8h2.2M502.2 597.4h2.2M502.5 591.4h2.2M502.5 599.7h2.2M502.8 594.0h2.2M502.8 599.6h2.2M503.1 592.3h2.2M503.1 596.7h2.2M503.4 592.1h2.2M503.4 596.3h2.2M503.8 592.2h2.2M503.8 602.8h2.2M504.1 591.5h2.2M504.1 596.9h2.2M504.4 592.0h2.2M504.4 599.9h2.2M504.7 594.0h2.2M504.7 603.3h2.2M505.0 592.7h2.2M505.0 600.4h2.2M505.3 594.3h2.2M505.3 601.4h2.2M505.7 594.9h2.2M505.7 598.8h2.2M506.0 594.9h2.2M506.0 598.3h2.2M506.3 592.7h2.2M506.3 600.5h2.2M506.6 596.4h2.2M506.6 601.6h2.2M506.9 595.4h2.2M506.9 600.5h2.2M507.2 592.1h2.2M507.2 597.3h2.2M507.5 592.3h2.2M507.5 599.7h2.2M507.9 596.8h2.2M507.9 601.9h2.2M508.2 597.7h2.2M508.2 603.3h2.2M508.5 609.9h2.2M508.5 618.6h2.2M508.8 594.1h2.2M508.8 602.0h2.2M509.1 594.5h2.2M509.1 599.4h2.2M509.4 593.0h2.2M509.4 603.1h2.2M509.8 596.0h2.2M509.8 601.5h2.2M510.1 597.6h2.2M510.1 601.3h2.2M510.4 594.7h2.2M510.4 603.7h2.2M510.7 596.0h2.2M510.7 606.0h2.2M511.0 593.9h2.2M511.0 603.0h2.2M511.3 596.9h2.2M511.3 604.6h2.2M511.6 598.6h2.2M511.6 606.2h2.2M512.0 597.5h2.2M512.0 605.5h2.2M512.3 598.3h2.2M512.3 603.2h2.2M512.6 599.0h2.2M512.6 606.1h2.2M512.9 593.1h2.2M512.9 601.4h2.2M513.2 595.8h2.2M513.2 603.4h2.2M513.5 598.0h2.2M513.5 605.4h2.2M513.9 598.6h2.2M513.9 605.4h2.2M514.2 597.1h2.2M514.2 603.4h2.2M514.5 592.7h2.2M514.5 604.1h2.2M514.8 598.8h2.2M514.8 605.1h2.2M515.1 593.9h2.2M515.1 600.8h2.2M515.4 600.2h2.2M515.4 604.7h2.2M515.7 599.2h2.2M515.7 606.0h2.2M516.1 593.6h2.2M516.1 604.8h2.2M516.4 598.8h2.2M516.4 604.9h2.2M516.7 593.3h2.2M516.7 603.4h2.2M517.0 598.7h2.2M517.0 610.2h2.2M517.3 597.4h2.2M517.3 606.3h2.2M517.6 598.7h2.2M517.6 606.7h2.2M518.0 595.6h2.2M518.0 602.0h2.2M518.3 595.0h2.2M518.3 599.4h2.2M518.6 595.7h2.2M518.6 602.7h2.2M518.9 596.2h2.2M518.9 603.0h2.2M519.2 597.7h2.2M519.2 607.0h2.2M519.5 593.2h2.2M519.5 599.7h2.2M519.8 596.2h2.2M519.8 603.9h2.2M520.2 598.4h2.2M520.2 603.4h2.2M520.5 596.4h2.2M520.5 604.6h2.2M520.8 602.3h2.2M520.8 608.4h2.2M521.1 595.4h2.2M521.1 600.6h2.2M521.4 601.3h2.2M521.4 610.8h2.2M521.7 599.0h2.2M521.7 609.2h2.2M522.1 598.8h2.2M522.1 609.8h2.2M522.4 597.9h2.2M522.4 610.0h2.2M522.7 597.8h2.2M522.7 602.8h2.2M523.0 595.7h2.2M523.0 608.3h2.2M523.3 596.4h2.2M523.3 603.3h2.2M523.6 600.5h2.2M523.6 608.5h2.2M523.9 600.8h2.2M523.9 611.1h2.2M524.3 599.6h2.2M524.3 608.0h2.2M524.6 597.8h2.2M524.6 605.5h2.2M524.9 598.8h2.2M524.9 608.9h2.2M525.2 598.2h2.2M525.2 609.5h2.2M525.5 598.7h2.2M525.5 604.3h2.2M525.8 600.2h2.2M525.8 610.1h2.2M526.2 597.2h2.2M526.2 603.2h2.2M526.5 600.1h2.2M526.5 606.2h2.2M526.8 599.0h2.2M526.8 607.7h2.2M527.1 599.4h2.2M527.1 613.9h2.2M527.4 595.1h2.2M527.4 605.5h2.2M527.7 602.6h2.2M527.7 613.8h2.2M528.0 599.2h2.2M528.0 608.4h2.2M528.4 600.5h2.2M528.4 608.0h2.2M528.7 603.3h2.2M528.7 616.2h2.2M529.0 597.0h2.2M529.0 606.1h2.2M529.3 594.7h2.2M529.3 600.4h2.2M529.6 600.2h2.2M529.6 611.4h2.2M529.9 598.2h2.2M529.9 604.4h2.2M530.3 602.0h2.2M530.3 608.0h2.2M530.6 601.7h2.2M530.6 614.1h2.2M530.9 600.7h2.2M530.9 614.9h2.2M531.2 594.8h2.2M531.2 600.6h2.2M531.5 601.5h2.2M531.5 607.2h2.2M531.8 598.5h2.2M531.8 613.4h2.2M532.2 599.2h2.2M532.2 607.5h2.2M532.5 598.6h2.2M532.5 606.8h2.2M532.8 602.0h2.2M532.8 609.5h2.2M533.1 601.9h2.2M533.1 613.9h2.2M533.4 599.6h2.2M533.4 614.3h2.2M533.7 596.3h2.2M533.7 611.6h2.2M534.0 605.7h2.2M534.0 613.6h2.2M534.4 595.7h2.2M534.4 608.1h2.2M534.7 602.2h2.2M534.7 611.1h2.2M535.0 599.2h2.2M535.0 607.9h2.2M535.3 600.6h2.2M535.3 608.6h2.2M535.6 594.2h2.2M535.6 604.1h2.2M535.9 605.7h2.2M535.9 613.1h2.2M536.3 608.0h2.2M536.3 621.4h2.2M536.6 603.4h2.2M536.6 614.8h2.2M536.9 606.3h2.2M536.9 615.5h2.2M537.2 604.1h2.2M537.2 612.3h2.2M537.5 596.2h2.2M537.5 605.5h2.2M537.8 600.9h2.2M537.8 617.0h2.2M538.1 602.6h2.2M538.1 617.8h2.2M538.5 603.3h2.2M538.5 612.6h2.2M538.8 605.4h2.2M538.8 617.0h2.2M539.1 602.1h2.2M539.1 612.7h2.2M539.4 601.5h2.2M539.4 609.6h2.2M539.7 605.5h2.2M539.7 615.9h2.2M540.0 601.9h2.2M540.0 612.7h2.2M540.4 600.8h2.2M540.4 616.0h2.2M540.7 600.5h2.2M540.7 606.5h2.2M541.0 601.8h2.2M541.0 609.5h2.2M541.3 606.3h2.2M541.3 620.1h2.2M541.6 604.4h2.2M541.6 610.0h2.2M541.9 603.4h2.2M541.9 621.1h2.2M542.2 599.0h2.2M542.2 606.3h2.2M542.6 601.0h2.2M542.6 610.3h2.2M542.9 606.5h2.2M542.9 618.3h2.2M543.2 600.5h2.2M543.2 620.3h2.2M543.5 598.1h2.2M543.5 612.5h2.2M543.8 600.2h2.2M543.8 611.7h2.2M544.1 600.5h2.2M544.1 607.9h2.2M544.5 595.5h2.2M544.5 611.0h2.2M544.8 598.0h2.2M544.8 617.1h2.2M545.1 599.8h2.2M545.1 620.4h2.2M545.4 602.8h2.2M545.4 614.7h2.2M545.7 601.0h2.2M545.7 619.3h2.2M546.0 618.0h2.2M546.0 630.0h2.2M546.3 597.5h2.2M546.3 606.6h2.2M546.7 599.6h2.2M546.7 612.8h2.2M547.0 601.8h2.2M547.0 616.8h2.2M547.3 603.8h2.2M547.3 610.6h2.2M547.6 600.6h2.2M547.6 614.2h2.2M547.9 606.1h2.2M547.9 613.7h2.2M548.2 606.8h2.2M548.2 623.7h2.2M548.6 607.3h2.2M548.6 624.8h2.2M548.9 601.0h2.2M548.9 614.2h2.2M549.2 602.7h2.2M549.2 611.5h2.2M549.5 600.6h2.2M549.5 618.0h2.2M549.8 605.7h2.2M549.8 611.8h2.2M550.1 607.7h2.2M550.1 620.3h2.2M550.4 602.5h2.2M550.4 609.5h2.2M550.8 612.7h2.2M550.8 632.8h2.2M551.1 601.4h2.2M551.1 611.9h2.2M551.4 604.5h2.2M551.4 613.1h2.2M551.7 600.3h2.2M551.7 608.6h2.2M552.0 612.0h2.2M552.0 627.1h2.2M552.3 621.0h2.2M552.3 640.7h2.2M552.7 601.4h2.2M552.7 617.7h2.2M553.0 604.4h2.2M553.0 622.1h2.2M553.3 602.7h2.2M553.3 615.1h2.2M553.6 608.0h2.2M553.6 622.6h2.2M553.9 605.1h2.2M553.9 624.6h2.2M554.2 603.7h2.2M554.2 612.5h2.2M554.5 607.8h2.2M554.5 623.0h2.2M554.9 599.2h2.2M554.9 608.3h2.2M555.2 604.4h2.2M555.2 612.4h2.2M555.5 596.0h2.2M555.5 607.1h2.2M555.8 604.5h2.2M555.8 622.7h2.2M556.1 602.3h2.2M556.1 610.2h2.2M556.4 601.7h2.2M556.4 620.1h2.2M556.8 605.0h2.2M556.8 621.7h2.2M557.1 601.3h2.2M557.1 616.6h2.2M557.4 597.4h2.2M557.4 617.7h2.2M557.7 602.1h2.2M557.7 621.4h2.2M558.0 601.8h2.2M558.0 615.2h2.2M558.3 602.1h2.2M558.3 616.3h2.2M558.7 599.9h2.2M558.7 622.2h2.2M559.0 605.6h2.2M559.0 620.7h2.2M559.3 603.1h2.2M559.3 628.2h2.2M559.6 608.5h2.2M559.6 627.7h2.2M559.9 602.1h2.2M559.9 623.4h2.2M560.2 605.0h2.2M560.2 615.8h2.2M560.5 610.4h2.2M560.5 628.7h2.2M560.9 604.5h2.2M560.9 612.8h2.2M561.2 597.9h2.2M561.2 619.6h2.2M561.5 606.6h2.2M561.5 623.1h2.2M561.8 599.4h2.2M561.8 608.1h2.2M562.1 612.6h2.2M562.1 629.5h2.2M562.4 600.0h2.2M562.4 615.3h2.2M562.8 617.7h2.2M562.8 642.0h2.2M563.1 604.5h2.2M563.1 615.8h2.2M563.4 603.4h2.2M563.4 616.8h2.2M563.7 600.5h2.2M563.7 614.6h2.2M564.0 599.2h2.2M564.0 614.5h2.2M564.3 608.6h2.2M564.3 616.8h2.2M564.6 601.4h2.2M564.6 623.8h2.2M565.0 624.9h2.2M565.0 645.4h2.2M565.3 609.0h2.2M565.3 634.9h2.2M565.6 613.2h2.2M565.6 624.6h2.2M565.9 600.9h2.2M565.9 617.3h2.2M566.2 607.5h2.2M566.2 619.0h2.2M566.5 605.2h2.2M566.5 623.1h2.2M566.9 609.1h2.2M566.9 638.2h2.2M567.2 601.7h2.2M567.2 629.1h2.2M567.5 603.0h2.2M567.5 631.0h2.2M567.8 597.7h2.2M567.8 618.8h2.2M568.1 654.8h2.2M568.1 667.9h2.2M568.4 620.1h2.2M568.4 639.6h2.2M568.7 613.4h2.2M568.7 636.1h2.2M569.1 598.9h2.2M569.1 620.9h2.2M569.4 602.7h2.2M569.4 627.7h2.2M569.7 606.8h2.2M569.7 623.4h2.2M570.0 603.2h2.2M570.0 629.2h2.2M570.3 609.8h2.2M570.3 632.6h2.2M570.6 603.6h2.2M570.6 622.7h2.2M571.0 609.1h2.2M571.0 624.3h2.2M571.3 604.5h2.2M571.6 608.6h2.2M571.6 629.0h2.2M571.9 607.8h2.2M571.9 631.7h2.2M572.2 605.8h2.2M572.2 618.4h2.2M572.5 613.6h2.2M572.5 632.0h2.2M572.8 637.4h2.2M572.8 667.7h2.2M573.2 613.7h2.2M573.2 635.0h2.2M573.5 608.3h2.2M573.5 624.7h2.2M573.8 604.3h2.2M573.8 635.0h2.2M574.1 605.8h2.2M574.1 630.5h2.2M574.4 624.8h2.2M574.4 641.7h2.2M574.7 596.8h2.2M574.7 617.0h2.2M575.1 662.8h2.2M575.1 692.2h2.2M575.4 598.3h2.2M575.4 620.3h2.2M575.7 606.9h2.2M575.7 621.1h2.2M576.0 617.4h2.2M576.0 638.7h2.2M576.3 615.6h2.2M576.3 629.6h2.2M576.6 606.6h2.2M576.6 630.0h2.2M576.9 609.0h2.2M576.9 624.6h2.2M577.3 633.0h2.2M577.3 651.1h2.2M577.6 623.5h2.2M577.6 640.5h2.2M577.9 623.6h2.2M577.9 647.7h2.2M578.2 607.0h2.2M578.2 622.0h2.2M578.5 607.8h2.2M578.5 626.2h2.2M578.8 609.4h2.2M578.8 638.5h2.2M579.2 614.0h2.2M579.2 634.2h2.2M579.5 605.5h2.2M579.5 635.4h2.2M579.8 644.9h2.2M579.8 671.9h2.2M580.1 637.6h2.2M580.1 669.7h2.2M580.4 615.9h2.2M580.4 631.4h2.2M580.7 610.3h2.2M580.7 626.4h2.2M581.0 612.9h2.2M581.0 628.1h2.2M581.4 603.6h2.2M581.4 631.3h2.2M581.7 604.3h2.2M581.7 618.9h2.2M582.0 609.3h2.2M582.0 631.9h2.2M582.3 608.5h2.2M582.3 636.8h2.2M582.6 594.2h2.2M582.6 610.3h2.2M582.9 628.0h2.2M582.9 660.3h2.2M583.3 598.2h2.2M583.3 632.4h2.2M583.6 609.8h2.2M583.6 631.1h2.2M583.9 607.5h2.2M583.9 622.7h2.2M584.2 612.3h2.2M584.2 636.0h2.2M584.5 605.1h2.2M584.5 640.4h2.2M584.8 615.4h2.2M584.8 638.8h2.2M585.1 649.9h2.2M585.1 684.3h2.2M585.5 621.4h2.2M585.5 651.4h2.2M585.8 626.8h2.2M585.8 647.9h2.2M586.1 605.5h2.2M586.1 644.0h2.2M586.4 620.6h2.2M586.4 654.9h2.2M586.7 610.1h2.2M586.7 629.8h2.2M587.0 607.7h2.2M587.0 628.1h2.2M587.4 608.8h2.2M587.4 623.3h2.2M587.7 610.2h2.2M587.7 633.4h2.2M588.0 599.1h2.2M588.0 626.2h2.2M588.3 613.0h2.2M588.6 601.6h2.2M588.6 618.8h2.2M588.9 608.6h2.2M588.9 645.0h2.2M589.3 616.2h2.2M589.3 648.0h2.2M589.6 605.5h2.2M589.6 630.5h2.2M589.9 609.9h2.2M589.9 632.0h2.2M590.2 606.4h2.2M590.2 624.2h2.2M590.5 604.7h2.2M590.5 619.1h2.2M590.8 609.2h2.2M590.8 621.8h2.2M591.1 629.0h2.2M591.1 655.8h2.2M591.5 618.1h2.2M591.5 650.1h2.2M591.8 621.4h2.2M592.1 655.1h2.2M592.1 685.0h2.2M592.4 611.7h2.2M592.4 630.9h2.2M592.7 619.9h2.2M592.7 643.6h2.2M593.0 608.2h2.2M593.0 638.3h2.2M593.4 620.7h2.2M593.4 662.4h2.2M593.7 601.8h2.2M593.7 623.8h2.2M594.0 601.8h2.2M594.0 623.9h2.2M594.3 605.3h2.2M594.3 635.0h2.2M594.6 609.4h2.2M594.6 635.5h2.2M594.9 611.9h2.2M594.9 630.5h2.2M595.2 611.8h2.2M595.2 626.1h2.2M595.6 618.3h2.2M595.6 637.6h2.2M595.9 614.7h2.2M595.9 652.8h2.2M596.2 610.1h2.2M596.2 635.9h2.2M596.5 611.6h2.2M596.5 625.9h2.2M596.8 634.8h2.2M596.8 649.0h2.2M597.1 610.5h2.2M597.1 646.5h2.2M597.5 596.2h2.2M597.5 617.9h2.2M597.8 606.6h2.2M597.8 634.3h2.2M598.1 618.8h2.2M598.1 634.6h2.2M598.4 610.0h2.2M598.4 625.1h2.2M598.7 626.0h2.2M598.7 648.1h2.2M599.0 620.3h2.2M599.0 636.7h2.2M599.3 603.2h2.2M599.3 626.1h2.2M599.7 616.9h2.2M599.7 637.3h2.2M600.0 636.0h2.2M600.0 656.7h2.2M600.3 627.5h2.2M600.3 639.8h2.2M600.6 611.8h2.2M600.6 638.8h2.2M600.9 600.1h2.2M600.9 618.4h2.2M601.2 603.5h2.2M601.2 633.5h2.2M601.6 613.4h2.2M601.6 650.9h2.2M601.9 614.4h2.2M601.9 649.4h2.2M602.2 598.6h2.2M602.5 610.6h2.2M602.5 624.6h2.2M602.8 637.6h2.2M602.8 672.2h2.2M603.1 604.1h2.2M603.1 622.1h2.2M603.4 605.2h2.2M603.4 630.2h2.2M603.8 610.1h2.2M603.8 640.9h2.2M604.1 609.0h2.2M604.1 641.1h2.2M604.4 604.0h2.2M604.4 628.9h2.2M604.7 596.0h2.2M604.7 632.0h2.2M605.0 613.3h2.2M605.0 645.8h2.2M605.3 613.7h2.2M605.3 652.2h2.2M605.7 630.2h2.2M605.7 663.7h2.2M606.0 647.3h2.2M606.0 680.2h2.2M606.3 624.5h2.2M606.3 643.1h2.2M606.6 615.9h2.2M606.6 630.8h2.2M606.9 603.5h2.2M606.9 617.3h2.2M607.2 613.3h2.2M607.2 640.1h2.2M607.5 596.1h2.2M607.5 617.8h2.2M607.9 620.6h2.2M607.9 634.1h2.2M608.2 610.7h2.2M608.2 627.4h2.2M608.5 616.7h2.2M608.5 632.5h2.2M608.8 633.4h2.2M608.8 665.4h2.2M609.1 609.8h2.2M609.1 627.1h2.2M609.4 627.5h2.2M609.4 639.4h2.2M609.8 601.4h2.2M609.8 638.6h2.2M610.1 618.6h2.2M610.1 655.1h2.2M610.4 622.5h2.2M610.4 661.3h2.2M610.7 605.8h2.2M610.7 619.2h2.2M611.0 605.5h2.2M611.0 620.7h2.2M611.3 612.0h2.2M611.3 628.6h2.2M611.6 619.3h2.2M611.6 639.7h2.2M612.0 613.7h2.2M612.0 646.6h2.2M612.3 640.6h2.2M612.3 664.8h2.2M612.6 599.5h2.2M612.6 615.2h2.2M612.9 643.3h2.2M612.9 669.2h2.2M613.2 619.4h2.2M613.2 636.9h2.2M613.5 610.8h2.2M613.5 639.2h2.2M613.9 603.2h2.2M613.9 617.3h2.2M614.2 600.7h2.2M614.2 624.6h2.2M614.5 622.5h2.2M614.5 639.9h2.2M614.8 606.7h2.2M614.8 635.9h2.2M615.1 640.9h2.2M615.1 679.8h2.2M615.4 617.8h2.2M615.4 632.1h2.2M615.8 633.6h2.2M615.8 670.1h2.2M616.1 629.0h2.2M616.1 644.0h2.2M616.4 640.2h2.2M616.4 681.0h2.2M616.7 608.0h2.2M616.7 629.2h2.2M617.0 610.2h2.2M617.0 644.7h2.2M617.3 619.2h2.2M617.3 638.2h2.2M617.6 614.5h2.2M617.6 636.0h2.2M618.0 620.2h2.2M618.0 640.5h2.2M618.3 603.0h2.2M618.3 629.1h2.2M618.6 606.3h2.2M618.6 623.1h2.2M618.9 605.4h2.2M618.9 628.5h2.2M619.2 619.8h2.2M619.2 635.2h2.2M619.5 615.4h2.2M619.5 632.4h2.2M619.9 611.9h2.2M619.9 630.2h2.2M620.2 614.4h2.2M620.2 650.4h2.2M620.5 632.4h2.2M620.5 668.1h2.2M620.8 610.0h2.2M620.8 631.6h2.2M621.1 611.5h2.2M621.1 627.5h2.2M621.4 630.5h2.2M621.4 654.4h2.2M621.7 618.7h2.2M621.7 663.9h2.2M622.1 671.0h2.2M622.1 694.2h2.2M622.4 607.3h2.2M622.4 628.4h2.2M622.7 607.9h2.2M622.7 632.1h2.2M623.0 605.0h2.2M623.0 622.0h2.2M623.3 614.2h2.2M623.3 652.4h2.2M623.6 608.0h2.2M623.6 626.7h2.2M624.0 648.3h2.2M624.0 683.2h2.2M624.3 644.6h2.2M624.3 672.0h2.2M624.6 626.2h2.2M624.6 647.6h2.2M624.9 613.2h2.2M624.9 625.8h2.2M625.2 609.9h2.2M625.2 621.9h2.2M625.5 622.0h2.2M625.5 656.6h2.2M625.8 612.0h2.2M625.8 636.9h2.2M626.2 612.2h2.2M626.2 630.9h2.2M626.5 613.5h2.2M626.5 632.7h2.2M626.8 621.5h2.2M626.8 640.8h2.2M627.1 602.7h2.2M627.1 634.4h2.2M627.4 614.0h2.2M627.4 643.9h2.2M627.7 599.3h2.2M627.7 626.8h2.2M628.1 605.6h2.2M628.1 626.3h2.2M628.4 603.6h2.2M628.4 619.1h2.2M628.7 602.5h2.2M628.7 625.4h2.2M629.0 601.3h2.2M629.0 627.4h2.2M629.3 608.2h2.2M629.3 647.5h2.2M629.6 614.6h2.2M629.6 641.6h2.2M629.9 602.3h2.2M629.9 620.3h2.2M630.3 609.7h2.2M630.3 635.3h2.2M630.6 626.2h2.2M630.6 669.7h2.2M630.9 615.6h2.2M630.9 633.2h2.2M631.2 619.2h2.2M631.2 642.1h2.2M631.5 614.7h2.2M631.5 656.4h2.2M631.8 604.8h2.2M631.8 621.8h2.2M632.2 616.7h2.2M632.2 652.7h2.2M632.5 603.0h2.2M632.5 622.5h2.2M632.8 613.2h2.2M632.8 627.8h2.2M633.1 644.5h2.2M633.1 677.3h2.2M633.4 598.3h2.2M633.4 635.1h2.2M633.7 606.1h2.2M633.7 633.6h2.2M634.0 596.8h2.2M634.0 612.1h2.2M634.4 628.3h2.2M634.4 652.4h2.2M634.7 621.6h2.2M634.7 642.4h2.2M635.0 601.8h2.2M635.0 635.8h2.2M635.3 614.3h2.2M635.3 640.9h2.2M635.6 605.3h2.2M635.6 630.1h2.2M635.9 602.6h2.2M635.9 631.1h2.2M636.3 640.9h2.2M636.3 660.2h2.2M636.6 602.3h2.2M636.6 630.7h2.2M636.9 619.8h2.2M636.9 631.8h2.2M637.2 597.8h2.2M637.2 622.8h2.2M637.5 616.5h2.2M637.5 630.8h2.2M637.8 605.8h2.2M637.8 626.0h2.2M638.1 610.1h2.2M638.1 636.7h2.2M638.5 601.7h2.2M638.5 634.0h2.2M638.8 598.9h2.2M638.8 633.4h2.2M639.1 598.5h2.2M639.1 613.6h2.2M639.4 604.9h2.2M639.4 614.9h2.2M639.7 599.5h2.2M639.7 611.6h2.2M640.0 594.7h2.2M640.0 613.2h2.2M640.4 638.8h2.2M640.4 656.3h2.2M640.7 605.7h2.2M640.7 642.6h2.2M641.0 607.6h2.2M641.0 645.8h2.2M641.3 600.7h2.2M641.3 626.6h2.2M641.6 611.8h2.2M641.6 623.9h2.2M641.9 602.7h2.2M641.9 617.9h2.2M642.2 627.4h2.2M642.2 641.4h2.2M642.6 599.2h2.2M642.6 617.2h2.2M642.9 616.5h2.2M642.9 646.0h2.2M643.2 600.9h2.2M643.2 618.8h2.2M643.5 618.4h2.2M643.5 646.0h2.2M643.8 607.7h2.2M643.8 633.3h2.2M644.1 594.5h2.2M644.1 624.6h2.2M644.5 607.0h2.2M644.5 631.9h2.2M644.8 631.1h2.2M644.8 646.0h2.2M645.1 603.3h2.2M645.1 630.9h2.2M645.4 644.3h2.2M645.4 667.9h2.2M645.7 605.8h2.2M645.7 634.5h2.2M646.0 593.5h2.2M646.0 635.1h2.2M646.4 598.8h2.2M646.4 613.5h2.2M646.7 596.5h2.2M646.7 626.8h2.2M647.0 620.4h2.2M647.0 638.7h2.2M647.3 596.3h2.2M647.3 629.0h2.2M647.6 599.2h2.2M647.6 619.9h2.2M647.9 605.7h2.2M647.9 638.5h2.2M648.2 596.6h2.2M648.2 613.0h2.2M648.6 606.7h2.2M648.6 631.5h2.2M648.9 621.4h2.2M648.9 635.0h2.2M649.2 599.3h2.2M649.2 626.9h2.2M649.5 602.6h2.2M649.5 633.8h2.2M649.8 606.2h2.2M649.8 636.8h2.2M650.1 596.4h2.2M650.1 612.9h2.2M650.5 613.4h2.2M650.5 630.9h2.2M650.8 613.1h2.2M650.8 634.2h2.2M651.1 630.3h2.2M651.1 653.9h2.2M651.4 585.3h2.2M651.4 604.3h2.2M651.7 625.5h2.2M651.7 639.4h2.2M652.0 619.0h2.2M652.0 648.2h2.2M652.3 607.3h2.2M652.7 600.3h2.2M652.7 611.1h2.2M653.0 593.3h2.2M653.0 622.6h2.2M653.3 609.6h2.2M653.3 634.2h2.2M653.6 596.8h2.2M653.6 616.9h2.2M653.9 606.4h2.2M653.9 627.3h2.2M654.2 599.1h2.2M654.2 613.0h2.2M654.6 591.9h2.2M654.6 629.4h2.2M654.9 599.6h2.2M654.9 633.3h2.2M655.2 610.3h2.2M655.2 633.9h2.2M655.5 646.5h2.2M655.8 624.0h2.2M655.8 661.4h2.2M656.1 603.5h2.2M656.1 634.3h2.2M656.4 595.0h2.2M656.4 633.2h2.2M656.8 608.0h2.2M656.8 624.7h2.2M657.1 600.8h2.2M657.1 639.8h2.2M657.4 609.8h2.2M657.4 637.2h2.2M657.7 594.8h2.2M657.7 622.2h2.2M658.0 598.7h2.2M658.0 623.0h2.2M658.3 590.9h2.2M658.3 614.4h2.2M658.7 588.7h2.2M658.7 612.5h2.2M659.0 610.5h2.2M659.0 625.9h2.2M659.3 593.6h2.2M659.3 604.2h2.2M659.6 596.3h2.2M659.6 619.9h2.2M659.9 642.7h2.2M659.9 671.4h2.2M660.2 600.9h2.2M660.2 620.4h2.2M660.5 606.4h2.2M660.5 644.3h2.2M660.9 603.5h2.2M660.9 642.2h2.2M661.2 590.7h2.2M661.2 617.5h2.2M661.5 598.3h2.2M661.5 634.2h2.2M661.8 589.6h2.2M661.8 620.7h2.2M662.1 601.2h2.2M662.1 615.1h2.2M662.4 612.6h2.2M662.4 647.9h2.2M662.8 593.7h2.2M662.8 617.2h2.2M663.1 593.1h2.2M663.1 613.9h2.2M663.4 634.9h2.2M663.4 653.6h2.2" stroke="#b4b4b4" stroke-width="0.6" fill="none"/>
<path d="M396.7 536.8h0M397.0 538.8h0M397.3 539.8h0M397.6 539.9h0M397.9 539.9h0M398.2 539.9h0M398.5 539.6h0M398.9 539.5h0M399.2 539.6h0M399.5 539.6h0M399.8 539.6h0M400.1 539.7h0M400.4 539.5h0M400.8 539.8h0M401.1 539.6h0M401.4 539.8h0M401.7 539.8h0M402.0 540.0h0M402.3 539.9h0M402.6 539.7h0M403.0 540.0h0M403.3 540.1h0M403.6 540.1h0M403.9 540.1h0M404.2 540.2h0M404.5 540.5h0M404.9 540.7h0M405.2 540.7h0M405.5 540.7h0M405.8 541.1h0M406.1 540.7h0M406.4 541.1h0M406.7 541.1h0M407.1 541.0h0M407.4 541.5h0M407.7 541.4h0M408.0 541.7h0M408.3 541.6h0M408.6 541.9h0M409.0 541.9h0M409.3 542.2h0M409.6 542.1h0M409.9 542.5h0M410.2 542.8h0M410.5 542.6h0M410.8 543.2h0M411.2 542.8h0M411.5 543.1h0M411.8 543.3h0M412.1 543.4h0M412.4 543.4h0M412.7 543.8h0M413.1 544.0h0M413.4 544.2h0M413.7 544.3h0M414.0 544.2h0M414.3 544.8h0M414.6 544.7h0M414.9 544.9h0M415.3 545.1h0M415.6 545.1h0M415.9 545.4h0M416.2 545.9h0M416.5 545.9h0M416.8 546.3h0M417.2 546.2h0M417.5 546.6h0M417.8 546.3h0M418.1 546.7h0M418.4 547.5h0M418.7 546.9h0M419.1 547.4h0M419.4 547.6h0M419.7 547.5h0M420.0 547.5h0M420.3 547.7h0M420.6 548.3h0M420.9 548.6h0M421.3 548.3h0M421.6 548.7h0M421.9 549.2h0M422.2 548.8h0M422.5 549.3h0M422.8 549.4h0M423.2 549.9h0M423.5 549.8h0M423.8 550.0h0M424.1 550.2h0M424.4 550.5h0M424.7 550.7h0M425.0 550.6h0M425.4 550.9h0M425.7 551.0h0M426.0 551.1h0M426.3 551.3h0M426.6 551.4h0M426.9 551.6h0M427.3 551.6h0M427.6 551.9h0M427.9 552.4h0M428.2 552.5h0M428.5 552.5h0M428.8 552.8h0M429.1 552.7h0M429.5 553.6h0M429.8 553.2h0M430.1 553.3h0M430.4 553.9h0M430.7 554.1h0M431.0 553.5h0M431.4 554.0h0M431.7 554.2h0M432.0 554.7h0M432.3 554.5h0M432.6 555.0h0M432.9 555.1h0M433.2 555.0h0M433.6 555.1h0M433.9 555.5h0M434.2 556.1h0M434.5 555.9h0M434.8 556.4h0M435.1 556.0h0M435.5 556.5h0M435.8 556.8h0M436.1 557.0h0M436.4 557.0h0M436.7 557.0h0M437.0 557.0h0M437.3 557.3h0M437.7 558.1h0M438.0 558.1h0M438.3 557.8h0M438.6 558.3h0M438.9 558.3h0M439.2 558.9h0M439.6 559.3h0M439.9 558.9h0M440.2 559.0h0M440.5 558.9h0M440.8 559.4h0M441.1 559.5h0M441.4 559.3h0M441.8 559.7h0M442.1 560.1h0M442.4 560.5h0M442.7 560.2h0M443.0 560.8h0M443.3 560.4h0M443.7 560.8h0M444.0 561.0h0M444.3 560.9h0M444.6 561.4h0M444.9 561.5h0M445.2 562.1h0M445.5 562.1h0M445.9 562.2h0M446.2 562.5h0M446.5 562.3h0M446.8 563.0h0M447.1 562.9h0M447.4 563.5h0M447.8 563.5h0M448.1 564.6h0M448.4 563.6h0M448.7 564.0h0M449.0 564.2h0M449.3 564.7h0M449.7 564.9h0M450.0 565.0h0M450.3 565.2h0M450.6 564.8h0M450.9 566.0h0M451.2 564.7h0M451.5 565.4h0M451.9 565.9h0M452.2 565.3h0M452.5 566.5h0M452.8 566.3h0M453.1 567.3h0M453.4 566.3h0M453.8 567.1h0M454.1 567.1h0M454.4 567.1h0M454.7 568.0h0M455.0 567.6h0M455.3 567.9h0M455.6 567.6h0M456.0 568.0h0M456.3 569.5h0M456.6 568.5h0M456.9 569.6h0M457.2 569.5h0M457.5 569.5h0M457.9 568.8h0M458.2 570.7h0M458.5 570.1h0M458.8 570.6h0M459.1 570.3h0M459.4 570.4h0M459.7 571.0h0M460.1 571.6h0M460.4 570.9h0M460.7 571.6h0M461.0 571.1h0M461.3 571.3h0M461.6 571.4h0M462.0 572.3h0M462.3 572.8h0M462.6 572.8h0M462.9 572.7h0M463.2 572.8h0M463.5 572.9h0M463.8 573.1h0M464.2 573.1h0M464.5 573.7h0M464.8 573.4h0M465.1 573.5h0M465.4 573.8h0M465.7 575.1h0M466.1 574.5h0M466.4 575.6h0M466.7 575.4h0M467.0 574.9h0M467.3 575.2h0M467.6 576.1h0M467.9 575.2h0M468.3 575.3h0M468.6 576.4h0M468.9 576.6h0M469.2 577.4h0M469.5 576.7h0M469.8 576.3h0M470.2 576.7h0M470.5 577.0h0M470.8 577.4h0M471.1 577.7h0M471.4 578.5h0M471.7 578.4h0M472.0 578.3h0M472.4 579.1h0M472.7 579.3h0M473.0 579.4h0M473.3 579.1h0M473.6 579.8h0M473.9 579.3h0M474.3 580.1h0M474.6 580.4h0M474.9 580.2h0M475.2 580.2h0M475.5 580.3h0M475.8 581.6h0M476.2 580.8h0M476.5 581.0h0M476.8 581.7h0M477.1 581.1h0M477.4 581.1h0M477.7 582.4h0M478.0 581.6h0M478.4 581.5h0M478.7 582.8h0M479.0 583.6h0M479.3 582.3h0M479.6 582.8h0M479.9 583.1h0M480.3 582.0h0M480.6 582.8h0M480.9 583.9h0M481.2 583.4h0M481.5 583.5h0M481.8 583.6h0M482.1 584.0h0M482.5 586.0h0M482.8 584.6h0M483.1 584.8h0M483.4 584.4h0M483.7 585.1h0M484.0 585.6h0M484.4 584.1h0M484.7 585.3h0M485.0 584.9h0M485.3 586.2h0M485.6 586.0h0M485.9 588.3h0M486.2 586.5h0M486.6 586.6h0M486.9 587.5h0M487.2 586.7h0M487.5 585.9h0M487.8 587.9h0M488.1 587.6h0M488.5 587.5h0M488.8 588.4h0M489.1 587.3h0M489.4 588.1h0M489.7 589.9h0M490.0 588.0h0M490.3 589.4h0M490.7 588.1h0M491.0 589.8h0M491.3 588.6h0M491.6 590.3h0M491.9 588.6h0M492.2 589.3h0M492.6 589.2h0M492.9 589.2h0M493.2 590.2h0M493.5 590.8h0M493.8 591.0h0M494.1 590.5h0M494.4 590.2h0M494.8 590.6h0M495.1 590.8h0M495.4 589.6h0M495.7 589.9h0M496.0 591.1h0M496.3 591.2h0M496.7 593.2h0M497.0 590.5h0M497.3 589.8h0M497.6 593.3h0M497.9 590.1h0M498.2 592.0h0M498.5 593.0h0M498.9 592.0h0M499.2 592.8h0M499.5 592.3h0M499.8 592.5h0M500.1 593.4h0M500.4 592.5h0M500.8 593.6h0M501.1 595.3h0M501.4 594.1h0M501.7 594.4h0M502.0 592.5h0M502.3 593.9h0M502.7 593.1h0M503.0 594.5h0M503.3 592.2h0M503.6 592.6h0M503.9 595.2h0M504.2 593.9h0M504.5 593.1h0M504.9 593.7h0M505.2 592.6h0M505.5 593.5h0M505.8 595.2h0M506.1 593.7h0M506.4 595.6h0M506.8 596.0h0M507.1 595.6h0M507.4 593.6h0M507.7 597.8h0M508.0 596.4h0M508.3 593.7h0M508.6 593.6h0M509.0 598.2h0M509.3 598.9h0M509.6 610.9h0M509.9 595.8h0M510.2 595.6h0M510.5 594.6h0M510.9 597.0h0M511.2 598.6h0M511.5 596.5h0M511.8 596.8h0M512.1 595.6h0M512.4 598.1h0M512.7 600.0h0M513.1 599.4h0M513.4 599.8h0M513.7 600.9h0M514.0 594.4h0M514.3 597.1h0M514.6 599.6h0M515.0 600.6h0M515.3 599.3h0M515.6 593.8h0M515.9 600.7h0M516.2 595.8h0M516.5 601.4h0M516.8 600.3h0M517.2 595.4h0M517.5 599.7h0M517.8 594.6h0M518.1 600.9h0M518.4 599.0h0M518.7 599.8h0M519.1 597.1h0M519.4 596.3h0M519.7 597.6h0M520.0 598.5h0M520.3 598.8h0M520.6 594.7h0M520.9 597.8h0M521.3 600.6h0M521.6 598.7h0M521.9 603.3h0M522.2 596.8h0M522.5 602.7h0M522.8 600.5h0M523.2 600.5h0M523.5 599.8h0M523.8 598.8h0M524.1 597.3h0M524.4 598.9h0M524.7 602.9h0M525.0 602.4h0M525.4 600.7h0M525.7 598.8h0M526.0 600.0h0M526.3 600.8h0M526.6 600.8h0M526.9 601.6h0M527.3 599.6h0M527.6 601.2h0M527.9 600.4h0M528.2 602.1h0M528.5 597.9h0M528.8 603.8h0M529.1 601.2h0M529.5 602.6h0M529.8 605.7h0M530.1 598.3h0M530.4 596.8h0M530.7 602.7h0M531.0 599.7h0M531.4 604.3h0M531.7 604.0h0M532.0 602.5h0M532.3 597.3h0M532.6 603.9h0M532.9 600.2h0M533.3 601.4h0M533.6 600.5h0M533.9 603.3h0M534.2 603.9h0M534.5 601.6h0M534.8 598.2h0M535.1 607.4h0M535.5 597.3h0M535.8 604.0h0M536.1 601.0h0M536.4 601.7h0M536.7 596.8h0M537.0 608.4h0M537.4 610.2h0M537.7 604.8h0M538.0 607.9h0M538.3 605.9h0M538.6 598.3h0M538.9 602.8h0M539.2 605.8h0M539.6 605.8h0M539.9 606.8h0M540.2 603.9h0M540.5 602.9h0M540.8 607.0h0M541.1 604.4h0M541.5 603.3h0M541.8 602.6h0M542.1 603.1h0M542.4 609.4h0M542.7 606.2h0M543.0 606.2h0M543.3 601.7h0M543.7 603.1h0M544.0 609.1h0M544.3 603.6h0M544.6 600.2h0M544.9 602.2h0M545.2 602.0h0M545.6 597.7h0M545.9 601.2h0M546.2 603.4h0M546.5 606.3h0M546.8 604.1h0M547.1 620.1h0M547.4 600.8h0M547.8 602.7h0M548.1 604.8h0M548.4 606.1h0M548.7 604.2h0M549.0 607.6h0M549.3 610.0h0M549.7 609.2h0M550.0 604.4h0M550.3 604.4h0M550.6 603.1h0M550.9 607.6h0M551.2 609.7h0M551.5 604.5h0M551.9 615.8h0M552.2 604.2h0M552.5 607.0h0M552.8 601.9h0M553.1 614.2h0M553.4 624.4h0M553.8 604.3h0M554.1 607.0h0M554.4 605.0h0M554.7 610.2h0M555.0 607.8h0M555.3 605.7h0M555.6 610.6h0M556.0 603.3h0M556.3 607.5h0M556.6 599.5h0M556.9 606.5h0M557.2 604.3h0M557.5 604.7h0M557.9 607.0h0M558.2 603.8h0M558.5 600.9h0M558.8 604.7h0M559.1 604.7h0M559.4 605.9h0M559.8 602.6h0M560.1 607.9h0M560.4 607.0h0M560.7 612.1h0M561.0 604.8h0M561.3 609.6h0M561.6 612.5h0M562.0 607.6h0M562.3 602.7h0M562.6 609.6h0M562.9 602.3h0M563.2 616.0h0M563.5 603.5h0M563.9 622.2h0M564.2 608.2h0M564.5 606.0h0M564.8 605.2h0M565.1 603.0h0M565.4 611.0h0M565.7 605.5h0M566.1 627.8h0M566.4 610.9h0M566.7 616.8h0M567.0 605.9h0M567.3 610.1h0M567.6 610.4h0M568.0 613.9h0M568.3 604.0h0M568.6 605.1h0M568.9 602.7h0M569.2 659.1h0M569.5 624.9h0M569.8 618.2h0M570.2 601.8h0M570.5 607.3h0M570.8 611.0h0M571.1 607.4h0M571.4 614.5h0M571.7 607.7h0M572.1 611.3h0M572.4 609.4h0M572.7 611.3h0M573.0 611.7h0M573.3 610.0h0M573.6 616.5h0M573.9 639.8h0M574.3 618.4h0M574.6 611.1h0M574.9 607.0h0M575.2 611.1h0M575.5 630.5h0M575.8 602.7h0M576.2 666.5h0M576.5 603.7h0M576.8 609.8h0M577.1 621.6h0M577.4 618.6h0M577.7 611.4h0M578.0 611.6h0M578.4 638.3h0M578.7 627.4h0M579.0 627.4h0M579.3 612.1h0M579.6 612.0h0M579.9 614.7h0M580.3 618.2h0M580.6 611.1h0M580.9 651.1h0M581.2 642.3h0M581.5 618.9h0M581.8 615.9h0M582.1 616.9h0M582.5 609.3h0M582.8 608.7h0M583.1 613.8h0M583.4 613.9h0M583.7 600.0h0M584.0 630.4h0M584.4 604.2h0M584.7 614.0h0M585.0 612.4h0M585.3 616.9h0M585.6 610.0h0M585.9 619.0h0M586.2 655.9h0M586.6 624.1h0M586.9 629.9h0M587.2 611.0h0M587.5 624.3h0M587.8 613.9h0M588.1 612.6h0M588.5 612.3h0M588.8 615.4h0M589.1 605.5h0M589.4 616.3h0M589.7 608.1h0M590.0 614.2h0M590.4 620.8h0M590.7 610.8h0M591.0 615.1h0M591.3 611.3h0M591.6 609.7h0M591.9 613.8h0M592.2 633.1h0M592.6 622.3h0M592.9 623.8h0M593.2 658.3h0M593.5 615.2h0M593.8 623.8h0M594.1 612.1h0M594.5 627.1h0M594.8 604.8h0M595.1 607.4h0M595.4 610.8h0M595.7 614.6h0M596.0 618.3h0M596.3 615.7h0M596.7 621.9h0M597.0 620.0h0M597.3 616.0h0M597.6 616.1h0M597.9 639.0h0M598.2 614.8h0M598.6 602.6h0M598.9 611.5h0M599.2 621.7h0M599.5 613.4h0M599.8 630.4h0M600.1 624.5h0M600.4 609.8h0M600.8 622.8h0M601.1 642.5h0M601.4 631.4h0M601.7 615.8h0M602.0 606.1h0M602.3 606.4h0M602.7 618.5h0M603.0 619.0h0M603.3 605.2h0M603.6 613.6h0M603.9 642.7h0M604.2 607.3h0M604.5 607.7h0M604.9 613.1h0M605.2 612.8h0M605.5 610.7h0M605.8 601.6h0M606.1 616.1h0M606.4 619.5h0M606.8 635.9h0M607.1 651.5h0M607.4 628.1h0M607.7 620.4h0M608.0 609.9h0M608.3 619.2h0M608.6 601.6h0M609.0 623.2h0M609.3 613.3h0M609.6 619.8h0M609.9 635.9h0M610.2 614.7h0M610.5 631.5h0M610.9 604.5h0M611.2 623.2h0M611.5 625.6h0M611.8 608.5h0M612.1 611.3h0M612.4 617.9h0M612.7 622.5h0M613.1 619.2h0M613.4 646.4h0M613.7 603.6h0M614.0 648.5h0M614.3 623.2h0M614.6 617.0h0M615.0 607.0h0M615.3 607.3h0M615.6 628.8h0M615.9 613.0h0M616.2 645.6h0M616.5 621.3h0M616.9 640.3h0M617.2 635.4h0M617.5 646.9h0M617.8 614.5h0M618.1 614.0h0M618.4 623.7h0M618.7 618.0h0M619.1 624.4h0M619.4 607.6h0M619.7 610.8h0M620.0 609.7h0M620.3 622.7h0M620.6 620.7h0M621.0 615.3h0M621.3 618.2h0M621.6 635.5h0M621.9 614.0h0M622.2 614.0h0M622.5 635.4h0M622.8 625.5h0M623.2 676.4h0M623.5 612.2h0M623.8 611.7h0M624.1 609.6h0M624.4 619.4h0M624.7 614.0h0M625.1 654.1h0M625.4 649.4h0M625.7 630.2h0M626.0 616.6h0M626.3 614.3h0M626.6 627.9h0M626.9 616.3h0M627.3 618.0h0M627.6 619.2h0M627.9 627.8h0M628.2 607.2h0M628.5 620.3h0M628.8 602.5h0M629.2 610.8h0M629.5 607.1h0M629.8 605.0h0M630.1 605.6h0M630.4 614.7h0M630.7 620.2h0M631.0 607.1h0M631.4 613.0h0M631.7 631.0h0M632.0 620.5h0M632.3 624.3h0M632.6 621.4h0M632.9 608.8h0M633.3 623.5h0M633.6 608.1h0M633.9 616.4h0M634.2 649.1h0M634.5 602.3h0M634.8 608.7h0M635.1 601.1h0M635.5 633.7h0M635.8 625.5h0M636.1 607.6h0M636.4 618.6h0M636.7 609.4h0M637.0 607.4h0M637.4 647.1h0M637.7 606.6h0M638.0 623.4h0M638.3 602.6h0M638.6 622.2h0M638.9 611.6h0M639.2 616.3h0M639.6 604.4h0M639.9 604.9h0M640.2 605.2h0M640.5 607.7h0M640.8 603.7h0M641.1 600.2h0M641.5 643.8h0M641.8 610.8h0M642.1 611.7h0M642.4 605.8h0M642.7 615.5h0M643.0 607.3h0M643.3 632.4h0M643.7 605.6h0M644.0 620.9h0M644.3 606.4h0M644.6 622.0h0M644.9 611.0h0M645.2 600.7h0M645.6 612.9h0M645.9 634.9h0M646.2 608.7h0M646.5 647.7h0M646.8 608.4h0M647.1 599.0h0M647.5 603.6h0M647.8 600.7h0M648.1 624.4h0M648.4 600.8h0M648.7 604.3h0M649.0 611.7h0M649.3 603.1h0M649.7 613.1h0M650.0 624.3h0M650.3 604.5h0M650.6 609.2h0M650.9 609.9h0M651.2 602.2h0M651.6 616.3h0M651.9 616.5h0M652.2 635.6h0M652.5 591.5h0M652.8 629.8h0M653.1 622.5h0M653.4 613.8h0M653.8 603.3h0M654.1 597.3h0M654.4 615.2h0M654.7 603.7h0M655.0 609.4h0M655.3 604.0h0M655.7 598.5h0M656.0 604.0h0M656.3 613.0h0M656.6 653.2h0M656.9 628.3h0M657.2 610.0h0M657.5 601.9h0M657.9 610.6h0M658.2 605.2h0M658.5 614.7h0M658.8 600.6h0M659.1 602.5h0M659.4 597.2h0M659.8 594.9h0M660.1 613.8h0M660.4 597.1h0M660.7 600.7h0M661.0 647.2h0M661.3 606.3h0M661.6 612.1h0M662.0 610.1h0M662.3 594.2h0M662.6 601.6h0M662.9 594.5h0M663.2 605.3h0M663.5 618.4h0M663.9 599.2h0M664.2 598.2h0M664.5 640.8h0" stroke="#2e2e2e" stroke-width="3.0" stroke-linecap="round" fill="none"/>
<path d="M397.0,543.8 397.9,543.8 398.8,543.8 399.7,543.8 400.6,543.9 401.5,543.9 402.4,544.0 403.3,544.0 404.2,544.1 405.1,544.2 405.9,544.3 406.8,544.5 407.7,544.6 408.6,544.8 409.5,544.9 410.4,545.1 411.3,545.3 412.2,545.5 413.1,545.7 414.0,545.9 414.9,546.2 415.8,546.4 416.7,546.7 417.6,547.0 418.5,547.3 419.4,547.6 420.3,547.9 421.2,548.2 422.0,548.5 422.9,548.9 423.8,549.2 424.7,549.6 425.6,549.9 426.5,550.3 427.4,550.7 428.3,551.1 429.2,551.5 430.1,551.9 431.0,552.4 431.9,552.8 432.8,553.3 433.7,553.7 434.6,554.2 435.5,554.6 436.4,555.1 437.3,555.6 438.2,556.1 439.0,556.6 439.9,557.1 440.8,557.6 441.7,558.1 442.6,558.7 443.5,559.2 444.4,559.8 445.3,560.3 446.2,560.9 447.1,561.4 448.0,562.0 448.9,562.6 449.8,563.2 450.7,563.8 451.6,564.4 452.5,565.0 453.4,565.6 454.3,566.3 455.1,566.9 456.0,567.6 456.9,568.3 457.8,569.0 458.7,569.8 459.6,570.5 460.5,571.3 461.4,572.1 462.3,572.9 463.2,573.7 464.1,574.5 465.0,575.4 465.9,576.3 466.8,577.3 467.7,578.2 468.6,579.2 469.5,580.1 470.4,581.1 471.3,582.1 472.1,583.2 473.0,584.2 473.9,585.2 474.8,586.2 475.7,587.2 476.6,588.3 477.5,589.3 478.4,590.3 479.3,591.3 480.2,592.2 481.1,593.2 482.0,594.2 482.9,595.1 483.8,596.1 484.7,597.0 485.6,597.9 486.5,598.8 487.4,599.7 488.2,600.5 489.1,601.4 490.0,602.2 490.9,603.0 491.8,603.8 492.7,604.6 493.6,605.4 494.5,606.1 495.4,606.8 496.3,607.6 497.2,608.2 498.1,608.9 499.0,609.6 499.9,610.2 500.8,610.8 501.7,611.4 502.6,611.9 503.5,612.5 504.4,613.0 505.2,613.5 506.1,613.9 507.0,614.4 507.9,614.8 508.8,615.2 509.7,615.5 510.6,615.9 511.5,616.2 512.4,616.5 513.3,616.7 514.2,617.0 515.1,617.2 516.0,617.4 516.9,617.6 517.8,617.8 518.7,618.0 519.6,618.1 520.5,618.3 521.3,618.4 522.2,618.6 523.1,618.8 524.0,618.9 524.9,619.1 525.8,619.2 526.7,619.4 527.6,619.6 528.5,619.8 529.4,620.0 530.3,620.2 531.2,620.5 532.1,620.7 533.0,621.0 533.9,621.3 534.8,621.7 535.7,622.1 536.6,622.4 537.5,622.9 538.3,623.3 539.2,623.7 540.1,624.2 541.0,624.7 541.9,625.2 542.8,625.7 543.7,626.2 544.6,626.7 545.5,627.2 546.4,627.7 547.3,628.3 548.2,628.8 549.1,629.3 550.0,629.8 550.9,630.3 551.8,630.8 552.7,631.3 553.6,631.8 554.5,632.3 555.3,632.7 556.2,633.2 557.1,633.6 558.0,634.0 558.9,634.4 559.8,634.8 560.7,635.2 561.6,635.6 562.5,636.0 563.4,636.3 564.3,636.6 565.2,636.9 566.1,637.2 567.0,637.5 567.9,637.8 568.8,638.0 569.7,638.3 570.6,638.5 571.4,638.7 572.3,638.8 573.2,639.0 574.1,639.1 575.0,639.3 575.9,639.4 576.8,639.5 577.7,639.5 578.6,639.6 579.5,639.7 580.4,639.7 581.3,639.7 582.2,639.8 583.1,639.8 584.0,639.8 584.9,639.8 585.8,639.8 586.7,639.7 587.6,639.7 588.4,639.7 589.3,639.6 590.2,639.6 591.1,639.6 592.0,639.5 592.9,639.4 593.8,639.4 594.7,639.3 595.6,639.3 596.5,639.2 597.4,639.1 598.3,639.1 599.2,639.0 600.1,639.0 601.0,638.9 601.9,638.8 602.8,638.8 603.7,638.7 604.5,638.7 605.4,638.6 606.3,638.6 607.2,638.5 608.1,638.5 609.0,638.4 609.9,638.4 610.8,638.3 611.7,638.3 612.6,638.2 613.5,638.2 614.4,638.2 615.3,638.1 616.2,638.1 617.1,638.1 618.0,638.1 618.9,638.0 619.8,638.0 620.7,638.0 621.5,638.0 622.4,638.0 623.3,638.0 624.2,638.0 625.1,638.0 626.0,638.0 626.9,638.1 627.8,638.1 628.7,638.1 629.6,638.1 630.5,638.2 631.4,638.2 632.3,638.3 633.2,638.3 634.1,638.4 635.0,638.4 635.9,638.5 636.8,638.6 637.6,638.7 638.5,638.8 639.4,638.9 640.3,639.0 641.2,639.1 642.1,639.2 643.0,639.3 643.9,639.4 644.8,639.6 645.7,639.7 646.6,639.8 647.5,640.0 648.4,640.1 649.3,640.3 650.2,640.4 651.1,640.6 652.0,640.7 652.9,640.9 653.8,641.0 654.6,641.2 655.5,641.3 656.4,641.4 657.3,641.5 658.2,641.6 659.1,641.7 660.0,641.7 660.9,641.8 661.8,641.8 662.7,641.8 663.6,641.8 664.5,641.7" stroke="#E69F00" stroke-width="1.9" fill="none" stroke-linejoin="round"/>
<path d="M397.0,541.1 397.9,541.1 398.8,541.2 399.7,541.3 400.6,541.5 401.5,541.6 402.4,541.8 403.3,542.0 404.2,542.2 405.1,542.4 405.9,542.6 406.8,542.9 407.7,543.2 408.6,543.5 409.5,543.8 410.4,544.1 411.3,544.4 412.2,544.8 413.1,545.1 414.0,545.5 414.9,545.9 415.8,546.3 416.7,546.7 417.6,547.1 418.5,547.5 419.4,547.9 420.3,548.4 421.2,548.8 422.0,549.3 422.9,549.8 423.8,550.3 424.7,550.7 425.6,551.2 426.5,551.7 427.4,552.2 428.3,552.7 429.2,553.2 430.1,553.8 431.0,554.3 431.9,554.8 432.8,555.3 433.7,555.8 434.6,556.4 435.5,556.9 436.4,557.4 437.3,557.9 438.2,558.5 439.0,559.0 439.9,559.5 440.8,560.0 441.7,560.5 442.6,561.1 443.5,561.6 444.4,562.1 445.3,562.6 446.2,563.1 447.1,563.6 448.0,564.1 448.9,564.5 449.8,565.0 450.7,565.5 451.6,566.0 452.5,566.4 453.4,566.9 454.3,567.4 455.1,567.8 456.0,568.3 456.9,568.7 457.8,569.2 458.7,569.7 459.6,570.1 460.5,570.6 461.4,571.0 462.3,571.5 463.2,571.9 464.1,572.4 465.0,572.8 465.9,573.3 466.8,573.7 467.7,574.2 468.6,574.6 469.5,575.1 470.4,575.5 471.3,576.0 472.1,576.5 473.0,576.9 473.9,577.4 474.8,577.9 475.7,578.3 476.6,578.8 477.5,579.3 478.4,579.8 479.3,580.2 480.2,580.7 481.1,581.2 482.0,581.7 482.9,582.2 483.8,582.7 484.7,583.1 485.6,583.6 486.5,584.1 487.4,584.6 488.2,585.1 489.1,585.5 490.0,586.0 490.9,586.5 491.8,587.0 492.7,587.5 493.6,587.9 494.5,588.4 495.4,588.9 496.3,589.3 497.2,589.8 498.1,590.3 499.0,590.7 499.9,591.2 500.8,591.6 501.7,592.1 502.6,592.5 503.5,593.0 504.4,593.4 505.2,593.8 506.1,594.3 507.0,594.7 507.9,595.1 508.8,595.5 509.7,595.9 510.6,596.3 511.5,596.7 512.4,597.1 513.3,597.5 514.2,597.8 515.1,598.2 516.0,598.6 516.9,598.9 517.8,599.3 518.7,599.6 519.6,599.9 520.5,600.3 521.3,600.6 522.2,600.9 523.1,601.2 524.0,601.5 524.9,601.8 525.8,602.1 526.7,602.4 527.6,602.6 528.5,602.9 529.4,603.2 530.3,603.4 531.2,603.7 532.1,604.0 533.0,604.2 533.9,604.4 534.8,604.7 535.7,604.9 536.6,605.2 537.5,605.4 538.3,605.6 539.2,605.9 540.1,606.1 541.0,606.3 541.9,606.6 542.8,606.8 543.7,607.0 544.6,607.2 545.5,607.5 546.4,607.7 547.3,607.9 548.2,608.1 549.1,608.3 550.0,608.6 550.9,608.8 551.8,609.0 552.7,609.3 553.6,609.5 554.5,609.7 555.3,610.0 556.2,610.2 557.1,610.5 558.0,610.7 558.9,610.9 559.8,611.2 560.7,611.5 561.6,611.7 562.5,612.0 563.4,612.3 564.3,612.5 565.2,612.8 566.1,613.1 567.0,613.4 567.9,613.7 568.8,614.0 569.7,614.4 570.6,614.7 571.4,615.0 572.3,615.4 573.2,615.8 574.1,616.1 575.0,616.5 575.9,616.9 576.8,617.3 577.7,617.8 578.6,618.2 579.5,618.6 580.4,619.1 581.3,619.6 582.2,620.1 583.1,620.5 584.0,621.0 584.9,621.5 585.8,622.0 586.7,622.5 587.6,623.0 588.4,623.4 589.3,623.9 590.2,624.3 591.1,624.8 592.0,625.2 592.9,625.6 593.8,626.0 594.7,626.4 595.6,626.8 596.5,627.2 597.4,627.5 598.3,627.9 599.2,628.2 600.1,628.6 601.0,628.9 601.9,629.2 602.8,629.5 603.7,629.8 604.5,630.1 605.4,630.4 606.3,630.7 607.2,631.0 608.1,631.2 609.0,631.5 609.9,631.7 610.8,632.0 611.7,632.2 612.6,632.5 613.5,632.7 614.4,632.9 615.3,633.2 616.2,633.4 617.1,633.6 618.0,633.8 618.9,634.0 619.8,634.2 620.7,634.4 621.5,634.6 622.4,634.8 623.3,635.0 624.2,635.2 625.1,635.4 626.0,635.6 626.9,635.7 627.8,635.9 628.7,636.1 629.6,636.2 630.5,636.4 631.4,636.6 632.3,636.7 633.2,636.9 634.1,637.0 635.0,637.2 635.9,637.3 636.8,637.5 637.6,637.6 638.5,637.7 639.4,637.9 640.3,638.0 641.2,638.1 642.1,638.2 643.0,638.4 643.9,638.5 644.8,638.6 645.7,638.7 646.6,638.8 647.5,638.9 648.4,639.0 649.3,639.1 650.2,639.2 651.1,639.3 652.0,639.4 652.9,639.5 653.8,639.6 654.6,639.7 655.5,639.8 656.4,639.9 657.3,640.0 658.2,640.1 659.1,640.1 660.0,640.2 660.9,640.3 661.8,640.4 662.7,640.5 663.6,640.5 664.5,640.6" stroke="#0072B2" stroke-width="1.9" fill="none" stroke-linejoin="round"/>
</g>
<path d="M394.70,518.30H668.00V700.40H394.70Z" fill="none" stroke="#000" stroke-width="1.5"/>
<path d="M389.70,700.40H394.70M391.70,689.44H394.70M391.70,683.02H394.70M391.70,678.47H394.70M391.70,674.94H394.70M391.70,672.06H394.70M391.70,669.62H394.70M391.70,667.51H394.70M391.70,665.65H394.70M389.70,663.98H394.70M391.70,653.02H394.70M391.70,646.60H394.70M391.70,642.05H394.70M391.70,638.52H394.70M391.70,635.64H394.70M391.70,633.20H394.70M391.70,631.09H394.70M391.70,629.23H394.70M389.70,627.56H394.70M391.70,616.60H394.70M391.70,610.18H394.70M391.70,605.63H394.70M391.70,602.10H394.70M391.70,599.22H394.70M391.70,596.78H394.70M391.70,594.67H394.70M391.70,592.81H394.70M389.70,591.14H394.70M391.70,580.18H394.70M391.70,573.76H394.70M391.70,569.21H394.70M391.70,565.68H394.70M391.70,562.80H394.70M391.70,560.36H394.70M391.70,558.25H394.70M391.70,556.39H394.70M389.70,554.72H394.70M391.70,543.76H394.70M391.70,537.34H394.70M391.70,532.79H394.70M391.70,529.26H394.70M391.70,526.38H394.70M391.70,523.94H394.70M391.70,521.83H394.70M391.70,519.97H394.70M389.70,518.30H394.70" stroke="#000" stroke-width="1.3" fill="none"/>
<path d="M394.70,700.40V705.40M433.74,700.40V705.40M472.79,700.40V705.40M511.83,700.40V705.40M550.87,700.40V705.40M589.91,700.40V705.40M628.96,700.40V705.40M668.00,700.40V705.40" stroke="#000" stroke-width="1.3" fill="none"/>
<text x="387.90" y="521.10" font-size="7.0" text-anchor="end" fill="#111">10</text>
<text x="387.90" y="557.52" font-size="7.9" text-anchor="end" fill="#111">1</text>
<text x="387.90" y="593.94" font-size="7.9" text-anchor="end" fill="#111">0.1</text>
<text x="387.90" y="630.36" font-size="7.9" text-anchor="end" fill="#111">0.01</text>
<text x="387.90" y="666.78" font-size="7.9" text-anchor="end" fill="#111">0.001</text>
<text x="387.90" y="703.20" font-size="7.9" text-anchor="end" fill="#111">0.0001</text>
<text x="394.70" y="714.20" font-size="7.9" text-anchor="middle" fill="#111">0.00</text>
<text x="433.74" y="714.20" font-size="7.9" text-anchor="middle" fill="#111">0.05</text>
<text x="472.79" y="714.20" font-size="7.9" text-anchor="middle" fill="#111">0.10</text>
<text x="511.83" y="714.20" font-size="7.9" text-anchor="middle" fill="#111">0.15</text>
<text x="550.87" y="714.20" font-size="7.9" text-anchor="middle" fill="#111">0.20</text>
<text x="589.91" y="714.20" font-size="7.9" text-anchor="middle" fill="#111">0.25</text>
<text x="628.96" y="714.20" font-size="7.9" text-anchor="middle" fill="#111">0.30</text>
<text x="668.00" y="714.20" font-size="7.9" text-anchor="middle" fill="#111">0.35</text>
<text x="531.35" y="732.80" font-size="10" font-weight="bold" text-anchor="middle">q (Å<tspan font-size="6.5" dy="-4">-1</tspan><tspan dy="4">)</tspan></text>
<g clip-path="url(#clipF)"><text transform="translate(357.90,609.35) rotate(-90)" font-size="10.3" font-weight="bold" text-anchor="middle">I(q) (cm<tspan font-size="6.5" dy="-4.6">-1</tspan><tspan dy="4.6">)</tspan></text></g>
<text x="361.6" y="513.6" font-size="16" font-weight="bold">F)</text>
<circle cx="543.1" cy="538.0" r="1.5" fill="#000"/>
<path d="M537.50,552.90H548.70" stroke="#E69F00" stroke-width="1.6"/>
<path d="M537.50,567.50H548.70" stroke="#0072B2" stroke-width="1.6"/>
<text x="552.3" y="539.7" font-size="10.4" fill="#111">V122P/V123P dimer</text>
<text x="552.3" y="555.7" font-size="10.4" fill="#111">1GRI dimer (χ<tspan font-size="7" dy="-3.5">2</tspan><tspan dy="3.5">=29.5)</tspan></text>
<text x="552.3" y="570.1" font-size="10.4" fill="#111">Model dimer (χ<tspan font-size="7" dy="-3.5">2</tspan><tspan dy="3.5">=6.7)</tspan></text>
</svg></body></html>
